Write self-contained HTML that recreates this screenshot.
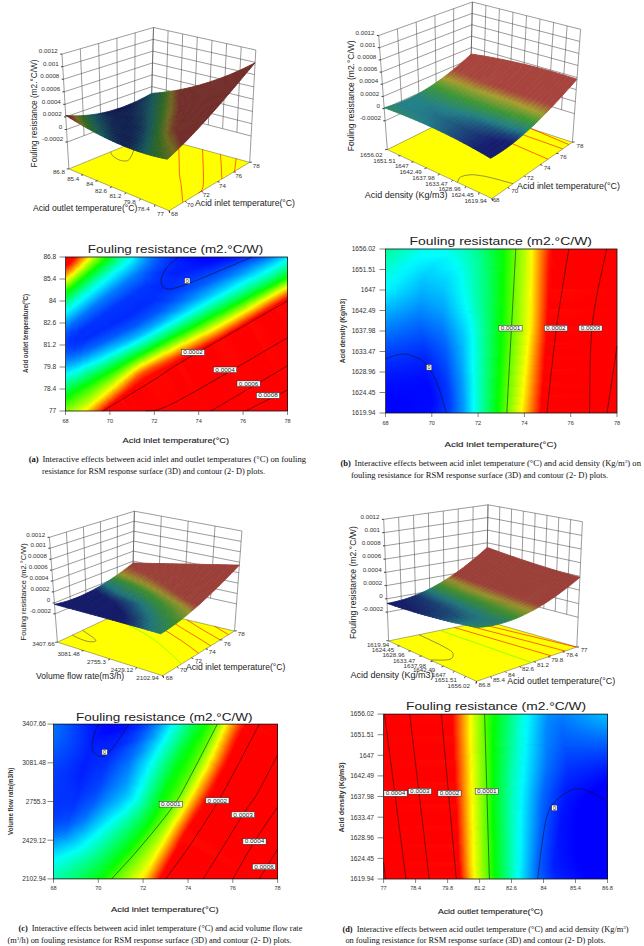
<!DOCTYPE html><html><head><meta charset="utf-8"><style>html,body{margin:0;padding:0;background:#fff;overflow:hidden;width:644px;height:946px;}svg{display:block}</style></head><body><svg width="644" height="946" viewBox="0 0 644 946"><defs><clipPath id="c1"><rect x="66" y="257" width="222" height="154"/></clipPath><linearGradient id="g2"><stop offset="0.000" stop-color="#00dbff"/><stop offset="0.308" stop-color="#00f2ff"/><stop offset="0.462" stop-color="#00fff1"/><stop offset="1.000" stop-color="#00ffa4"/></linearGradient><linearGradient id="g3"><stop offset="0.000" stop-color="#00c1ff"/><stop offset="0.190" stop-color="#00d3ff"/><stop offset="0.381" stop-color="#00fff4"/><stop offset="0.857" stop-color="#00ff6c"/><stop offset="1.000" stop-color="#00ff45"/></linearGradient><linearGradient id="g4"><stop offset="0.000" stop-color="#00a9ff"/><stop offset="0.179" stop-color="#00c4ff"/><stop offset="0.357" stop-color="#00fff8"/><stop offset="0.929" stop-color="#00ff00"/><stop offset="1.000" stop-color="#21ff00"/></linearGradient><linearGradient id="g5"><stop offset="0.000" stop-color="#0097ff"/><stop offset="0.114" stop-color="#00aaff"/><stop offset="0.314" stop-color="#00fffa"/><stop offset="0.629" stop-color="#00ff4d"/><stop offset="0.743" stop-color="#05ff00"/><stop offset="1.000" stop-color="#bbff00"/></linearGradient><linearGradient id="g6"><stop offset="0.000" stop-color="#0083ff"/><stop offset="0.095" stop-color="#0092ff"/><stop offset="0.310" stop-color="#00fffc"/><stop offset="0.571" stop-color="#00ff51"/><stop offset="0.667" stop-color="#01ff00"/><stop offset="0.905" stop-color="#f6ff00"/><stop offset="1.000" stop-color="#ffaf00"/></linearGradient><linearGradient id="g7"><stop offset="0.000" stop-color="#0072ff"/><stop offset="0.100" stop-color="#0087ff"/><stop offset="0.300" stop-color="#00fffc"/><stop offset="0.520" stop-color="#00ff53"/><stop offset="0.600" stop-color="#00ff00"/><stop offset="0.780" stop-color="#f4ff00"/><stop offset="0.840" stop-color="#ffb600"/><stop offset="1.000" stop-color="#ff1300"/></linearGradient><linearGradient id="g8"><stop offset="0.000" stop-color="#0064ff"/><stop offset="0.071" stop-color="#0073ff"/><stop offset="0.286" stop-color="#00fffc"/><stop offset="0.464" stop-color="#00ff66"/><stop offset="0.554" stop-color="#00ff00"/><stop offset="0.714" stop-color="#f6ff00"/><stop offset="0.875" stop-color="#ff1900"/><stop offset="0.911" stop-color="#ff0000"/><stop offset="1.000" stop-color="#ff0000"/></linearGradient><linearGradient id="g9"><stop offset="0.000" stop-color="#0055ff"/><stop offset="0.079" stop-color="#006bff"/><stop offset="0.286" stop-color="#00fffc"/><stop offset="0.444" stop-color="#00ff66"/><stop offset="0.524" stop-color="#01ff00"/><stop offset="0.667" stop-color="#f8ff00"/><stop offset="0.825" stop-color="#ff0000"/><stop offset="1.000" stop-color="#ff0000"/></linearGradient><linearGradient id="g10"><stop offset="0.000" stop-color="#0048ff"/><stop offset="0.070" stop-color="#0059ff"/><stop offset="0.282" stop-color="#00fffb"/><stop offset="0.423" stop-color="#00ff65"/><stop offset="0.493" stop-color="#03ff00"/><stop offset="0.620" stop-color="#f9ff00"/><stop offset="0.761" stop-color="#ff0100"/><stop offset="1.000" stop-color="#ff0000"/></linearGradient><linearGradient id="g11"><stop offset="0.000" stop-color="#003dff"/><stop offset="0.052" stop-color="#004aff"/><stop offset="0.273" stop-color="#00fffa"/><stop offset="0.403" stop-color="#00ff63"/><stop offset="0.468" stop-color="#04ff00"/><stop offset="0.584" stop-color="#f8ff00"/><stop offset="0.714" stop-color="#ff0300"/><stop offset="1.000" stop-color="#ff0000"/></linearGradient><linearGradient id="g12"><stop offset="0.000" stop-color="#0032ff"/><stop offset="0.059" stop-color="#0044ff"/><stop offset="0.247" stop-color="#00ecff"/><stop offset="0.282" stop-color="#00ffec"/><stop offset="0.400" stop-color="#00ff4f"/><stop offset="0.447" stop-color="#06ff00"/><stop offset="0.553" stop-color="#f8ff00"/><stop offset="0.671" stop-color="#ff0600"/><stop offset="1.000" stop-color="#ff0000"/></linearGradient><linearGradient id="g13"><stop offset="0.000" stop-color="#0029ff"/><stop offset="0.054" stop-color="#0037ff"/><stop offset="0.228" stop-color="#00d5ff"/><stop offset="0.272" stop-color="#00fff8"/><stop offset="0.380" stop-color="#00ff60"/><stop offset="0.435" stop-color="#08ff00"/><stop offset="0.533" stop-color="#f7ff00"/><stop offset="0.641" stop-color="#ff0800"/><stop offset="0.826" stop-color="#ff0000"/><stop offset="1.000" stop-color="#ff0000"/></linearGradient><linearGradient id="g14"><stop offset="0.000" stop-color="#0021ff"/><stop offset="0.051" stop-color="#0032ff"/><stop offset="0.214" stop-color="#00caff"/><stop offset="0.265" stop-color="#00fff7"/><stop offset="0.367" stop-color="#00ff5e"/><stop offset="0.418" stop-color="#09ff00"/><stop offset="0.510" stop-color="#f6ff00"/><stop offset="0.602" stop-color="#ff2100"/><stop offset="0.622" stop-color="#ff0000"/><stop offset="1.000" stop-color="#ff0000"/></linearGradient><linearGradient id="g15"><stop offset="0.000" stop-color="#001aff"/><stop offset="0.057" stop-color="#002fff"/><stop offset="0.208" stop-color="#00c0ff"/><stop offset="0.264" stop-color="#00fff6"/><stop offset="0.358" stop-color="#00ff5d"/><stop offset="0.396" stop-color="#00ff0c"/><stop offset="0.415" stop-color="#22ff00"/><stop offset="0.491" stop-color="#f5ff00"/><stop offset="0.538" stop-color="#ff8300"/><stop offset="0.585" stop-color="#ff0d00"/><stop offset="0.604" stop-color="#ff0000"/><stop offset="1.000" stop-color="#ff0000"/></linearGradient><linearGradient id="g16"><stop offset="0.000" stop-color="#0014ff"/><stop offset="0.053" stop-color="#0025ff"/><stop offset="0.195" stop-color="#00abff"/><stop offset="0.257" stop-color="#00fcff"/><stop offset="0.336" stop-color="#00ff7f"/><stop offset="0.389" stop-color="#00ff0a"/><stop offset="0.416" stop-color="#3cff00"/><stop offset="0.478" stop-color="#f4ff00"/><stop offset="0.504" stop-color="#ffb900"/><stop offset="0.566" stop-color="#ff0f00"/><stop offset="0.584" stop-color="#ff0000"/><stop offset="1.000" stop-color="#ff0000"/></linearGradient><linearGradient id="g17"><stop offset="0.000" stop-color="#000fff"/><stop offset="0.050" stop-color="#0022ff"/><stop offset="0.183" stop-color="#00a2ff"/><stop offset="0.250" stop-color="#00fdff"/><stop offset="0.333" stop-color="#00ff6c"/><stop offset="0.375" stop-color="#00ff09"/><stop offset="0.400" stop-color="#3dff00"/><stop offset="0.458" stop-color="#f3ff00"/><stop offset="0.483" stop-color="#ffbb00"/><stop offset="0.542" stop-color="#ff1100"/><stop offset="0.550" stop-color="#ff0000"/><stop offset="1.000" stop-color="#ff0000"/></linearGradient><linearGradient id="g18"><stop offset="0.000" stop-color="#000aff"/><stop offset="0.055" stop-color="#0020ff"/><stop offset="0.181" stop-color="#0099ff"/><stop offset="0.252" stop-color="#00fdff"/><stop offset="0.331" stop-color="#00ff6a"/><stop offset="0.370" stop-color="#00ff07"/><stop offset="0.409" stop-color="#6fff00"/><stop offset="0.449" stop-color="#f2ff00"/><stop offset="0.465" stop-color="#ffd700"/><stop offset="0.535" stop-color="#ff0000"/><stop offset="1.000" stop-color="#ff0000"/></linearGradient><linearGradient id="g19"><stop offset="0.000" stop-color="#0005ff"/><stop offset="0.052" stop-color="#0018ff"/><stop offset="0.172" stop-color="#0088ff"/><stop offset="0.254" stop-color="#00feff"/><stop offset="0.328" stop-color="#00ff69"/><stop offset="0.366" stop-color="#00ff06"/><stop offset="0.418" stop-color="#a3ff00"/><stop offset="0.440" stop-color="#f1ff00"/><stop offset="0.455" stop-color="#ffd900"/><stop offset="0.522" stop-color="#ff0000"/><stop offset="1.000" stop-color="#ff0000"/></linearGradient><linearGradient id="g20"><stop offset="0.000" stop-color="#0000ff"/><stop offset="0.057" stop-color="#001bff"/><stop offset="0.170" stop-color="#0089ff"/><stop offset="0.248" stop-color="#00ffff"/><stop offset="0.319" stop-color="#00ff67"/><stop offset="0.355" stop-color="#00ff04"/><stop offset="0.418" stop-color="#d6ff00"/><stop offset="0.433" stop-color="#fff400"/><stop offset="0.504" stop-color="#ff0100"/><stop offset="1.000" stop-color="#ff0000"/></linearGradient><linearGradient id="g21"><stop offset="0.000" stop-color="#0000ff"/><stop offset="0.047" stop-color="#000eff"/><stop offset="0.162" stop-color="#0078ff"/><stop offset="0.250" stop-color="#00ffff"/><stop offset="0.318" stop-color="#00ff66"/><stop offset="0.351" stop-color="#00ff03"/><stop offset="0.419" stop-color="#efff00"/><stop offset="0.426" stop-color="#fff500"/><stop offset="0.493" stop-color="#ff0300"/><stop offset="1.000" stop-color="#ff0000"/></linearGradient><linearGradient id="g22"><stop offset="0.000" stop-color="#0000ff"/><stop offset="0.051" stop-color="#000cff"/><stop offset="0.167" stop-color="#0079ff"/><stop offset="0.250" stop-color="#00fffe"/><stop offset="0.314" stop-color="#00ff64"/><stop offset="0.346" stop-color="#00ff01"/><stop offset="0.417" stop-color="#fff700"/><stop offset="0.481" stop-color="#ff0500"/><stop offset="1.000" stop-color="#ff0000"/></linearGradient><linearGradient id="g23"><stop offset="0.000" stop-color="#0000ff"/><stop offset="0.049" stop-color="#000bff"/><stop offset="0.160" stop-color="#0072ff"/><stop offset="0.241" stop-color="#00f4ff"/><stop offset="0.259" stop-color="#00ffe3"/><stop offset="0.321" stop-color="#00ff3d"/><stop offset="0.340" stop-color="#00ff00"/><stop offset="0.407" stop-color="#fff800"/><stop offset="0.469" stop-color="#ff0700"/><stop offset="1.000" stop-color="#ff0000"/></linearGradient><linearGradient id="g24"><stop offset="0.000" stop-color="#0000ff"/><stop offset="0.053" stop-color="#000aff"/><stop offset="0.160" stop-color="#006bff"/><stop offset="0.237" stop-color="#00e8ff"/><stop offset="0.249" stop-color="#00fffd"/><stop offset="0.314" stop-color="#00ff4e"/><stop offset="0.337" stop-color="#02ff00"/><stop offset="0.402" stop-color="#fff900"/><stop offset="0.462" stop-color="#ff0900"/><stop offset="0.503" stop-color="#ff0000"/><stop offset="1.000" stop-color="#ff0000"/></linearGradient><linearGradient id="g25"><stop offset="0.000" stop-color="#0000ff"/><stop offset="0.056" stop-color="#000aff"/><stop offset="0.158" stop-color="#0065ff"/><stop offset="0.232" stop-color="#00dcff"/><stop offset="0.249" stop-color="#00fffc"/><stop offset="0.311" stop-color="#00ff4d"/><stop offset="0.333" stop-color="#03ff00"/><stop offset="0.395" stop-color="#fffb00"/><stop offset="0.452" stop-color="#ff0b00"/><stop offset="0.469" stop-color="#ff0000"/><stop offset="1.000" stop-color="#ff0000"/></linearGradient><linearGradient id="g26"><stop offset="0.000" stop-color="#0000ff"/><stop offset="0.061" stop-color="#000eff"/><stop offset="0.160" stop-color="#0066ff"/><stop offset="0.232" stop-color="#00ddff"/><stop offset="0.249" stop-color="#00fffc"/><stop offset="0.309" stop-color="#00ff4b"/><stop offset="0.331" stop-color="#05ff00"/><stop offset="0.392" stop-color="#fffc00"/><stop offset="0.448" stop-color="#ff0d00"/><stop offset="0.459" stop-color="#ff0000"/><stop offset="1.000" stop-color="#ff0000"/></linearGradient><linearGradient id="g27"><stop offset="0.000" stop-color="#0000ff"/><stop offset="0.060" stop-color="#000cff"/><stop offset="0.164" stop-color="#0061ff"/><stop offset="0.235" stop-color="#00d2ff"/><stop offset="0.257" stop-color="#00fffb"/><stop offset="0.317" stop-color="#00ff49"/><stop offset="0.339" stop-color="#06ff00"/><stop offset="0.399" stop-color="#fffd00"/><stop offset="0.459" stop-color="#ff0000"/><stop offset="1.000" stop-color="#ff0000"/></linearGradient><linearGradient id="g28"><stop offset="0.000" stop-color="#0000ff"/><stop offset="0.071" stop-color="#0010ff"/><stop offset="0.175" stop-color="#0062ff"/><stop offset="0.240" stop-color="#00c7ff"/><stop offset="0.268" stop-color="#00fffa"/><stop offset="0.328" stop-color="#00ff48"/><stop offset="0.350" stop-color="#07ff00"/><stop offset="0.410" stop-color="#fffe00"/><stop offset="0.470" stop-color="#ff0000"/><stop offset="1.000" stop-color="#ff0000"/></linearGradient><linearGradient id="g29"><stop offset="0.000" stop-color="#0000ff"/><stop offset="0.087" stop-color="#001aff"/><stop offset="0.186" stop-color="#0069ff"/><stop offset="0.251" stop-color="#00d2ff"/><stop offset="0.273" stop-color="#00fffa"/><stop offset="0.333" stop-color="#00ff47"/><stop offset="0.355" stop-color="#09ff00"/><stop offset="0.415" stop-color="#feff00"/><stop offset="0.475" stop-color="#ff0000"/><stop offset="1.000" stop-color="#ff0000"/></linearGradient><linearGradient id="g30"><stop offset="0.000" stop-color="#0005ff"/><stop offset="0.087" stop-color="#0018ff"/><stop offset="0.186" stop-color="#005dff"/><stop offset="0.251" stop-color="#00bcff"/><stop offset="0.284" stop-color="#00fffa"/><stop offset="0.344" stop-color="#00ff45"/><stop offset="0.366" stop-color="#0aff00"/><stop offset="0.426" stop-color="#fdff00"/><stop offset="0.486" stop-color="#ff0000"/><stop offset="1.000" stop-color="#ff0000"/></linearGradient><linearGradient id="g31"><stop offset="0.000" stop-color="#000bff"/><stop offset="0.093" stop-color="#0019ff"/><stop offset="0.197" stop-color="#005dff"/><stop offset="0.262" stop-color="#00bcff"/><stop offset="0.295" stop-color="#00fffa"/><stop offset="0.355" stop-color="#00ff44"/><stop offset="0.372" stop-color="#00ff09"/><stop offset="0.393" stop-color="#4aff00"/><stop offset="0.437" stop-color="#fdff00"/><stop offset="0.497" stop-color="#ff0100"/><stop offset="1.000" stop-color="#ff0000"/></linearGradient><linearGradient id="g32"><stop offset="0.000" stop-color="#0010ff"/><stop offset="0.098" stop-color="#001cff"/><stop offset="0.197" stop-color="#0058ff"/><stop offset="0.262" stop-color="#00b2ff"/><stop offset="0.301" stop-color="#00fffa"/><stop offset="0.361" stop-color="#00ff43"/><stop offset="0.377" stop-color="#00ff08"/><stop offset="0.415" stop-color="#8cff00"/><stop offset="0.443" stop-color="#fcff00"/><stop offset="0.503" stop-color="#ff0300"/><stop offset="1.000" stop-color="#ff0000"/></linearGradient><linearGradient id="g33"><stop offset="0.000" stop-color="#0017ff"/><stop offset="0.104" stop-color="#001cff"/><stop offset="0.208" stop-color="#0057ff"/><stop offset="0.273" stop-color="#00b1ff"/><stop offset="0.311" stop-color="#00fffa"/><stop offset="0.372" stop-color="#00ff42"/><stop offset="0.388" stop-color="#00ff07"/><stop offset="0.443" stop-color="#cfff00"/><stop offset="0.454" stop-color="#fdff00"/><stop offset="0.514" stop-color="#ff0400"/><stop offset="1.000" stop-color="#ff0000"/></linearGradient><linearGradient id="g34"><stop offset="0.000" stop-color="#0020ff"/><stop offset="0.109" stop-color="#001cff"/><stop offset="0.213" stop-color="#0052ff"/><stop offset="0.279" stop-color="#00a7ff"/><stop offset="0.322" stop-color="#00fffa"/><stop offset="0.383" stop-color="#00ff41"/><stop offset="0.399" stop-color="#00ff06"/><stop offset="0.464" stop-color="#feff00"/><stop offset="0.525" stop-color="#ff0500"/><stop offset="1.000" stop-color="#ff0000"/></linearGradient><linearGradient id="g35"><stop offset="0.000" stop-color="#0028ff"/><stop offset="0.109" stop-color="#001dff"/><stop offset="0.213" stop-color="#004cff"/><stop offset="0.279" stop-color="#009cff"/><stop offset="0.328" stop-color="#00fffa"/><stop offset="0.388" stop-color="#00ff40"/><stop offset="0.404" stop-color="#00ff05"/><stop offset="0.470" stop-color="#ffff00"/><stop offset="0.530" stop-color="#ff0500"/><stop offset="1.000" stop-color="#ff0000"/></linearGradient><linearGradient id="g36"><stop offset="0.000" stop-color="#0033ff"/><stop offset="0.115" stop-color="#001eff"/><stop offset="0.213" stop-color="#0043ff"/><stop offset="0.284" stop-color="#0092ff"/><stop offset="0.339" stop-color="#00fffb"/><stop offset="0.399" stop-color="#00ff3f"/><stop offset="0.415" stop-color="#00ff04"/><stop offset="0.481" stop-color="#fffc00"/><stop offset="0.541" stop-color="#ff0400"/><stop offset="1.000" stop-color="#ff0000"/></linearGradient><linearGradient id="g37"><stop offset="0.000" stop-color="#003fff"/><stop offset="0.120" stop-color="#001fff"/><stop offset="0.219" stop-color="#003eff"/><stop offset="0.290" stop-color="#0089ff"/><stop offset="0.350" stop-color="#00fffb"/><stop offset="0.410" stop-color="#00ff3f"/><stop offset="0.426" stop-color="#00ff02"/><stop offset="0.492" stop-color="#fffa00"/><stop offset="0.552" stop-color="#ff0300"/><stop offset="1.000" stop-color="#ff0000"/></linearGradient><linearGradient id="g38"><stop offset="0.000" stop-color="#004aff"/><stop offset="0.115" stop-color="#0021ff"/><stop offset="0.213" stop-color="#0037ff"/><stop offset="0.284" stop-color="#0078ff"/><stop offset="0.344" stop-color="#00e7ff"/><stop offset="0.355" stop-color="#00fffc"/><stop offset="0.415" stop-color="#00ff3e"/><stop offset="0.432" stop-color="#00ff01"/><stop offset="0.497" stop-color="#fff700"/><stop offset="0.557" stop-color="#ff0100"/><stop offset="1.000" stop-color="#ff0000"/></linearGradient><linearGradient id="g39"><stop offset="0.000" stop-color="#0059ff"/><stop offset="0.120" stop-color="#0024ff"/><stop offset="0.219" stop-color="#0034ff"/><stop offset="0.290" stop-color="#006fff"/><stop offset="0.350" stop-color="#00d9ff"/><stop offset="0.366" stop-color="#00fffc"/><stop offset="0.426" stop-color="#00ff3d"/><stop offset="0.443" stop-color="#00ff00"/><stop offset="0.503" stop-color="#f3ff00"/><stop offset="0.519" stop-color="#ffc500"/><stop offset="0.568" stop-color="#ff0000"/><stop offset="1.000" stop-color="#ff0000"/></linearGradient><linearGradient id="g40"><stop offset="0.000" stop-color="#0068ff"/><stop offset="0.115" stop-color="#0029ff"/><stop offset="0.214" stop-color="#002eff"/><stop offset="0.291" stop-color="#0067ff"/><stop offset="0.352" stop-color="#00ccff"/><stop offset="0.374" stop-color="#00fffd"/><stop offset="0.434" stop-color="#00ff3c"/><stop offset="0.451" stop-color="#02ff00"/><stop offset="0.511" stop-color="#f7ff00"/><stop offset="0.577" stop-color="#ff0000"/><stop offset="1.000" stop-color="#ff0000"/></linearGradient><linearGradient id="g41"><stop offset="0.000" stop-color="#007bff"/><stop offset="0.120" stop-color="#002dff"/><stop offset="0.219" stop-color="#002cff"/><stop offset="0.295" stop-color="#0060ff"/><stop offset="0.355" stop-color="#00bfff"/><stop offset="0.383" stop-color="#00fffd"/><stop offset="0.443" stop-color="#00ff3b"/><stop offset="0.459" stop-color="#03ff00"/><stop offset="0.519" stop-color="#faff00"/><stop offset="0.585" stop-color="#ff0000"/><stop offset="1.000" stop-color="#ff0000"/></linearGradient><linearGradient id="g42"><stop offset="0.000" stop-color="#0091ff"/><stop offset="0.120" stop-color="#0034ff"/><stop offset="0.213" stop-color="#0028ff"/><stop offset="0.290" stop-color="#004eff"/><stop offset="0.350" stop-color="#009eff"/><stop offset="0.393" stop-color="#00fffe"/><stop offset="0.454" stop-color="#00ff3a"/><stop offset="0.470" stop-color="#05ff00"/><stop offset="0.530" stop-color="#fdff00"/><stop offset="0.590" stop-color="#ff0f00"/><stop offset="0.601" stop-color="#ff0000"/><stop offset="1.000" stop-color="#ff0000"/></linearGradient><linearGradient id="g43"><stop offset="0.000" stop-color="#00a6ff"/><stop offset="0.115" stop-color="#003eff"/><stop offset="0.209" stop-color="#0027ff"/><stop offset="0.291" stop-color="#0048ff"/><stop offset="0.352" stop-color="#0093ff"/><stop offset="0.401" stop-color="#00fffe"/><stop offset="0.462" stop-color="#00ff39"/><stop offset="0.478" stop-color="#06ff00"/><stop offset="0.538" stop-color="#fffe00"/><stop offset="0.593" stop-color="#ff2000"/><stop offset="0.604" stop-color="#ff0000"/><stop offset="1.000" stop-color="#ff0000"/></linearGradient><linearGradient id="g44"><stop offset="0.000" stop-color="#00c1ff"/><stop offset="0.120" stop-color="#0045ff"/><stop offset="0.213" stop-color="#0027ff"/><stop offset="0.295" stop-color="#0043ff"/><stop offset="0.355" stop-color="#0089ff"/><stop offset="0.410" stop-color="#00ffff"/><stop offset="0.470" stop-color="#00ff38"/><stop offset="0.486" stop-color="#07ff00"/><stop offset="0.546" stop-color="#fffa00"/><stop offset="0.601" stop-color="#ff1e00"/><stop offset="0.612" stop-color="#ff0000"/><stop offset="1.000" stop-color="#ff0000"/></linearGradient><linearGradient id="g45"><stop offset="0.000" stop-color="#00ddff"/><stop offset="0.038" stop-color="#00b2ff"/><stop offset="0.120" stop-color="#0052ff"/><stop offset="0.208" stop-color="#0028ff"/><stop offset="0.295" stop-color="#003aff"/><stop offset="0.361" stop-color="#007fff"/><stop offset="0.415" stop-color="#00f0ff"/><stop offset="0.426" stop-color="#00fff0"/><stop offset="0.486" stop-color="#00ff22"/><stop offset="0.497" stop-color="#09ff00"/><stop offset="0.557" stop-color="#fff700"/><stop offset="0.607" stop-color="#ff2e00"/><stop offset="0.623" stop-color="#ff0000"/><stop offset="1.000" stop-color="#ff0000"/></linearGradient><linearGradient id="g46"><stop offset="0.000" stop-color="#00f6ff"/><stop offset="0.033" stop-color="#00ceff"/><stop offset="0.115" stop-color="#0060ff"/><stop offset="0.203" stop-color="#002bff"/><stop offset="0.291" stop-color="#0033ff"/><stop offset="0.357" stop-color="#006eff"/><stop offset="0.412" stop-color="#00d4ff"/><stop offset="0.429" stop-color="#00feff"/><stop offset="0.484" stop-color="#00ff4b"/><stop offset="0.505" stop-color="#0aff00"/><stop offset="0.560" stop-color="#f2ff00"/><stop offset="0.571" stop-color="#ffdc00"/><stop offset="0.615" stop-color="#ff2c00"/><stop offset="0.632" stop-color="#ff0000"/><stop offset="1.000" stop-color="#ff0000"/></linearGradient><linearGradient id="g47"><stop offset="0.000" stop-color="#00ffea"/><stop offset="0.027" stop-color="#00f6ff"/><stop offset="0.109" stop-color="#0077ff"/><stop offset="0.191" stop-color="#0034ff"/><stop offset="0.279" stop-color="#002bff"/><stop offset="0.350" stop-color="#0058ff"/><stop offset="0.404" stop-color="#00aeff"/><stop offset="0.437" stop-color="#00feff"/><stop offset="0.492" stop-color="#00ff4b"/><stop offset="0.508" stop-color="#00ff0a"/><stop offset="0.525" stop-color="#39ff00"/><stop offset="0.568" stop-color="#f6ff00"/><stop offset="0.601" stop-color="#ff7a00"/><stop offset="0.634" stop-color="#ff0900"/><stop offset="0.694" stop-color="#ff0000"/><stop offset="1.000" stop-color="#ff0000"/></linearGradient><linearGradient id="g48"><stop offset="0.000" stop-color="#00ffcb"/><stop offset="0.027" stop-color="#00ffe9"/><stop offset="0.044" stop-color="#00f6ff"/><stop offset="0.126" stop-color="#0075ff"/><stop offset="0.208" stop-color="#0034ff"/><stop offset="0.295" stop-color="#002cff"/><stop offset="0.361" stop-color="#0057ff"/><stop offset="0.415" stop-color="#00adff"/><stop offset="0.448" stop-color="#00fdff"/><stop offset="0.497" stop-color="#00ff5e"/><stop offset="0.519" stop-color="#00ff09"/><stop offset="0.546" stop-color="#69ff00"/><stop offset="0.579" stop-color="#f9ff00"/><stop offset="0.634" stop-color="#ff2800"/><stop offset="0.650" stop-color="#ff0000"/><stop offset="1.000" stop-color="#ff0000"/></linearGradient><linearGradient id="g49"><stop offset="0.000" stop-color="#00ffaf"/><stop offset="0.022" stop-color="#00ffc7"/><stop offset="0.049" stop-color="#00feff"/><stop offset="0.132" stop-color="#0079ff"/><stop offset="0.214" stop-color="#0035ff"/><stop offset="0.302" stop-color="#002bff"/><stop offset="0.368" stop-color="#0056ff"/><stop offset="0.423" stop-color="#00acff"/><stop offset="0.456" stop-color="#00fcff"/><stop offset="0.505" stop-color="#00ff5e"/><stop offset="0.527" stop-color="#00ff08"/><stop offset="0.571" stop-color="#b3ff00"/><stop offset="0.588" stop-color="#fcff00"/><stop offset="0.637" stop-color="#ff3700"/><stop offset="0.659" stop-color="#ff0000"/><stop offset="1.000" stop-color="#ff0000"/></linearGradient><linearGradient id="g50"><stop offset="0.000" stop-color="#00ff8b"/><stop offset="0.027" stop-color="#00ffb0"/><stop offset="0.066" stop-color="#00fbff"/><stop offset="0.142" stop-color="#007dff"/><stop offset="0.224" stop-color="#0036ff"/><stop offset="0.311" stop-color="#002bff"/><stop offset="0.377" stop-color="#0055ff"/><stop offset="0.432" stop-color="#00abff"/><stop offset="0.464" stop-color="#00fcff"/><stop offset="0.514" stop-color="#00ff5d"/><stop offset="0.536" stop-color="#00ff07"/><stop offset="0.596" stop-color="#fffe00"/><stop offset="0.639" stop-color="#ff4700"/><stop offset="0.661" stop-color="#ff0600"/><stop offset="1.000" stop-color="#ff0000"/></linearGradient><linearGradient id="g51"><stop offset="0.000" stop-color="#00ff65"/><stop offset="0.027" stop-color="#00ff8a"/><stop offset="0.077" stop-color="#00fffc"/><stop offset="0.158" stop-color="#0079ff"/><stop offset="0.240" stop-color="#0034ff"/><stop offset="0.328" stop-color="#002cff"/><stop offset="0.393" stop-color="#005aff"/><stop offset="0.448" stop-color="#00b6ff"/><stop offset="0.475" stop-color="#00fbff"/><stop offset="0.519" stop-color="#00ff71"/><stop offset="0.546" stop-color="#00ff05"/><stop offset="0.607" stop-color="#fffb00"/><stop offset="0.650" stop-color="#ff4400"/><stop offset="0.672" stop-color="#ff0500"/><stop offset="1.000" stop-color="#ff0000"/></linearGradient><linearGradient id="g52"><stop offset="0.000" stop-color="#00ff43"/><stop offset="0.022" stop-color="#00ff61"/><stop offset="0.087" stop-color="#00fdff"/><stop offset="0.158" stop-color="#0083ff"/><stop offset="0.235" stop-color="#003bff"/><stop offset="0.322" stop-color="#0029ff"/><stop offset="0.388" stop-color="#004dff"/><stop offset="0.443" stop-color="#009eff"/><stop offset="0.481" stop-color="#00fbff"/><stop offset="0.525" stop-color="#00ff71"/><stop offset="0.552" stop-color="#00ff04"/><stop offset="0.612" stop-color="#fff800"/><stop offset="0.656" stop-color="#ff4100"/><stop offset="0.683" stop-color="#ff0000"/><stop offset="1.000" stop-color="#ff0000"/></linearGradient><linearGradient id="g53"><stop offset="0.000" stop-color="#00ff18"/><stop offset="0.022" stop-color="#00ff34"/><stop offset="0.098" stop-color="#00fffa"/><stop offset="0.180" stop-color="#0078ff"/><stop offset="0.257" stop-color="#0036ff"/><stop offset="0.339" stop-color="#0029ff"/><stop offset="0.404" stop-color="#0052ff"/><stop offset="0.459" stop-color="#00a9ff"/><stop offset="0.492" stop-color="#00faff"/><stop offset="0.536" stop-color="#00ff70"/><stop offset="0.563" stop-color="#00ff02"/><stop offset="0.617" stop-color="#f1ff00"/><stop offset="0.628" stop-color="#ffdb00"/><stop offset="0.667" stop-color="#ff3e00"/><stop offset="0.694" stop-color="#ff0000"/><stop offset="1.000" stop-color="#ff0000"/></linearGradient><linearGradient id="g54"><stop offset="0.000" stop-color="#15ff00"/><stop offset="0.022" stop-color="#00ff06"/><stop offset="0.109" stop-color="#00fff4"/><stop offset="0.126" stop-color="#00e7ff"/><stop offset="0.197" stop-color="#0074ff"/><stop offset="0.273" stop-color="#0034ff"/><stop offset="0.355" stop-color="#002aff"/><stop offset="0.421" stop-color="#0057ff"/><stop offset="0.475" stop-color="#00b4ff"/><stop offset="0.503" stop-color="#00faff"/><stop offset="0.541" stop-color="#00ff85"/><stop offset="0.574" stop-color="#00ff01"/><stop offset="0.628" stop-color="#f4ff00"/><stop offset="0.645" stop-color="#ffbe00"/><stop offset="0.678" stop-color="#ff3c00"/><stop offset="0.705" stop-color="#ff0000"/><stop offset="1.000" stop-color="#ff0000"/></linearGradient><linearGradient id="g55"><stop offset="0.000" stop-color="#3dff00"/><stop offset="0.022" stop-color="#1bff00"/><stop offset="0.033" stop-color="#00ff07"/><stop offset="0.109" stop-color="#00ffe0"/><stop offset="0.126" stop-color="#00f8ff"/><stop offset="0.197" stop-color="#007dff"/><stop offset="0.273" stop-color="#0037ff"/><stop offset="0.355" stop-color="#0029ff"/><stop offset="0.421" stop-color="#0051ff"/><stop offset="0.475" stop-color="#00a7ff"/><stop offset="0.508" stop-color="#00f9ff"/><stop offset="0.546" stop-color="#00ff84"/><stop offset="0.579" stop-color="#01ff00"/><stop offset="0.634" stop-color="#f8ff00"/><stop offset="0.683" stop-color="#ff3a00"/><stop offset="0.710" stop-color="#ff0000"/><stop offset="1.000" stop-color="#ff0000"/></linearGradient><linearGradient id="g56"><stop offset="0.000" stop-color="#6fff00"/><stop offset="0.022" stop-color="#4eff00"/><stop offset="0.044" stop-color="#06ff00"/><stop offset="0.131" stop-color="#00fff3"/><stop offset="0.148" stop-color="#00e6ff"/><stop offset="0.219" stop-color="#0072ff"/><stop offset="0.295" stop-color="#0032ff"/><stop offset="0.377" stop-color="#002bff"/><stop offset="0.443" stop-color="#005dff"/><stop offset="0.497" stop-color="#00c0ff"/><stop offset="0.519" stop-color="#00faff"/><stop offset="0.557" stop-color="#00ff83"/><stop offset="0.590" stop-color="#02ff00"/><stop offset="0.645" stop-color="#fbff00"/><stop offset="0.689" stop-color="#ff4800"/><stop offset="0.716" stop-color="#ff0500"/><stop offset="1.000" stop-color="#ff0000"/></linearGradient><linearGradient id="g57"><stop offset="0.000" stop-color="#a5ff00"/><stop offset="0.022" stop-color="#85ff00"/><stop offset="0.060" stop-color="#02ff00"/><stop offset="0.131" stop-color="#00ffd2"/><stop offset="0.153" stop-color="#00f8ff"/><stop offset="0.224" stop-color="#007cff"/><stop offset="0.301" stop-color="#0035ff"/><stop offset="0.383" stop-color="#0029ff"/><stop offset="0.448" stop-color="#0056ff"/><stop offset="0.503" stop-color="#00b3ff"/><stop offset="0.530" stop-color="#00faff"/><stop offset="0.568" stop-color="#00ff82"/><stop offset="0.601" stop-color="#04ff00"/><stop offset="0.656" stop-color="#ffff00"/><stop offset="0.694" stop-color="#ff5800"/><stop offset="0.727" stop-color="#ff0500"/><stop offset="1.000" stop-color="#ff0000"/></linearGradient><linearGradient id="g58"><stop offset="0.000" stop-color="#d6ff00"/><stop offset="0.022" stop-color="#adff00"/><stop offset="0.071" stop-color="#00ff05"/><stop offset="0.137" stop-color="#00ffcb"/><stop offset="0.158" stop-color="#00feff"/><stop offset="0.230" stop-color="#007eff"/><stop offset="0.306" stop-color="#0036ff"/><stop offset="0.388" stop-color="#0029ff"/><stop offset="0.454" stop-color="#0057ff"/><stop offset="0.508" stop-color="#00b4ff"/><stop offset="0.536" stop-color="#00fbff"/><stop offset="0.579" stop-color="#00ff6c"/><stop offset="0.607" stop-color="#06ff00"/><stop offset="0.661" stop-color="#fffc00"/><stop offset="0.699" stop-color="#ff5500"/><stop offset="0.732" stop-color="#ff0500"/><stop offset="1.000" stop-color="#ff0000"/></linearGradient><linearGradient id="g59"><stop offset="0.000" stop-color="#ffed00"/><stop offset="0.016" stop-color="#f9ff00"/><stop offset="0.082" stop-color="#07ff00"/><stop offset="0.158" stop-color="#00ffe0"/><stop offset="0.175" stop-color="#00f8ff"/><stop offset="0.246" stop-color="#007aff"/><stop offset="0.322" stop-color="#0034ff"/><stop offset="0.399" stop-color="#0029ff"/><stop offset="0.464" stop-color="#0057ff"/><stop offset="0.519" stop-color="#00b5ff"/><stop offset="0.546" stop-color="#00fcff"/><stop offset="0.590" stop-color="#00ff6a"/><stop offset="0.617" stop-color="#08ff00"/><stop offset="0.672" stop-color="#fff900"/><stop offset="0.710" stop-color="#ff5200"/><stop offset="0.743" stop-color="#ff0500"/><stop offset="1.000" stop-color="#ff0000"/></linearGradient><linearGradient id="g60"><stop offset="0.000" stop-color="#ffb100"/><stop offset="0.022" stop-color="#ffd400"/><stop offset="0.033" stop-color="#fffd00"/><stop offset="0.098" stop-color="#00ff00"/><stop offset="0.158" stop-color="#00ffbd"/><stop offset="0.186" stop-color="#00feff"/><stop offset="0.257" stop-color="#007dff"/><stop offset="0.328" stop-color="#0038ff"/><stop offset="0.404" stop-color="#0028ff"/><stop offset="0.470" stop-color="#0052ff"/><stop offset="0.525" stop-color="#00abff"/><stop offset="0.557" stop-color="#00feff"/><stop offset="0.607" stop-color="#00ff53"/><stop offset="0.628" stop-color="#09ff00"/><stop offset="0.683" stop-color="#fff600"/><stop offset="0.721" stop-color="#ff5000"/><stop offset="0.754" stop-color="#ff0500"/><stop offset="1.000" stop-color="#ff0000"/></linearGradient><linearGradient id="g61"><stop offset="0.000" stop-color="#ff7c00"/><stop offset="0.022" stop-color="#ffa700"/><stop offset="0.044" stop-color="#fffd00"/><stop offset="0.104" stop-color="#0cff00"/><stop offset="0.120" stop-color="#00ff30"/><stop offset="0.180" stop-color="#00ffe0"/><stop offset="0.197" stop-color="#00f7ff"/><stop offset="0.268" stop-color="#0079ff"/><stop offset="0.339" stop-color="#0035ff"/><stop offset="0.415" stop-color="#0029ff"/><stop offset="0.475" stop-color="#0053ff"/><stop offset="0.530" stop-color="#00adff"/><stop offset="0.563" stop-color="#00fffd"/><stop offset="0.617" stop-color="#00ff3b"/><stop offset="0.634" stop-color="#0bff00"/><stop offset="0.683" stop-color="#efff00"/><stop offset="0.689" stop-color="#fff500"/><stop offset="0.727" stop-color="#ff4f00"/><stop offset="0.760" stop-color="#ff0600"/><stop offset="1.000" stop-color="#ff0000"/></linearGradient><linearGradient id="g62"><stop offset="0.000" stop-color="#ff3f00"/><stop offset="0.022" stop-color="#ff6500"/><stop offset="0.060" stop-color="#fffe00"/><stop offset="0.120" stop-color="#03ff00"/><stop offset="0.180" stop-color="#00ffbd"/><stop offset="0.208" stop-color="#00feff"/><stop offset="0.279" stop-color="#007cff"/><stop offset="0.350" stop-color="#0036ff"/><stop offset="0.426" stop-color="#002aff"/><stop offset="0.486" stop-color="#0054ff"/><stop offset="0.541" stop-color="#00b0ff"/><stop offset="0.574" stop-color="#00fffa"/><stop offset="0.628" stop-color="#00ff39"/><stop offset="0.645" stop-color="#0bff00"/><stop offset="0.694" stop-color="#eeff00"/><stop offset="0.699" stop-color="#fff600"/><stop offset="0.738" stop-color="#ff4f00"/><stop offset="0.770" stop-color="#ff0700"/><stop offset="1.000" stop-color="#ff0000"/></linearGradient><linearGradient id="g63"><stop offset="0.000" stop-color="#ff0500"/><stop offset="0.022" stop-color="#ff2500"/><stop offset="0.077" stop-color="#fdff00"/><stop offset="0.131" stop-color="#10ff00"/><stop offset="0.137" stop-color="#00ff05"/><stop offset="0.191" stop-color="#00ffb5"/><stop offset="0.224" stop-color="#00f7ff"/><stop offset="0.295" stop-color="#0077ff"/><stop offset="0.366" stop-color="#0034ff"/><stop offset="0.437" stop-color="#002aff"/><stop offset="0.497" stop-color="#0056ff"/><stop offset="0.552" stop-color="#00b2ff"/><stop offset="0.585" stop-color="#00fff7"/><stop offset="0.639" stop-color="#00ff38"/><stop offset="0.656" stop-color="#0cff00"/><stop offset="0.710" stop-color="#fff900"/><stop offset="0.749" stop-color="#ff5200"/><stop offset="0.781" stop-color="#ff0800"/><stop offset="0.934" stop-color="#ff0000"/><stop offset="1.000" stop-color="#ff0000"/></linearGradient><linearGradient id="g64"><stop offset="0.000" stop-color="#ff0000"/><stop offset="0.022" stop-color="#ff0000"/><stop offset="0.055" stop-color="#ff7300"/><stop offset="0.087" stop-color="#f8ff00"/><stop offset="0.142" stop-color="#08ff00"/><stop offset="0.208" stop-color="#00ffcb"/><stop offset="0.230" stop-color="#00feff"/><stop offset="0.301" stop-color="#007aff"/><stop offset="0.372" stop-color="#0034ff"/><stop offset="0.443" stop-color="#002aff"/><stop offset="0.503" stop-color="#0057ff"/><stop offset="0.557" stop-color="#00b5ff"/><stop offset="0.585" stop-color="#00faff"/><stop offset="0.628" stop-color="#00ff76"/><stop offset="0.656" stop-color="#00ff0b"/><stop offset="0.667" stop-color="#22ff00"/><stop offset="0.716" stop-color="#ffff00"/><stop offset="0.754" stop-color="#ff5800"/><stop offset="0.787" stop-color="#ff0b00"/><stop offset="0.820" stop-color="#ff0000"/><stop offset="1.000" stop-color="#ff0000"/></linearGradient><linearGradient id="g65"><stop offset="0.000" stop-color="#ff0000"/><stop offset="0.044" stop-color="#ff0900"/><stop offset="0.087" stop-color="#ffbf00"/><stop offset="0.098" stop-color="#fff200"/><stop offset="0.109" stop-color="#d8ff00"/><stop offset="0.158" stop-color="#00ff01"/><stop offset="0.213" stop-color="#00ffb4"/><stop offset="0.246" stop-color="#00f8ff"/><stop offset="0.317" stop-color="#0076ff"/><stop offset="0.388" stop-color="#0032ff"/><stop offset="0.459" stop-color="#002dff"/><stop offset="0.519" stop-color="#0060ff"/><stop offset="0.574" stop-color="#00c5ff"/><stop offset="0.596" stop-color="#00fdff"/><stop offset="0.650" stop-color="#00ff4c"/><stop offset="0.672" stop-color="#0aff00"/><stop offset="0.727" stop-color="#f6ff00"/><stop offset="0.770" stop-color="#ff4f00"/><stop offset="0.803" stop-color="#ff0400"/><stop offset="1.000" stop-color="#ff0000"/></linearGradient><linearGradient id="g66"><stop offset="0.000" stop-color="#ff0000"/><stop offset="0.049" stop-color="#ff0000"/><stop offset="0.066" stop-color="#ff3200"/><stop offset="0.110" stop-color="#fff900"/><stop offset="0.165" stop-color="#0cff00"/><stop offset="0.176" stop-color="#00ff1e"/><stop offset="0.231" stop-color="#00ffc9"/><stop offset="0.253" stop-color="#00ffff"/><stop offset="0.324" stop-color="#0079ff"/><stop offset="0.396" stop-color="#0033ff"/><stop offset="0.462" stop-color="#002bff"/><stop offset="0.522" stop-color="#005bff"/><stop offset="0.577" stop-color="#00bbff"/><stop offset="0.604" stop-color="#00fffe"/><stop offset="0.665" stop-color="#00ff36"/><stop offset="0.681" stop-color="#09ff00"/><stop offset="0.742" stop-color="#fffa00"/><stop offset="0.786" stop-color="#ff4800"/><stop offset="0.819" stop-color="#ff0000"/><stop offset="1.000" stop-color="#ff0000"/></linearGradient><linearGradient id="g67"><stop offset="0.000" stop-color="#ff0000"/><stop offset="0.055" stop-color="#ff0000"/><stop offset="0.088" stop-color="#ff8000"/><stop offset="0.116" stop-color="#fbff00"/><stop offset="0.171" stop-color="#03ff00"/><stop offset="0.232" stop-color="#00ffc1"/><stop offset="0.260" stop-color="#00f9ff"/><stop offset="0.331" stop-color="#0074ff"/><stop offset="0.398" stop-color="#0033ff"/><stop offset="0.464" stop-color="#002bff"/><stop offset="0.525" stop-color="#005dff"/><stop offset="0.586" stop-color="#00cbff"/><stop offset="0.608" stop-color="#00fffa"/><stop offset="0.674" stop-color="#00ff22"/><stop offset="0.685" stop-color="#07ff00"/><stop offset="0.746" stop-color="#f9ff00"/><stop offset="0.796" stop-color="#ff4300"/><stop offset="0.823" stop-color="#ff0100"/><stop offset="1.000" stop-color="#ff0000"/></linearGradient><linearGradient id="g68"><stop offset="0.000" stop-color="#ff0000"/><stop offset="0.034" stop-color="#ff0600"/><stop offset="0.080" stop-color="#ffc000"/><stop offset="0.092" stop-color="#fff500"/><stop offset="0.115" stop-color="#a1ff00"/><stop offset="0.155" stop-color="#00ff06"/><stop offset="0.213" stop-color="#00ffb9"/><stop offset="0.241" stop-color="#00fffe"/><stop offset="0.316" stop-color="#0077ff"/><stop offset="0.385" stop-color="#0034ff"/><stop offset="0.454" stop-color="#002cff"/><stop offset="0.517" stop-color="#005eff"/><stop offset="0.580" stop-color="#00ceff"/><stop offset="0.603" stop-color="#00fff7"/><stop offset="0.684" stop-color="#06ff00"/><stop offset="0.753" stop-color="#fffb00"/><stop offset="0.799" stop-color="#ff4e00"/><stop offset="0.833" stop-color="#ff0000"/><stop offset="1.000" stop-color="#ff0000"/></linearGradient><linearGradient id="g69"><stop offset="0.000" stop-color="#ff1e00"/><stop offset="0.036" stop-color="#ff8600"/><stop offset="0.066" stop-color="#faff00"/><stop offset="0.127" stop-color="#05ff00"/><stop offset="0.199" stop-color="#00ffce"/><stop offset="0.223" stop-color="#00faff"/><stop offset="0.301" stop-color="#0073ff"/><stop offset="0.373" stop-color="#0031ff"/><stop offset="0.440" stop-color="#002cff"/><stop offset="0.506" stop-color="#0060ff"/><stop offset="0.572" stop-color="#00d1ff"/><stop offset="0.590" stop-color="#00fbff"/><stop offset="0.657" stop-color="#00ff48"/><stop offset="0.681" stop-color="#04ff00"/><stop offset="0.753" stop-color="#f7ff00"/><stop offset="0.813" stop-color="#ff3800"/><stop offset="0.837" stop-color="#ff0000"/><stop offset="1.000" stop-color="#ff0000"/></linearGradient><linearGradient id="g70"><stop offset="0.000" stop-color="#ff8f00"/><stop offset="0.038" stop-color="#fffe00"/><stop offset="0.100" stop-color="#10ff00"/><stop offset="0.112" stop-color="#00ff1a"/><stop offset="0.181" stop-color="#00ffd4"/><stop offset="0.200" stop-color="#00fffd"/><stop offset="0.281" stop-color="#0076ff"/><stop offset="0.356" stop-color="#0032ff"/><stop offset="0.425" stop-color="#002cff"/><stop offset="0.494" stop-color="#0062ff"/><stop offset="0.562" stop-color="#00d4ff"/><stop offset="0.581" stop-color="#00feff"/><stop offset="0.675" stop-color="#03ff00"/><stop offset="0.756" stop-color="#fffe00"/><stop offset="0.819" stop-color="#ff3100"/><stop offset="0.838" stop-color="#ff0300"/><stop offset="1.000" stop-color="#ff0000"/></linearGradient><linearGradient id="g71"><stop offset="0.000" stop-color="#e2ff00"/><stop offset="0.046" stop-color="#5cff00"/><stop offset="0.072" stop-color="#04ff00"/><stop offset="0.151" stop-color="#00ffcd"/><stop offset="0.178" stop-color="#00faff"/><stop offset="0.263" stop-color="#0071ff"/><stop offset="0.336" stop-color="#0032ff"/><stop offset="0.408" stop-color="#002cff"/><stop offset="0.480" stop-color="#0064ff"/><stop offset="0.553" stop-color="#00d7ff"/><stop offset="0.572" stop-color="#00fffd"/><stop offset="0.671" stop-color="#02ff00"/><stop offset="0.757" stop-color="#f4ff00"/><stop offset="0.776" stop-color="#ffcb00"/><stop offset="0.836" stop-color="#ff1a00"/><stop offset="0.849" stop-color="#ff0000"/><stop offset="1.000" stop-color="#ff0000"/></linearGradient><linearGradient id="g72"><stop offset="0.000" stop-color="#6cff00"/><stop offset="0.048" stop-color="#00ff08"/><stop offset="0.124" stop-color="#00ffc5"/><stop offset="0.152" stop-color="#00fffd"/><stop offset="0.241" stop-color="#0074ff"/><stop offset="0.317" stop-color="#0033ff"/><stop offset="0.393" stop-color="#002dff"/><stop offset="0.469" stop-color="#0065ff"/><stop offset="0.545" stop-color="#00daff"/><stop offset="0.566" stop-color="#00fffa"/><stop offset="0.669" stop-color="#01ff00"/><stop offset="0.766" stop-color="#fdff00"/><stop offset="0.848" stop-color="#ff1200"/><stop offset="0.855" stop-color="#ff0000"/><stop offset="1.000" stop-color="#ff0000"/></linearGradient><linearGradient id="g73"><stop offset="0.000" stop-color="#04ff00"/><stop offset="0.058" stop-color="#00ff6f"/><stop offset="0.129" stop-color="#00faff"/><stop offset="0.223" stop-color="#006eff"/><stop offset="0.302" stop-color="#0030ff"/><stop offset="0.374" stop-color="#002dff"/><stop offset="0.453" stop-color="#0067ff"/><stop offset="0.532" stop-color="#00ddff"/><stop offset="0.554" stop-color="#00fff7"/><stop offset="0.662" stop-color="#00ff00"/><stop offset="0.770" stop-color="#fff900"/><stop offset="0.856" stop-color="#ff0800"/><stop offset="1.000" stop-color="#ff0000"/></linearGradient><linearGradient id="g74"><stop offset="0.000" stop-color="#00ff61"/><stop offset="0.092" stop-color="#00fffe"/><stop offset="0.191" stop-color="#0071ff"/><stop offset="0.275" stop-color="#0030ff"/><stop offset="0.351" stop-color="#002dff"/><stop offset="0.435" stop-color="#0069ff"/><stop offset="0.519" stop-color="#00e0ff"/><stop offset="0.542" stop-color="#00fff4"/><stop offset="0.656" stop-color="#00ff01"/><stop offset="0.771" stop-color="#f9ff00"/><stop offset="0.870" stop-color="#ff0000"/><stop offset="1.000" stop-color="#ff0000"/></linearGradient><linearGradient id="g75"><stop offset="0.000" stop-color="#00ffae"/><stop offset="0.065" stop-color="#00f7ff"/><stop offset="0.169" stop-color="#006bff"/><stop offset="0.258" stop-color="#002eff"/><stop offset="0.339" stop-color="#0031ff"/><stop offset="0.427" stop-color="#0073ff"/><stop offset="0.516" stop-color="#00f1ff"/><stop offset="0.532" stop-color="#00fff1"/><stop offset="0.653" stop-color="#00ff01"/><stop offset="0.782" stop-color="#fffd00"/><stop offset="0.879" stop-color="#ff0600"/><stop offset="1.000" stop-color="#ff0000"/></linearGradient><linearGradient id="g76"><stop offset="0.000" stop-color="#00fffc"/><stop offset="0.162" stop-color="#0050ff"/><stop offset="0.248" stop-color="#0029ff"/><stop offset="0.333" stop-color="#003eff"/><stop offset="0.427" stop-color="#0093ff"/><stop offset="0.504" stop-color="#00fffc"/><stop offset="0.641" stop-color="#00ff02"/><stop offset="0.778" stop-color="#f6ff00"/><stop offset="0.812" stop-color="#ffba00"/><stop offset="0.889" stop-color="#ff0000"/><stop offset="1.000" stop-color="#ff0000"/></linearGradient><linearGradient id="g77"><stop offset="0.000" stop-color="#00c6ff"/><stop offset="0.155" stop-color="#0040ff"/><stop offset="0.245" stop-color="#002bff"/><stop offset="0.336" stop-color="#0052ff"/><stop offset="0.436" stop-color="#00b7ff"/><stop offset="0.491" stop-color="#00fff9"/><stop offset="0.636" stop-color="#00ff02"/><stop offset="0.782" stop-color="#ecff00"/><stop offset="0.791" stop-color="#feff00"/><stop offset="0.900" stop-color="#ff0400"/><stop offset="1.000" stop-color="#ff0000"/></linearGradient><linearGradient id="g78"><stop offset="0.000" stop-color="#0092ff"/><stop offset="0.155" stop-color="#0033ff"/><stop offset="0.243" stop-color="#0033ff"/><stop offset="0.350" stop-color="#0073ff"/><stop offset="0.466" stop-color="#00faff"/><stop offset="0.631" stop-color="#00ff02"/><stop offset="0.786" stop-color="#e2ff00"/><stop offset="0.806" stop-color="#fff900"/><stop offset="0.922" stop-color="#ff0000"/><stop offset="1.000" stop-color="#ff0000"/></linearGradient><linearGradient id="g79"><stop offset="0.000" stop-color="#0063ff"/><stop offset="0.135" stop-color="#0031ff"/><stop offset="0.240" stop-color="#0048ff"/><stop offset="0.354" stop-color="#009cff"/><stop offset="0.438" stop-color="#00fdff"/><stop offset="0.615" stop-color="#00ff03"/><stop offset="0.781" stop-color="#d9ff00"/><stop offset="0.802" stop-color="#fbff00"/><stop offset="0.885" stop-color="#ff6000"/><stop offset="0.927" stop-color="#ff0300"/><stop offset="1.000" stop-color="#ff0000"/></linearGradient><linearGradient id="g80"><stop offset="0.000" stop-color="#0047ff"/><stop offset="0.135" stop-color="#0039ff"/><stop offset="0.258" stop-color="#006cff"/><stop offset="0.382" stop-color="#00d9ff"/><stop offset="0.416" stop-color="#00fffe"/><stop offset="0.607" stop-color="#00ff03"/><stop offset="0.787" stop-color="#d1ff00"/><stop offset="0.820" stop-color="#fffb00"/><stop offset="0.933" stop-color="#ff2700"/><stop offset="0.955" stop-color="#ff0000"/><stop offset="1.000" stop-color="#ff0000"/></linearGradient><linearGradient id="g81"><stop offset="0.000" stop-color="#003aff"/><stop offset="0.160" stop-color="#0059ff"/><stop offset="0.296" stop-color="#00b0ff"/><stop offset="0.383" stop-color="#00fffb"/><stop offset="0.593" stop-color="#00ff04"/><stop offset="0.790" stop-color="#c9ff00"/><stop offset="0.827" stop-color="#f9ff00"/><stop offset="0.914" stop-color="#ff7900"/><stop offset="0.963" stop-color="#ff1e00"/><stop offset="1.000" stop-color="#ff0800"/></linearGradient><linearGradient id="g82"><stop offset="0.000" stop-color="#0043ff"/><stop offset="0.173" stop-color="#0081ff"/><stop offset="0.320" stop-color="#00edff"/><stop offset="0.360" stop-color="#00ffea"/><stop offset="0.573" stop-color="#00ff04"/><stop offset="0.787" stop-color="#c1ff00"/><stop offset="0.840" stop-color="#fffc00"/><stop offset="0.947" stop-color="#ff5700"/><stop offset="1.000" stop-color="#ff3800"/></linearGradient><linearGradient id="g83"><stop offset="0.000" stop-color="#005cff"/><stop offset="0.176" stop-color="#00a9ff"/><stop offset="0.294" stop-color="#00feff"/><stop offset="0.559" stop-color="#00ff04"/><stop offset="0.794" stop-color="#bbff00"/><stop offset="0.853" stop-color="#f9ff00"/><stop offset="0.956" stop-color="#ff8100"/><stop offset="1.000" stop-color="#ff6c00"/></linearGradient><linearGradient id="g84"><stop offset="0.000" stop-color="#0086ff"/><stop offset="0.183" stop-color="#00e1ff"/><stop offset="0.233" stop-color="#00fffb"/><stop offset="0.533" stop-color="#00ff05"/><stop offset="0.800" stop-color="#b6ff00"/><stop offset="0.883" stop-color="#fffa00"/><stop offset="0.950" stop-color="#ffaf00"/><stop offset="1.000" stop-color="#ff9d00"/></linearGradient><linearGradient id="g85"><stop offset="0.000" stop-color="#00b6ff"/><stop offset="0.148" stop-color="#00feff"/><stop offset="0.500" stop-color="#00ff05"/><stop offset="0.796" stop-color="#b2ff00"/><stop offset="0.889" stop-color="#ffff00"/><stop offset="0.944" stop-color="#ffd300"/><stop offset="1.000" stop-color="#ffc300"/></linearGradient><linearGradient id="g86"><stop offset="0.000" stop-color="#00f7ff"/><stop offset="0.152" stop-color="#00ffbd"/><stop offset="0.478" stop-color="#05ff00"/><stop offset="0.826" stop-color="#beff00"/><stop offset="0.913" stop-color="#fcff00"/><stop offset="1.000" stop-color="#ffe900"/></linearGradient><linearGradient id="g87"><stop offset="0.000" stop-color="#00ffc4"/><stop offset="0.436" stop-color="#04ff00"/><stop offset="0.821" stop-color="#aeff00"/><stop offset="0.923" stop-color="#e9ff00"/><stop offset="1.000" stop-color="#f5ff00"/></linearGradient><linearGradient id="g88"><stop offset="0.000" stop-color="#00ff7e"/><stop offset="0.364" stop-color="#02ff00"/><stop offset="0.818" stop-color="#adff00"/><stop offset="0.909" stop-color="#d1ff00"/><stop offset="1.000" stop-color="#dcff00"/></linearGradient><linearGradient id="g89"><stop offset="0.000" stop-color="#00ff33"/><stop offset="0.240" stop-color="#00ff00"/><stop offset="0.800" stop-color="#9fff00"/><stop offset="0.920" stop-color="#baff00"/><stop offset="1.000" stop-color="#c1ff00"/></linearGradient><linearGradient id="g90"><stop offset="0.000" stop-color="#04ff00"/><stop offset="0.556" stop-color="#5fff00"/><stop offset="0.889" stop-color="#a1ff00"/><stop offset="1.000" stop-color="#a8ff00"/></linearGradient><linearGradient id="g91"><stop offset="0.000" stop-color="#40ff00"/><stop offset="0.727" stop-color="#8aff00"/><stop offset="1.000" stop-color="#93ff00"/></linearGradient><clipPath id="c92"><rect x="386" y="249" width="231" height="164"/></clipPath><linearGradient id="g93"><stop offset="0.000" stop-color="#00ff91"/><stop offset="0.165" stop-color="#00fff0"/><stop offset="0.267" stop-color="#00fff0"/><stop offset="0.369" stop-color="#00ffaf"/><stop offset="0.479" stop-color="#00ff28"/><stop offset="0.508" stop-color="#07ff00"/><stop offset="0.602" stop-color="#c2ff00"/><stop offset="0.627" stop-color="#fffa00"/><stop offset="0.708" stop-color="#ff1000"/><stop offset="0.720" stop-color="#ff0000"/><stop offset="1.000" stop-color="#ff0000"/></linearGradient><linearGradient id="g94"><stop offset="0.000" stop-color="#00ff97"/><stop offset="0.165" stop-color="#00fff6"/><stop offset="0.267" stop-color="#00fff5"/><stop offset="0.369" stop-color="#00ffb2"/><stop offset="0.479" stop-color="#00ff2a"/><stop offset="0.508" stop-color="#06ff00"/><stop offset="0.602" stop-color="#c1ff00"/><stop offset="0.627" stop-color="#fffb00"/><stop offset="0.703" stop-color="#ff1600"/><stop offset="0.720" stop-color="#ff0000"/><stop offset="1.000" stop-color="#ff0000"/></linearGradient><linearGradient id="g95"><stop offset="0.000" stop-color="#00ff9d"/><stop offset="0.165" stop-color="#00fffc"/><stop offset="0.275" stop-color="#00fff6"/><stop offset="0.377" stop-color="#00ffad"/><stop offset="0.487" stop-color="#00ff1e"/><stop offset="0.508" stop-color="#05ff00"/><stop offset="0.606" stop-color="#caff00"/><stop offset="0.627" stop-color="#fffb00"/><stop offset="0.703" stop-color="#ff1300"/><stop offset="0.716" stop-color="#ff0000"/><stop offset="1.000" stop-color="#ff0000"/></linearGradient><linearGradient id="g96"><stop offset="0.000" stop-color="#00ffa3"/><stop offset="0.157" stop-color="#00feff"/><stop offset="0.258" stop-color="#00fdff"/><stop offset="0.352" stop-color="#00ffc9"/><stop offset="0.462" stop-color="#00ff46"/><stop offset="0.508" stop-color="#05ff00"/><stop offset="0.606" stop-color="#caff00"/><stop offset="0.627" stop-color="#fffb00"/><stop offset="0.703" stop-color="#ff1100"/><stop offset="0.716" stop-color="#ff0000"/><stop offset="1.000" stop-color="#ff0000"/></linearGradient><linearGradient id="g97"><stop offset="0.000" stop-color="#00ffa9"/><stop offset="0.148" stop-color="#00fbff"/><stop offset="0.250" stop-color="#00f6ff"/><stop offset="0.309" stop-color="#00ffed"/><stop offset="0.411" stop-color="#00ff8c"/><stop offset="0.508" stop-color="#05ff00"/><stop offset="0.606" stop-color="#caff00"/><stop offset="0.627" stop-color="#fffb00"/><stop offset="0.703" stop-color="#ff0f00"/><stop offset="0.720" stop-color="#ff0000"/><stop offset="1.000" stop-color="#ff0000"/></linearGradient><linearGradient id="g98"><stop offset="0.000" stop-color="#00ffb0"/><stop offset="0.136" stop-color="#00fbff"/><stop offset="0.237" stop-color="#00efff"/><stop offset="0.305" stop-color="#00fff3"/><stop offset="0.407" stop-color="#00ff93"/><stop offset="0.508" stop-color="#05ff00"/><stop offset="0.606" stop-color="#caff00"/><stop offset="0.627" stop-color="#fffb00"/><stop offset="0.703" stop-color="#ff0d00"/><stop offset="0.720" stop-color="#ff0000"/><stop offset="1.000" stop-color="#ff0000"/></linearGradient><linearGradient id="g99"><stop offset="0.000" stop-color="#00ffb6"/><stop offset="0.127" stop-color="#00f9ff"/><stop offset="0.229" stop-color="#00e9ff"/><stop offset="0.309" stop-color="#00fff4"/><stop offset="0.411" stop-color="#00ff90"/><stop offset="0.508" stop-color="#06ff00"/><stop offset="0.610" stop-color="#d5ff00"/><stop offset="0.627" stop-color="#fffa00"/><stop offset="0.703" stop-color="#ff0c00"/><stop offset="0.729" stop-color="#ff0000"/><stop offset="1.000" stop-color="#ff0000"/></linearGradient><linearGradient id="g100"><stop offset="0.000" stop-color="#00ffbd"/><stop offset="0.114" stop-color="#00f9ff"/><stop offset="0.216" stop-color="#00e4ff"/><stop offset="0.309" stop-color="#00fff8"/><stop offset="0.411" stop-color="#00ff91"/><stop offset="0.508" stop-color="#06ff00"/><stop offset="0.610" stop-color="#d6ff00"/><stop offset="0.627" stop-color="#fffa00"/><stop offset="0.703" stop-color="#ff0b00"/><stop offset="0.729" stop-color="#ff0000"/><stop offset="1.000" stop-color="#ff0000"/></linearGradient><linearGradient id="g101"><stop offset="0.000" stop-color="#00ffc3"/><stop offset="0.106" stop-color="#00f8ff"/><stop offset="0.208" stop-color="#00dfff"/><stop offset="0.314" stop-color="#00fff8"/><stop offset="0.415" stop-color="#00ff8d"/><stop offset="0.508" stop-color="#07ff00"/><stop offset="0.610" stop-color="#d6ff00"/><stop offset="0.627" stop-color="#fff900"/><stop offset="0.703" stop-color="#ff0900"/><stop offset="0.729" stop-color="#ff0000"/><stop offset="1.000" stop-color="#ff0000"/></linearGradient><linearGradient id="g102"><stop offset="0.000" stop-color="#00ffc9"/><stop offset="0.097" stop-color="#00f8ff"/><stop offset="0.203" stop-color="#00dbff"/><stop offset="0.301" stop-color="#00faff"/><stop offset="0.381" stop-color="#00ffb9"/><stop offset="0.487" stop-color="#00ff1f"/><stop offset="0.508" stop-color="#07ff00"/><stop offset="0.610" stop-color="#d7ff00"/><stop offset="0.627" stop-color="#fff900"/><stop offset="0.699" stop-color="#ff1300"/><stop offset="0.712" stop-color="#ff0000"/><stop offset="1.000" stop-color="#ff0000"/></linearGradient><linearGradient id="g103"><stop offset="0.000" stop-color="#00ffcf"/><stop offset="0.093" stop-color="#00f5ff"/><stop offset="0.199" stop-color="#00d7ff"/><stop offset="0.297" stop-color="#00f5ff"/><stop offset="0.339" stop-color="#00ffe8"/><stop offset="0.445" stop-color="#00ff64"/><stop offset="0.508" stop-color="#08ff00"/><stop offset="0.610" stop-color="#d7ff00"/><stop offset="0.627" stop-color="#fff800"/><stop offset="0.699" stop-color="#ff1200"/><stop offset="0.712" stop-color="#ff0000"/><stop offset="1.000" stop-color="#ff0000"/></linearGradient><linearGradient id="g104"><stop offset="0.000" stop-color="#00ffd5"/><stop offset="0.085" stop-color="#00f5ff"/><stop offset="0.191" stop-color="#00d3ff"/><stop offset="0.288" stop-color="#00edff"/><stop offset="0.326" stop-color="#00fff5"/><stop offset="0.432" stop-color="#00ff78"/><stop offset="0.508" stop-color="#09ff00"/><stop offset="0.610" stop-color="#d8ff00"/><stop offset="0.627" stop-color="#fff800"/><stop offset="0.699" stop-color="#ff1100"/><stop offset="0.712" stop-color="#ff0000"/><stop offset="1.000" stop-color="#ff0000"/></linearGradient><linearGradient id="g105"><stop offset="0.000" stop-color="#00ffda"/><stop offset="0.076" stop-color="#00f6ff"/><stop offset="0.182" stop-color="#00cfff"/><stop offset="0.280" stop-color="#00e6ff"/><stop offset="0.326" stop-color="#00fff7"/><stop offset="0.428" stop-color="#00ff7e"/><stop offset="0.504" stop-color="#01ff00"/><stop offset="0.610" stop-color="#d8ff00"/><stop offset="0.627" stop-color="#fff700"/><stop offset="0.699" stop-color="#ff1000"/><stop offset="0.716" stop-color="#ff0000"/><stop offset="1.000" stop-color="#ff0000"/></linearGradient><linearGradient id="g106"><stop offset="0.000" stop-color="#00ffe0"/><stop offset="0.068" stop-color="#00f7ff"/><stop offset="0.174" stop-color="#00ccff"/><stop offset="0.271" stop-color="#00dfff"/><stop offset="0.331" stop-color="#00fff5"/><stop offset="0.432" stop-color="#00ff79"/><stop offset="0.504" stop-color="#02ff00"/><stop offset="0.610" stop-color="#d9ff00"/><stop offset="0.627" stop-color="#fff700"/><stop offset="0.699" stop-color="#ff0f00"/><stop offset="0.716" stop-color="#ff0000"/><stop offset="1.000" stop-color="#ff0000"/></linearGradient><linearGradient id="g107"><stop offset="0.000" stop-color="#00ffe5"/><stop offset="0.064" stop-color="#00f5ff"/><stop offset="0.174" stop-color="#00c8ff"/><stop offset="0.271" stop-color="#00dcff"/><stop offset="0.331" stop-color="#00fff7"/><stop offset="0.432" stop-color="#00ff79"/><stop offset="0.504" stop-color="#02ff00"/><stop offset="0.610" stop-color="#d9ff00"/><stop offset="0.627" stop-color="#fff600"/><stop offset="0.699" stop-color="#ff0e00"/><stop offset="0.716" stop-color="#ff0000"/><stop offset="1.000" stop-color="#ff0000"/></linearGradient><linearGradient id="g108"><stop offset="0.000" stop-color="#00ffea"/><stop offset="0.055" stop-color="#00f6ff"/><stop offset="0.165" stop-color="#00c6ff"/><stop offset="0.263" stop-color="#00d5ff"/><stop offset="0.331" stop-color="#00fff8"/><stop offset="0.432" stop-color="#00ff79"/><stop offset="0.504" stop-color="#03ff00"/><stop offset="0.610" stop-color="#daff00"/><stop offset="0.627" stop-color="#fff500"/><stop offset="0.699" stop-color="#ff0d00"/><stop offset="0.720" stop-color="#ff0000"/><stop offset="1.000" stop-color="#ff0000"/></linearGradient><linearGradient id="g109"><stop offset="0.000" stop-color="#00ffef"/><stop offset="0.051" stop-color="#00f5ff"/><stop offset="0.165" stop-color="#00c2ff"/><stop offset="0.263" stop-color="#00d3ff"/><stop offset="0.335" stop-color="#00fff6"/><stop offset="0.436" stop-color="#00ff73"/><stop offset="0.504" stop-color="#03ff00"/><stop offset="0.614" stop-color="#e5ff00"/><stop offset="0.627" stop-color="#fff500"/><stop offset="0.699" stop-color="#ff0c00"/><stop offset="0.716" stop-color="#ff0000"/><stop offset="1.000" stop-color="#ff0000"/></linearGradient><linearGradient id="g110"><stop offset="0.000" stop-color="#00fff5"/><stop offset="0.051" stop-color="#00f0ff"/><stop offset="0.165" stop-color="#00beff"/><stop offset="0.263" stop-color="#00d0ff"/><stop offset="0.335" stop-color="#00fff7"/><stop offset="0.436" stop-color="#00ff73"/><stop offset="0.504" stop-color="#04ff00"/><stop offset="0.614" stop-color="#e6ff00"/><stop offset="0.627" stop-color="#fff400"/><stop offset="0.699" stop-color="#ff0b00"/><stop offset="0.716" stop-color="#ff0000"/><stop offset="1.000" stop-color="#ff0000"/></linearGradient><linearGradient id="g111"><stop offset="0.000" stop-color="#00fffa"/><stop offset="0.064" stop-color="#00e3ff"/><stop offset="0.174" stop-color="#00b9ff"/><stop offset="0.267" stop-color="#00d0ff"/><stop offset="0.335" stop-color="#00fff9"/><stop offset="0.436" stop-color="#00ff74"/><stop offset="0.504" stop-color="#04ff00"/><stop offset="0.614" stop-color="#e6ff00"/><stop offset="0.627" stop-color="#fff400"/><stop offset="0.699" stop-color="#ff0a00"/><stop offset="0.716" stop-color="#ff0000"/><stop offset="1.000" stop-color="#ff0000"/></linearGradient><linearGradient id="g112"><stop offset="0.000" stop-color="#00ffff"/><stop offset="0.157" stop-color="#00b8ff"/><stop offset="0.254" stop-color="#00c7ff"/><stop offset="0.339" stop-color="#00fff6"/><stop offset="0.441" stop-color="#00ff6d"/><stop offset="0.504" stop-color="#05ff00"/><stop offset="0.614" stop-color="#e7ff00"/><stop offset="0.627" stop-color="#fff300"/><stop offset="0.699" stop-color="#ff0900"/><stop offset="0.733" stop-color="#ff0000"/><stop offset="1.000" stop-color="#ff0000"/></linearGradient><linearGradient id="g113"><stop offset="0.000" stop-color="#00f9ff"/><stop offset="0.161" stop-color="#00b3ff"/><stop offset="0.254" stop-color="#00c4ff"/><stop offset="0.339" stop-color="#00fff7"/><stop offset="0.441" stop-color="#00ff6d"/><stop offset="0.504" stop-color="#05ff00"/><stop offset="0.614" stop-color="#e7ff00"/><stop offset="0.623" stop-color="#ffff00"/><stop offset="0.699" stop-color="#ff0800"/><stop offset="1.000" stop-color="#ff0000"/></linearGradient><linearGradient id="g114"><stop offset="0.000" stop-color="#00f3ff"/><stop offset="0.161" stop-color="#00afff"/><stop offset="0.254" stop-color="#00c1ff"/><stop offset="0.339" stop-color="#00fff9"/><stop offset="0.441" stop-color="#00ff6e"/><stop offset="0.504" stop-color="#06ff00"/><stop offset="0.614" stop-color="#e8ff00"/><stop offset="0.623" stop-color="#ffff00"/><stop offset="0.699" stop-color="#ff0700"/><stop offset="1.000" stop-color="#ff0000"/></linearGradient><linearGradient id="g115"><stop offset="0.000" stop-color="#00edff"/><stop offset="0.161" stop-color="#00abff"/><stop offset="0.254" stop-color="#00beff"/><stop offset="0.339" stop-color="#00fffb"/><stop offset="0.441" stop-color="#00ff6e"/><stop offset="0.504" stop-color="#06ff00"/><stop offset="0.614" stop-color="#e8ff00"/><stop offset="0.623" stop-color="#fffe00"/><stop offset="0.699" stop-color="#ff0600"/><stop offset="1.000" stop-color="#ff0000"/></linearGradient><linearGradient id="g116"><stop offset="0.000" stop-color="#00e6ff"/><stop offset="0.161" stop-color="#00a7ff"/><stop offset="0.254" stop-color="#00bbff"/><stop offset="0.343" stop-color="#00fff8"/><stop offset="0.445" stop-color="#00ff67"/><stop offset="0.504" stop-color="#07ff00"/><stop offset="0.614" stop-color="#e9ff00"/><stop offset="0.623" stop-color="#fffe00"/><stop offset="0.699" stop-color="#ff0500"/><stop offset="1.000" stop-color="#ff0000"/></linearGradient><linearGradient id="g117"><stop offset="0.000" stop-color="#00dfff"/><stop offset="0.161" stop-color="#00a3ff"/><stop offset="0.254" stop-color="#00b8ff"/><stop offset="0.343" stop-color="#00fffa"/><stop offset="0.445" stop-color="#00ff68"/><stop offset="0.504" stop-color="#07ff00"/><stop offset="0.614" stop-color="#e9ff00"/><stop offset="0.627" stop-color="#fff100"/><stop offset="0.699" stop-color="#ff0400"/><stop offset="1.000" stop-color="#ff0000"/></linearGradient><linearGradient id="g118"><stop offset="0.000" stop-color="#00d9ff"/><stop offset="0.161" stop-color="#009fff"/><stop offset="0.254" stop-color="#00b4ff"/><stop offset="0.347" stop-color="#00fff7"/><stop offset="0.449" stop-color="#00ff61"/><stop offset="0.504" stop-color="#08ff00"/><stop offset="0.614" stop-color="#eaff00"/><stop offset="0.627" stop-color="#fff000"/><stop offset="0.699" stop-color="#ff0300"/><stop offset="1.000" stop-color="#ff0000"/></linearGradient><linearGradient id="g119"><stop offset="0.000" stop-color="#00d2ff"/><stop offset="0.161" stop-color="#009aff"/><stop offset="0.254" stop-color="#00b1ff"/><stop offset="0.347" stop-color="#00fff9"/><stop offset="0.449" stop-color="#00ff61"/><stop offset="0.504" stop-color="#08ff00"/><stop offset="0.614" stop-color="#eaff00"/><stop offset="0.627" stop-color="#fff000"/><stop offset="0.699" stop-color="#ff0100"/><stop offset="1.000" stop-color="#ff0000"/></linearGradient><linearGradient id="g120"><stop offset="0.000" stop-color="#00cbff"/><stop offset="0.161" stop-color="#0096ff"/><stop offset="0.258" stop-color="#00b0ff"/><stop offset="0.347" stop-color="#00fffb"/><stop offset="0.449" stop-color="#00ff61"/><stop offset="0.504" stop-color="#09ff00"/><stop offset="0.614" stop-color="#ebff00"/><stop offset="0.627" stop-color="#ffef00"/><stop offset="0.699" stop-color="#ff0000"/><stop offset="1.000" stop-color="#ff0000"/></linearGradient><linearGradient id="g121"><stop offset="0.000" stop-color="#00c5ff"/><stop offset="0.161" stop-color="#0092ff"/><stop offset="0.258" stop-color="#00adff"/><stop offset="0.352" stop-color="#00fff8"/><stop offset="0.453" stop-color="#00ff5a"/><stop offset="0.504" stop-color="#09ff00"/><stop offset="0.614" stop-color="#ebff00"/><stop offset="0.627" stop-color="#ffef00"/><stop offset="0.699" stop-color="#ff0000"/><stop offset="1.000" stop-color="#ff0000"/></linearGradient><linearGradient id="g122"><stop offset="0.000" stop-color="#00beff"/><stop offset="0.157" stop-color="#008dff"/><stop offset="0.254" stop-color="#00a6ff"/><stop offset="0.352" stop-color="#00fffb"/><stop offset="0.453" stop-color="#00ff5b"/><stop offset="0.500" stop-color="#01ff00"/><stop offset="0.614" stop-color="#ebff00"/><stop offset="0.627" stop-color="#ffee00"/><stop offset="0.699" stop-color="#ff0000"/><stop offset="1.000" stop-color="#ff0000"/></linearGradient><linearGradient id="g123"><stop offset="0.000" stop-color="#00b8ff"/><stop offset="0.157" stop-color="#0089ff"/><stop offset="0.254" stop-color="#00a3ff"/><stop offset="0.356" stop-color="#00fff8"/><stop offset="0.458" stop-color="#00ff53"/><stop offset="0.500" stop-color="#02ff00"/><stop offset="0.614" stop-color="#ecff00"/><stop offset="0.627" stop-color="#ffee00"/><stop offset="0.695" stop-color="#ff0800"/><stop offset="1.000" stop-color="#ff0000"/></linearGradient><linearGradient id="g124"><stop offset="0.000" stop-color="#00b1ff"/><stop offset="0.157" stop-color="#0084ff"/><stop offset="0.254" stop-color="#009fff"/><stop offset="0.347" stop-color="#00f8ff"/><stop offset="0.415" stop-color="#00ffa0"/><stop offset="0.500" stop-color="#02ff00"/><stop offset="0.614" stop-color="#ecff00"/><stop offset="0.627" stop-color="#ffed00"/><stop offset="0.695" stop-color="#ff0700"/><stop offset="1.000" stop-color="#ff0000"/></linearGradient><linearGradient id="g125"><stop offset="0.000" stop-color="#00abff"/><stop offset="0.153" stop-color="#007fff"/><stop offset="0.250" stop-color="#0098ff"/><stop offset="0.339" stop-color="#00eaff"/><stop offset="0.364" stop-color="#00fff2"/><stop offset="0.466" stop-color="#00ff43"/><stop offset="0.500" stop-color="#02ff00"/><stop offset="0.614" stop-color="#edff00"/><stop offset="0.627" stop-color="#ffed00"/><stop offset="0.695" stop-color="#ff0500"/><stop offset="1.000" stop-color="#ff0000"/></linearGradient><linearGradient id="g126"><stop offset="0.000" stop-color="#00a5ff"/><stop offset="0.153" stop-color="#007bff"/><stop offset="0.250" stop-color="#0094ff"/><stop offset="0.339" stop-color="#00e7ff"/><stop offset="0.364" stop-color="#00fff5"/><stop offset="0.470" stop-color="#00ff3b"/><stop offset="0.500" stop-color="#03ff00"/><stop offset="0.614" stop-color="#eeff00"/><stop offset="0.627" stop-color="#ffec00"/><stop offset="0.695" stop-color="#ff0400"/><stop offset="1.000" stop-color="#ff0000"/></linearGradient><linearGradient id="g127"><stop offset="0.000" stop-color="#009fff"/><stop offset="0.153" stop-color="#0076ff"/><stop offset="0.250" stop-color="#0090ff"/><stop offset="0.339" stop-color="#00e4ff"/><stop offset="0.364" stop-color="#00fff7"/><stop offset="0.470" stop-color="#00ff3b"/><stop offset="0.500" stop-color="#03ff00"/><stop offset="0.614" stop-color="#eeff00"/><stop offset="0.627" stop-color="#ffeb00"/><stop offset="0.695" stop-color="#ff0300"/><stop offset="1.000" stop-color="#ff0000"/></linearGradient><linearGradient id="g128"><stop offset="0.000" stop-color="#0099ff"/><stop offset="0.153" stop-color="#0071ff"/><stop offset="0.254" stop-color="#008eff"/><stop offset="0.343" stop-color="#00e6ff"/><stop offset="0.369" stop-color="#00fff4"/><stop offset="0.475" stop-color="#00ff32"/><stop offset="0.500" stop-color="#04ff00"/><stop offset="0.614" stop-color="#efff00"/><stop offset="0.627" stop-color="#ffea00"/><stop offset="0.695" stop-color="#ff0100"/><stop offset="1.000" stop-color="#ff0000"/></linearGradient><linearGradient id="g129"><stop offset="0.000" stop-color="#0093ff"/><stop offset="0.153" stop-color="#006cff"/><stop offset="0.254" stop-color="#008aff"/><stop offset="0.343" stop-color="#00e3ff"/><stop offset="0.369" stop-color="#00fff7"/><stop offset="0.479" stop-color="#00ff29"/><stop offset="0.500" stop-color="#04ff00"/><stop offset="0.614" stop-color="#f0ff00"/><stop offset="0.627" stop-color="#ffe900"/><stop offset="0.695" stop-color="#ff0000"/><stop offset="1.000" stop-color="#ff0000"/></linearGradient><linearGradient id="g130"><stop offset="0.000" stop-color="#008dff"/><stop offset="0.153" stop-color="#0068ff"/><stop offset="0.250" stop-color="#0083ff"/><stop offset="0.339" stop-color="#00daff"/><stop offset="0.369" stop-color="#00fff9"/><stop offset="0.479" stop-color="#00ff29"/><stop offset="0.500" stop-color="#05ff00"/><stop offset="0.614" stop-color="#f1ff00"/><stop offset="0.627" stop-color="#ffe800"/><stop offset="0.695" stop-color="#ff0000"/><stop offset="1.000" stop-color="#ff0000"/></linearGradient><linearGradient id="g131"><stop offset="0.000" stop-color="#0088ff"/><stop offset="0.153" stop-color="#0063ff"/><stop offset="0.250" stop-color="#007fff"/><stop offset="0.339" stop-color="#00d7ff"/><stop offset="0.373" stop-color="#00fff5"/><stop offset="0.487" stop-color="#00ff16"/><stop offset="0.504" stop-color="#0fff00"/><stop offset="0.614" stop-color="#f3ff00"/><stop offset="0.623" stop-color="#fff300"/><stop offset="0.695" stop-color="#ff0000"/><stop offset="1.000" stop-color="#ff0000"/></linearGradient><linearGradient id="g132"><stop offset="0.000" stop-color="#0082ff"/><stop offset="0.157" stop-color="#005eff"/><stop offset="0.254" stop-color="#007eff"/><stop offset="0.343" stop-color="#00daff"/><stop offset="0.373" stop-color="#00fff8"/><stop offset="0.492" stop-color="#00ff0d"/><stop offset="0.513" stop-color="#22ff00"/><stop offset="0.614" stop-color="#f4ff00"/><stop offset="0.627" stop-color="#ffe400"/><stop offset="0.691" stop-color="#ff0700"/><stop offset="1.000" stop-color="#ff0000"/></linearGradient><linearGradient id="g133"><stop offset="0.000" stop-color="#007dff"/><stop offset="0.157" stop-color="#005aff"/><stop offset="0.254" stop-color="#007aff"/><stop offset="0.339" stop-color="#00d1ff"/><stop offset="0.373" stop-color="#00fffa"/><stop offset="0.500" stop-color="#06ff00"/><stop offset="0.619" stop-color="#fffc00"/><stop offset="0.691" stop-color="#ff0600"/><stop offset="1.000" stop-color="#ff0000"/></linearGradient><linearGradient id="g134"><stop offset="0.000" stop-color="#0077ff"/><stop offset="0.161" stop-color="#0056ff"/><stop offset="0.254" stop-color="#0076ff"/><stop offset="0.339" stop-color="#00ceff"/><stop offset="0.373" stop-color="#00fffc"/><stop offset="0.500" stop-color="#07ff00"/><stop offset="0.619" stop-color="#fffa00"/><stop offset="0.691" stop-color="#ff0400"/><stop offset="1.000" stop-color="#ff0000"/></linearGradient><linearGradient id="g135"><stop offset="0.000" stop-color="#0072ff"/><stop offset="0.161" stop-color="#0051ff"/><stop offset="0.254" stop-color="#0072ff"/><stop offset="0.339" stop-color="#00ccff"/><stop offset="0.377" stop-color="#00fff6"/><stop offset="0.500" stop-color="#08ff00"/><stop offset="0.619" stop-color="#fff800"/><stop offset="0.691" stop-color="#ff0200"/><stop offset="1.000" stop-color="#ff0000"/></linearGradient><linearGradient id="g136"><stop offset="0.000" stop-color="#006cff"/><stop offset="0.161" stop-color="#004dff"/><stop offset="0.254" stop-color="#006eff"/><stop offset="0.335" stop-color="#00c3ff"/><stop offset="0.377" stop-color="#00fff7"/><stop offset="0.496" stop-color="#00ff01"/><stop offset="0.614" stop-color="#fcff00"/><stop offset="0.691" stop-color="#ff0000"/><stop offset="1.000" stop-color="#ff0000"/></linearGradient><linearGradient id="g137"><stop offset="0.000" stop-color="#0067ff"/><stop offset="0.165" stop-color="#0049ff"/><stop offset="0.258" stop-color="#006eff"/><stop offset="0.339" stop-color="#00c7ff"/><stop offset="0.377" stop-color="#00fff8"/><stop offset="0.496" stop-color="#00ff00"/><stop offset="0.614" stop-color="#ffff00"/><stop offset="0.691" stop-color="#ff0000"/><stop offset="1.000" stop-color="#ff0000"/></linearGradient><linearGradient id="g138"><stop offset="0.000" stop-color="#0061ff"/><stop offset="0.165" stop-color="#0045ff"/><stop offset="0.258" stop-color="#006aff"/><stop offset="0.339" stop-color="#00c5ff"/><stop offset="0.377" stop-color="#00fff9"/><stop offset="0.496" stop-color="#01ff00"/><stop offset="0.614" stop-color="#fffd00"/><stop offset="0.691" stop-color="#ff0000"/><stop offset="1.000" stop-color="#ff0000"/></linearGradient><linearGradient id="g139"><stop offset="0.000" stop-color="#005cff"/><stop offset="0.169" stop-color="#0041ff"/><stop offset="0.263" stop-color="#0069ff"/><stop offset="0.339" stop-color="#00c4ff"/><stop offset="0.377" stop-color="#00fff9"/><stop offset="0.496" stop-color="#02ff00"/><stop offset="0.614" stop-color="#fffb00"/><stop offset="0.691" stop-color="#ff0000"/><stop offset="1.000" stop-color="#ff0000"/></linearGradient><linearGradient id="g140"><stop offset="0.000" stop-color="#0057ff"/><stop offset="0.169" stop-color="#003dff"/><stop offset="0.263" stop-color="#0066ff"/><stop offset="0.339" stop-color="#00c2ff"/><stop offset="0.377" stop-color="#00fffa"/><stop offset="0.496" stop-color="#03ff00"/><stop offset="0.614" stop-color="#fff800"/><stop offset="0.686" stop-color="#ff0500"/><stop offset="1.000" stop-color="#ff0000"/></linearGradient><linearGradient id="g141"><stop offset="0.000" stop-color="#0052ff"/><stop offset="0.169" stop-color="#0039ff"/><stop offset="0.258" stop-color="#005fff"/><stop offset="0.331" stop-color="#00b3ff"/><stop offset="0.377" stop-color="#00fffa"/><stop offset="0.496" stop-color="#03ff00"/><stop offset="0.610" stop-color="#fcff00"/><stop offset="0.674" stop-color="#ff2d00"/><stop offset="0.691" stop-color="#ff0000"/><stop offset="1.000" stop-color="#ff0000"/></linearGradient><linearGradient id="g142"><stop offset="0.000" stop-color="#004dff"/><stop offset="0.169" stop-color="#0035ff"/><stop offset="0.258" stop-color="#005cff"/><stop offset="0.331" stop-color="#00b1ff"/><stop offset="0.377" stop-color="#00fffb"/><stop offset="0.496" stop-color="#04ff00"/><stop offset="0.610" stop-color="#feff00"/><stop offset="0.686" stop-color="#ff0100"/><stop offset="1.000" stop-color="#ff0000"/></linearGradient><linearGradient id="g143"><stop offset="0.000" stop-color="#0048ff"/><stop offset="0.174" stop-color="#0032ff"/><stop offset="0.263" stop-color="#005cff"/><stop offset="0.335" stop-color="#00b7ff"/><stop offset="0.377" stop-color="#00fffb"/><stop offset="0.496" stop-color="#05ff00"/><stop offset="0.610" stop-color="#fffd00"/><stop offset="0.686" stop-color="#ff0000"/><stop offset="1.000" stop-color="#ff0000"/></linearGradient><linearGradient id="g144"><stop offset="0.000" stop-color="#0043ff"/><stop offset="0.174" stop-color="#002fff"/><stop offset="0.263" stop-color="#0059ff"/><stop offset="0.335" stop-color="#00b5ff"/><stop offset="0.377" stop-color="#00fffb"/><stop offset="0.496" stop-color="#06ff00"/><stop offset="0.610" stop-color="#fffb00"/><stop offset="0.686" stop-color="#ff0000"/><stop offset="1.000" stop-color="#ff0000"/></linearGradient><linearGradient id="g145"><stop offset="0.000" stop-color="#003fff"/><stop offset="0.174" stop-color="#002bff"/><stop offset="0.263" stop-color="#0056ff"/><stop offset="0.335" stop-color="#00b4ff"/><stop offset="0.377" stop-color="#00fffc"/><stop offset="0.496" stop-color="#07ff00"/><stop offset="0.610" stop-color="#fff900"/><stop offset="0.686" stop-color="#ff0000"/><stop offset="1.000" stop-color="#ff0000"/></linearGradient><linearGradient id="g146"><stop offset="0.000" stop-color="#003aff"/><stop offset="0.174" stop-color="#0028ff"/><stop offset="0.258" stop-color="#0050ff"/><stop offset="0.331" stop-color="#00abff"/><stop offset="0.377" stop-color="#00fffc"/><stop offset="0.496" stop-color="#08ff00"/><stop offset="0.606" stop-color="#fcff00"/><stop offset="0.669" stop-color="#ff3100"/><stop offset="0.686" stop-color="#ff0000"/><stop offset="1.000" stop-color="#ff0000"/></linearGradient><linearGradient id="g147"><stop offset="0.000" stop-color="#0036ff"/><stop offset="0.174" stop-color="#0024ff"/><stop offset="0.258" stop-color="#004dff"/><stop offset="0.331" stop-color="#00aaff"/><stop offset="0.377" stop-color="#00fffc"/><stop offset="0.492" stop-color="#00ff01"/><stop offset="0.606" stop-color="#feff00"/><stop offset="0.682" stop-color="#ff0400"/><stop offset="1.000" stop-color="#ff0000"/></linearGradient><linearGradient id="g148"><stop offset="0.000" stop-color="#0032ff"/><stop offset="0.178" stop-color="#0022ff"/><stop offset="0.263" stop-color="#004fff"/><stop offset="0.335" stop-color="#00b0ff"/><stop offset="0.377" stop-color="#00fffd"/><stop offset="0.492" stop-color="#00ff00"/><stop offset="0.606" stop-color="#fffd00"/><stop offset="0.682" stop-color="#ff0200"/><stop offset="1.000" stop-color="#ff0000"/></linearGradient><linearGradient id="g149"><stop offset="0.000" stop-color="#002eff"/><stop offset="0.178" stop-color="#001fff"/><stop offset="0.263" stop-color="#004cff"/><stop offset="0.335" stop-color="#00afff"/><stop offset="0.377" stop-color="#00fffd"/><stop offset="0.492" stop-color="#01ff00"/><stop offset="0.606" stop-color="#fffb00"/><stop offset="0.682" stop-color="#ff0000"/><stop offset="1.000" stop-color="#ff0000"/></linearGradient><linearGradient id="g150"><stop offset="0.000" stop-color="#002aff"/><stop offset="0.178" stop-color="#001cff"/><stop offset="0.263" stop-color="#0049ff"/><stop offset="0.331" stop-color="#00a6ff"/><stop offset="0.377" stop-color="#00fffd"/><stop offset="0.492" stop-color="#02ff00"/><stop offset="0.606" stop-color="#fff900"/><stop offset="0.682" stop-color="#ff0000"/><stop offset="1.000" stop-color="#ff0000"/></linearGradient><linearGradient id="g151"><stop offset="0.000" stop-color="#0027ff"/><stop offset="0.178" stop-color="#0019ff"/><stop offset="0.263" stop-color="#0047ff"/><stop offset="0.331" stop-color="#00a4ff"/><stop offset="0.377" stop-color="#00fffe"/><stop offset="0.492" stop-color="#03ff00"/><stop offset="0.602" stop-color="#fcff00"/><stop offset="0.665" stop-color="#ff3400"/><stop offset="0.682" stop-color="#ff0000"/><stop offset="1.000" stop-color="#ff0000"/></linearGradient><linearGradient id="g152"><stop offset="0.000" stop-color="#0023ff"/><stop offset="0.178" stop-color="#0017ff"/><stop offset="0.263" stop-color="#0045ff"/><stop offset="0.331" stop-color="#00a2ff"/><stop offset="0.377" stop-color="#00fffe"/><stop offset="0.492" stop-color="#04ff00"/><stop offset="0.602" stop-color="#feff00"/><stop offset="0.682" stop-color="#ff0000"/><stop offset="1.000" stop-color="#ff0000"/></linearGradient><linearGradient id="g153"><stop offset="0.000" stop-color="#0020ff"/><stop offset="0.182" stop-color="#0015ff"/><stop offset="0.263" stop-color="#0042ff"/><stop offset="0.331" stop-color="#00a1ff"/><stop offset="0.377" stop-color="#00ffff"/><stop offset="0.492" stop-color="#05ff00"/><stop offset="0.602" stop-color="#fffe00"/><stop offset="0.678" stop-color="#ff0500"/><stop offset="1.000" stop-color="#ff0000"/></linearGradient><linearGradient id="g154"><stop offset="0.000" stop-color="#001dff"/><stop offset="0.182" stop-color="#0013ff"/><stop offset="0.263" stop-color="#0040ff"/><stop offset="0.331" stop-color="#009fff"/><stop offset="0.377" stop-color="#00ffff"/><stop offset="0.492" stop-color="#06ff00"/><stop offset="0.602" stop-color="#fffb00"/><stop offset="0.678" stop-color="#ff0300"/><stop offset="1.000" stop-color="#ff0000"/></linearGradient><linearGradient id="g155"><stop offset="0.000" stop-color="#001aff"/><stop offset="0.182" stop-color="#0010ff"/><stop offset="0.263" stop-color="#003eff"/><stop offset="0.331" stop-color="#009eff"/><stop offset="0.381" stop-color="#00fff6"/><stop offset="0.492" stop-color="#07ff00"/><stop offset="0.602" stop-color="#fff900"/><stop offset="0.678" stop-color="#ff0100"/><stop offset="1.000" stop-color="#ff0000"/></linearGradient><linearGradient id="g156"><stop offset="0.000" stop-color="#0017ff"/><stop offset="0.182" stop-color="#000eff"/><stop offset="0.263" stop-color="#003bff"/><stop offset="0.326" stop-color="#0094ff"/><stop offset="0.381" stop-color="#00fff7"/><stop offset="0.492" stop-color="#08ff00"/><stop offset="0.597" stop-color="#fcff00"/><stop offset="0.661" stop-color="#ff3700"/><stop offset="0.678" stop-color="#ff0000"/><stop offset="1.000" stop-color="#ff0000"/></linearGradient><linearGradient id="g157"><stop offset="0.000" stop-color="#0014ff"/><stop offset="0.186" stop-color="#000dff"/><stop offset="0.267" stop-color="#003dff"/><stop offset="0.331" stop-color="#009aff"/><stop offset="0.381" stop-color="#00fff7"/><stop offset="0.487" stop-color="#00ff01"/><stop offset="0.597" stop-color="#feff00"/><stop offset="0.678" stop-color="#ff0000"/><stop offset="1.000" stop-color="#ff0000"/></linearGradient><linearGradient id="g158"><stop offset="0.000" stop-color="#0012ff"/><stop offset="0.186" stop-color="#000bff"/><stop offset="0.267" stop-color="#003bff"/><stop offset="0.331" stop-color="#0099ff"/><stop offset="0.381" stop-color="#00fff8"/><stop offset="0.487" stop-color="#00ff00"/><stop offset="0.597" stop-color="#fffe00"/><stop offset="0.678" stop-color="#ff0000"/><stop offset="1.000" stop-color="#ff0000"/></linearGradient><linearGradient id="g159"><stop offset="0.000" stop-color="#0010ff"/><stop offset="0.186" stop-color="#000aff"/><stop offset="0.267" stop-color="#0039ff"/><stop offset="0.331" stop-color="#0097ff"/><stop offset="0.381" stop-color="#00fff8"/><stop offset="0.487" stop-color="#00ff00"/><stop offset="0.597" stop-color="#fffc00"/><stop offset="0.678" stop-color="#ff0000"/><stop offset="1.000" stop-color="#ff0000"/></linearGradient><linearGradient id="g160"><stop offset="0.000" stop-color="#000dff"/><stop offset="0.191" stop-color="#0009ff"/><stop offset="0.267" stop-color="#0038ff"/><stop offset="0.331" stop-color="#0095ff"/><stop offset="0.381" stop-color="#00fff9"/><stop offset="0.487" stop-color="#01ff00"/><stop offset="0.597" stop-color="#fff900"/><stop offset="0.674" stop-color="#ff0400"/><stop offset="1.000" stop-color="#ff0000"/></linearGradient><linearGradient id="g161"><stop offset="0.000" stop-color="#000bff"/><stop offset="0.191" stop-color="#0008ff"/><stop offset="0.267" stop-color="#0036ff"/><stop offset="0.331" stop-color="#0094ff"/><stop offset="0.381" stop-color="#00fff9"/><stop offset="0.487" stop-color="#02ff00"/><stop offset="0.597" stop-color="#fff700"/><stop offset="0.674" stop-color="#ff0200"/><stop offset="1.000" stop-color="#ff0000"/></linearGradient><linearGradient id="g162"><stop offset="0.000" stop-color="#000aff"/><stop offset="0.195" stop-color="#0008ff"/><stop offset="0.271" stop-color="#0039ff"/><stop offset="0.331" stop-color="#0093ff"/><stop offset="0.381" stop-color="#00fffa"/><stop offset="0.487" stop-color="#03ff00"/><stop offset="0.593" stop-color="#feff00"/><stop offset="0.674" stop-color="#ff0000"/><stop offset="1.000" stop-color="#ff0000"/></linearGradient><linearGradient id="g163"><stop offset="0.000" stop-color="#0008ff"/><stop offset="0.199" stop-color="#0008ff"/><stop offset="0.275" stop-color="#003cff"/><stop offset="0.335" stop-color="#009aff"/><stop offset="0.381" stop-color="#00fffa"/><stop offset="0.487" stop-color="#04ff00"/><stop offset="0.593" stop-color="#fffe00"/><stop offset="0.674" stop-color="#ff0000"/><stop offset="1.000" stop-color="#ff0000"/></linearGradient><linearGradient id="g164"><stop offset="0.000" stop-color="#0006ff"/><stop offset="0.203" stop-color="#0008ff"/><stop offset="0.280" stop-color="#003fff"/><stop offset="0.339" stop-color="#00a1ff"/><stop offset="0.381" stop-color="#00fffb"/><stop offset="0.487" stop-color="#05ff00"/><stop offset="0.593" stop-color="#fffc00"/><stop offset="0.674" stop-color="#ff0000"/><stop offset="1.000" stop-color="#ff0000"/></linearGradient><linearGradient id="g165"><stop offset="0.000" stop-color="#0005ff"/><stop offset="0.203" stop-color="#0008ff"/><stop offset="0.280" stop-color="#003eff"/><stop offset="0.339" stop-color="#00a0ff"/><stop offset="0.381" stop-color="#00fffc"/><stop offset="0.487" stop-color="#06ff00"/><stop offset="0.593" stop-color="#fff900"/><stop offset="0.674" stop-color="#ff0000"/><stop offset="1.000" stop-color="#ff0000"/></linearGradient><linearGradient id="g166"><stop offset="0.000" stop-color="#0003ff"/><stop offset="0.208" stop-color="#0009ff"/><stop offset="0.284" stop-color="#0042ff"/><stop offset="0.343" stop-color="#00a8ff"/><stop offset="0.381" stop-color="#00fffc"/><stop offset="0.487" stop-color="#07ff00"/><stop offset="0.593" stop-color="#fff700"/><stop offset="0.669" stop-color="#ff0500"/><stop offset="1.000" stop-color="#ff0000"/></linearGradient><linearGradient id="g167"><stop offset="0.000" stop-color="#0002ff"/><stop offset="0.208" stop-color="#0008ff"/><stop offset="0.284" stop-color="#0041ff"/><stop offset="0.343" stop-color="#00a7ff"/><stop offset="0.381" stop-color="#00fffd"/><stop offset="0.487" stop-color="#07ff00"/><stop offset="0.589" stop-color="#feff00"/><stop offset="0.669" stop-color="#ff0200"/><stop offset="1.000" stop-color="#ff0000"/></linearGradient><linearGradient id="g168"><stop offset="0.000" stop-color="#0001ff"/><stop offset="0.208" stop-color="#0008ff"/><stop offset="0.284" stop-color="#0041ff"/><stop offset="0.343" stop-color="#00a5ff"/><stop offset="0.381" stop-color="#00fffe"/><stop offset="0.483" stop-color="#00ff02"/><stop offset="0.589" stop-color="#fffe00"/><stop offset="0.669" stop-color="#ff0000"/><stop offset="1.000" stop-color="#ff0000"/></linearGradient><linearGradient id="g169"><stop offset="0.000" stop-color="#0000ff"/><stop offset="0.208" stop-color="#0008ff"/><stop offset="0.284" stop-color="#0040ff"/><stop offset="0.339" stop-color="#009bff"/><stop offset="0.381" stop-color="#00fffe"/><stop offset="0.483" stop-color="#00ff01"/><stop offset="0.589" stop-color="#fffb00"/><stop offset="0.669" stop-color="#ff0000"/><stop offset="1.000" stop-color="#ff0000"/></linearGradient><linearGradient id="g170"><stop offset="0.000" stop-color="#0000ff"/><stop offset="0.208" stop-color="#0009ff"/><stop offset="0.284" stop-color="#0040ff"/><stop offset="0.339" stop-color="#009aff"/><stop offset="0.381" stop-color="#00ffff"/><stop offset="0.483" stop-color="#00ff00"/><stop offset="0.589" stop-color="#fff800"/><stop offset="0.669" stop-color="#ff0000"/><stop offset="1.000" stop-color="#ff0000"/></linearGradient><linearGradient id="g171"><stop offset="0.000" stop-color="#0000ff"/><stop offset="0.208" stop-color="#0009ff"/><stop offset="0.284" stop-color="#0041ff"/><stop offset="0.339" stop-color="#009aff"/><stop offset="0.381" stop-color="#00ffff"/><stop offset="0.483" stop-color="#00ff00"/><stop offset="0.585" stop-color="#fdff00"/><stop offset="0.669" stop-color="#ff0000"/><stop offset="1.000" stop-color="#ff0000"/></linearGradient><linearGradient id="g172"><stop offset="0.000" stop-color="#0000ff"/><stop offset="0.203" stop-color="#0009ff"/><stop offset="0.284" stop-color="#0042ff"/><stop offset="0.339" stop-color="#009aff"/><stop offset="0.381" stop-color="#00ffff"/><stop offset="0.483" stop-color="#01ff00"/><stop offset="0.585" stop-color="#fffe00"/><stop offset="0.669" stop-color="#ff0000"/><stop offset="1.000" stop-color="#ff0000"/></linearGradient><linearGradient id="g173"><stop offset="0.000" stop-color="#0000ff"/><stop offset="0.199" stop-color="#0009ff"/><stop offset="0.280" stop-color="#003fff"/><stop offset="0.339" stop-color="#009bff"/><stop offset="0.381" stop-color="#00fffe"/><stop offset="0.483" stop-color="#02ff00"/><stop offset="0.585" stop-color="#fffb00"/><stop offset="0.665" stop-color="#ff0300"/><stop offset="1.000" stop-color="#ff0000"/></linearGradient><linearGradient id="g174"><stop offset="0.000" stop-color="#0000ff"/><stop offset="0.199" stop-color="#000aff"/><stop offset="0.280" stop-color="#0041ff"/><stop offset="0.339" stop-color="#009dff"/><stop offset="0.381" stop-color="#00fffe"/><stop offset="0.483" stop-color="#03ff00"/><stop offset="0.585" stop-color="#fff800"/><stop offset="0.665" stop-color="#ff0100"/><stop offset="1.000" stop-color="#ff0000"/></linearGradient><clipPath id="c175"><rect x="54" y="724" width="224" height="155"/></clipPath><linearGradient id="g176"><stop offset="0.000" stop-color="#ff0000"/><stop offset="1.000" stop-color="#ff0000"/></linearGradient><linearGradient id="g177"><stop offset="0.000" stop-color="#ff0000"/><stop offset="1.000" stop-color="#ff0000"/></linearGradient><linearGradient id="g178"><stop offset="0.000" stop-color="#ff0000"/><stop offset="1.000" stop-color="#ff0000"/></linearGradient><linearGradient id="g179"><stop offset="0.000" stop-color="#ff0000"/><stop offset="1.000" stop-color="#ff0000"/></linearGradient><linearGradient id="g180"><stop offset="0.000" stop-color="#ff0800"/><stop offset="1.000" stop-color="#ff0000"/></linearGradient><linearGradient id="g181"><stop offset="0.000" stop-color="#ff4100"/><stop offset="0.167" stop-color="#ff0000"/><stop offset="1.000" stop-color="#ff0000"/></linearGradient><linearGradient id="g182"><stop offset="0.000" stop-color="#ff8b00"/><stop offset="0.236" stop-color="#ff0000"/><stop offset="1.000" stop-color="#ff0000"/></linearGradient><linearGradient id="g183"><stop offset="0.000" stop-color="#ffe100"/><stop offset="0.274" stop-color="#ff0200"/><stop offset="1.000" stop-color="#ff0000"/></linearGradient><linearGradient id="g184"><stop offset="0.000" stop-color="#b2ff00"/><stop offset="0.087" stop-color="#fff800"/><stop offset="0.304" stop-color="#ff1900"/><stop offset="0.348" stop-color="#ff0000"/><stop offset="1.000" stop-color="#ff0000"/></linearGradient><linearGradient id="g185"><stop offset="0.000" stop-color="#5dff00"/><stop offset="0.118" stop-color="#d8ff00"/><stop offset="0.145" stop-color="#faff00"/><stop offset="0.329" stop-color="#ff2700"/><stop offset="0.382" stop-color="#ff0000"/><stop offset="1.000" stop-color="#ff0000"/></linearGradient><linearGradient id="g186"><stop offset="0.000" stop-color="#21ff00"/><stop offset="0.096" stop-color="#6dff00"/><stop offset="0.205" stop-color="#fff900"/><stop offset="0.361" stop-color="#ff2a00"/><stop offset="0.410" stop-color="#ff0000"/><stop offset="1.000" stop-color="#ff0000"/></linearGradient><linearGradient id="g187"><stop offset="0.000" stop-color="#00ff0b"/><stop offset="0.056" stop-color="#14ff00"/><stop offset="0.156" stop-color="#73ff00"/><stop offset="0.244" stop-color="#fdff00"/><stop offset="0.389" stop-color="#ff2e00"/><stop offset="0.433" stop-color="#ff0000"/><stop offset="1.000" stop-color="#ff0000"/></linearGradient><linearGradient id="g188"><stop offset="0.000" stop-color="#00ff35"/><stop offset="0.094" stop-color="#07ff00"/><stop offset="0.198" stop-color="#6dff00"/><stop offset="0.281" stop-color="#f6ff00"/><stop offset="0.417" stop-color="#ff3200"/><stop offset="0.458" stop-color="#ff0200"/><stop offset="1.000" stop-color="#ff0000"/></linearGradient><linearGradient id="g189"><stop offset="0.000" stop-color="#00ff61"/><stop offset="0.136" stop-color="#07ff00"/><stop offset="0.233" stop-color="#68ff00"/><stop offset="0.320" stop-color="#fffc00"/><stop offset="0.437" stop-color="#ff3700"/><stop offset="0.485" stop-color="#ff0000"/><stop offset="1.000" stop-color="#ff0000"/></linearGradient><linearGradient id="g190"><stop offset="0.000" stop-color="#00ff97"/><stop offset="0.180" stop-color="#07ff00"/><stop offset="0.270" stop-color="#64ff00"/><stop offset="0.351" stop-color="#fcff00"/><stop offset="0.468" stop-color="#ff2e00"/><stop offset="0.505" stop-color="#ff0000"/><stop offset="1.000" stop-color="#ff0000"/></linearGradient><linearGradient id="g191"><stop offset="0.000" stop-color="#00ffc8"/><stop offset="0.136" stop-color="#00ff41"/><stop offset="0.212" stop-color="#07ff00"/><stop offset="0.297" stop-color="#61ff00"/><stop offset="0.373" stop-color="#f6ff00"/><stop offset="0.441" stop-color="#ff7e00"/><stop offset="0.517" stop-color="#ff0100"/><stop offset="1.000" stop-color="#ff0000"/></linearGradient><linearGradient id="g192"><stop offset="0.000" stop-color="#00fffa"/><stop offset="0.113" stop-color="#00ff81"/><stop offset="0.234" stop-color="#00ff00"/><stop offset="0.323" stop-color="#5fff00"/><stop offset="0.403" stop-color="#fffc00"/><stop offset="0.508" stop-color="#ff2900"/><stop offset="0.540" stop-color="#ff0000"/><stop offset="1.000" stop-color="#ff0000"/></linearGradient><linearGradient id="g193"><stop offset="0.000" stop-color="#00d3ff"/><stop offset="0.053" stop-color="#00fff7"/><stop offset="0.244" stop-color="#00ff0e"/><stop offset="0.275" stop-color="#0eff00"/><stop offset="0.344" stop-color="#5cff00"/><stop offset="0.420" stop-color="#fcff00"/><stop offset="0.527" stop-color="#ff2000"/><stop offset="0.550" stop-color="#ff0000"/><stop offset="1.000" stop-color="#ff0000"/></linearGradient><linearGradient id="g194"><stop offset="0.000" stop-color="#00a5ff"/><stop offset="0.087" stop-color="#00fff8"/><stop offset="0.261" stop-color="#00ff14"/><stop offset="0.290" stop-color="#08ff00"/><stop offset="0.362" stop-color="#5aff00"/><stop offset="0.435" stop-color="#f7ff00"/><stop offset="0.543" stop-color="#ff1700"/><stop offset="0.565" stop-color="#ff0000"/><stop offset="1.000" stop-color="#ff0000"/></linearGradient><linearGradient id="g195"><stop offset="0.000" stop-color="#0074ff"/><stop offset="0.083" stop-color="#00ccff"/><stop offset="0.124" stop-color="#00fff8"/><stop offset="0.290" stop-color="#00ff14"/><stop offset="0.324" stop-color="#0eff00"/><stop offset="0.393" stop-color="#64ff00"/><stop offset="0.462" stop-color="#fffb00"/><stop offset="0.552" stop-color="#ff2700"/><stop offset="0.572" stop-color="#ff0100"/><stop offset="1.000" stop-color="#ff0000"/></linearGradient><linearGradient id="g196"><stop offset="0.000" stop-color="#0052ff"/><stop offset="0.072" stop-color="#0096ff"/><stop offset="0.151" stop-color="#00fff8"/><stop offset="0.303" stop-color="#00ff1b"/><stop offset="0.336" stop-color="#08ff00"/><stop offset="0.408" stop-color="#61ff00"/><stop offset="0.474" stop-color="#feff00"/><stop offset="0.566" stop-color="#ff1c00"/><stop offset="0.586" stop-color="#ff0000"/><stop offset="1.000" stop-color="#ff0000"/></linearGradient><linearGradient id="g197"><stop offset="0.000" stop-color="#0037ff"/><stop offset="0.075" stop-color="#0075ff"/><stop offset="0.176" stop-color="#00fff8"/><stop offset="0.321" stop-color="#00ff1a"/><stop offset="0.352" stop-color="#08ff00"/><stop offset="0.421" stop-color="#5fff00"/><stop offset="0.484" stop-color="#faff00"/><stop offset="0.579" stop-color="#ff1100"/><stop offset="0.597" stop-color="#ff0000"/><stop offset="1.000" stop-color="#ff0000"/></linearGradient><linearGradient id="g198"><stop offset="0.000" stop-color="#0022ff"/><stop offset="0.078" stop-color="#005aff"/><stop offset="0.181" stop-color="#00e8ff"/><stop offset="0.199" stop-color="#00fff8"/><stop offset="0.337" stop-color="#00ff1a"/><stop offset="0.367" stop-color="#08ff00"/><stop offset="0.434" stop-color="#5dff00"/><stop offset="0.494" stop-color="#f6ff00"/><stop offset="0.572" stop-color="#ff2e00"/><stop offset="0.596" stop-color="#ff0000"/><stop offset="1.000" stop-color="#ff0000"/></linearGradient><linearGradient id="g199"><stop offset="0.000" stop-color="#0013ff"/><stop offset="0.081" stop-color="#0044ff"/><stop offset="0.169" stop-color="#00afff"/><stop offset="0.221" stop-color="#00fff8"/><stop offset="0.349" stop-color="#00ff21"/><stop offset="0.384" stop-color="#08ff00"/><stop offset="0.448" stop-color="#5bff00"/><stop offset="0.500" stop-color="#e2ff00"/><stop offset="0.512" stop-color="#fff900"/><stop offset="0.587" stop-color="#ff2200"/><stop offset="0.605" stop-color="#ff0000"/><stop offset="1.000" stop-color="#ff0000"/></linearGradient><linearGradient id="g200"><stop offset="0.000" stop-color="#0006ff"/><stop offset="0.089" stop-color="#0032ff"/><stop offset="0.178" stop-color="#0097ff"/><stop offset="0.244" stop-color="#00fff7"/><stop offset="0.367" stop-color="#00ff21"/><stop offset="0.400" stop-color="#08ff00"/><stop offset="0.461" stop-color="#5aff00"/><stop offset="0.511" stop-color="#dfff00"/><stop offset="0.522" stop-color="#fffb00"/><stop offset="0.594" stop-color="#ff2400"/><stop offset="0.611" stop-color="#ff0000"/><stop offset="1.000" stop-color="#ff0000"/></linearGradient><linearGradient id="g201"><stop offset="0.000" stop-color="#0000ff"/><stop offset="0.086" stop-color="#0020ff"/><stop offset="0.176" stop-color="#0079ff"/><stop offset="0.262" stop-color="#00fff7"/><stop offset="0.380" stop-color="#00ff21"/><stop offset="0.412" stop-color="#07ff00"/><stop offset="0.471" stop-color="#58ff00"/><stop offset="0.519" stop-color="#ddff00"/><stop offset="0.529" stop-color="#fffe00"/><stop offset="0.599" stop-color="#ff2600"/><stop offset="0.615" stop-color="#ff0000"/><stop offset="1.000" stop-color="#ff0000"/></linearGradient><linearGradient id="g202"><stop offset="0.000" stop-color="#0000ff"/><stop offset="0.077" stop-color="#0010ff"/><stop offset="0.170" stop-color="#005aff"/><stop offset="0.258" stop-color="#00e0ff"/><stop offset="0.278" stop-color="#00fff7"/><stop offset="0.392" stop-color="#00ff21"/><stop offset="0.423" stop-color="#07ff00"/><stop offset="0.479" stop-color="#57ff00"/><stop offset="0.526" stop-color="#dbff00"/><stop offset="0.536" stop-color="#feff00"/><stop offset="0.608" stop-color="#ff1900"/><stop offset="0.619" stop-color="#ff0000"/><stop offset="1.000" stop-color="#ff0000"/></linearGradient><linearGradient id="g203"><stop offset="0.000" stop-color="#0000ff"/><stop offset="0.090" stop-color="#000dff"/><stop offset="0.180" stop-color="#0051ff"/><stop offset="0.265" stop-color="#00ceff"/><stop offset="0.295" stop-color="#00fff6"/><stop offset="0.410" stop-color="#00ff1a"/><stop offset="0.435" stop-color="#07ff00"/><stop offset="0.490" stop-color="#56ff00"/><stop offset="0.535" stop-color="#d9ff00"/><stop offset="0.545" stop-color="#fcff00"/><stop offset="0.615" stop-color="#ff1b00"/><stop offset="0.630" stop-color="#ff0000"/><stop offset="1.000" stop-color="#ff0000"/></linearGradient><linearGradient id="g204"><stop offset="0.000" stop-color="#0001ff"/><stop offset="0.101" stop-color="#000cff"/><stop offset="0.193" stop-color="#004eff"/><stop offset="0.275" stop-color="#00c6ff"/><stop offset="0.309" stop-color="#00fff6"/><stop offset="0.420" stop-color="#00ff1a"/><stop offset="0.444" stop-color="#07ff00"/><stop offset="0.498" stop-color="#55ff00"/><stop offset="0.541" stop-color="#d7ff00"/><stop offset="0.551" stop-color="#fbff00"/><stop offset="0.618" stop-color="#ff1b00"/><stop offset="0.633" stop-color="#ff0000"/><stop offset="1.000" stop-color="#ff0000"/></linearGradient><linearGradient id="g205"><stop offset="0.000" stop-color="#0009ff"/><stop offset="0.098" stop-color="#0007ff"/><stop offset="0.192" stop-color="#003dff"/><stop offset="0.271" stop-color="#00a5ff"/><stop offset="0.322" stop-color="#00fff7"/><stop offset="0.430" stop-color="#00ff1a"/><stop offset="0.453" stop-color="#06ff00"/><stop offset="0.505" stop-color="#54ff00"/><stop offset="0.542" stop-color="#c5ff00"/><stop offset="0.556" stop-color="#f9ff00"/><stop offset="0.626" stop-color="#ff0f00"/><stop offset="0.640" stop-color="#ff0000"/><stop offset="1.000" stop-color="#ff0000"/></linearGradient><linearGradient id="g206"><stop offset="0.000" stop-color="#0015ff"/><stop offset="0.104" stop-color="#0006ff"/><stop offset="0.195" stop-color="#0030ff"/><stop offset="0.271" stop-color="#0088ff"/><stop offset="0.339" stop-color="#00fff7"/><stop offset="0.443" stop-color="#00ff1b"/><stop offset="0.466" stop-color="#06ff00"/><stop offset="0.516" stop-color="#53ff00"/><stop offset="0.552" stop-color="#c4ff00"/><stop offset="0.566" stop-color="#f8ff00"/><stop offset="0.633" stop-color="#ff0f00"/><stop offset="0.647" stop-color="#ff0000"/><stop offset="1.000" stop-color="#ff0000"/></linearGradient><linearGradient id="g207"><stop offset="0.000" stop-color="#0023ff"/><stop offset="0.110" stop-color="#0008ff"/><stop offset="0.202" stop-color="#002cff"/><stop offset="0.281" stop-color="#0083ff"/><stop offset="0.351" stop-color="#00fff9"/><stop offset="0.456" stop-color="#00ff14"/><stop offset="0.478" stop-color="#0cff00"/><stop offset="0.526" stop-color="#5eff00"/><stop offset="0.566" stop-color="#e5ff00"/><stop offset="0.575" stop-color="#fff500"/><stop offset="0.632" stop-color="#ff1c00"/><stop offset="0.645" stop-color="#ff0000"/><stop offset="1.000" stop-color="#ff0000"/></linearGradient><linearGradient id="g208"><stop offset="0.000" stop-color="#0032ff"/><stop offset="0.115" stop-color="#000cff"/><stop offset="0.204" stop-color="#0026ff"/><stop offset="0.285" stop-color="#0077ff"/><stop offset="0.362" stop-color="#00fffb"/><stop offset="0.464" stop-color="#00ff15"/><stop offset="0.485" stop-color="#0bff00"/><stop offset="0.532" stop-color="#5dff00"/><stop offset="0.570" stop-color="#e4ff00"/><stop offset="0.579" stop-color="#fff600"/><stop offset="0.634" stop-color="#ff1b00"/><stop offset="0.647" stop-color="#ff0000"/><stop offset="1.000" stop-color="#ff0000"/></linearGradient><linearGradient id="g209"><stop offset="0.000" stop-color="#0042ff"/><stop offset="0.124" stop-color="#0010ff"/><stop offset="0.211" stop-color="#0023ff"/><stop offset="0.289" stop-color="#006dff"/><stop offset="0.364" stop-color="#00eeff"/><stop offset="0.376" stop-color="#00fff4"/><stop offset="0.471" stop-color="#00ff16"/><stop offset="0.492" stop-color="#0bff00"/><stop offset="0.537" stop-color="#5dff00"/><stop offset="0.574" stop-color="#e4ff00"/><stop offset="0.583" stop-color="#fff700"/><stop offset="0.636" stop-color="#ff1a00"/><stop offset="0.645" stop-color="#ff0000"/><stop offset="1.000" stop-color="#ff0000"/></linearGradient><linearGradient id="g210"><stop offset="0.000" stop-color="#0053ff"/><stop offset="0.137" stop-color="#0014ff"/><stop offset="0.222" stop-color="#0023ff"/><stop offset="0.302" stop-color="#006eff"/><stop offset="0.375" stop-color="#00ecff"/><stop offset="0.387" stop-color="#00fff7"/><stop offset="0.480" stop-color="#00ff17"/><stop offset="0.500" stop-color="#0bff00"/><stop offset="0.544" stop-color="#5dff00"/><stop offset="0.581" stop-color="#e3ff00"/><stop offset="0.589" stop-color="#fff700"/><stop offset="0.641" stop-color="#ff1800"/><stop offset="0.649" stop-color="#ff0000"/><stop offset="1.000" stop-color="#ff0000"/></linearGradient><linearGradient id="g211"><stop offset="0.000" stop-color="#0066ff"/><stop offset="0.152" stop-color="#0017ff"/><stop offset="0.234" stop-color="#0024ff"/><stop offset="0.312" stop-color="#006aff"/><stop offset="0.383" stop-color="#00e1ff"/><stop offset="0.398" stop-color="#00fffa"/><stop offset="0.492" stop-color="#00ff10"/><stop offset="0.512" stop-color="#10ff00"/><stop offset="0.551" stop-color="#5dff00"/><stop offset="0.586" stop-color="#e3ff00"/><stop offset="0.594" stop-color="#fff700"/><stop offset="0.645" stop-color="#ff1700"/><stop offset="0.656" stop-color="#ff0000"/><stop offset="1.000" stop-color="#ff0000"/></linearGradient><linearGradient id="g212"><stop offset="0.000" stop-color="#0074ff"/><stop offset="0.171" stop-color="#0019ff"/><stop offset="0.251" stop-color="#0028ff"/><stop offset="0.331" stop-color="#0075ff"/><stop offset="0.395" stop-color="#00e6ff"/><stop offset="0.411" stop-color="#00fff4"/><stop offset="0.498" stop-color="#00ff11"/><stop offset="0.517" stop-color="#10ff00"/><stop offset="0.555" stop-color="#5dff00"/><stop offset="0.589" stop-color="#e3ff00"/><stop offset="0.597" stop-color="#fff700"/><stop offset="0.646" stop-color="#ff1600"/><stop offset="0.658" stop-color="#ff0000"/><stop offset="1.000" stop-color="#ff0000"/></linearGradient><linearGradient id="g213"><stop offset="0.000" stop-color="#0074ff"/><stop offset="0.174" stop-color="#001bff"/><stop offset="0.253" stop-color="#002cff"/><stop offset="0.336" stop-color="#0080ff"/><stop offset="0.400" stop-color="#00f4ff"/><stop offset="0.419" stop-color="#00ffda"/><stop offset="0.494" stop-color="#00ff12"/><stop offset="0.513" stop-color="#10ff00"/><stop offset="0.551" stop-color="#5dff00"/><stop offset="0.585" stop-color="#e3ff00"/><stop offset="0.592" stop-color="#fff700"/><stop offset="0.642" stop-color="#ff1400"/><stop offset="0.653" stop-color="#ff0000"/><stop offset="1.000" stop-color="#ff0000"/></linearGradient><linearGradient id="g214"><stop offset="0.000" stop-color="#0075ff"/><stop offset="0.174" stop-color="#001cff"/><stop offset="0.249" stop-color="#002eff"/><stop offset="0.336" stop-color="#0085ff"/><stop offset="0.396" stop-color="#00f1ff"/><stop offset="0.411" stop-color="#00ffe8"/><stop offset="0.494" stop-color="#00ff0b"/><stop offset="0.517" stop-color="#1cff00"/><stop offset="0.551" stop-color="#68ff00"/><stop offset="0.589" stop-color="#fff700"/><stop offset="0.634" stop-color="#ff2100"/><stop offset="0.645" stop-color="#ff0000"/><stop offset="1.000" stop-color="#ff0000"/></linearGradient><linearGradient id="g215"><stop offset="0.000" stop-color="#0074ff"/><stop offset="0.166" stop-color="#001dff"/><stop offset="0.242" stop-color="#002fff"/><stop offset="0.332" stop-color="#008aff"/><stop offset="0.392" stop-color="#00f6ff"/><stop offset="0.411" stop-color="#00ffd8"/><stop offset="0.487" stop-color="#00ff0d"/><stop offset="0.506" stop-color="#15ff00"/><stop offset="0.543" stop-color="#69ff00"/><stop offset="0.581" stop-color="#fff700"/><stop offset="0.626" stop-color="#ff1f00"/><stop offset="0.638" stop-color="#ff0000"/><stop offset="1.000" stop-color="#ff0000"/></linearGradient><linearGradient id="g216"><stop offset="0.000" stop-color="#0071ff"/><stop offset="0.162" stop-color="#001eff"/><stop offset="0.237" stop-color="#0030ff"/><stop offset="0.331" stop-color="#008eff"/><stop offset="0.395" stop-color="#00fff9"/><stop offset="0.485" stop-color="#00ff06"/><stop offset="0.530" stop-color="#53ff00"/><stop offset="0.560" stop-color="#c1ff00"/><stop offset="0.575" stop-color="#fff700"/><stop offset="0.620" stop-color="#ff1e00"/><stop offset="0.632" stop-color="#ff0000"/><stop offset="1.000" stop-color="#ff0000"/></linearGradient><linearGradient id="g217"><stop offset="0.000" stop-color="#006dff"/><stop offset="0.158" stop-color="#001eff"/><stop offset="0.234" stop-color="#0034ff"/><stop offset="0.332" stop-color="#0098ff"/><stop offset="0.389" stop-color="#00fffd"/><stop offset="0.479" stop-color="#00ff08"/><stop offset="0.525" stop-color="#54ff00"/><stop offset="0.558" stop-color="#d2ff00"/><stop offset="0.570" stop-color="#fff600"/><stop offset="0.615" stop-color="#ff1d00"/><stop offset="0.623" stop-color="#ff0100"/><stop offset="1.000" stop-color="#ff0000"/></linearGradient><linearGradient id="g218"><stop offset="0.000" stop-color="#0069ff"/><stop offset="0.151" stop-color="#001eff"/><stop offset="0.226" stop-color="#0034ff"/><stop offset="0.325" stop-color="#0098ff"/><stop offset="0.381" stop-color="#00ffff"/><stop offset="0.475" stop-color="#00ff01"/><stop offset="0.521" stop-color="#60ff00"/><stop offset="0.555" stop-color="#e4ff00"/><stop offset="0.562" stop-color="#fff500"/><stop offset="0.608" stop-color="#ff1b00"/><stop offset="0.615" stop-color="#ff0000"/><stop offset="1.000" stop-color="#ff0000"/></linearGradient><linearGradient id="g219"><stop offset="0.000" stop-color="#0063ff"/><stop offset="0.147" stop-color="#001eff"/><stop offset="0.223" stop-color="#0038ff"/><stop offset="0.325" stop-color="#00a3ff"/><stop offset="0.377" stop-color="#00fff8"/><stop offset="0.468" stop-color="#00ff03"/><stop offset="0.513" stop-color="#63ff00"/><stop offset="0.547" stop-color="#e6ff00"/><stop offset="0.555" stop-color="#fff500"/><stop offset="0.600" stop-color="#ff1a00"/><stop offset="0.608" stop-color="#ff0000"/><stop offset="1.000" stop-color="#ff0000"/></linearGradient><linearGradient id="g220"><stop offset="0.000" stop-color="#005fff"/><stop offset="0.147" stop-color="#001dff"/><stop offset="0.226" stop-color="#003eff"/><stop offset="0.325" stop-color="#00aaff"/><stop offset="0.374" stop-color="#00fff9"/><stop offset="0.464" stop-color="#00ff04"/><stop offset="0.509" stop-color="#65ff00"/><stop offset="0.543" stop-color="#e7ff00"/><stop offset="0.551" stop-color="#fff400"/><stop offset="0.596" stop-color="#ff1800"/><stop offset="0.604" stop-color="#ff0000"/><stop offset="1.000" stop-color="#ff0000"/></linearGradient><linearGradient id="g221"><stop offset="0.000" stop-color="#0059ff"/><stop offset="0.141" stop-color="#001dff"/><stop offset="0.221" stop-color="#003eff"/><stop offset="0.319" stop-color="#00abff"/><stop offset="0.369" stop-color="#00fff9"/><stop offset="0.464" stop-color="#03ff00"/><stop offset="0.513" stop-color="#80ff00"/><stop offset="0.544" stop-color="#f9ff00"/><stop offset="0.597" stop-color="#ff0900"/><stop offset="0.631" stop-color="#ff0000"/><stop offset="1.000" stop-color="#ff0000"/></linearGradient><linearGradient id="g222"><stop offset="0.000" stop-color="#0054ff"/><stop offset="0.141" stop-color="#001eff"/><stop offset="0.223" stop-color="#0042ff"/><stop offset="0.324" stop-color="#00b4ff"/><stop offset="0.371" stop-color="#00fff6"/><stop offset="0.469" stop-color="#02ff00"/><stop offset="0.520" stop-color="#83ff00"/><stop offset="0.551" stop-color="#faff00"/><stop offset="0.605" stop-color="#ff0800"/><stop offset="0.785" stop-color="#ff0000"/><stop offset="1.000" stop-color="#ff0000"/></linearGradient><linearGradient id="g223"><stop offset="0.000" stop-color="#004fff"/><stop offset="0.144" stop-color="#001fff"/><stop offset="0.228" stop-color="#0046ff"/><stop offset="0.328" stop-color="#00b8ff"/><stop offset="0.372" stop-color="#00fffa"/><stop offset="0.476" stop-color="#02ff00"/><stop offset="0.532" stop-color="#92ff00"/><stop offset="0.560" stop-color="#fbff00"/><stop offset="0.616" stop-color="#ff0800"/><stop offset="1.000" stop-color="#ff0000"/></linearGradient><linearGradient id="g224"><stop offset="0.000" stop-color="#004aff"/><stop offset="0.140" stop-color="#0020ff"/><stop offset="0.226" stop-color="#0047ff"/><stop offset="0.325" stop-color="#00b7ff"/><stop offset="0.370" stop-color="#00fffd"/><stop offset="0.481" stop-color="#02ff00"/><stop offset="0.543" stop-color="#a1ff00"/><stop offset="0.568" stop-color="#fbff00"/><stop offset="0.626" stop-color="#ff0800"/><stop offset="1.000" stop-color="#ff0000"/></linearGradient><linearGradient id="g225"><stop offset="0.000" stop-color="#0045ff"/><stop offset="0.140" stop-color="#0022ff"/><stop offset="0.226" stop-color="#0048ff"/><stop offset="0.323" stop-color="#00b6ff"/><stop offset="0.374" stop-color="#00fff6"/><stop offset="0.489" stop-color="#03ff00"/><stop offset="0.557" stop-color="#b1ff00"/><stop offset="0.579" stop-color="#fcff00"/><stop offset="0.638" stop-color="#ff0900"/><stop offset="0.702" stop-color="#ff0000"/><stop offset="1.000" stop-color="#ff0000"/></linearGradient><linearGradient id="g226"><stop offset="0.000" stop-color="#0041ff"/><stop offset="0.140" stop-color="#0024ff"/><stop offset="0.228" stop-color="#004dff"/><stop offset="0.325" stop-color="#00bcff"/><stop offset="0.373" stop-color="#00fff6"/><stop offset="0.496" stop-color="#06ff00"/><stop offset="0.566" stop-color="#b3ff00"/><stop offset="0.588" stop-color="#fcff00"/><stop offset="0.649" stop-color="#ff0a00"/><stop offset="0.675" stop-color="#ff0000"/><stop offset="1.000" stop-color="#ff0000"/></linearGradient><linearGradient id="g227"><stop offset="0.000" stop-color="#003eff"/><stop offset="0.149" stop-color="#0027ff"/><stop offset="0.234" stop-color="#0052ff"/><stop offset="0.333" stop-color="#00c9ff"/><stop offset="0.374" stop-color="#00fff6"/><stop offset="0.491" stop-color="#00ff14"/><stop offset="0.505" stop-color="#09ff00"/><stop offset="0.581" stop-color="#c2ff00"/><stop offset="0.599" stop-color="#fcff00"/><stop offset="0.662" stop-color="#ff0b00"/><stop offset="0.676" stop-color="#ff0000"/><stop offset="1.000" stop-color="#ff0000"/></linearGradient><linearGradient id="g228"><stop offset="0.000" stop-color="#003bff"/><stop offset="0.149" stop-color="#0029ff"/><stop offset="0.237" stop-color="#0058ff"/><stop offset="0.344" stop-color="#00ddff"/><stop offset="0.372" stop-color="#00fff6"/><stop offset="0.493" stop-color="#00ff1a"/><stop offset="0.512" stop-color="#0dff00"/><stop offset="0.595" stop-color="#d0ff00"/><stop offset="0.609" stop-color="#fcff00"/><stop offset="0.679" stop-color="#ff0000"/><stop offset="1.000" stop-color="#ff0000"/></linearGradient><linearGradient id="g229"><stop offset="0.000" stop-color="#0039ff"/><stop offset="0.149" stop-color="#002cff"/><stop offset="0.236" stop-color="#005bff"/><stop offset="0.346" stop-color="#00e5ff"/><stop offset="0.370" stop-color="#00fff6"/><stop offset="0.495" stop-color="#00ff1f"/><stop offset="0.514" stop-color="#08ff00"/><stop offset="0.606" stop-color="#d2ff00"/><stop offset="0.620" stop-color="#fdff00"/><stop offset="0.692" stop-color="#ff0000"/><stop offset="1.000" stop-color="#ff0000"/></linearGradient><linearGradient id="g230"><stop offset="0.000" stop-color="#0037ff"/><stop offset="0.150" stop-color="#002eff"/><stop offset="0.240" stop-color="#0063ff"/><stop offset="0.365" stop-color="#00fffc"/><stop offset="0.495" stop-color="#00ff2d"/><stop offset="0.520" stop-color="#03ff00"/><stop offset="0.620" stop-color="#d3ff00"/><stop offset="0.635" stop-color="#fdff00"/><stop offset="0.710" stop-color="#ff0000"/><stop offset="1.000" stop-color="#ff0000"/></linearGradient><linearGradient id="g231"><stop offset="0.000" stop-color="#0035ff"/><stop offset="0.149" stop-color="#0030ff"/><stop offset="0.237" stop-color="#0062ff"/><stop offset="0.366" stop-color="#00fffc"/><stop offset="0.505" stop-color="#00ff28"/><stop offset="0.531" stop-color="#08ff00"/><stop offset="0.634" stop-color="#d5ff00"/><stop offset="0.649" stop-color="#feff00"/><stop offset="0.727" stop-color="#ff0000"/><stop offset="1.000" stop-color="#ff0000"/></linearGradient><linearGradient id="g232"><stop offset="0.000" stop-color="#0034ff"/><stop offset="0.144" stop-color="#0031ff"/><stop offset="0.235" stop-color="#0066ff"/><stop offset="0.364" stop-color="#00fffc"/><stop offset="0.508" stop-color="#00ff2b"/><stop offset="0.535" stop-color="#03ff00"/><stop offset="0.647" stop-color="#d6ff00"/><stop offset="0.663" stop-color="#feff00"/><stop offset="0.743" stop-color="#ff0000"/><stop offset="1.000" stop-color="#ff0000"/></linearGradient><linearGradient id="g233"><stop offset="0.000" stop-color="#0032ff"/><stop offset="0.144" stop-color="#0035ff"/><stop offset="0.233" stop-color="#006aff"/><stop offset="0.361" stop-color="#00fffb"/><stop offset="0.517" stop-color="#00ff26"/><stop offset="0.544" stop-color="#08ff00"/><stop offset="0.661" stop-color="#d7ff00"/><stop offset="0.678" stop-color="#ffff00"/><stop offset="0.761" stop-color="#ff0100"/><stop offset="1.000" stop-color="#ff0000"/></linearGradient><linearGradient id="g234"><stop offset="0.000" stop-color="#0030ff"/><stop offset="0.144" stop-color="#0036ff"/><stop offset="0.236" stop-color="#006eff"/><stop offset="0.362" stop-color="#00fffb"/><stop offset="0.529" stop-color="#00ff21"/><stop offset="0.557" stop-color="#0dff00"/><stop offset="0.678" stop-color="#d8ff00"/><stop offset="0.695" stop-color="#fffe00"/><stop offset="0.782" stop-color="#ff0100"/><stop offset="1.000" stop-color="#ff0000"/></linearGradient><linearGradient id="g235"><stop offset="0.000" stop-color="#002fff"/><stop offset="0.144" stop-color="#003bff"/><stop offset="0.240" stop-color="#0079ff"/><stop offset="0.359" stop-color="#00fffb"/><stop offset="0.539" stop-color="#00ff1c"/><stop offset="0.563" stop-color="#09ff00"/><stop offset="0.695" stop-color="#daff00"/><stop offset="0.713" stop-color="#fffe00"/><stop offset="0.802" stop-color="#ff0200"/><stop offset="1.000" stop-color="#ff0000"/></linearGradient><linearGradient id="g236"><stop offset="0.000" stop-color="#002eff"/><stop offset="0.145" stop-color="#0040ff"/><stop offset="0.239" stop-color="#007fff"/><stop offset="0.358" stop-color="#00fffb"/><stop offset="0.547" stop-color="#00ff1f"/><stop offset="0.572" stop-color="#05ff00"/><stop offset="0.717" stop-color="#dbff00"/><stop offset="0.736" stop-color="#fffd00"/><stop offset="0.830" stop-color="#ff0300"/><stop offset="1.000" stop-color="#ff0000"/></linearGradient><linearGradient id="g237"><stop offset="0.000" stop-color="#002eff"/><stop offset="0.145" stop-color="#0046ff"/><stop offset="0.243" stop-color="#008bff"/><stop offset="0.355" stop-color="#00fffb"/><stop offset="0.559" stop-color="#00ff1a"/><stop offset="0.586" stop-color="#0aff00"/><stop offset="0.743" stop-color="#e8ff00"/><stop offset="0.757" stop-color="#fffd00"/><stop offset="0.842" stop-color="#ff2700"/><stop offset="0.855" stop-color="#ff0300"/><stop offset="1.000" stop-color="#ff0000"/></linearGradient><linearGradient id="g238"><stop offset="0.000" stop-color="#002fff"/><stop offset="0.144" stop-color="#004aff"/><stop offset="0.247" stop-color="#0092ff"/><stop offset="0.356" stop-color="#00fffb"/><stop offset="0.568" stop-color="#00ff1d"/><stop offset="0.596" stop-color="#07ff00"/><stop offset="0.767" stop-color="#e9ff00"/><stop offset="0.788" stop-color="#ffee00"/><stop offset="0.884" stop-color="#ff0400"/><stop offset="1.000" stop-color="#ff0000"/></linearGradient><linearGradient id="g239"><stop offset="0.000" stop-color="#0031ff"/><stop offset="0.144" stop-color="#0053ff"/><stop offset="0.259" stop-color="#00a7ff"/><stop offset="0.353" stop-color="#00fffb"/><stop offset="0.576" stop-color="#00ff1f"/><stop offset="0.612" stop-color="#0dff00"/><stop offset="0.791" stop-color="#ebff00"/><stop offset="0.813" stop-color="#ffed00"/><stop offset="0.914" stop-color="#ff0600"/><stop offset="1.000" stop-color="#ff0000"/></linearGradient><linearGradient id="g240"><stop offset="0.000" stop-color="#0036ff"/><stop offset="0.144" stop-color="#005dff"/><stop offset="0.288" stop-color="#00ccff"/><stop offset="0.348" stop-color="#00fffb"/><stop offset="0.591" stop-color="#00ff19"/><stop offset="0.621" stop-color="#0aff00"/><stop offset="0.818" stop-color="#edff00"/><stop offset="0.841" stop-color="#ffeb00"/><stop offset="0.947" stop-color="#ff0700"/><stop offset="1.000" stop-color="#ff0000"/></linearGradient><linearGradient id="g241"><stop offset="0.000" stop-color="#003cff"/><stop offset="0.145" stop-color="#0069ff"/><stop offset="0.347" stop-color="#00fffa"/><stop offset="0.605" stop-color="#00ff1c"/><stop offset="0.637" stop-color="#07ff00"/><stop offset="0.855" stop-color="#f1ff00"/><stop offset="0.879" stop-color="#ffe800"/><stop offset="0.992" stop-color="#ff1e00"/><stop offset="1.000" stop-color="#ff1100"/></linearGradient><linearGradient id="g242"><stop offset="0.000" stop-color="#0043ff"/><stop offset="0.144" stop-color="#0073ff"/><stop offset="0.347" stop-color="#00fff9"/><stop offset="0.619" stop-color="#00ff1e"/><stop offset="0.653" stop-color="#04ff00"/><stop offset="0.898" stop-color="#fffc00"/><stop offset="1.000" stop-color="#ff6800"/></linearGradient><linearGradient id="g243"><stop offset="0.000" stop-color="#004dff"/><stop offset="0.144" stop-color="#0082ff"/><stop offset="0.342" stop-color="#00fff7"/><stop offset="0.631" stop-color="#00ff21"/><stop offset="0.676" stop-color="#0bff00"/><stop offset="0.928" stop-color="#feff00"/><stop offset="1.000" stop-color="#ffb500"/></linearGradient><linearGradient id="g244"><stop offset="0.000" stop-color="#0059ff"/><stop offset="0.154" stop-color="#0098ff"/><stop offset="0.327" stop-color="#00fffa"/><stop offset="0.635" stop-color="#00ff2b"/><stop offset="0.692" stop-color="#08ff00"/><stop offset="0.962" stop-color="#f1ff00"/><stop offset="1.000" stop-color="#fff200"/></linearGradient><linearGradient id="g245"><stop offset="0.000" stop-color="#0068ff"/><stop offset="0.186" stop-color="#00bcff"/><stop offset="0.320" stop-color="#00fff6"/><stop offset="0.649" stop-color="#00ff2d"/><stop offset="0.711" stop-color="#05ff00"/><stop offset="0.948" stop-color="#c5ff00"/><stop offset="1.000" stop-color="#e0ff00"/></linearGradient><linearGradient id="g246"><stop offset="0.000" stop-color="#0078ff"/><stop offset="0.209" stop-color="#00d4ff"/><stop offset="0.308" stop-color="#00fff7"/><stop offset="0.670" stop-color="#00ff2e"/><stop offset="0.747" stop-color="#0bff00"/><stop offset="0.945" stop-color="#a2ff00"/><stop offset="1.000" stop-color="#bbff00"/></linearGradient><linearGradient id="g247"><stop offset="0.000" stop-color="#008cff"/><stop offset="0.289" stop-color="#00fff7"/><stop offset="0.687" stop-color="#00ff37"/><stop offset="0.783" stop-color="#08ff00"/><stop offset="0.952" stop-color="#7eff00"/><stop offset="1.000" stop-color="#93ff00"/></linearGradient><linearGradient id="g248"><stop offset="0.000" stop-color="#00a1ff"/><stop offset="0.263" stop-color="#00fff7"/><stop offset="0.711" stop-color="#00ff37"/><stop offset="0.816" stop-color="#06ff00"/><stop offset="0.961" stop-color="#5eff00"/><stop offset="1.000" stop-color="#6fff00"/></linearGradient><linearGradient id="g249"><stop offset="0.000" stop-color="#00b4ff"/><stop offset="0.243" stop-color="#00fff6"/><stop offset="0.743" stop-color="#00ff36"/><stop offset="0.857" stop-color="#05ff00"/><stop offset="1.000" stop-color="#48ff00"/></linearGradient><linearGradient id="g250"><stop offset="0.000" stop-color="#00caff"/><stop offset="0.206" stop-color="#00fff7"/><stop offset="0.762" stop-color="#00ff3b"/><stop offset="0.905" stop-color="#02ff00"/><stop offset="1.000" stop-color="#21ff00"/></linearGradient><linearGradient id="g251"><stop offset="0.000" stop-color="#00dfff"/><stop offset="0.161" stop-color="#00fff7"/><stop offset="0.804" stop-color="#00ff39"/><stop offset="1.000" stop-color="#00ff02"/></linearGradient><linearGradient id="g252"><stop offset="0.000" stop-color="#00f2ff"/><stop offset="0.125" stop-color="#00fff4"/><stop offset="1.000" stop-color="#00ff22"/></linearGradient><linearGradient id="g253"><stop offset="0.000" stop-color="#00fffd"/><stop offset="0.690" stop-color="#00ff75"/><stop offset="1.000" stop-color="#00ff3b"/></linearGradient><linearGradient id="g254"><stop offset="0.000" stop-color="#00ffed"/><stop offset="0.771" stop-color="#00ff6d"/><stop offset="1.000" stop-color="#00ff51"/></linearGradient><linearGradient id="g255"><stop offset="0.000" stop-color="#00ffde"/><stop offset="0.964" stop-color="#00ff69"/><stop offset="1.000" stop-color="#00ff66"/></linearGradient><linearGradient id="g256"><stop offset="0.000" stop-color="#00ffcf"/><stop offset="1.000" stop-color="#00ff7b"/></linearGradient><linearGradient id="g257"><stop offset="0.000" stop-color="#00ffc3"/><stop offset="1.000" stop-color="#00ff92"/></linearGradient><linearGradient id="g258"><stop offset="0.000" stop-color="#00ffb3"/><stop offset="1.000" stop-color="#00ffa6"/></linearGradient><clipPath id="c259"><rect x="384" y="714" width="224" height="165"/></clipPath><linearGradient id="g260"><stop offset="0.000" stop-color="#ff0000"/><stop offset="0.310" stop-color="#ff0600"/><stop offset="0.389" stop-color="#fcff00"/><stop offset="0.467" stop-color="#31ff00"/><stop offset="0.493" stop-color="#00ff06"/><stop offset="0.624" stop-color="#00ffed"/><stop offset="0.646" stop-color="#00f0ff"/><stop offset="0.729" stop-color="#008eff"/><stop offset="0.795" stop-color="#0081ff"/><stop offset="0.974" stop-color="#00b8ff"/><stop offset="1.000" stop-color="#00b6ff"/></linearGradient><linearGradient id="g261"><stop offset="0.000" stop-color="#ff0000"/><stop offset="0.310" stop-color="#ff0500"/><stop offset="0.389" stop-color="#fcff00"/><stop offset="0.463" stop-color="#3aff00"/><stop offset="0.493" stop-color="#00ff07"/><stop offset="0.624" stop-color="#00ffef"/><stop offset="0.646" stop-color="#00eeff"/><stop offset="0.729" stop-color="#008aff"/><stop offset="0.795" stop-color="#007dff"/><stop offset="0.974" stop-color="#00b4ff"/><stop offset="1.000" stop-color="#00b2ff"/></linearGradient><linearGradient id="g262"><stop offset="0.000" stop-color="#ff0000"/><stop offset="0.310" stop-color="#ff0400"/><stop offset="0.389" stop-color="#fcff00"/><stop offset="0.463" stop-color="#39ff00"/><stop offset="0.493" stop-color="#00ff08"/><stop offset="0.620" stop-color="#00ffe9"/><stop offset="0.642" stop-color="#00f3ff"/><stop offset="0.725" stop-color="#008bff"/><stop offset="0.786" stop-color="#0078ff"/><stop offset="0.974" stop-color="#00afff"/><stop offset="1.000" stop-color="#00adff"/></linearGradient><linearGradient id="g263"><stop offset="0.000" stop-color="#ff0000"/><stop offset="0.310" stop-color="#ff0300"/><stop offset="0.389" stop-color="#fcff00"/><stop offset="0.463" stop-color="#39ff00"/><stop offset="0.493" stop-color="#00ff08"/><stop offset="0.620" stop-color="#00ffeb"/><stop offset="0.638" stop-color="#00f8ff"/><stop offset="0.725" stop-color="#0088ff"/><stop offset="0.786" stop-color="#0075ff"/><stop offset="0.974" stop-color="#00aaff"/><stop offset="1.000" stop-color="#00a8ff"/></linearGradient><linearGradient id="g264"><stop offset="0.000" stop-color="#ff0000"/><stop offset="0.310" stop-color="#ff0200"/><stop offset="0.389" stop-color="#fcff00"/><stop offset="0.463" stop-color="#38ff00"/><stop offset="0.493" stop-color="#00ff09"/><stop offset="0.620" stop-color="#00ffec"/><stop offset="0.642" stop-color="#00f0ff"/><stop offset="0.725" stop-color="#0086ff"/><stop offset="0.790" stop-color="#0072ff"/><stop offset="0.978" stop-color="#00a4ff"/><stop offset="1.000" stop-color="#00a2ff"/></linearGradient><linearGradient id="g265"><stop offset="0.000" stop-color="#ff0000"/><stop offset="0.310" stop-color="#ff0000"/><stop offset="0.389" stop-color="#fdff00"/><stop offset="0.463" stop-color="#39ff00"/><stop offset="0.493" stop-color="#00ff09"/><stop offset="0.616" stop-color="#00ffe6"/><stop offset="0.638" stop-color="#00f6ff"/><stop offset="0.725" stop-color="#0085ff"/><stop offset="0.790" stop-color="#006fff"/><stop offset="0.978" stop-color="#009eff"/><stop offset="1.000" stop-color="#009dff"/></linearGradient><linearGradient id="g266"><stop offset="0.000" stop-color="#ff0000"/><stop offset="0.310" stop-color="#ff0000"/><stop offset="0.389" stop-color="#fdff00"/><stop offset="0.463" stop-color="#39ff00"/><stop offset="0.489" stop-color="#00ff00"/><stop offset="0.611" stop-color="#00ffe0"/><stop offset="0.638" stop-color="#00f5ff"/><stop offset="0.725" stop-color="#0084ff"/><stop offset="0.790" stop-color="#006cff"/><stop offset="0.978" stop-color="#0098ff"/><stop offset="1.000" stop-color="#0097ff"/></linearGradient><linearGradient id="g267"><stop offset="0.000" stop-color="#ff0000"/><stop offset="0.310" stop-color="#ff0000"/><stop offset="0.389" stop-color="#feff00"/><stop offset="0.463" stop-color="#39ff00"/><stop offset="0.489" stop-color="#00ff00"/><stop offset="0.607" stop-color="#00ffda"/><stop offset="0.633" stop-color="#00fbff"/><stop offset="0.721" stop-color="#0086ff"/><stop offset="0.786" stop-color="#006aff"/><stop offset="0.983" stop-color="#0091ff"/><stop offset="1.000" stop-color="#0090ff"/></linearGradient><linearGradient id="g268"><stop offset="0.000" stop-color="#ff0000"/><stop offset="0.310" stop-color="#ff0000"/><stop offset="0.389" stop-color="#ffff00"/><stop offset="0.467" stop-color="#2fff00"/><stop offset="0.493" stop-color="#00ff0a"/><stop offset="0.611" stop-color="#00ffe2"/><stop offset="0.633" stop-color="#00faff"/><stop offset="0.721" stop-color="#0085ff"/><stop offset="0.790" stop-color="#0067ff"/><stop offset="0.987" stop-color="#008aff"/><stop offset="1.000" stop-color="#008aff"/></linearGradient><linearGradient id="g269"><stop offset="0.000" stop-color="#ff0000"/><stop offset="0.310" stop-color="#ff0000"/><stop offset="0.389" stop-color="#fffe00"/><stop offset="0.467" stop-color="#30ff00"/><stop offset="0.493" stop-color="#00ff0a"/><stop offset="0.611" stop-color="#00ffe3"/><stop offset="0.633" stop-color="#00f9ff"/><stop offset="0.721" stop-color="#0085ff"/><stop offset="0.790" stop-color="#0065ff"/><stop offset="0.991" stop-color="#0084ff"/><stop offset="1.000" stop-color="#0084ff"/></linearGradient><linearGradient id="g270"><stop offset="0.000" stop-color="#ff0000"/><stop offset="0.310" stop-color="#ff0000"/><stop offset="0.389" stop-color="#fffe00"/><stop offset="0.472" stop-color="#26ff00"/><stop offset="0.493" stop-color="#00ff0a"/><stop offset="0.607" stop-color="#00ffdc"/><stop offset="0.633" stop-color="#00f8ff"/><stop offset="0.721" stop-color="#0084ff"/><stop offset="0.790" stop-color="#0063ff"/><stop offset="1.000" stop-color="#007dff"/></linearGradient><linearGradient id="g271"><stop offset="0.000" stop-color="#ff0000"/><stop offset="0.314" stop-color="#ff0700"/><stop offset="0.389" stop-color="#fffd00"/><stop offset="0.476" stop-color="#1cff00"/><stop offset="0.493" stop-color="#00ff0a"/><stop offset="0.607" stop-color="#00ffdd"/><stop offset="0.633" stop-color="#00f7ff"/><stop offset="0.721" stop-color="#0083ff"/><stop offset="0.795" stop-color="#0060ff"/><stop offset="1.000" stop-color="#0077ff"/></linearGradient><linearGradient id="g272"><stop offset="0.000" stop-color="#ff0000"/><stop offset="0.314" stop-color="#ff0600"/><stop offset="0.389" stop-color="#fffc00"/><stop offset="0.480" stop-color="#12ff00"/><stop offset="0.493" stop-color="#00ff0b"/><stop offset="0.607" stop-color="#00ffde"/><stop offset="0.633" stop-color="#00f6ff"/><stop offset="0.721" stop-color="#0082ff"/><stop offset="0.795" stop-color="#005dff"/><stop offset="1.000" stop-color="#0070ff"/></linearGradient><linearGradient id="g273"><stop offset="0.000" stop-color="#ff0000"/><stop offset="0.314" stop-color="#ff0400"/><stop offset="0.389" stop-color="#fffc00"/><stop offset="0.485" stop-color="#08ff00"/><stop offset="0.568" stop-color="#00ff9d"/><stop offset="0.629" stop-color="#00fcff"/><stop offset="0.721" stop-color="#0081ff"/><stop offset="0.795" stop-color="#005bff"/><stop offset="1.000" stop-color="#006aff"/></linearGradient><linearGradient id="g274"><stop offset="0.000" stop-color="#ff0000"/><stop offset="0.314" stop-color="#ff0300"/><stop offset="0.389" stop-color="#fffb00"/><stop offset="0.485" stop-color="#08ff00"/><stop offset="0.603" stop-color="#00ffd9"/><stop offset="0.633" stop-color="#00f4ff"/><stop offset="0.725" stop-color="#007dff"/><stop offset="0.803" stop-color="#0057ff"/><stop offset="1.000" stop-color="#0063ff"/></linearGradient><linearGradient id="g275"><stop offset="0.000" stop-color="#ff0000"/><stop offset="0.314" stop-color="#ff0200"/><stop offset="0.389" stop-color="#fffa00"/><stop offset="0.485" stop-color="#08ff00"/><stop offset="0.620" stop-color="#00fff6"/><stop offset="0.707" stop-color="#008dff"/><stop offset="0.782" stop-color="#005aff"/><stop offset="0.921" stop-color="#005cff"/><stop offset="1.000" stop-color="#005dff"/></linearGradient><linearGradient id="g276"><stop offset="0.000" stop-color="#ff0000"/><stop offset="0.314" stop-color="#ff0000"/><stop offset="0.389" stop-color="#fffa00"/><stop offset="0.489" stop-color="#00ff02"/><stop offset="0.594" stop-color="#00ffcc"/><stop offset="0.629" stop-color="#00f9ff"/><stop offset="0.721" stop-color="#007fff"/><stop offset="0.799" stop-color="#0053ff"/><stop offset="1.000" stop-color="#0057ff"/></linearGradient><linearGradient id="g277"><stop offset="0.000" stop-color="#ff0000"/><stop offset="0.314" stop-color="#ff0000"/><stop offset="0.389" stop-color="#fff900"/><stop offset="0.489" stop-color="#00ff02"/><stop offset="0.594" stop-color="#00ffcd"/><stop offset="0.629" stop-color="#00f8ff"/><stop offset="0.721" stop-color="#007eff"/><stop offset="0.803" stop-color="#004fff"/><stop offset="1.000" stop-color="#0050ff"/></linearGradient><linearGradient id="g278"><stop offset="0.000" stop-color="#ff0000"/><stop offset="0.314" stop-color="#ff0000"/><stop offset="0.389" stop-color="#fff800"/><stop offset="0.489" stop-color="#00ff03"/><stop offset="0.590" stop-color="#00ffc7"/><stop offset="0.629" stop-color="#00f7ff"/><stop offset="0.725" stop-color="#0078ff"/><stop offset="0.808" stop-color="#004cff"/><stop offset="1.000" stop-color="#004aff"/></linearGradient><linearGradient id="g279"><stop offset="0.000" stop-color="#ff0000"/><stop offset="0.314" stop-color="#ff0000"/><stop offset="0.389" stop-color="#fff800"/><stop offset="0.489" stop-color="#00ff03"/><stop offset="0.590" stop-color="#00ffc8"/><stop offset="0.629" stop-color="#00f6ff"/><stop offset="0.725" stop-color="#0077ff"/><stop offset="0.808" stop-color="#0049ff"/><stop offset="1.000" stop-color="#0044ff"/></linearGradient><linearGradient id="g280"><stop offset="0.000" stop-color="#ff0000"/><stop offset="0.314" stop-color="#ff0000"/><stop offset="0.393" stop-color="#faff00"/><stop offset="0.485" stop-color="#07ff00"/><stop offset="0.607" stop-color="#00ffe6"/><stop offset="0.629" stop-color="#00f5ff"/><stop offset="0.725" stop-color="#0076ff"/><stop offset="0.812" stop-color="#0045ff"/><stop offset="1.000" stop-color="#003eff"/></linearGradient><linearGradient id="g281"><stop offset="0.000" stop-color="#ff0000"/><stop offset="0.314" stop-color="#ff0000"/><stop offset="0.393" stop-color="#faff00"/><stop offset="0.485" stop-color="#07ff00"/><stop offset="0.607" stop-color="#00ffe7"/><stop offset="0.629" stop-color="#00f4ff"/><stop offset="0.725" stop-color="#0075ff"/><stop offset="0.812" stop-color="#0042ff"/><stop offset="1.000" stop-color="#0038ff"/></linearGradient><linearGradient id="g282"><stop offset="0.000" stop-color="#ff0000"/><stop offset="0.314" stop-color="#ff0000"/><stop offset="0.393" stop-color="#fbff00"/><stop offset="0.485" stop-color="#07ff00"/><stop offset="0.603" stop-color="#00ffe1"/><stop offset="0.624" stop-color="#00faff"/><stop offset="0.721" stop-color="#0077ff"/><stop offset="0.808" stop-color="#0041ff"/><stop offset="1.000" stop-color="#0033ff"/></linearGradient><linearGradient id="g283"><stop offset="0.000" stop-color="#ff0000"/><stop offset="0.319" stop-color="#ff0700"/><stop offset="0.389" stop-color="#fff500"/><stop offset="0.410" stop-color="#c9ff00"/><stop offset="0.489" stop-color="#00ff04"/><stop offset="0.585" stop-color="#00ffc5"/><stop offset="0.624" stop-color="#00f8ff"/><stop offset="0.721" stop-color="#0076ff"/><stop offset="0.808" stop-color="#003eff"/><stop offset="1.000" stop-color="#002dff"/></linearGradient><linearGradient id="g284"><stop offset="0.000" stop-color="#ff0000"/><stop offset="0.319" stop-color="#ff0600"/><stop offset="0.389" stop-color="#fff400"/><stop offset="0.406" stop-color="#d6ff00"/><stop offset="0.489" stop-color="#00ff04"/><stop offset="0.581" stop-color="#00ffbe"/><stop offset="0.624" stop-color="#00f7ff"/><stop offset="0.721" stop-color="#0074ff"/><stop offset="0.808" stop-color="#003bff"/><stop offset="1.000" stop-color="#0028ff"/></linearGradient><linearGradient id="g285"><stop offset="0.000" stop-color="#ff0000"/><stop offset="0.319" stop-color="#ff0400"/><stop offset="0.389" stop-color="#fff400"/><stop offset="0.402" stop-color="#e3ff00"/><stop offset="0.489" stop-color="#00ff04"/><stop offset="0.581" stop-color="#00ffbf"/><stop offset="0.624" stop-color="#00f6ff"/><stop offset="0.721" stop-color="#0073ff"/><stop offset="0.812" stop-color="#0037ff"/><stop offset="1.000" stop-color="#0023ff"/></linearGradient><linearGradient id="g286"><stop offset="0.000" stop-color="#ff0000"/><stop offset="0.319" stop-color="#ff0300"/><stop offset="0.389" stop-color="#fff300"/><stop offset="0.402" stop-color="#e4ff00"/><stop offset="0.489" stop-color="#00ff05"/><stop offset="0.581" stop-color="#00ffc0"/><stop offset="0.620" stop-color="#00fcff"/><stop offset="0.721" stop-color="#0071ff"/><stop offset="0.812" stop-color="#0035ff"/><stop offset="1.000" stop-color="#001eff"/></linearGradient><linearGradient id="g287"><stop offset="0.000" stop-color="#ff0000"/><stop offset="0.319" stop-color="#ff0100"/><stop offset="0.389" stop-color="#fff300"/><stop offset="0.397" stop-color="#f1ff00"/><stop offset="0.489" stop-color="#00ff05"/><stop offset="0.576" stop-color="#00ffb9"/><stop offset="0.620" stop-color="#00fbff"/><stop offset="0.721" stop-color="#006fff"/><stop offset="0.812" stop-color="#0032ff"/><stop offset="1.000" stop-color="#0019ff"/></linearGradient><linearGradient id="g288"><stop offset="0.000" stop-color="#ff0000"/><stop offset="0.319" stop-color="#ff0000"/><stop offset="0.389" stop-color="#fff200"/><stop offset="0.397" stop-color="#f2ff00"/><stop offset="0.489" stop-color="#00ff05"/><stop offset="0.576" stop-color="#00ffba"/><stop offset="0.620" stop-color="#00faff"/><stop offset="0.721" stop-color="#006dff"/><stop offset="0.812" stop-color="#002fff"/><stop offset="1.000" stop-color="#0014ff"/></linearGradient><linearGradient id="g289"><stop offset="0.000" stop-color="#ff0000"/><stop offset="0.319" stop-color="#ff0000"/><stop offset="0.393" stop-color="#ffff00"/><stop offset="0.489" stop-color="#00ff06"/><stop offset="0.576" stop-color="#00ffbb"/><stop offset="0.620" stop-color="#00f8ff"/><stop offset="0.721" stop-color="#006bff"/><stop offset="0.812" stop-color="#002dff"/><stop offset="1.000" stop-color="#0010ff"/></linearGradient><linearGradient id="g290"><stop offset="0.000" stop-color="#ff0000"/><stop offset="0.319" stop-color="#ff0000"/><stop offset="0.393" stop-color="#fffe00"/><stop offset="0.489" stop-color="#00ff06"/><stop offset="0.576" stop-color="#00ffbc"/><stop offset="0.620" stop-color="#00f7ff"/><stop offset="0.716" stop-color="#006eff"/><stop offset="0.808" stop-color="#002cff"/><stop offset="1.000" stop-color="#000bff"/></linearGradient><linearGradient id="g291"><stop offset="0.000" stop-color="#ff0000"/><stop offset="0.319" stop-color="#ff0000"/><stop offset="0.393" stop-color="#fffd00"/><stop offset="0.489" stop-color="#00ff06"/><stop offset="0.572" stop-color="#00ffb5"/><stop offset="0.620" stop-color="#00f6ff"/><stop offset="0.716" stop-color="#006cff"/><stop offset="0.808" stop-color="#0029ff"/><stop offset="1.000" stop-color="#0007ff"/></linearGradient><linearGradient id="g292"><stop offset="0.000" stop-color="#ff0000"/><stop offset="0.319" stop-color="#ff0000"/><stop offset="0.393" stop-color="#fffd00"/><stop offset="0.489" stop-color="#00ff06"/><stop offset="0.572" stop-color="#00ffb6"/><stop offset="0.616" stop-color="#00fcff"/><stop offset="0.716" stop-color="#006aff"/><stop offset="0.808" stop-color="#0027ff"/><stop offset="1.000" stop-color="#0003ff"/></linearGradient><linearGradient id="g293"><stop offset="0.000" stop-color="#ff0000"/><stop offset="0.319" stop-color="#ff0000"/><stop offset="0.393" stop-color="#fffc00"/><stop offset="0.489" stop-color="#00ff07"/><stop offset="0.572" stop-color="#00ffb7"/><stop offset="0.616" stop-color="#00fbff"/><stop offset="0.716" stop-color="#0068ff"/><stop offset="0.808" stop-color="#0024ff"/><stop offset="1.000" stop-color="#0000ff"/></linearGradient><linearGradient id="g294"><stop offset="0.000" stop-color="#ff0000"/><stop offset="0.323" stop-color="#ff0800"/><stop offset="0.389" stop-color="#ffee00"/><stop offset="0.402" stop-color="#e9ff00"/><stop offset="0.489" stop-color="#00ff07"/><stop offset="0.572" stop-color="#00ffb8"/><stop offset="0.616" stop-color="#00faff"/><stop offset="0.712" stop-color="#006bff"/><stop offset="0.803" stop-color="#0024ff"/><stop offset="0.978" stop-color="#0000ff"/><stop offset="1.000" stop-color="#0000ff"/></linearGradient><linearGradient id="g295"><stop offset="0.000" stop-color="#ff0000"/><stop offset="0.323" stop-color="#ff0600"/><stop offset="0.384" stop-color="#ffe000"/><stop offset="0.397" stop-color="#f6ff00"/><stop offset="0.489" stop-color="#00ff07"/><stop offset="0.572" stop-color="#00ffb9"/><stop offset="0.616" stop-color="#00f8ff"/><stop offset="0.712" stop-color="#0069ff"/><stop offset="0.803" stop-color="#0022ff"/><stop offset="0.961" stop-color="#0000ff"/><stop offset="1.000" stop-color="#0000ff"/></linearGradient><linearGradient id="g296"><stop offset="0.000" stop-color="#ff0000"/><stop offset="0.323" stop-color="#ff0500"/><stop offset="0.384" stop-color="#ffe000"/><stop offset="0.397" stop-color="#f7ff00"/><stop offset="0.489" stop-color="#00ff07"/><stop offset="0.572" stop-color="#00ffba"/><stop offset="0.616" stop-color="#00f7ff"/><stop offset="0.712" stop-color="#0067ff"/><stop offset="0.803" stop-color="#0020ff"/><stop offset="0.948" stop-color="#0000ff"/><stop offset="1.000" stop-color="#0000ff"/></linearGradient><linearGradient id="g297"><stop offset="0.000" stop-color="#ff0000"/><stop offset="0.323" stop-color="#ff0300"/><stop offset="0.384" stop-color="#ffdf00"/><stop offset="0.397" stop-color="#f7ff00"/><stop offset="0.489" stop-color="#00ff08"/><stop offset="0.568" stop-color="#00ffb3"/><stop offset="0.616" stop-color="#00f6ff"/><stop offset="0.712" stop-color="#0065ff"/><stop offset="0.803" stop-color="#001dff"/><stop offset="0.934" stop-color="#0000ff"/><stop offset="1.000" stop-color="#0000ff"/></linearGradient><linearGradient id="g298"><stop offset="0.000" stop-color="#ff0000"/><stop offset="0.323" stop-color="#ff0100"/><stop offset="0.384" stop-color="#ffde00"/><stop offset="0.397" stop-color="#f8ff00"/><stop offset="0.489" stop-color="#00ff08"/><stop offset="0.568" stop-color="#00ffb4"/><stop offset="0.611" stop-color="#00fcff"/><stop offset="0.707" stop-color="#0068ff"/><stop offset="0.799" stop-color="#001eff"/><stop offset="0.917" stop-color="#0000ff"/><stop offset="1.000" stop-color="#0000ff"/></linearGradient><linearGradient id="g299"><stop offset="0.000" stop-color="#ff0000"/><stop offset="0.323" stop-color="#ff0000"/><stop offset="0.380" stop-color="#ffd000"/><stop offset="0.397" stop-color="#f8ff00"/><stop offset="0.485" stop-color="#04ff00"/><stop offset="0.576" stop-color="#00ffc4"/><stop offset="0.611" stop-color="#00fbff"/><stop offset="0.707" stop-color="#0066ff"/><stop offset="0.799" stop-color="#001cff"/><stop offset="0.908" stop-color="#0000ff"/><stop offset="1.000" stop-color="#0000ff"/></linearGradient><linearGradient id="g300"><stop offset="0.000" stop-color="#ff0000"/><stop offset="0.323" stop-color="#ff0000"/><stop offset="0.384" stop-color="#ffdd00"/><stop offset="0.397" stop-color="#f9ff00"/><stop offset="0.485" stop-color="#04ff00"/><stop offset="0.576" stop-color="#00ffc5"/><stop offset="0.611" stop-color="#00faff"/><stop offset="0.707" stop-color="#0064ff"/><stop offset="0.799" stop-color="#001aff"/><stop offset="0.900" stop-color="#0000ff"/><stop offset="1.000" stop-color="#0000ff"/></linearGradient><linearGradient id="g301"><stop offset="0.000" stop-color="#ff0000"/><stop offset="0.323" stop-color="#ff0000"/><stop offset="0.389" stop-color="#ffea00"/><stop offset="0.402" stop-color="#edff00"/><stop offset="0.489" stop-color="#00ff08"/><stop offset="0.568" stop-color="#00ffb5"/><stop offset="0.611" stop-color="#00f9ff"/><stop offset="0.707" stop-color="#0063ff"/><stop offset="0.799" stop-color="#0018ff"/><stop offset="0.891" stop-color="#0000ff"/><stop offset="1.000" stop-color="#0000ff"/></linearGradient><linearGradient id="g302"><stop offset="0.000" stop-color="#ff0000"/><stop offset="0.323" stop-color="#ff0000"/><stop offset="0.389" stop-color="#ffe900"/><stop offset="0.402" stop-color="#edff00"/><stop offset="0.489" stop-color="#00ff08"/><stop offset="0.568" stop-color="#00ffb6"/><stop offset="0.611" stop-color="#00f8ff"/><stop offset="0.707" stop-color="#0061ff"/><stop offset="0.799" stop-color="#0016ff"/><stop offset="0.886" stop-color="#0000ff"/><stop offset="1.000" stop-color="#0000ff"/></linearGradient><linearGradient id="g303"><stop offset="0.000" stop-color="#ff0000"/><stop offset="0.323" stop-color="#ff0000"/><stop offset="0.389" stop-color="#ffe900"/><stop offset="0.402" stop-color="#eeff00"/><stop offset="0.489" stop-color="#00ff08"/><stop offset="0.568" stop-color="#00ffb6"/><stop offset="0.611" stop-color="#00f7ff"/><stop offset="0.703" stop-color="#0065ff"/><stop offset="0.795" stop-color="#0017ff"/><stop offset="0.878" stop-color="#0000ff"/><stop offset="1.000" stop-color="#0000ff"/></linearGradient><linearGradient id="g304"><stop offset="0.000" stop-color="#ff0000"/><stop offset="0.323" stop-color="#ff0000"/><stop offset="0.393" stop-color="#fff600"/><stop offset="0.419" stop-color="#bdff00"/><stop offset="0.489" stop-color="#00ff07"/><stop offset="0.568" stop-color="#00ffb7"/><stop offset="0.611" stop-color="#00f7ff"/><stop offset="0.703" stop-color="#0063ff"/><stop offset="0.795" stop-color="#0015ff"/><stop offset="0.873" stop-color="#0000ff"/><stop offset="1.000" stop-color="#0000ff"/></linearGradient><linearGradient id="g305"><stop offset="0.000" stop-color="#ff0000"/><stop offset="0.328" stop-color="#ff0800"/><stop offset="0.380" stop-color="#ffcc00"/><stop offset="0.397" stop-color="#fcff00"/><stop offset="0.489" stop-color="#00ff07"/><stop offset="0.568" stop-color="#00ffb7"/><stop offset="0.611" stop-color="#00f6ff"/><stop offset="0.703" stop-color="#0062ff"/><stop offset="0.795" stop-color="#0014ff"/><stop offset="0.873" stop-color="#0000ff"/><stop offset="1.000" stop-color="#0000ff"/></linearGradient><linearGradient id="g306"><stop offset="0.000" stop-color="#ff0000"/><stop offset="0.328" stop-color="#ff0600"/><stop offset="0.380" stop-color="#ffcb00"/><stop offset="0.397" stop-color="#fcff00"/><stop offset="0.489" stop-color="#00ff06"/><stop offset="0.568" stop-color="#00ffb7"/><stop offset="0.611" stop-color="#00f6ff"/><stop offset="0.703" stop-color="#0061ff"/><stop offset="0.795" stop-color="#0013ff"/><stop offset="0.869" stop-color="#0000ff"/><stop offset="1.000" stop-color="#0000ff"/></linearGradient><linearGradient id="g307"><stop offset="0.000" stop-color="#ff0000"/><stop offset="0.328" stop-color="#ff0400"/><stop offset="0.380" stop-color="#ffcb00"/><stop offset="0.397" stop-color="#fdff00"/><stop offset="0.489" stop-color="#00ff06"/><stop offset="0.568" stop-color="#00ffb7"/><stop offset="0.611" stop-color="#00f5ff"/><stop offset="0.703" stop-color="#0060ff"/><stop offset="0.790" stop-color="#0014ff"/><stop offset="0.860" stop-color="#0000ff"/><stop offset="1.000" stop-color="#0000ff"/></linearGradient><linearGradient id="g308"><stop offset="0.000" stop-color="#ff0000"/><stop offset="0.328" stop-color="#ff0200"/><stop offset="0.376" stop-color="#ffbc00"/><stop offset="0.397" stop-color="#feff00"/><stop offset="0.489" stop-color="#00ff05"/><stop offset="0.568" stop-color="#00ffb7"/><stop offset="0.607" stop-color="#00fdff"/><stop offset="0.703" stop-color="#005fff"/><stop offset="0.790" stop-color="#0013ff"/><stop offset="0.860" stop-color="#0000ff"/><stop offset="1.000" stop-color="#0000ff"/></linearGradient><linearGradient id="g309"><stop offset="0.000" stop-color="#ff0000"/><stop offset="0.328" stop-color="#ff0000"/><stop offset="0.376" stop-color="#ffbb00"/><stop offset="0.397" stop-color="#feff00"/><stop offset="0.489" stop-color="#00ff05"/><stop offset="0.568" stop-color="#00ffb7"/><stop offset="0.607" stop-color="#00fdff"/><stop offset="0.699" stop-color="#0063ff"/><stop offset="0.786" stop-color="#0014ff"/><stop offset="0.856" stop-color="#0000ff"/><stop offset="1.000" stop-color="#0000ff"/></linearGradient><linearGradient id="g310"><stop offset="0.000" stop-color="#ff0000"/><stop offset="0.328" stop-color="#ff0000"/><stop offset="0.380" stop-color="#ffc900"/><stop offset="0.397" stop-color="#ffff00"/><stop offset="0.489" stop-color="#00ff04"/><stop offset="0.568" stop-color="#00ffb7"/><stop offset="0.607" stop-color="#00fcff"/><stop offset="0.699" stop-color="#0062ff"/><stop offset="0.786" stop-color="#0013ff"/><stop offset="0.856" stop-color="#0000ff"/><stop offset="1.000" stop-color="#0000ff"/></linearGradient><linearGradient id="g311"><stop offset="0.000" stop-color="#ff0000"/><stop offset="0.328" stop-color="#ff0000"/><stop offset="0.380" stop-color="#ffc800"/><stop offset="0.397" stop-color="#fffe00"/><stop offset="0.489" stop-color="#00ff03"/><stop offset="0.568" stop-color="#00ffb7"/><stop offset="0.607" stop-color="#00fcff"/><stop offset="0.699" stop-color="#0061ff"/><stop offset="0.786" stop-color="#0013ff"/><stop offset="0.852" stop-color="#0000ff"/><stop offset="1.000" stop-color="#0000ff"/></linearGradient><linearGradient id="g312"><stop offset="0.000" stop-color="#ff0000"/><stop offset="0.328" stop-color="#ff0000"/><stop offset="0.384" stop-color="#ffd500"/><stop offset="0.397" stop-color="#fffe00"/><stop offset="0.489" stop-color="#00ff03"/><stop offset="0.568" stop-color="#00ffb7"/><stop offset="0.607" stop-color="#00fcff"/><stop offset="0.699" stop-color="#0061ff"/><stop offset="0.786" stop-color="#0012ff"/><stop offset="0.856" stop-color="#0000ff"/><stop offset="1.000" stop-color="#0000ff"/></linearGradient><linearGradient id="g313"><stop offset="0.000" stop-color="#ff0000"/><stop offset="0.328" stop-color="#ff0000"/><stop offset="0.384" stop-color="#ffd500"/><stop offset="0.397" stop-color="#fffd00"/><stop offset="0.489" stop-color="#00ff02"/><stop offset="0.568" stop-color="#00ffb7"/><stop offset="0.607" stop-color="#00fcff"/><stop offset="0.699" stop-color="#0060ff"/><stop offset="0.786" stop-color="#0011ff"/><stop offset="0.852" stop-color="#0000ff"/><stop offset="1.000" stop-color="#0000ff"/></linearGradient><linearGradient id="g314"><stop offset="0.000" stop-color="#ff0000"/><stop offset="0.328" stop-color="#ff0000"/><stop offset="0.389" stop-color="#ffe200"/><stop offset="0.402" stop-color="#f4ff00"/><stop offset="0.489" stop-color="#00ff01"/><stop offset="0.568" stop-color="#00ffb6"/><stop offset="0.607" stop-color="#00fbff"/><stop offset="0.699" stop-color="#005fff"/><stop offset="0.782" stop-color="#0013ff"/><stop offset="0.847" stop-color="#0000ff"/><stop offset="1.000" stop-color="#0000ff"/></linearGradient><linearGradient id="g315"><stop offset="0.000" stop-color="#ff0000"/><stop offset="0.328" stop-color="#ff0000"/><stop offset="0.341" stop-color="#ff3000"/><stop offset="0.389" stop-color="#ffe100"/><stop offset="0.402" stop-color="#f5ff00"/><stop offset="0.489" stop-color="#00ff01"/><stop offset="0.568" stop-color="#00ffb6"/><stop offset="0.607" stop-color="#00fbff"/><stop offset="0.699" stop-color="#005eff"/><stop offset="0.782" stop-color="#0012ff"/><stop offset="0.847" stop-color="#0000ff"/><stop offset="1.000" stop-color="#0000ff"/></linearGradient><linearGradient id="g316"><stop offset="0.000" stop-color="#ff0000"/><stop offset="0.332" stop-color="#ff0600"/><stop offset="0.376" stop-color="#ffb500"/><stop offset="0.397" stop-color="#fffb00"/><stop offset="0.489" stop-color="#00ff00"/><stop offset="0.568" stop-color="#00ffb6"/><stop offset="0.607" stop-color="#00fbff"/><stop offset="0.699" stop-color="#005dff"/><stop offset="0.782" stop-color="#0012ff"/><stop offset="0.852" stop-color="#0000ff"/><stop offset="1.000" stop-color="#0000ff"/></linearGradient><linearGradient id="g317"><stop offset="0.000" stop-color="#ff0000"/><stop offset="0.332" stop-color="#ff0400"/><stop offset="0.376" stop-color="#ffb400"/><stop offset="0.397" stop-color="#fffb00"/><stop offset="0.489" stop-color="#01ff00"/><stop offset="0.572" stop-color="#00ffbf"/><stop offset="0.607" stop-color="#00fbff"/><stop offset="0.694" stop-color="#0062ff"/><stop offset="0.777" stop-color="#0014ff"/><stop offset="0.847" stop-color="#0000ff"/><stop offset="1.000" stop-color="#0000ff"/></linearGradient><linearGradient id="g318"><stop offset="0.000" stop-color="#ff0000"/><stop offset="0.332" stop-color="#ff0200"/><stop offset="0.376" stop-color="#ffb300"/><stop offset="0.402" stop-color="#f7ff00"/><stop offset="0.489" stop-color="#01ff00"/><stop offset="0.572" stop-color="#00ffbf"/><stop offset="0.607" stop-color="#00faff"/><stop offset="0.694" stop-color="#0061ff"/><stop offset="0.777" stop-color="#0013ff"/><stop offset="0.847" stop-color="#0000ff"/><stop offset="1.000" stop-color="#0000ff"/></linearGradient><linearGradient id="g319"><stop offset="0.000" stop-color="#ff0000"/><stop offset="0.332" stop-color="#ff0000"/><stop offset="0.376" stop-color="#ffb300"/><stop offset="0.402" stop-color="#f7ff00"/><stop offset="0.489" stop-color="#02ff00"/><stop offset="0.576" stop-color="#00ffc7"/><stop offset="0.607" stop-color="#00faff"/><stop offset="0.694" stop-color="#0060ff"/><stop offset="0.777" stop-color="#0013ff"/><stop offset="0.847" stop-color="#0000ff"/><stop offset="1.000" stop-color="#0000ff"/></linearGradient><linearGradient id="g320"><stop offset="0.000" stop-color="#ff0000"/><stop offset="0.332" stop-color="#ff0000"/><stop offset="0.380" stop-color="#ffc100"/><stop offset="0.402" stop-color="#f8ff00"/><stop offset="0.489" stop-color="#02ff00"/><stop offset="0.581" stop-color="#00ffd0"/><stop offset="0.607" stop-color="#00faff"/><stop offset="0.694" stop-color="#005fff"/><stop offset="0.773" stop-color="#0015ff"/><stop offset="0.843" stop-color="#0000ff"/><stop offset="1.000" stop-color="#0000ff"/></linearGradient><linearGradient id="g321"><stop offset="0.000" stop-color="#ff0000"/><stop offset="0.332" stop-color="#ff0000"/><stop offset="0.384" stop-color="#ffce00"/><stop offset="0.402" stop-color="#f9ff00"/><stop offset="0.489" stop-color="#03ff00"/><stop offset="0.585" stop-color="#00ffd9"/><stop offset="0.607" stop-color="#00f9ff"/><stop offset="0.694" stop-color="#005eff"/><stop offset="0.773" stop-color="#0015ff"/><stop offset="0.847" stop-color="#0000ff"/><stop offset="1.000" stop-color="#0000ff"/></linearGradient><linearGradient id="g322"><stop offset="0.000" stop-color="#ff0000"/><stop offset="0.332" stop-color="#ff0000"/><stop offset="0.384" stop-color="#ffce00"/><stop offset="0.402" stop-color="#f9ff00"/><stop offset="0.489" stop-color="#04ff00"/><stop offset="0.585" stop-color="#00ffd9"/><stop offset="0.607" stop-color="#00f9ff"/><stop offset="0.694" stop-color="#005eff"/><stop offset="0.773" stop-color="#0014ff"/><stop offset="0.847" stop-color="#0000ff"/><stop offset="1.000" stop-color="#0000ff"/></linearGradient><linearGradient id="g323"><stop offset="0.000" stop-color="#ff0000"/><stop offset="0.332" stop-color="#ff0000"/><stop offset="0.389" stop-color="#ffdb00"/><stop offset="0.402" stop-color="#faff00"/><stop offset="0.493" stop-color="#00ff08"/><stop offset="0.581" stop-color="#00ffd0"/><stop offset="0.607" stop-color="#00f9ff"/><stop offset="0.690" stop-color="#0063ff"/><stop offset="0.769" stop-color="#0017ff"/><stop offset="0.847" stop-color="#0000ff"/><stop offset="1.000" stop-color="#0000ff"/></linearGradient><linearGradient id="g324"><stop offset="0.000" stop-color="#ff0000"/><stop offset="0.332" stop-color="#ff0000"/><stop offset="0.349" stop-color="#ff4600"/><stop offset="0.397" stop-color="#fff600"/><stop offset="0.437" stop-color="#98ff00"/><stop offset="0.493" stop-color="#00ff07"/><stop offset="0.581" stop-color="#00ffd0"/><stop offset="0.607" stop-color="#00f8ff"/><stop offset="0.690" stop-color="#0062ff"/><stop offset="0.769" stop-color="#0016ff"/><stop offset="0.847" stop-color="#0000ff"/><stop offset="1.000" stop-color="#0000ff"/></linearGradient><linearGradient id="g325"><stop offset="0.000" stop-color="#ff0000"/><stop offset="0.336" stop-color="#ff0700"/><stop offset="0.380" stop-color="#ffbc00"/><stop offset="0.402" stop-color="#fbff00"/><stop offset="0.493" stop-color="#00ff06"/><stop offset="0.581" stop-color="#00ffd0"/><stop offset="0.607" stop-color="#00f8ff"/><stop offset="0.690" stop-color="#0061ff"/><stop offset="0.769" stop-color="#0016ff"/><stop offset="0.847" stop-color="#0000ff"/><stop offset="1.000" stop-color="#0000ff"/></linearGradient><linearGradient id="g326"><stop offset="0.000" stop-color="#ff0000"/><stop offset="0.336" stop-color="#ff0500"/><stop offset="0.380" stop-color="#ffbb00"/><stop offset="0.402" stop-color="#fcff00"/><stop offset="0.493" stop-color="#00ff06"/><stop offset="0.581" stop-color="#00ffd1"/><stop offset="0.607" stop-color="#00f8ff"/><stop offset="0.690" stop-color="#0060ff"/><stop offset="0.769" stop-color="#0015ff"/><stop offset="0.852" stop-color="#0000ff"/><stop offset="1.000" stop-color="#0000ff"/></linearGradient><linearGradient id="g327"><stop offset="0.000" stop-color="#ff0000"/><stop offset="0.336" stop-color="#ff0300"/><stop offset="0.380" stop-color="#ffba00"/><stop offset="0.402" stop-color="#fdff00"/><stop offset="0.493" stop-color="#00ff05"/><stop offset="0.581" stop-color="#00ffd1"/><stop offset="0.607" stop-color="#00f7ff"/><stop offset="0.690" stop-color="#005fff"/><stop offset="0.764" stop-color="#0018ff"/><stop offset="0.847" stop-color="#0000ff"/><stop offset="1.000" stop-color="#0000ff"/></linearGradient><linearGradient id="g328"><stop offset="0.000" stop-color="#ff0000"/><stop offset="0.336" stop-color="#ff0000"/><stop offset="0.376" stop-color="#ffa900"/><stop offset="0.402" stop-color="#fdff00"/><stop offset="0.493" stop-color="#00ff05"/><stop offset="0.581" stop-color="#00ffd1"/><stop offset="0.607" stop-color="#00f7ff"/><stop offset="0.686" stop-color="#0064ff"/><stop offset="0.760" stop-color="#001aff"/><stop offset="0.847" stop-color="#0000ff"/><stop offset="1.000" stop-color="#0000ff"/></linearGradient><linearGradient id="g329"><stop offset="0.000" stop-color="#ff0000"/><stop offset="0.336" stop-color="#ff0000"/><stop offset="0.380" stop-color="#ffb800"/><stop offset="0.402" stop-color="#feff00"/><stop offset="0.493" stop-color="#00ff04"/><stop offset="0.581" stop-color="#00ffd1"/><stop offset="0.607" stop-color="#00f6ff"/><stop offset="0.686" stop-color="#0063ff"/><stop offset="0.760" stop-color="#001aff"/><stop offset="0.852" stop-color="#0000ff"/><stop offset="1.000" stop-color="#0000ff"/></linearGradient><linearGradient id="g330"><stop offset="0.000" stop-color="#ff0000"/><stop offset="0.336" stop-color="#ff0000"/><stop offset="0.384" stop-color="#ffc600"/><stop offset="0.402" stop-color="#feff00"/><stop offset="0.493" stop-color="#00ff04"/><stop offset="0.581" stop-color="#00ffd1"/><stop offset="0.607" stop-color="#00f6ff"/><stop offset="0.686" stop-color="#0062ff"/><stop offset="0.760" stop-color="#001aff"/><stop offset="0.852" stop-color="#0000ff"/><stop offset="1.000" stop-color="#0000ff"/></linearGradient><linearGradient id="g331"><stop offset="0.000" stop-color="#ff0000"/><stop offset="0.336" stop-color="#ff0000"/><stop offset="0.389" stop-color="#ffd400"/><stop offset="0.402" stop-color="#ffff00"/><stop offset="0.493" stop-color="#00ff03"/><stop offset="0.581" stop-color="#00ffd2"/><stop offset="0.607" stop-color="#00f5ff"/><stop offset="0.686" stop-color="#0061ff"/><stop offset="0.760" stop-color="#0019ff"/><stop offset="0.856" stop-color="#0000ff"/><stop offset="1.000" stop-color="#0000ff"/></linearGradient><linearGradient id="g332"><stop offset="0.000" stop-color="#ff0000"/><stop offset="0.336" stop-color="#ff0000"/><stop offset="0.389" stop-color="#ffd400"/><stop offset="0.402" stop-color="#fffe00"/><stop offset="0.493" stop-color="#00ff03"/><stop offset="0.581" stop-color="#00ffd2"/><stop offset="0.607" stop-color="#00f5ff"/><stop offset="0.686" stop-color="#0060ff"/><stop offset="0.760" stop-color="#0019ff"/><stop offset="0.860" stop-color="#0000ff"/><stop offset="1.000" stop-color="#0000ff"/></linearGradient><linearGradient id="g333"><stop offset="0.000" stop-color="#ff0000"/><stop offset="0.336" stop-color="#ff0000"/><stop offset="0.349" stop-color="#ff3400"/><stop offset="0.393" stop-color="#ffe100"/><stop offset="0.402" stop-color="#fffe00"/><stop offset="0.493" stop-color="#00ff02"/><stop offset="0.581" stop-color="#00ffd2"/><stop offset="0.607" stop-color="#00f4ff"/><stop offset="0.681" stop-color="#0066ff"/><stop offset="0.755" stop-color="#001cff"/><stop offset="0.856" stop-color="#0000ff"/><stop offset="1.000" stop-color="#0000ff"/></linearGradient><linearGradient id="g334"><stop offset="0.000" stop-color="#ff0000"/><stop offset="0.341" stop-color="#ff0800"/><stop offset="0.380" stop-color="#ffb200"/><stop offset="0.402" stop-color="#fffd00"/><stop offset="0.493" stop-color="#00ff02"/><stop offset="0.585" stop-color="#00ffdc"/><stop offset="0.607" stop-color="#00f3ff"/><stop offset="0.681" stop-color="#0065ff"/><stop offset="0.755" stop-color="#001cff"/><stop offset="0.860" stop-color="#0000ff"/><stop offset="1.000" stop-color="#0000ff"/></linearGradient><linearGradient id="g335"><stop offset="0.000" stop-color="#ff0000"/><stop offset="0.341" stop-color="#ff0500"/><stop offset="0.384" stop-color="#ffc100"/><stop offset="0.402" stop-color="#fffc00"/><stop offset="0.493" stop-color="#00ff01"/><stop offset="0.585" stop-color="#00ffdc"/><stop offset="0.607" stop-color="#00f3ff"/><stop offset="0.681" stop-color="#0064ff"/><stop offset="0.755" stop-color="#001dff"/><stop offset="0.865" stop-color="#0000ff"/><stop offset="1.000" stop-color="#0000ff"/></linearGradient><linearGradient id="g336"><stop offset="0.000" stop-color="#ff0000"/><stop offset="0.341" stop-color="#ff0200"/><stop offset="0.384" stop-color="#ffbf00"/><stop offset="0.402" stop-color="#fffb00"/><stop offset="0.493" stop-color="#00ff01"/><stop offset="0.585" stop-color="#00ffdc"/><stop offset="0.607" stop-color="#00f2ff"/><stop offset="0.681" stop-color="#0064ff"/><stop offset="0.755" stop-color="#001dff"/><stop offset="0.869" stop-color="#0000ff"/><stop offset="1.000" stop-color="#0000ff"/></linearGradient><linearGradient id="g337"><stop offset="0.000" stop-color="#ff0000"/><stop offset="0.341" stop-color="#ff0000"/><stop offset="0.384" stop-color="#ffbd00"/><stop offset="0.406" stop-color="#f6ff00"/><stop offset="0.493" stop-color="#00ff00"/><stop offset="0.590" stop-color="#00ffe6"/><stop offset="0.607" stop-color="#00f2ff"/><stop offset="0.677" stop-color="#006aff"/><stop offset="0.751" stop-color="#0021ff"/><stop offset="0.865" stop-color="#0000ff"/><stop offset="1.000" stop-color="#0000ff"/></linearGradient><linearGradient id="g338"><stop offset="0.000" stop-color="#ff0000"/><stop offset="0.341" stop-color="#ff0000"/><stop offset="0.389" stop-color="#ffcb00"/><stop offset="0.406" stop-color="#f8ff00"/><stop offset="0.493" stop-color="#00ff00"/><stop offset="0.594" stop-color="#00fff0"/><stop offset="0.611" stop-color="#00e8ff"/><stop offset="0.681" stop-color="#0064ff"/><stop offset="0.755" stop-color="#001fff"/><stop offset="0.878" stop-color="#0000ff"/><stop offset="1.000" stop-color="#0000ff"/></linearGradient><linearGradient id="g339"><stop offset="0.000" stop-color="#ff0000"/><stop offset="0.341" stop-color="#ff0000"/><stop offset="0.393" stop-color="#ffd800"/><stop offset="0.406" stop-color="#faff00"/><stop offset="0.493" stop-color="#01ff00"/><stop offset="0.598" stop-color="#00fff9"/><stop offset="0.681" stop-color="#0064ff"/><stop offset="0.760" stop-color="#001eff"/><stop offset="0.886" stop-color="#0000ff"/><stop offset="1.000" stop-color="#0000ff"/></linearGradient><linearGradient id="g340"><stop offset="0.000" stop-color="#ff0000"/><stop offset="0.341" stop-color="#ff0000"/><stop offset="0.358" stop-color="#ff4800"/><stop offset="0.402" stop-color="#fff300"/><stop offset="0.410" stop-color="#efff00"/><stop offset="0.493" stop-color="#03ff00"/><stop offset="0.598" stop-color="#00fff8"/><stop offset="0.681" stop-color="#0066ff"/><stop offset="0.760" stop-color="#0020ff"/><stop offset="0.891" stop-color="#0000ff"/><stop offset="1.000" stop-color="#0000ff"/></linearGradient><linearGradient id="g341"><stop offset="0.000" stop-color="#ff0000"/><stop offset="0.345" stop-color="#ff0500"/><stop offset="0.393" stop-color="#ffd000"/><stop offset="0.406" stop-color="#fffd00"/><stop offset="0.498" stop-color="#00ff08"/><stop offset="0.598" stop-color="#00fff8"/><stop offset="0.681" stop-color="#0068ff"/><stop offset="0.760" stop-color="#0022ff"/><stop offset="0.895" stop-color="#0000ff"/><stop offset="1.000" stop-color="#0000ff"/></linearGradient><linearGradient id="g342"><stop offset="0.000" stop-color="#ff0000"/><stop offset="0.345" stop-color="#ff0000"/><stop offset="0.393" stop-color="#ffcb00"/><stop offset="0.410" stop-color="#f7ff00"/><stop offset="0.498" stop-color="#00ff06"/><stop offset="0.603" stop-color="#00feff"/><stop offset="0.677" stop-color="#0070ff"/><stop offset="0.755" stop-color="#0026ff"/><stop offset="0.891" stop-color="#0000ff"/><stop offset="1.000" stop-color="#0000ff"/></linearGradient></defs><rect width="644" height="946" fill="#fff"/><g clip-path="url(#c1)"><g transform="translate(177.0,334.0) rotate(61.00)"><rect x="-17.5" y="-134.41" width="13.0" height="3.70" fill="url(#g2)"/><rect x="-19.5" y="-131.41" width="21.0" height="3.70" fill="url(#g3)"/><rect x="-21.5" y="-128.41" width="28.0" height="3.70" fill="url(#g4)"/><rect x="-22.5" y="-125.41" width="35.0" height="3.70" fill="url(#g5)"/><rect x="-24.5" y="-122.41" width="42.1" height="3.70" fill="url(#g6)"/><rect x="-26.5" y="-119.41" width="50.1" height="3.70" fill="url(#g7)"/><rect x="-27.5" y="-116.41" width="56.1" height="3.70" fill="url(#g8)"/><rect x="-29.5" y="-113.41" width="63.1" height="3.70" fill="url(#g9)"/><rect x="-31.5" y="-110.41" width="71.1" height="3.70" fill="url(#g10)"/><rect x="-32.5" y="-107.41" width="77.1" height="3.70" fill="url(#g11)"/><rect x="-34.5" y="-104.41" width="85.1" height="3.70" fill="url(#g12)"/><rect x="-36.5" y="-101.41" width="92.1" height="3.70" fill="url(#g13)"/><rect x="-37.5" y="-98.41" width="98.1" height="3.70" fill="url(#g14)"/><rect x="-39.5" y="-95.41" width="106.1" height="3.70" fill="url(#g15)"/><rect x="-41.6" y="-92.41" width="113.1" height="3.70" fill="url(#g16)"/><rect x="-42.6" y="-89.41" width="120.2" height="3.70" fill="url(#g17)"/><rect x="-44.6" y="-86.41" width="127.2" height="3.70" fill="url(#g18)"/><rect x="-46.6" y="-83.41" width="134.2" height="3.70" fill="url(#g19)"/><rect x="-47.6" y="-80.41" width="141.2" height="3.70" fill="url(#g20)"/><rect x="-49.6" y="-77.41" width="148.2" height="3.70" fill="url(#g21)"/><rect x="-51.6" y="-74.41" width="156.2" height="3.70" fill="url(#g22)"/><rect x="-52.6" y="-71.41" width="162.2" height="3.70" fill="url(#g23)"/><rect x="-54.6" y="-68.41" width="169.2" height="3.70" fill="url(#g24)"/><rect x="-56.6" y="-65.41" width="177.2" height="3.70" fill="url(#g25)"/><rect x="-57.6" y="-62.41" width="181.2" height="3.70" fill="url(#g26)"/><rect x="-59.6" y="-59.41" width="183.2" height="3.70" fill="url(#g27)"/><rect x="-61.6" y="-56.41" width="183.2" height="3.70" fill="url(#g28)"/><rect x="-62.6" y="-53.41" width="183.2" height="3.70" fill="url(#g29)"/><rect x="-64.6" y="-50.41" width="183.2" height="3.70" fill="url(#g30)"/><rect x="-66.6" y="-47.41" width="183.2" height="3.70" fill="url(#g31)"/><rect x="-67.6" y="-44.41" width="183.2" height="3.70" fill="url(#g32)"/><rect x="-69.6" y="-41.41" width="183.2" height="3.70" fill="url(#g33)"/><rect x="-71.6" y="-38.41" width="183.2" height="3.70" fill="url(#g34)"/><rect x="-72.6" y="-35.41" width="183.2" height="3.70" fill="url(#g35)"/><rect x="-74.6" y="-32.41" width="183.2" height="3.70" fill="url(#g36)"/><rect x="-76.6" y="-29.41" width="183.2" height="3.70" fill="url(#g37)"/><rect x="-77.6" y="-26.41" width="183.2" height="3.70" fill="url(#g38)"/><rect x="-79.6" y="-23.41" width="183.2" height="3.70" fill="url(#g39)"/><rect x="-80.6" y="-20.41" width="182.2" height="3.70" fill="url(#g40)"/><rect x="-82.6" y="-17.41" width="183.2" height="3.70" fill="url(#g41)"/><rect x="-84.6" y="-14.41" width="183.2" height="3.70" fill="url(#g42)"/><rect x="-85.6" y="-11.41" width="182.2" height="3.70" fill="url(#g43)"/><rect x="-87.6" y="-8.41" width="183.2" height="3.70" fill="url(#g44)"/><rect x="-89.6" y="-5.41" width="183.2" height="3.70" fill="url(#g45)"/><rect x="-90.6" y="-2.41" width="182.2" height="3.70" fill="url(#g46)"/><rect x="-92.6" y="0.59" width="183.2" height="3.70" fill="url(#g47)"/><rect x="-94.6" y="3.59" width="183.2" height="3.70" fill="url(#g48)"/><rect x="-95.6" y="6.59" width="182.2" height="3.70" fill="url(#g49)"/><rect x="-97.6" y="9.59" width="183.2" height="3.70" fill="url(#g50)"/><rect x="-99.6" y="12.59" width="183.2" height="3.70" fill="url(#g51)"/><rect x="-100.6" y="15.59" width="183.2" height="3.70" fill="url(#g52)"/><rect x="-102.6" y="18.59" width="183.2" height="3.70" fill="url(#g53)"/><rect x="-104.6" y="21.59" width="183.2" height="3.70" fill="url(#g54)"/><rect x="-105.6" y="24.59" width="183.2" height="3.70" fill="url(#g55)"/><rect x="-107.6" y="27.59" width="183.2" height="3.70" fill="url(#g56)"/><rect x="-109.6" y="30.59" width="183.2" height="3.70" fill="url(#g57)"/><rect x="-110.6" y="33.59" width="183.2" height="3.70" fill="url(#g58)"/><rect x="-112.6" y="36.59" width="183.2" height="3.70" fill="url(#g59)"/><rect x="-114.6" y="39.59" width="183.2" height="3.70" fill="url(#g60)"/><rect x="-115.6" y="42.59" width="183.2" height="3.70" fill="url(#g61)"/><rect x="-117.7" y="45.59" width="183.2" height="3.70" fill="url(#g62)"/><rect x="-119.7" y="48.59" width="183.2" height="3.70" fill="url(#g63)"/><rect x="-120.7" y="51.59" width="183.2" height="3.70" fill="url(#g64)"/><rect x="-122.7" y="54.59" width="183.2" height="3.70" fill="url(#g65)"/><rect x="-123.7" y="57.59" width="182.2" height="3.70" fill="url(#g66)"/><rect x="-123.7" y="60.59" width="181.2" height="3.70" fill="url(#g67)"/><rect x="-118.7" y="63.59" width="174.2" height="3.70" fill="url(#g68)"/><rect x="-112.6" y="66.59" width="166.2" height="3.70" fill="url(#g69)"/><rect x="-107.6" y="69.59" width="160.2" height="3.70" fill="url(#g70)"/><rect x="-101.6" y="72.59" width="152.2" height="3.70" fill="url(#g71)"/><rect x="-96.6" y="75.59" width="145.2" height="3.70" fill="url(#g72)"/><rect x="-91.6" y="78.59" width="139.2" height="3.70" fill="url(#g73)"/><rect x="-85.6" y="81.59" width="131.2" height="3.70" fill="url(#g74)"/><rect x="-80.6" y="84.59" width="124.2" height="3.70" fill="url(#g75)"/><rect x="-74.6" y="87.59" width="117.1" height="3.70" fill="url(#g76)"/><rect x="-69.6" y="90.59" width="110.1" height="3.70" fill="url(#g77)"/><rect x="-64.6" y="93.59" width="103.1" height="3.70" fill="url(#g78)"/><rect x="-58.6" y="96.59" width="96.1" height="3.70" fill="url(#g79)"/><rect x="-53.6" y="99.59" width="89.1" height="3.70" fill="url(#g80)"/><rect x="-47.6" y="102.59" width="81.1" height="3.70" fill="url(#g81)"/><rect x="-42.6" y="105.59" width="75.1" height="3.70" fill="url(#g82)"/><rect x="-37.5" y="108.59" width="68.1" height="3.70" fill="url(#g83)"/><rect x="-31.5" y="111.59" width="60.1" height="3.70" fill="url(#g84)"/><rect x="-26.5" y="114.59" width="54.1" height="3.70" fill="url(#g85)"/><rect x="-20.5" y="117.59" width="46.1" height="3.70" fill="url(#g86)"/><rect x="-15.5" y="120.59" width="39.0" height="3.70" fill="url(#g87)"/><rect x="-10.5" y="123.59" width="33.0" height="3.70" fill="url(#g88)"/><rect x="-4.5" y="126.59" width="25.0" height="3.70" fill="url(#g89)"/><rect x="0.5" y="129.59" width="18.0" height="3.70" fill="url(#g90)"/><rect x="6.5" y="132.59" width="11.0" height="3.70" fill="url(#g91)"/></g></g><path d="M179.0,257.0 C177.2,258.5 170.9,262.5 168.0,266.0 C165.1,269.5 162.4,274.7 161.5,278.0 C160.6,281.3 161.1,284.2 162.5,286.0 C163.9,287.8 165.7,289.4 170.0,289.0 C174.3,288.6 180.8,286.3 188.6,283.5 C196.4,280.7 206.0,276.4 216.6,272.0 C227.2,267.6 246.1,259.5 252.0,257.0" fill="none" stroke="#111" stroke-width="0.55"/><path d="M103.0,411.0 C111.5,405.8 141.5,387.6 153.7,380.0 C165.9,372.4 164.9,372.0 176.0,365.3 C187.1,358.6 201.3,350.6 220.0,339.8 C238.7,329.0 276.7,307.1 288.0,300.5" fill="none" stroke="#111" stroke-width="0.55"/><path d="M145.7,411.0 C150.8,409.5 152.3,414.1 176.0,401.8 C199.7,389.6 269.3,348.2 288.0,337.5" fill="none" stroke="#111" stroke-width="0.55"/><path d="M210.8,411.0 C217.3,407.2 237.1,395.6 250.0,388.0 C262.9,380.4 281.7,369.1 288.0,365.3" fill="none" stroke="#111" stroke-width="0.55"/><path d="M245.6,411.0 L288.0,389.7" fill="none" stroke="#111" stroke-width="0.55"/><rect x="65.5" y="257.0" width="222.0" height="154.0" fill="none" stroke="#111" stroke-width="0.8"/><path d="M65.5,411.0v4M109.9,411.0v4M154.3,411.0v4M198.7,411.0v4M243.1,411.0v4M287.5,411.0v4M65.5,257.0h-6M65.5,279.0h-6M65.5,301.0h-6M65.5,323.0h-6M65.5,345.0h-6M65.5,367.0h-6M65.5,389.0h-6M65.5,411.0h-6" stroke="#333" stroke-width="0.6" fill="none"/><rect x="184.6" y="278.0" width="5.4" height="5.6" fill="#fff" stroke="#222" stroke-width="0.5"/><text x="187.3" y="282.7" font-family="Liberation Sans" font-size="5.4" fill="#222" text-anchor="middle">0</text><rect x="181.4" y="349.7" width="23.2" height="5.6" fill="#fff" stroke="#222" stroke-width="0.5"/><text x="193.0" y="354.4" font-family="Liberation Sans" font-size="5.4" fill="#222" text-anchor="middle" textLength="19.6" lengthAdjust="spacingAndGlyphs">0.0002</text><rect x="213.5" y="367.0" width="23.2" height="5.6" fill="#fff" stroke="#222" stroke-width="0.5"/><text x="225.1" y="371.7" font-family="Liberation Sans" font-size="5.4" fill="#222" text-anchor="middle" textLength="19.6" lengthAdjust="spacingAndGlyphs">0.0004</text><rect x="237.0" y="380.9" width="23.2" height="5.6" fill="#fff" stroke="#222" stroke-width="0.5"/><text x="248.6" y="385.6" font-family="Liberation Sans" font-size="5.4" fill="#222" text-anchor="middle" textLength="19.6" lengthAdjust="spacingAndGlyphs">0.0006</text><rect x="256.4" y="392.7" width="23.2" height="5.6" fill="#fff" stroke="#222" stroke-width="0.5"/><text x="268.0" y="397.4" font-family="Liberation Sans" font-size="5.4" fill="#222" text-anchor="middle" textLength="19.6" lengthAdjust="spacingAndGlyphs">0.0008</text><g clip-path="url(#c92)"><g transform="translate(501.5,331.0) rotate(0.00)"><rect x="-118.0" y="-82.00" width="236.0" height="2.70" fill="url(#g93)"/><rect x="-118.0" y="-80.00" width="236.0" height="2.70" fill="url(#g94)"/><rect x="-118.0" y="-78.00" width="236.0" height="2.70" fill="url(#g95)"/><rect x="-118.0" y="-76.00" width="236.0" height="2.70" fill="url(#g96)"/><rect x="-118.0" y="-74.00" width="236.0" height="2.70" fill="url(#g97)"/><rect x="-118.0" y="-72.00" width="236.0" height="2.70" fill="url(#g98)"/><rect x="-118.0" y="-70.00" width="236.0" height="2.70" fill="url(#g99)"/><rect x="-118.0" y="-68.00" width="236.0" height="2.70" fill="url(#g100)"/><rect x="-118.0" y="-66.00" width="236.0" height="2.70" fill="url(#g101)"/><rect x="-118.0" y="-64.00" width="236.0" height="2.70" fill="url(#g102)"/><rect x="-118.0" y="-62.00" width="236.0" height="2.70" fill="url(#g103)"/><rect x="-118.0" y="-60.00" width="236.0" height="2.70" fill="url(#g104)"/><rect x="-118.0" y="-58.00" width="236.0" height="2.70" fill="url(#g105)"/><rect x="-118.0" y="-56.00" width="236.0" height="2.70" fill="url(#g106)"/><rect x="-118.0" y="-54.00" width="236.0" height="2.70" fill="url(#g107)"/><rect x="-118.0" y="-52.00" width="236.0" height="2.70" fill="url(#g108)"/><rect x="-118.0" y="-50.00" width="236.0" height="2.70" fill="url(#g109)"/><rect x="-118.0" y="-48.00" width="236.0" height="2.70" fill="url(#g110)"/><rect x="-118.0" y="-46.00" width="236.0" height="2.70" fill="url(#g111)"/><rect x="-118.0" y="-44.00" width="236.0" height="2.70" fill="url(#g112)"/><rect x="-118.0" y="-42.00" width="236.0" height="2.70" fill="url(#g113)"/><rect x="-118.0" y="-40.00" width="236.0" height="2.70" fill="url(#g114)"/><rect x="-118.0" y="-38.00" width="236.0" height="2.70" fill="url(#g115)"/><rect x="-118.0" y="-36.00" width="236.0" height="2.70" fill="url(#g116)"/><rect x="-118.0" y="-34.00" width="236.0" height="2.70" fill="url(#g117)"/><rect x="-118.0" y="-32.00" width="236.0" height="2.70" fill="url(#g118)"/><rect x="-118.0" y="-30.00" width="236.0" height="2.70" fill="url(#g119)"/><rect x="-118.0" y="-28.00" width="236.0" height="2.70" fill="url(#g120)"/><rect x="-118.0" y="-26.00" width="236.0" height="2.70" fill="url(#g121)"/><rect x="-118.0" y="-24.00" width="236.0" height="2.70" fill="url(#g122)"/><rect x="-118.0" y="-22.00" width="236.0" height="2.70" fill="url(#g123)"/><rect x="-118.0" y="-20.00" width="236.0" height="2.70" fill="url(#g124)"/><rect x="-118.0" y="-18.00" width="236.0" height="2.70" fill="url(#g125)"/><rect x="-118.0" y="-16.00" width="236.0" height="2.70" fill="url(#g126)"/><rect x="-118.0" y="-14.00" width="236.0" height="2.70" fill="url(#g127)"/><rect x="-118.0" y="-12.00" width="236.0" height="2.70" fill="url(#g128)"/><rect x="-118.0" y="-10.00" width="236.0" height="2.70" fill="url(#g129)"/><rect x="-118.0" y="-8.00" width="236.0" height="2.70" fill="url(#g130)"/><rect x="-118.0" y="-6.00" width="236.0" height="2.70" fill="url(#g131)"/><rect x="-118.0" y="-4.00" width="236.0" height="2.70" fill="url(#g132)"/><rect x="-118.0" y="-2.00" width="236.0" height="2.70" fill="url(#g133)"/><rect x="-118.0" y="0.00" width="236.0" height="2.70" fill="url(#g134)"/><rect x="-118.0" y="2.00" width="236.0" height="2.70" fill="url(#g135)"/><rect x="-118.0" y="4.00" width="236.0" height="2.70" fill="url(#g136)"/><rect x="-118.0" y="6.00" width="236.0" height="2.70" fill="url(#g137)"/><rect x="-118.0" y="8.00" width="236.0" height="2.70" fill="url(#g138)"/><rect x="-118.0" y="10.00" width="236.0" height="2.70" fill="url(#g139)"/><rect x="-118.0" y="12.00" width="236.0" height="2.70" fill="url(#g140)"/><rect x="-118.0" y="14.00" width="236.0" height="2.70" fill="url(#g141)"/><rect x="-118.0" y="16.00" width="236.0" height="2.70" fill="url(#g142)"/><rect x="-118.0" y="18.00" width="236.0" height="2.70" fill="url(#g143)"/><rect x="-118.0" y="20.00" width="236.0" height="2.70" fill="url(#g144)"/><rect x="-118.0" y="22.00" width="236.0" height="2.70" fill="url(#g145)"/><rect x="-118.0" y="24.00" width="236.0" height="2.70" fill="url(#g146)"/><rect x="-118.0" y="26.00" width="236.0" height="2.70" fill="url(#g147)"/><rect x="-118.0" y="28.00" width="236.0" height="2.70" fill="url(#g148)"/><rect x="-118.0" y="30.00" width="236.0" height="2.70" fill="url(#g149)"/><rect x="-118.0" y="32.00" width="236.0" height="2.70" fill="url(#g150)"/><rect x="-118.0" y="34.00" width="236.0" height="2.70" fill="url(#g151)"/><rect x="-118.0" y="36.00" width="236.0" height="2.70" fill="url(#g152)"/><rect x="-118.0" y="38.00" width="236.0" height="2.70" fill="url(#g153)"/><rect x="-118.0" y="40.00" width="236.0" height="2.70" fill="url(#g154)"/><rect x="-118.0" y="42.00" width="236.0" height="2.70" fill="url(#g155)"/><rect x="-118.0" y="44.00" width="236.0" height="2.70" fill="url(#g156)"/><rect x="-118.0" y="46.00" width="236.0" height="2.70" fill="url(#g157)"/><rect x="-118.0" y="48.00" width="236.0" height="2.70" fill="url(#g158)"/><rect x="-118.0" y="50.00" width="236.0" height="2.70" fill="url(#g159)"/><rect x="-118.0" y="52.00" width="236.0" height="2.70" fill="url(#g160)"/><rect x="-118.0" y="54.00" width="236.0" height="2.70" fill="url(#g161)"/><rect x="-118.0" y="56.00" width="236.0" height="2.70" fill="url(#g162)"/><rect x="-118.0" y="58.00" width="236.0" height="2.70" fill="url(#g163)"/><rect x="-118.0" y="60.00" width="236.0" height="2.70" fill="url(#g164)"/><rect x="-118.0" y="62.00" width="236.0" height="2.70" fill="url(#g165)"/><rect x="-118.0" y="64.00" width="236.0" height="2.70" fill="url(#g166)"/><rect x="-118.0" y="66.00" width="236.0" height="2.70" fill="url(#g167)"/><rect x="-118.0" y="68.00" width="236.0" height="2.70" fill="url(#g168)"/><rect x="-118.0" y="70.00" width="236.0" height="2.70" fill="url(#g169)"/><rect x="-118.0" y="72.00" width="236.0" height="2.70" fill="url(#g170)"/><rect x="-118.0" y="74.00" width="236.0" height="2.70" fill="url(#g171)"/><rect x="-118.0" y="76.00" width="236.0" height="2.70" fill="url(#g172)"/><rect x="-118.0" y="78.00" width="236.0" height="2.70" fill="url(#g173)"/><rect x="-118.0" y="80.00" width="236.0" height="2.70" fill="url(#g174)"/></g></g><path d="M385.5,358.9 C388.4,358.1 397.1,353.9 403.0,354.0 C408.9,354.1 416.2,356.7 421.0,359.8 C425.8,362.9 428.8,367.6 431.8,372.4 C434.8,377.2 436.6,381.9 439.0,388.7 C441.4,395.5 445.1,408.9 446.3,413.0" fill="none" stroke="#111" stroke-width="0.55"/><path d="M515.8,249.0 C515.1,261.7 513.1,298.1 511.6,325.4 C510.1,352.7 507.6,398.4 506.8,413.0" fill="none" stroke="#111" stroke-width="0.55"/><path d="M568.9,249.0 C566.9,261.7 560.5,298.1 556.8,325.4 C553.1,352.7 548.5,398.4 546.9,413.0" fill="none" stroke="#111" stroke-width="0.55"/><path d="M606.6,249.0 C604.2,261.7 595.1,298.1 592.2,325.4 C589.4,352.7 590.0,398.4 589.5,413.0" fill="none" stroke="#111" stroke-width="0.55"/><path d="M617.0,346.0 L607.0,413.0" fill="none" stroke="#111" stroke-width="0.55"/><rect x="385.5" y="249.0" width="231.5" height="164.0" fill="none" stroke="#111" stroke-width="0.8"/><path d="M385.5,413.0v4M431.8,413.0v4M478.1,413.0v4M524.4,413.0v4M570.7,413.0v4M617.0,413.0v4M385.5,249.0h-6M385.5,269.5h-6M385.5,290.0h-6M385.5,310.5h-6M385.5,331.0h-6M385.5,351.5h-6M385.5,372.0h-6M385.5,392.5h-6M385.5,413.0h-6" stroke="#333" stroke-width="0.6" fill="none"/><rect x="426.4" y="364.5" width="5.4" height="5.6" fill="#fff" stroke="#222" stroke-width="0.5"/><text x="429.1" y="369.2" font-family="Liberation Sans" font-size="5.4" fill="#222" text-anchor="middle">0</text><rect x="498.9" y="325.4" width="23.2" height="5.6" fill="#fff" stroke="#222" stroke-width="0.5"/><text x="510.5" y="330.1" font-family="Liberation Sans" font-size="5.4" fill="#222" text-anchor="middle" textLength="19.6" lengthAdjust="spacingAndGlyphs">0.0001</text><rect x="544.3" y="325.4" width="23.2" height="5.6" fill="#fff" stroke="#222" stroke-width="0.5"/><text x="555.9" y="330.1" font-family="Liberation Sans" font-size="5.4" fill="#222" text-anchor="middle" textLength="19.6" lengthAdjust="spacingAndGlyphs">0.0002</text><rect x="578.9" y="325.4" width="23.2" height="5.6" fill="#fff" stroke="#222" stroke-width="0.5"/><text x="590.5" y="330.1" font-family="Liberation Sans" font-size="5.4" fill="#222" text-anchor="middle" textLength="19.6" lengthAdjust="spacingAndGlyphs">0.0003</text><g clip-path="url(#c175)"><g transform="translate(166.0,801.5) rotate(30.00)"><rect x="49.1" y="-123.12" width="14.0" height="3.70" fill="url(#g176)"/><rect x="44.1" y="-120.12" width="20.0" height="3.70" fill="url(#g177)"/><rect x="39.1" y="-117.12" width="27.0" height="3.70" fill="url(#g178)"/><rect x="33.1" y="-114.12" width="35.1" height="3.70" fill="url(#g179)"/><rect x="28.1" y="-111.12" width="42.1" height="3.70" fill="url(#g180)"/><rect x="23.0" y="-108.12" width="48.1" height="3.70" fill="url(#g181)"/><rect x="18.0" y="-105.12" width="55.1" height="3.70" fill="url(#g182)"/><rect x="13.0" y="-102.12" width="62.1" height="3.70" fill="url(#g183)"/><rect x="7.0" y="-99.12" width="69.1" height="3.70" fill="url(#g184)"/><rect x="2.0" y="-96.12" width="76.1" height="3.70" fill="url(#g185)"/><rect x="-3.0" y="-93.12" width="83.1" height="3.70" fill="url(#g186)"/><rect x="-8.0" y="-90.12" width="90.2" height="3.70" fill="url(#g187)"/><rect x="-13.0" y="-87.12" width="96.2" height="3.70" fill="url(#g188)"/><rect x="-18.0" y="-84.12" width="103.2" height="3.70" fill="url(#g189)"/><rect x="-24.0" y="-81.12" width="111.2" height="3.70" fill="url(#g190)"/><rect x="-29.0" y="-78.12" width="118.2" height="3.70" fill="url(#g191)"/><rect x="-34.1" y="-75.12" width="124.2" height="3.70" fill="url(#g192)"/><rect x="-39.1" y="-72.12" width="131.2" height="3.70" fill="url(#g193)"/><rect x="-44.1" y="-69.12" width="138.2" height="3.70" fill="url(#g194)"/><rect x="-50.1" y="-66.12" width="145.3" height="3.70" fill="url(#g195)"/><rect x="-55.1" y="-63.12" width="152.3" height="3.70" fill="url(#g196)"/><rect x="-60.1" y="-60.12" width="159.3" height="3.70" fill="url(#g197)"/><rect x="-65.1" y="-57.12" width="166.3" height="3.70" fill="url(#g198)"/><rect x="-70.1" y="-54.12" width="172.3" height="3.70" fill="url(#g199)"/><rect x="-76.1" y="-51.12" width="180.3" height="3.70" fill="url(#g200)"/><rect x="-81.1" y="-48.12" width="187.3" height="3.70" fill="url(#g201)"/><rect x="-86.2" y="-45.12" width="194.3" height="3.70" fill="url(#g202)"/><rect x="-91.2" y="-42.12" width="200.4" height="3.70" fill="url(#g203)"/><rect x="-96.2" y="-39.12" width="207.4" height="3.70" fill="url(#g204)"/><rect x="-101.2" y="-36.12" width="214.4" height="3.70" fill="url(#g205)"/><rect x="-107.2" y="-33.12" width="221.4" height="3.70" fill="url(#g206)"/><rect x="-112.2" y="-30.12" width="228.4" height="3.70" fill="url(#g207)"/><rect x="-117.2" y="-27.12" width="235.4" height="3.70" fill="url(#g208)"/><rect x="-122.2" y="-24.12" width="242.4" height="3.70" fill="url(#g209)"/><rect x="-127.2" y="-21.12" width="248.4" height="3.70" fill="url(#g210)"/><rect x="-133.2" y="-18.12" width="256.5" height="3.70" fill="url(#g211)"/><rect x="-138.2" y="-15.12" width="263.5" height="3.70" fill="url(#g212)"/><rect x="-138.2" y="-12.12" width="265.5" height="3.70" fill="url(#g213)"/><rect x="-137.2" y="-9.12" width="265.5" height="3.70" fill="url(#g214)"/><rect x="-135.2" y="-6.12" width="265.5" height="3.70" fill="url(#g215)"/><rect x="-134.2" y="-3.12" width="266.5" height="3.70" fill="url(#g216)"/><rect x="-132.2" y="-0.12" width="265.5" height="3.70" fill="url(#g217)"/><rect x="-130.2" y="2.88" width="265.5" height="3.70" fill="url(#g218)"/><rect x="-128.2" y="5.88" width="265.5" height="3.70" fill="url(#g219)"/><rect x="-127.2" y="8.88" width="265.5" height="3.70" fill="url(#g220)"/><rect x="-125.2" y="11.88" width="263.5" height="3.70" fill="url(#g221)"/><rect x="-123.2" y="14.88" width="256.5" height="3.70" fill="url(#g222)"/><rect x="-122.2" y="17.88" width="250.4" height="3.70" fill="url(#g223)"/><rect x="-120.2" y="20.88" width="243.4" height="3.70" fill="url(#g224)"/><rect x="-118.2" y="23.88" width="235.4" height="3.70" fill="url(#g225)"/><rect x="-116.2" y="26.88" width="228.4" height="3.70" fill="url(#g226)"/><rect x="-115.2" y="29.88" width="222.4" height="3.70" fill="url(#g227)"/><rect x="-113.2" y="32.88" width="215.4" height="3.70" fill="url(#g228)"/><rect x="-111.2" y="35.88" width="208.4" height="3.70" fill="url(#g229)"/><rect x="-109.2" y="38.88" width="200.4" height="3.70" fill="url(#g230)"/><rect x="-108.2" y="41.88" width="194.3" height="3.70" fill="url(#g231)"/><rect x="-106.2" y="44.88" width="187.3" height="3.70" fill="url(#g232)"/><rect x="-104.2" y="47.88" width="180.3" height="3.70" fill="url(#g233)"/><rect x="-103.2" y="50.88" width="174.3" height="3.70" fill="url(#g234)"/><rect x="-101.2" y="53.88" width="167.3" height="3.70" fill="url(#g235)"/><rect x="-99.2" y="56.88" width="159.3" height="3.70" fill="url(#g236)"/><rect x="-97.2" y="59.88" width="152.3" height="3.70" fill="url(#g237)"/><rect x="-96.2" y="62.88" width="146.3" height="3.70" fill="url(#g238)"/><rect x="-94.2" y="65.88" width="139.2" height="3.70" fill="url(#g239)"/><rect x="-92.2" y="68.88" width="132.2" height="3.70" fill="url(#g240)"/><rect x="-90.2" y="71.88" width="124.2" height="3.70" fill="url(#g241)"/><rect x="-89.2" y="74.88" width="118.2" height="3.70" fill="url(#g242)"/><rect x="-87.2" y="77.88" width="111.2" height="3.70" fill="url(#g243)"/><rect x="-85.1" y="80.88" width="104.2" height="3.70" fill="url(#g244)"/><rect x="-83.1" y="83.88" width="97.2" height="3.70" fill="url(#g245)"/><rect x="-82.1" y="86.88" width="91.2" height="3.70" fill="url(#g246)"/><rect x="-80.1" y="89.88" width="83.1" height="3.70" fill="url(#g247)"/><rect x="-78.1" y="92.88" width="76.1" height="3.70" fill="url(#g248)"/><rect x="-77.1" y="95.88" width="70.1" height="3.70" fill="url(#g249)"/><rect x="-75.1" y="98.88" width="63.1" height="3.70" fill="url(#g250)"/><rect x="-73.1" y="101.88" width="56.1" height="3.70" fill="url(#g251)"/><rect x="-71.1" y="104.88" width="48.1" height="3.70" fill="url(#g252)"/><rect x="-70.1" y="107.88" width="42.1" height="3.70" fill="url(#g253)"/><rect x="-68.1" y="110.88" width="35.1" height="3.70" fill="url(#g254)"/><rect x="-66.1" y="113.88" width="28.0" height="3.70" fill="url(#g255)"/><rect x="-64.1" y="116.88" width="21.0" height="3.70" fill="url(#g256)"/><rect x="-63.1" y="119.88" width="14.0" height="3.70" fill="url(#g257)"/><rect x="-61.1" y="122.88" width="7.0" height="3.70" fill="url(#g258)"/></g></g><path d="M129.1,724.1 C126.2,728.3 116.4,743.7 111.7,749.1 C107.0,754.5 104.2,756.7 100.9,756.7 C97.7,756.7 93.3,752.9 92.2,749.1 C91.1,745.3 93.2,738.1 94.3,733.9 C95.4,729.7 98.0,725.7 98.7,724.1" fill="none" stroke="#111" stroke-width="0.55"/><path d="M111.5,878.9 C115.9,874.1 127.7,861.9 137.8,850.0 C147.9,838.1 163.5,819.7 172.2,807.5 C180.9,795.3 182.5,790.9 190.0,777.0 C197.5,763.1 212.8,732.9 217.3,724.1" fill="none" stroke="#111" stroke-width="0.55"/><path d="M165.5,878.9 C169.6,873.3 180.6,859.1 190.0,845.1 C199.4,831.1 210.1,815.2 221.7,795.0 C233.2,774.8 253.0,735.9 259.3,724.1" fill="none" stroke="#111" stroke-width="0.55"/><path d="M203.3,878.9 C209.9,868.2 234.2,828.5 243.1,814.5 C251.9,800.5 250.6,804.9 256.4,795.0 C262.1,785.1 274.1,761.6 277.6,754.9" fill="none" stroke="#111" stroke-width="0.55"/><path d="M232.8,878.9 C236.4,872.7 247.0,853.5 254.5,841.5 C262.0,829.5 273.8,812.6 277.6,806.8" fill="none" stroke="#111" stroke-width="0.55"/><path d="M259.3,878.9 L277.6,848.8" fill="none" stroke="#111" stroke-width="0.55"/><rect x="53.5" y="724.1" width="224.1" height="154.8" fill="none" stroke="#111" stroke-width="0.8"/><path d="M53.5,878.9v4M98.3,878.9v4M143.1,878.9v4M188.0,878.9v4M232.8,878.9v4M277.6,878.9v4M53.5,724.1h-6M53.5,762.8h-6M53.5,801.5h-6M53.5,840.2h-6M53.5,878.9h-6" stroke="#333" stroke-width="0.6" fill="none"/><rect x="101.9" y="749.3" width="5.4" height="5.6" fill="#fff" stroke="#222" stroke-width="0.5"/><text x="104.6" y="754.0" font-family="Liberation Sans" font-size="5.4" fill="#222" text-anchor="middle">0</text><rect x="159.2" y="801.5" width="23.2" height="5.6" fill="#fff" stroke="#222" stroke-width="0.5"/><text x="170.8" y="806.2" font-family="Liberation Sans" font-size="5.4" fill="#222" text-anchor="middle" textLength="19.6" lengthAdjust="spacingAndGlyphs">0.0001</text><rect x="205.8" y="797.8" width="23.2" height="5.6" fill="#fff" stroke="#222" stroke-width="0.5"/><text x="217.4" y="802.5" font-family="Liberation Sans" font-size="5.4" fill="#222" text-anchor="middle" textLength="19.6" lengthAdjust="spacingAndGlyphs">0.0002</text><rect x="231.5" y="811.9" width="23.2" height="5.6" fill="#fff" stroke="#222" stroke-width="0.5"/><text x="243.1" y="816.6" font-family="Liberation Sans" font-size="5.4" fill="#222" text-anchor="middle" textLength="19.6" lengthAdjust="spacingAndGlyphs">0.0003</text><rect x="242.9" y="838.7" width="23.2" height="5.6" fill="#fff" stroke="#222" stroke-width="0.5"/><text x="254.5" y="843.4" font-family="Liberation Sans" font-size="5.4" fill="#222" text-anchor="middle" textLength="19.6" lengthAdjust="spacingAndGlyphs">0.0004</text><rect x="252.4" y="864.0" width="23.2" height="5.6" fill="#fff" stroke="#222" stroke-width="0.5"/><text x="264.0" y="868.7" font-family="Liberation Sans" font-size="5.4" fill="#222" text-anchor="middle" textLength="19.6" lengthAdjust="spacingAndGlyphs">0.0006</text><g clip-path="url(#c259)"><g transform="translate(496.0,796.5) rotate(0.00)"><rect x="-114.5" y="-82.50" width="229.0" height="2.70" fill="url(#g260)"/><rect x="-114.5" y="-80.50" width="229.0" height="2.70" fill="url(#g261)"/><rect x="-114.5" y="-78.50" width="229.0" height="2.70" fill="url(#g262)"/><rect x="-114.5" y="-76.50" width="229.0" height="2.70" fill="url(#g263)"/><rect x="-114.5" y="-74.50" width="229.0" height="2.70" fill="url(#g264)"/><rect x="-114.5" y="-72.50" width="229.0" height="2.70" fill="url(#g265)"/><rect x="-114.5" y="-70.50" width="229.0" height="2.70" fill="url(#g266)"/><rect x="-114.5" y="-68.50" width="229.0" height="2.70" fill="url(#g267)"/><rect x="-114.5" y="-66.50" width="229.0" height="2.70" fill="url(#g268)"/><rect x="-114.5" y="-64.50" width="229.0" height="2.70" fill="url(#g269)"/><rect x="-114.5" y="-62.50" width="229.0" height="2.70" fill="url(#g270)"/><rect x="-114.5" y="-60.50" width="229.0" height="2.70" fill="url(#g271)"/><rect x="-114.5" y="-58.50" width="229.0" height="2.70" fill="url(#g272)"/><rect x="-114.5" y="-56.50" width="229.0" height="2.70" fill="url(#g273)"/><rect x="-114.5" y="-54.50" width="229.0" height="2.70" fill="url(#g274)"/><rect x="-114.5" y="-52.50" width="229.0" height="2.70" fill="url(#g275)"/><rect x="-114.5" y="-50.50" width="229.0" height="2.70" fill="url(#g276)"/><rect x="-114.5" y="-48.50" width="229.0" height="2.70" fill="url(#g277)"/><rect x="-114.5" y="-46.50" width="229.0" height="2.70" fill="url(#g278)"/><rect x="-114.5" y="-44.50" width="229.0" height="2.70" fill="url(#g279)"/><rect x="-114.5" y="-42.50" width="229.0" height="2.70" fill="url(#g280)"/><rect x="-114.5" y="-40.50" width="229.0" height="2.70" fill="url(#g281)"/><rect x="-114.5" y="-38.50" width="229.0" height="2.70" fill="url(#g282)"/><rect x="-114.5" y="-36.50" width="229.0" height="2.70" fill="url(#g283)"/><rect x="-114.5" y="-34.50" width="229.0" height="2.70" fill="url(#g284)"/><rect x="-114.5" y="-32.50" width="229.0" height="2.70" fill="url(#g285)"/><rect x="-114.5" y="-30.50" width="229.0" height="2.70" fill="url(#g286)"/><rect x="-114.5" y="-28.50" width="229.0" height="2.70" fill="url(#g287)"/><rect x="-114.5" y="-26.50" width="229.0" height="2.70" fill="url(#g288)"/><rect x="-114.5" y="-24.50" width="229.0" height="2.70" fill="url(#g289)"/><rect x="-114.5" y="-22.50" width="229.0" height="2.70" fill="url(#g290)"/><rect x="-114.5" y="-20.50" width="229.0" height="2.70" fill="url(#g291)"/><rect x="-114.5" y="-18.50" width="229.0" height="2.70" fill="url(#g292)"/><rect x="-114.5" y="-16.50" width="229.0" height="2.70" fill="url(#g293)"/><rect x="-114.5" y="-14.50" width="229.0" height="2.70" fill="url(#g294)"/><rect x="-114.5" y="-12.50" width="229.0" height="2.70" fill="url(#g295)"/><rect x="-114.5" y="-10.50" width="229.0" height="2.70" fill="url(#g296)"/><rect x="-114.5" y="-8.50" width="229.0" height="2.70" fill="url(#g297)"/><rect x="-114.5" y="-6.50" width="229.0" height="2.70" fill="url(#g298)"/><rect x="-114.5" y="-4.50" width="229.0" height="2.70" fill="url(#g299)"/><rect x="-114.5" y="-2.50" width="229.0" height="2.70" fill="url(#g300)"/><rect x="-114.5" y="-0.50" width="229.0" height="2.70" fill="url(#g301)"/><rect x="-114.5" y="1.50" width="229.0" height="2.70" fill="url(#g302)"/><rect x="-114.5" y="3.50" width="229.0" height="2.70" fill="url(#g303)"/><rect x="-114.5" y="5.50" width="229.0" height="2.70" fill="url(#g304)"/><rect x="-114.5" y="7.50" width="229.0" height="2.70" fill="url(#g305)"/><rect x="-114.5" y="9.50" width="229.0" height="2.70" fill="url(#g306)"/><rect x="-114.5" y="11.50" width="229.0" height="2.70" fill="url(#g307)"/><rect x="-114.5" y="13.50" width="229.0" height="2.70" fill="url(#g308)"/><rect x="-114.5" y="15.50" width="229.0" height="2.70" fill="url(#g309)"/><rect x="-114.5" y="17.50" width="229.0" height="2.70" fill="url(#g310)"/><rect x="-114.5" y="19.50" width="229.0" height="2.70" fill="url(#g311)"/><rect x="-114.5" y="21.50" width="229.0" height="2.70" fill="url(#g312)"/><rect x="-114.5" y="23.50" width="229.0" height="2.70" fill="url(#g313)"/><rect x="-114.5" y="25.50" width="229.0" height="2.70" fill="url(#g314)"/><rect x="-114.5" y="27.50" width="229.0" height="2.70" fill="url(#g315)"/><rect x="-114.5" y="29.50" width="229.0" height="2.70" fill="url(#g316)"/><rect x="-114.5" y="31.50" width="229.0" height="2.70" fill="url(#g317)"/><rect x="-114.5" y="33.50" width="229.0" height="2.70" fill="url(#g318)"/><rect x="-114.5" y="35.50" width="229.0" height="2.70" fill="url(#g319)"/><rect x="-114.5" y="37.50" width="229.0" height="2.70" fill="url(#g320)"/><rect x="-114.5" y="39.50" width="229.0" height="2.70" fill="url(#g321)"/><rect x="-114.5" y="41.50" width="229.0" height="2.70" fill="url(#g322)"/><rect x="-114.5" y="43.50" width="229.0" height="2.70" fill="url(#g323)"/><rect x="-114.5" y="45.50" width="229.0" height="2.70" fill="url(#g324)"/><rect x="-114.5" y="47.50" width="229.0" height="2.70" fill="url(#g325)"/><rect x="-114.5" y="49.50" width="229.0" height="2.70" fill="url(#g326)"/><rect x="-114.5" y="51.50" width="229.0" height="2.70" fill="url(#g327)"/><rect x="-114.5" y="53.50" width="229.0" height="2.70" fill="url(#g328)"/><rect x="-114.5" y="55.50" width="229.0" height="2.70" fill="url(#g329)"/><rect x="-114.5" y="57.50" width="229.0" height="2.70" fill="url(#g330)"/><rect x="-114.5" y="59.50" width="229.0" height="2.70" fill="url(#g331)"/><rect x="-114.5" y="61.50" width="229.0" height="2.70" fill="url(#g332)"/><rect x="-114.5" y="63.50" width="229.0" height="2.70" fill="url(#g333)"/><rect x="-114.5" y="65.50" width="229.0" height="2.70" fill="url(#g334)"/><rect x="-114.5" y="67.50" width="229.0" height="2.70" fill="url(#g335)"/><rect x="-114.5" y="69.50" width="229.0" height="2.70" fill="url(#g336)"/><rect x="-114.5" y="71.50" width="229.0" height="2.70" fill="url(#g337)"/><rect x="-114.5" y="73.50" width="229.0" height="2.70" fill="url(#g338)"/><rect x="-114.5" y="75.50" width="229.0" height="2.70" fill="url(#g339)"/><rect x="-114.5" y="77.50" width="229.0" height="2.70" fill="url(#g340)"/><rect x="-114.5" y="79.50" width="229.0" height="2.70" fill="url(#g341)"/><rect x="-114.5" y="81.50" width="229.0" height="2.70" fill="url(#g342)"/></g></g><path d="M383.6,862.0 L385.5,879.0" fill="none" stroke="#111" stroke-width="0.55"/><path d="M384.5,714.1 L406.0,879.0" fill="none" stroke="#111" stroke-width="0.55"/><path d="M409.7,714.1 L429.2,879.0" fill="none" stroke="#111" stroke-width="0.55"/><path d="M441.3,714.1 L456.3,879.0" fill="none" stroke="#111" stroke-width="0.55"/><path d="M484.6,714.1 L489.4,879.0" fill="none" stroke="#111" stroke-width="0.55"/><path d="M537.6,878.8 C539.1,868.6 542.9,831.2 546.6,817.6 C550.3,804.0 554.4,802.1 560.0,797.3 C565.6,792.5 572.6,788.2 580.3,788.8 C588.0,789.4 601.9,798.7 606.2,800.7" fill="none" stroke="#111" stroke-width="0.55"/><rect x="383.6" y="714.1" width="223.9" height="164.9" fill="none" stroke="#111" stroke-width="0.8"/><path d="M383.6,879.0v4M415.6,879.0v4M447.6,879.0v4M479.6,879.0v4M511.5,879.0v4M543.5,879.0v4M575.5,879.0v4M607.5,879.0v4M383.6,714.1h-6M383.6,734.7h-6M383.6,755.3h-6M383.6,775.9h-6M383.6,796.5h-6M383.6,817.2h-6M383.6,837.8h-6M383.6,858.4h-6M383.6,879.0h-6" stroke="#333" stroke-width="0.6" fill="none"/><rect x="383.9" y="790.7" width="23.2" height="5.6" fill="#fff" stroke="#222" stroke-width="0.5"/><text x="395.5" y="795.4" font-family="Liberation Sans" font-size="5.4" fill="#222" text-anchor="middle" textLength="19.6" lengthAdjust="spacingAndGlyphs">0.0004</text><rect x="408.3" y="788.5" width="23.2" height="5.6" fill="#fff" stroke="#222" stroke-width="0.5"/><text x="419.9" y="793.2" font-family="Liberation Sans" font-size="5.4" fill="#222" text-anchor="middle" textLength="19.6" lengthAdjust="spacingAndGlyphs">0.0003</text><rect x="437.9" y="790.5" width="23.2" height="5.6" fill="#fff" stroke="#222" stroke-width="0.5"/><text x="449.5" y="795.2" font-family="Liberation Sans" font-size="5.4" fill="#222" text-anchor="middle" textLength="19.6" lengthAdjust="spacingAndGlyphs">0.0002</text><rect x="475.2" y="788.5" width="23.2" height="5.6" fill="#fff" stroke="#222" stroke-width="0.5"/><text x="486.8" y="793.2" font-family="Liberation Sans" font-size="5.4" fill="#222" text-anchor="middle" textLength="19.6" lengthAdjust="spacingAndGlyphs">0.0001</text><rect x="551.7" y="805.1" width="5.4" height="5.6" fill="#fff" stroke="#222" stroke-width="0.5"/><text x="554.4" y="809.8" font-family="Liberation Sans" font-size="5.4" fill="#222" text-anchor="middle">0</text><path d="M68.9,168.9 L62.0,54.1 M84.1,135.7 L80.3,48.8 M100.9,129.3 L98.6,43.5 M117.6,122.9 L116.9,38.1 M134.4,116.6 L135.2,32.8 M150.5,135.5 L153.5,27.5 M67.3,142.0 L151.2,110.2 M66.5,129.5 L151.5,98.4 M65.8,116.9 L151.9,86.6 M65.0,104.3 L152.2,74.8 M64.3,91.8 L152.5,62.9 M63.5,79.2 L152.8,51.1 M62.8,66.7 L153.2,39.3 M62.0,54.1 L153.5,27.5" stroke="#4a4a4a" stroke-width="0.55" fill="none"/><path d="M150.5,135.5 L153.5,27.5 M165.5,113.9 L168.1,30.7 M179.8,117.6 L182.7,33.9 M194.0,121.3 L197.3,37.1 M208.3,125.0 L212.0,40.4 M222.6,128.6 L226.6,43.6 M236.9,132.3 L241.2,46.8 M249.7,162.3 L255.8,50.0 M151.2,110.2 L251.1,136.0 M151.5,98.4 L251.8,123.7 M151.9,86.6 L252.5,111.4 M152.2,74.8 L253.1,99.1 M152.5,62.9 L253.8,86.9 M152.8,51.1 L254.5,74.6 M153.2,39.3 L255.1,62.3 M153.5,27.5 L255.8,50.0" stroke="#4a4a4a" stroke-width="0.55" fill="none"/><text x="57.8" y="53.3" font-family="Liberation Sans" font-size="6.2" fill="#333" text-anchor="end">0.0012</text><path d="M62.0,54.1h-1.8" stroke="#222" stroke-width="0.9"/><text x="58.6" y="65.9" font-family="Liberation Sans" font-size="6.2" fill="#333" text-anchor="end">0.001</text><path d="M62.8,66.7h-1.8" stroke="#222" stroke-width="0.9"/><text x="59.3" y="78.4" font-family="Liberation Sans" font-size="6.2" fill="#333" text-anchor="end">0.0008</text><path d="M63.5,79.2h-1.8" stroke="#222" stroke-width="0.9"/><text x="60.1" y="91.0" font-family="Liberation Sans" font-size="6.2" fill="#333" text-anchor="end">0.0006</text><path d="M64.3,91.8h-1.8" stroke="#222" stroke-width="0.9"/><text x="60.8" y="103.5" font-family="Liberation Sans" font-size="6.2" fill="#333" text-anchor="end">0.0004</text><path d="M65.0,104.3h-1.8" stroke="#222" stroke-width="0.9"/><text x="61.6" y="116.1" font-family="Liberation Sans" font-size="6.2" fill="#333" text-anchor="end">0.0002</text><path d="M65.8,116.9h-1.8" stroke="#222" stroke-width="0.9"/><text x="62.3" y="128.7" font-family="Liberation Sans" font-size="6.2" fill="#333" text-anchor="end">0</text><path d="M66.5,129.5h-1.8" stroke="#222" stroke-width="0.9"/><text x="63.1" y="141.2" font-family="Liberation Sans" font-size="6.2" fill="#333" text-anchor="end">-0.0002</text><path d="M67.3,142.0h-1.8" stroke="#222" stroke-width="0.9"/><path d="M68.9,168.9 L169.2,210.7 L249.7,162.3 L150.5,135.5 Z" fill="#ffff00" stroke="#333" stroke-width="0.4"/><path d="M68.9,168.9 l-2.2,-0.0 M83.2,174.9 l-2.2,0.2 M97.6,180.8 l-2.2,0.4 M111.9,186.8 l-2.1,0.8 M126.2,192.8 l-1.8,1.3 M140.5,198.8 l-1.2,1.8 M154.9,204.7 l-0.3,2.2 M169.2,210.7 l0.5,2.1 M169.2,210.7 l0.5,2.1 M185.3,201.0 l1.4,1.7 M201.4,191.3 l1.9,1.0 M217.5,181.7 l2.2,0.5 M233.6,172.0 l2.2,0.1 M249.7,162.3 l2.2,-0.2" stroke="#222" stroke-width="0.8" fill="none"/><path d="M110.6,151.8 110.8,152.2 110.9,152.8 111.2,153.4 111.5,154.1 111.9,154.9 112.4,155.5 113.1,156.2 113.9,156.8 114.9,157.5 115.9,158.2 116.8,158.8 117.8,159.3 118.7,159.7 119.7,160.1 120.6,160.4 121.6,160.6 122.5,160.8 123.4,160.9 124.2,161.0 125.0,161.1 125.8,161.0 126.6,160.9 127.4,160.7 128.0,160.4 128.7,159.9 129.3,159.3 129.8,158.7 130.3,157.9 130.8,157.1 131.3,156.1 131.8,155.2 132.3,154.1 132.7,153.0 133.2,151.8 133.6,150.5 134.1,149.2 134.7,147.8 135.3,146.2 136.0,144.6 136.6,143.0 137.1,141.8 137.5,140.8" fill="none" stroke="#4a4a5a" stroke-width="0.6"/><path d="M182.8,202.5 182.6,200.4 182.3,197.3 182.0,193.7 181.7,190.1 181.4,186.8 181.1,184.3 180.8,182.5 180.6,181.2 180.3,180.1 180.1,179.2 179.8,178.0 179.7,176.4 179.5,174.5 179.4,172.4 179.4,170.2 179.3,167.8 179.3,165.3 179.2,162.5 179.1,159.3 179.0,155.5 178.9,151.7 178.8,148.1 178.8,145.1 178.7,143.0" fill="none" stroke="#ff0000" stroke-width="0.6"/><path d="M198.3,193.2 198.9,192.6 199.8,192.1 200.9,191.3 201.9,190.0 202.8,187.8 203.3,184.6 203.5,179.5 203.4,172.9 203.2,165.7 202.9,158.9 202.7,153.2 202.5,149.4" fill="none" stroke="#ff0000" stroke-width="0.6"/><path d="M221.9,179.0 221.8,177.6 221.7,175.6 221.6,173.2 221.5,170.8 221.4,168.3 221.3,166.1 221.1,163.9 221.0,161.6 220.8,159.3 220.7,157.2 220.5,155.5 220.4,154.2" fill="none" stroke="#ff0000" stroke-width="0.6"/><path d="M234.5,171.4 236.2,158.5" fill="none" stroke="#ff0000" stroke-width="0.6"/><linearGradient id="sa0" gradientUnits="userSpaceOnUse" x1="67.8" y1="116.8" x2="153.8" y2="93.3"><stop offset="0.000" stop-color="#722e2a"/><stop offset="0.031" stop-color="#72302a"/><stop offset="0.094" stop-color="#716d21"/><stop offset="0.158" stop-color="#326822"/><stop offset="0.254" stop-color="#1b5a54"/><stop offset="0.286" stop-color="#17525d"/><stop offset="0.416" stop-color="#112451"/><stop offset="0.616" stop-color="#0f134c"/><stop offset="0.858" stop-color="#132f53"/><stop offset="1.000" stop-color="#195958"/></linearGradient><path d="M65.7,115.4 68.6,115.6 71.6,115.7 74.5,115.8 77.4,115.8 80.3,115.7 83.2,115.6 86.1,115.3 89.0,115.1 91.8,114.7 94.7,114.3 97.6,113.9 100.4,113.3 103.3,112.7 106.1,112.1 109.0,111.4 111.8,110.6 114.7,109.7 117.5,108.8 120.4,107.9 123.2,106.9 126.0,105.8 128.9,104.6 131.7,103.4 134.6,102.2 137.4,100.9 140.2,99.5 143.1,98.1 145.9,96.6 148.8,95.0 151.7,93.4 155.9,93.1 153.0,94.8 150.2,96.5 147.3,98.0 144.4,99.6 141.6,101.0 138.7,102.5 135.9,103.8 133.1,105.1 130.2,106.3 127.4,107.5 124.5,108.7 121.7,109.7 118.9,110.7 116.0,111.7 113.2,112.5 110.3,113.4 107.5,114.1 104.6,114.8 101.8,115.4 98.9,116.0 96.1,116.5 93.2,116.9 90.3,117.3 87.4,117.6 84.5,117.9 81.7,118.1 78.7,118.2 75.8,118.2 72.9,118.2 70.0,118.1Z" fill="url(#sa0)" stroke="url(#sa0)" stroke-width="0.9"/><linearGradient id="sa1" gradientUnits="userSpaceOnUse" x1="72.1" y1="119.4" x2="158.0" y2="92.9"><stop offset="0.000" stop-color="#722e2a"/><stop offset="0.062" stop-color="#726921"/><stop offset="0.125" stop-color="#336822"/><stop offset="0.220" stop-color="#1b5a53"/><stop offset="0.252" stop-color="#17535d"/><stop offset="0.414" stop-color="#112150"/><stop offset="0.648" stop-color="#101b4e"/><stop offset="0.856" stop-color="#153f58"/><stop offset="0.928" stop-color="#17545d"/><stop offset="1.000" stop-color="#1f5e45"/></linearGradient><path d="M70.0,118.1 72.9,118.2 75.8,118.2 78.7,118.2 81.7,118.1 84.5,117.9 87.4,117.6 90.3,117.3 93.2,116.9 96.1,116.5 98.9,116.0 101.8,115.4 104.6,114.8 107.5,114.1 110.3,113.4 113.2,112.5 116.0,111.7 118.9,110.7 121.7,109.7 124.5,108.7 127.4,107.5 130.2,106.3 133.1,105.1 135.9,103.8 138.7,102.5 141.6,101.0 144.4,99.6 147.3,98.0 150.2,96.5 153.0,94.8 155.9,93.1 160.1,92.7 157.2,94.5 154.4,96.2 151.5,97.9 148.7,99.5 145.8,101.1 142.9,102.6 140.1,104.1 137.3,105.5 134.4,106.8 131.6,108.1 128.7,109.3 125.9,110.5 123.1,111.6 120.2,112.6 117.4,113.6 114.5,114.5 111.7,115.4 108.8,116.2 106.0,116.9 103.1,117.6 100.3,118.2 97.4,118.8 94.5,119.2 91.7,119.6 88.8,120.0 85.9,120.3 83.0,120.5 80.1,120.6 77.2,120.7 74.3,120.7Z" fill="url(#sa1)" stroke="url(#sa1)" stroke-width="0.9"/><linearGradient id="sa2" gradientUnits="userSpaceOnUse" x1="76.4" y1="122.0" x2="162.2" y2="92.5"><stop offset="0.000" stop-color="#724b26"/><stop offset="0.031" stop-color="#726722"/><stop offset="0.092" stop-color="#336822"/><stop offset="0.186" stop-color="#1b5a54"/><stop offset="0.249" stop-color="#164559"/><stop offset="0.411" stop-color="#111f4f"/><stop offset="0.645" stop-color="#112350"/><stop offset="0.891" stop-color="#19585a"/><stop offset="1.000" stop-color="#266430"/></linearGradient><path d="M74.3,120.7 77.2,120.7 80.1,120.6 83.0,120.5 85.9,120.3 88.8,120.0 91.7,119.6 94.5,119.2 97.4,118.8 100.3,118.2 103.1,117.6 106.0,116.9 108.8,116.2 111.7,115.4 114.5,114.5 117.4,113.6 120.2,112.6 123.1,111.6 125.9,110.5 128.7,109.3 131.6,108.1 134.4,106.8 137.3,105.5 140.1,104.1 142.9,102.6 145.8,101.1 148.7,99.5 151.5,97.9 154.4,96.2 157.2,94.5 160.1,92.7 164.4,92.2 161.5,94.1 158.6,95.9 155.7,97.7 152.9,99.4 150.0,101.1 147.1,102.7 144.3,104.3 141.4,105.8 138.6,107.2 135.8,108.6 132.9,109.9 130.1,111.2 127.2,112.4 124.4,113.6 121.6,114.6 118.7,115.7 115.9,116.6 113.0,117.5 110.2,118.4 107.3,119.1 104.5,119.8 101.6,120.5 98.8,121.1 95.9,121.6 93.0,122.0 90.1,122.4 87.3,122.7 84.4,123.0 81.5,123.2 78.6,123.3Z" fill="url(#sa2)" stroke="url(#sa2)" stroke-width="0.9"/><linearGradient id="sa3" gradientUnits="userSpaceOnUse" x1="80.7" y1="124.5" x2="166.5" y2="91.9"><stop offset="0.000" stop-color="#726c21"/><stop offset="0.061" stop-color="#336822"/><stop offset="0.153" stop-color="#1a5956"/><stop offset="0.216" stop-color="#154459"/><stop offset="0.376" stop-color="#112050"/><stop offset="0.575" stop-color="#112450"/><stop offset="0.783" stop-color="#164d5b"/><stop offset="0.818" stop-color="#18575d"/><stop offset="0.963" stop-color="#286628"/><stop offset="1.000" stop-color="#3b6922"/></linearGradient><path d="M78.6,123.3 81.5,123.2 84.4,123.0 87.3,122.7 90.1,122.4 93.0,122.0 95.9,121.6 98.8,121.1 101.6,120.5 104.5,119.8 107.3,119.1 110.2,118.4 113.0,117.5 115.9,116.6 118.7,115.7 121.6,114.6 124.4,113.6 127.2,112.4 130.1,111.2 132.9,109.9 135.8,108.6 138.6,107.2 141.4,105.8 144.3,104.3 147.1,102.7 150.0,101.1 152.9,99.4 155.7,97.7 158.6,95.9 161.5,94.1 164.4,92.2 168.6,91.6 165.7,93.6 162.8,95.6 159.9,97.4 157.1,99.3 154.2,101.0 151.4,102.7 148.5,104.4 145.6,106.0 142.8,107.6 140.0,109.0 137.1,110.5 134.3,111.8 131.4,113.1 128.6,114.4 125.8,115.6 122.9,116.7 120.1,117.8 117.2,118.8 114.4,119.7 111.5,120.6 108.7,121.4 105.8,122.1 103.0,122.8 100.1,123.5 97.3,124.0 94.4,124.5 91.5,124.9 88.6,125.3 85.7,125.6 82.8,125.8Z" fill="url(#sa3)" stroke="url(#sa3)" stroke-width="0.9"/><linearGradient id="sa4" gradientUnits="userSpaceOnUse" x1="85.0" y1="127.0" x2="170.7" y2="91.3"><stop offset="0.000" stop-color="#4e6a21"/><stop offset="0.030" stop-color="#316822"/><stop offset="0.121" stop-color="#1a5957"/><stop offset="0.277" stop-color="#122952"/><stop offset="0.439" stop-color="#101e4f"/><stop offset="0.641" stop-color="#143755"/><stop offset="0.746" stop-color="#17535d"/><stop offset="0.926" stop-color="#316822"/><stop offset="1.000" stop-color="#666c21"/></linearGradient><path d="M82.8,125.8 85.7,125.6 88.6,125.3 91.5,124.9 94.4,124.5 97.3,124.0 100.1,123.5 103.0,122.8 105.8,122.1 108.7,121.4 111.5,120.6 114.4,119.7 117.2,118.8 120.1,117.8 122.9,116.7 125.8,115.6 128.6,114.4 131.4,113.1 134.3,111.8 137.1,110.5 140.0,109.0 142.8,107.6 145.6,106.0 148.5,104.4 151.4,102.7 154.2,101.0 157.1,99.3 159.9,97.4 162.8,95.6 165.7,93.6 168.6,91.6 172.8,91.0 169.9,93.1 167.1,95.1 164.2,97.1 161.3,99.0 158.4,100.9 155.6,102.7 152.7,104.4 149.8,106.1 147.0,107.8 144.1,109.4 141.3,110.9 138.5,112.4 135.6,113.8 132.8,115.1 129.9,116.4 127.1,117.7 124.3,118.8 121.4,119.9 118.6,121.0 115.8,122.0 112.9,122.9 110.1,123.7 107.2,124.5 104.4,125.2 101.5,125.9 98.6,126.5 95.8,127.0 92.9,127.5 90.0,127.9 87.1,128.2Z" fill="url(#sa4)" stroke="url(#sa4)" stroke-width="0.9"/><linearGradient id="sa5" gradientUnits="userSpaceOnUse" x1="89.2" y1="129.4" x2="175.0" y2="90.6"><stop offset="0.000" stop-color="#2d6822"/><stop offset="0.090" stop-color="#1a5958"/><stop offset="0.243" stop-color="#122852"/><stop offset="0.437" stop-color="#11204f"/><stop offset="0.639" stop-color="#154559"/><stop offset="0.709" stop-color="#19585a"/><stop offset="0.852" stop-color="#2a6723"/><stop offset="0.963" stop-color="#726721"/><stop offset="1.000" stop-color="#724f25"/></linearGradient><path d="M87.1,128.2 90.0,127.9 92.9,127.5 95.8,127.0 98.6,126.5 101.5,125.9 104.4,125.2 107.2,124.5 110.1,123.7 112.9,122.9 115.8,122.0 118.6,121.0 121.4,119.9 124.3,118.8 127.1,117.7 129.9,116.4 132.8,115.1 135.6,113.8 138.5,112.4 141.3,110.9 144.1,109.4 147.0,107.8 149.8,106.1 152.7,104.4 155.6,102.7 158.4,100.9 161.3,99.0 164.2,97.1 167.1,95.1 169.9,93.1 172.8,91.0 177.1,90.3 174.2,92.4 171.3,94.6 168.4,96.6 165.5,98.7 162.6,100.6 159.8,102.5 156.9,104.4 154.0,106.2 151.2,107.9 148.3,109.6 145.5,111.3 142.7,112.8 139.8,114.3 137.0,115.8 134.1,117.2 131.3,118.5 128.5,119.8 125.6,121.0 122.8,122.2 120.0,123.3 117.1,124.3 114.3,125.2 111.4,126.1 108.6,127.0 105.7,127.7 102.9,128.4 100.0,129.1 97.1,129.6 94.2,130.1 91.4,130.6Z" fill="url(#sa5)" stroke="url(#sa5)" stroke-width="0.9"/><linearGradient id="sa6" gradientUnits="userSpaceOnUse" x1="93.5" y1="131.7" x2="179.2" y2="89.9"><stop offset="0.000" stop-color="#246237"/><stop offset="0.059" stop-color="#195859"/><stop offset="0.211" stop-color="#122751"/><stop offset="0.402" stop-color="#112050"/><stop offset="0.603" stop-color="#164a5b"/><stop offset="0.638" stop-color="#18565e"/><stop offset="0.779" stop-color="#286529"/><stop offset="0.851" stop-color="#506a21"/><stop offset="0.888" stop-color="#6b6c21"/><stop offset="1.000" stop-color="#722e2a"/></linearGradient><path d="M91.4,130.6 94.2,130.1 97.1,129.6 100.0,129.1 102.9,128.4 105.7,127.7 108.6,127.0 111.4,126.1 114.3,125.2 117.1,124.3 120.0,123.3 122.8,122.2 125.6,121.0 128.5,119.8 131.3,118.5 134.1,117.2 137.0,115.8 139.8,114.3 142.7,112.8 145.5,111.3 148.3,109.6 151.2,107.9 154.0,106.2 156.9,104.4 159.8,102.5 162.6,100.6 165.5,98.7 168.4,96.6 171.3,94.6 174.2,92.4 177.1,90.3 181.4,89.4 178.4,91.7 175.5,93.9 172.6,96.1 169.7,98.2 166.9,100.3 164.0,102.3 161.1,104.3 158.3,106.2 155.4,108.0 152.5,109.8 149.7,111.5 146.8,113.2 144.0,114.8 141.2,116.4 138.3,117.9 135.5,119.3 132.7,120.7 129.8,122.0 127.0,123.3 124.1,124.5 121.3,125.6 118.5,126.7 115.6,127.7 112.8,128.6 109.9,129.5 107.1,130.3 104.2,131.0 101.4,131.7 98.5,132.3 95.6,132.8Z" fill="url(#sa6)" stroke="url(#sa6)" stroke-width="0.9"/><linearGradient id="sa7" gradientUnits="userSpaceOnUse" x1="97.8" y1="133.9" x2="183.5" y2="89.0"><stop offset="0.000" stop-color="#1e5c4a"/><stop offset="0.029" stop-color="#19585a"/><stop offset="0.148" stop-color="#122b53"/><stop offset="0.303" stop-color="#101e4f"/><stop offset="0.466" stop-color="#133254"/><stop offset="0.601" stop-color="#1a5958"/><stop offset="0.742" stop-color="#2f6822"/><stop offset="0.851" stop-color="#726722"/><stop offset="0.925" stop-color="#723829"/><stop offset="1.000" stop-color="#722e2a"/></linearGradient><path d="M95.6,132.8 98.5,132.3 101.4,131.7 104.2,131.0 107.1,130.3 109.9,129.5 112.8,128.6 115.6,127.7 118.5,126.7 121.3,125.6 124.1,124.5 127.0,123.3 129.8,122.0 132.7,120.7 135.5,119.3 138.3,117.9 141.2,116.4 144.0,114.8 146.8,113.2 149.7,111.5 152.5,109.8 155.4,108.0 158.3,106.2 161.1,104.3 164.0,102.3 166.9,100.3 169.7,98.2 172.6,96.1 175.5,93.9 178.4,91.7 181.4,89.4 185.6,88.5 182.7,90.9 179.8,93.2 176.9,95.5 174.0,97.7 171.1,99.9 168.2,102.0 165.3,104.0 162.5,106.0 159.6,108.0 156.7,109.9 153.9,111.7 151.0,113.5 148.2,115.2 145.4,116.9 142.5,118.5 139.7,120.0 136.8,121.5 134.0,122.9 131.2,124.3 128.3,125.6 125.5,126.8 122.7,128.0 119.8,129.1 117.0,130.2 114.2,131.1 111.3,132.1 108.5,132.9 105.6,133.7 102.7,134.4 99.9,135.0Z" fill="url(#sa7)" stroke="url(#sa7)" stroke-width="0.9"/><linearGradient id="sa8" gradientUnits="userSpaceOnUse" x1="102.0" y1="136.1" x2="187.8" y2="88.1"><stop offset="0.000" stop-color="#18585c"/><stop offset="0.117" stop-color="#122a52"/><stop offset="0.271" stop-color="#101e4f"/><stop offset="0.431" stop-color="#133555"/><stop offset="0.532" stop-color="#18575e"/><stop offset="0.670" stop-color="#2a6724"/><stop offset="0.777" stop-color="#6c6c21"/><stop offset="0.887" stop-color="#722f2a"/><stop offset="1.000" stop-color="#722e2a"/></linearGradient><path d="M99.9,135.0 102.7,134.4 105.6,133.7 108.5,132.9 111.3,132.1 114.2,131.1 117.0,130.2 119.8,129.1 122.7,128.0 125.5,126.8 128.3,125.6 131.2,124.3 134.0,122.9 136.8,121.5 139.7,120.0 142.5,118.5 145.4,116.9 148.2,115.2 151.0,113.5 153.9,111.7 156.7,109.9 159.6,108.0 162.5,106.0 165.3,104.0 168.2,102.0 171.1,99.9 174.0,97.7 176.9,95.5 179.8,93.2 182.7,90.9 185.6,88.5 189.9,87.6 187.0,90.0 184.0,92.4 181.1,94.8 178.2,97.1 175.3,99.4 172.4,101.6 169.6,103.7 166.7,105.8 163.8,107.9 160.9,109.9 158.1,111.8 155.2,113.7 152.4,115.5 149.6,117.3 146.7,119.0 143.9,120.6 141.0,122.2 138.2,123.8 135.4,125.2 132.5,126.6 129.7,128.0 126.9,129.3 124.0,130.5 121.2,131.6 118.4,132.7 115.5,133.8 112.7,134.7 109.8,135.6 107.0,136.4 104.1,137.2Z" fill="url(#sa8)" stroke="url(#sa8)" stroke-width="0.9"/><linearGradient id="sa9" gradientUnits="userSpaceOnUse" x1="106.2" y1="138.2" x2="192.0" y2="87.0"><stop offset="0.000" stop-color="#16475a"/><stop offset="0.117" stop-color="#112350"/><stop offset="0.301" stop-color="#112450"/><stop offset="0.463" stop-color="#17505c"/><stop offset="0.531" stop-color="#1e5d49"/><stop offset="0.634" stop-color="#356822"/><stop offset="0.740" stop-color="#726722"/><stop offset="0.813" stop-color="#723a28"/><stop offset="0.849" stop-color="#722e2a"/><stop offset="1.000" stop-color="#722e2a"/></linearGradient><path d="M104.1,137.2 107.0,136.4 109.8,135.6 112.7,134.7 115.5,133.8 118.4,132.7 121.2,131.6 124.0,130.5 126.9,129.3 129.7,128.0 132.5,126.6 135.4,125.2 138.2,123.8 141.0,122.2 143.9,120.6 146.7,119.0 149.6,117.3 152.4,115.5 155.2,113.7 158.1,111.8 160.9,109.9 163.8,107.9 166.7,105.8 169.6,103.7 172.4,101.6 175.3,99.4 178.2,97.1 181.1,94.8 184.0,92.4 187.0,90.0 189.9,87.6 194.2,86.5 191.2,89.1 188.3,91.6 185.4,94.0 182.5,96.4 179.6,98.8 176.7,101.1 173.8,103.3 170.9,105.5 168.0,107.7 165.2,109.8 162.3,111.8 159.4,113.8 156.6,115.7 153.7,117.6 150.9,119.4 148.1,121.2 145.2,122.9 142.4,124.5 139.6,126.1 136.7,127.6 133.9,129.1 131.1,130.4 128.2,131.8 125.4,133.0 122.6,134.2 119.7,135.4 116.9,136.4 114.1,137.4 111.2,138.4 108.4,139.2Z" fill="url(#sa9)" stroke="url(#sa9)" stroke-width="0.9"/><linearGradient id="sa10" gradientUnits="userSpaceOnUse" x1="110.5" y1="140.2" x2="196.3" y2="85.9"><stop offset="0.000" stop-color="#143856"/><stop offset="0.116" stop-color="#101f4f"/><stop offset="0.300" stop-color="#122c53"/><stop offset="0.429" stop-color="#18575d"/><stop offset="0.564" stop-color="#2e6822"/><stop offset="0.668" stop-color="#6d6c21"/><stop offset="0.776" stop-color="#72312a"/><stop offset="1.000" stop-color="#722e2a"/></linearGradient><path d="M108.4,139.2 111.2,138.4 114.1,137.4 116.9,136.4 119.7,135.4 122.6,134.2 125.4,133.0 128.2,131.8 131.1,130.4 133.9,129.1 136.7,127.6 139.6,126.1 142.4,124.5 145.2,122.9 148.1,121.2 150.9,119.4 153.7,117.6 156.6,115.7 159.4,113.8 162.3,111.8 165.2,109.8 168.0,107.7 170.9,105.5 173.8,103.3 176.7,101.1 179.6,98.8 182.5,96.4 185.4,94.0 188.3,91.6 191.2,89.1 194.2,86.5 198.5,85.4 195.5,88.0 192.6,90.6 189.6,93.2 186.7,95.7 183.8,98.1 180.9,100.5 178.0,102.9 175.1,105.2 172.2,107.4 169.4,109.6 166.5,111.8 163.6,113.8 160.8,115.9 157.9,117.8 155.1,119.8 152.3,121.6 149.4,123.4 146.6,125.2 143.8,126.9 140.9,128.5 138.1,130.0 135.3,131.5 132.4,133.0 129.6,134.3 126.8,135.7 124.0,136.9 121.1,138.1 118.3,139.2 115.4,140.2 112.6,141.2Z" fill="url(#sa10)" stroke="url(#sa10)" stroke-width="0.9"/><linearGradient id="sa11" gradientUnits="userSpaceOnUse" x1="114.7" y1="142.2" x2="200.6" y2="84.8"><stop offset="0.000" stop-color="#122d53"/><stop offset="0.116" stop-color="#101e4f"/><stop offset="0.299" stop-color="#143856"/><stop offset="0.363" stop-color="#17515c"/><stop offset="0.428" stop-color="#1f5d47"/><stop offset="0.495" stop-color="#296625"/><stop offset="0.598" stop-color="#666c21"/><stop offset="0.632" stop-color="#726522"/><stop offset="0.739" stop-color="#722e2a"/><stop offset="1.000" stop-color="#722e2a"/></linearGradient><path d="M112.6,141.2 115.4,140.2 118.3,139.2 121.1,138.1 124.0,136.9 126.8,135.7 129.6,134.3 132.4,133.0 135.3,131.5 138.1,130.0 140.9,128.5 143.8,126.9 146.6,125.2 149.4,123.4 152.3,121.6 155.1,119.8 157.9,117.8 160.8,115.9 163.6,113.8 166.5,111.8 169.4,109.6 172.2,107.4 175.1,105.2 178.0,102.9 180.9,100.5 183.8,98.1 186.7,95.7 189.6,93.2 192.6,90.6 195.5,88.0 198.5,85.4 202.8,84.1 199.8,86.9 196.8,89.6 193.9,92.2 191.0,94.8 188.0,97.4 185.1,99.9 182.2,102.3 179.3,104.7 176.5,107.0 173.6,109.3 170.7,111.6 167.8,113.8 165.0,115.9 162.1,118.0 159.3,120.0 156.5,122.0 153.6,123.9 150.8,125.7 147.9,127.5 145.1,129.3 142.3,130.9 139.5,132.5 136.6,134.1 133.8,135.6 131.0,137.0 128.2,138.4 125.3,139.6 122.5,140.9 119.7,142.0 116.8,143.1Z" fill="url(#sa11)" stroke="url(#sa11)" stroke-width="0.9"/><linearGradient id="sa12" gradientUnits="userSpaceOnUse" x1="119.0" y1="144.0" x2="204.9" y2="83.5"><stop offset="0.000" stop-color="#112551"/><stop offset="0.115" stop-color="#112150"/><stop offset="0.267" stop-color="#153f58"/><stop offset="0.330" stop-color="#18575c"/><stop offset="0.461" stop-color="#346822"/><stop offset="0.563" stop-color="#726a21"/><stop offset="0.667" stop-color="#72322a"/><stop offset="1.000" stop-color="#722e2a"/></linearGradient><path d="M116.8,143.1 119.7,142.0 122.5,140.9 125.3,139.6 128.2,138.4 131.0,137.0 133.8,135.6 136.6,134.1 139.5,132.5 142.3,130.9 145.1,129.3 147.9,127.5 150.8,125.7 153.6,123.9 156.5,122.0 159.3,120.0 162.1,118.0 165.0,115.9 167.8,113.8 170.7,111.6 173.6,109.3 176.5,107.0 179.3,104.7 182.2,102.3 185.1,99.9 188.0,97.4 191.0,94.8 193.9,92.2 196.8,89.6 199.8,86.9 202.8,84.1 207.1,82.8 204.1,85.6 201.1,88.4 198.2,91.2 195.2,93.9 192.3,96.5 189.4,99.1 186.5,101.6 183.6,104.1 180.7,106.6 177.8,109.0 174.9,111.3 172.1,113.6 169.2,115.9 166.3,118.0 163.5,120.2 160.6,122.2 157.8,124.3 155.0,126.2 152.1,128.1 149.3,130.0 146.5,131.7 143.7,133.5 140.8,135.1 138.0,136.7 135.2,138.3 132.4,139.7 129.5,141.1 126.7,142.5 123.9,143.7 121.1,144.9Z" fill="url(#sa12)" stroke="url(#sa12)" stroke-width="0.9"/><linearGradient id="sa13" gradientUnits="userSpaceOnUse" x1="123.2" y1="145.8" x2="209.2" y2="82.1"><stop offset="0.000" stop-color="#112250"/><stop offset="0.115" stop-color="#122952"/><stop offset="0.267" stop-color="#17545d"/><stop offset="0.395" stop-color="#2c6822"/><stop offset="0.494" stop-color="#706d21"/><stop offset="0.632" stop-color="#722e2a"/><stop offset="1.000" stop-color="#722e2a"/></linearGradient><path d="M121.1,144.9 123.9,143.7 126.7,142.5 129.5,141.1 132.4,139.7 135.2,138.3 138.0,136.7 140.8,135.1 143.7,133.5 146.5,131.7 149.3,130.0 152.1,128.1 155.0,126.2 157.8,124.3 160.6,122.2 163.5,120.2 166.3,118.0 169.2,115.9 172.1,113.6 174.9,111.3 177.8,109.0 180.7,106.6 183.6,104.1 186.5,101.6 189.4,99.1 192.3,96.5 195.2,93.9 198.2,91.2 201.1,88.4 204.1,85.6 207.1,82.8 211.4,81.4 208.4,84.3 205.4,87.2 202.5,90.0 199.5,92.8 196.6,95.6 193.6,98.3 190.7,100.9 187.8,103.5 184.9,106.0 182.0,108.5 179.1,111.0 176.3,113.4 173.4,115.7 170.5,118.0 167.7,120.2 164.8,122.4 162.0,124.6 159.2,126.6 156.3,128.6 153.5,130.6 150.7,132.5 147.9,134.3 145.0,136.1 142.2,137.8 139.4,139.4 136.6,141.0 133.8,142.5 130.9,144.0 128.1,145.4 125.3,146.7Z" fill="url(#sa13)" stroke="url(#sa13)" stroke-width="0.9"/><linearGradient id="sa14" gradientUnits="userSpaceOnUse" x1="127.4" y1="147.5" x2="213.6" y2="80.7"><stop offset="0.000" stop-color="#112651"/><stop offset="0.115" stop-color="#133555"/><stop offset="0.205" stop-color="#17525d"/><stop offset="0.298" stop-color="#236139"/><stop offset="0.330" stop-color="#296627"/><stop offset="0.427" stop-color="#6a6c21"/><stop offset="0.562" stop-color="#722e2a"/><stop offset="1.000" stop-color="#722e2a"/></linearGradient><path d="M125.3,146.7 128.1,145.4 130.9,144.0 133.8,142.5 136.6,141.0 139.4,139.4 142.2,137.8 145.0,136.1 147.9,134.3 150.7,132.5 153.5,130.6 156.3,128.6 159.2,126.6 162.0,124.6 164.8,122.4 167.7,120.2 170.5,118.0 173.4,115.7 176.3,113.4 179.1,111.0 182.0,108.5 184.9,106.0 187.8,103.5 190.7,100.9 193.6,98.3 196.6,95.6 199.5,92.8 202.5,90.0 205.4,87.2 208.4,84.3 211.4,81.4 215.7,79.9 212.7,83.0 209.7,85.9 206.7,88.8 203.8,91.7 200.8,94.5 197.9,97.3 195.0,100.1 192.0,102.8 189.1,105.4 186.2,108.0 183.4,110.6 180.5,113.1 177.6,115.5 174.7,117.9 171.9,120.2 169.0,122.5 166.2,124.7 163.4,126.9 160.5,129.0 157.7,131.1 154.9,133.1 152.0,135.0 149.2,136.9 146.4,138.7 143.6,140.5 140.8,142.2 138.0,143.8 135.1,145.4 132.3,146.9 129.5,148.3Z" fill="url(#sa14)" stroke="url(#sa14)" stroke-width="0.9"/><linearGradient id="sa15" gradientUnits="userSpaceOnUse" x1="131.6" y1="149.1" x2="217.9" y2="79.2"><stop offset="0.000" stop-color="#132e53"/><stop offset="0.115" stop-color="#164659"/><stop offset="0.174" stop-color="#195859"/><stop offset="0.267" stop-color="#27642d"/><stop offset="0.330" stop-color="#4c6a21"/><stop offset="0.394" stop-color="#726522"/><stop offset="0.494" stop-color="#72322a"/><stop offset="1.000" stop-color="#722e2a"/></linearGradient><path d="M129.5,148.3 132.3,146.9 135.1,145.4 138.0,143.8 140.8,142.2 143.6,140.5 146.4,138.7 149.2,136.9 152.0,135.0 154.9,133.1 157.7,131.1 160.5,129.0 163.4,126.9 166.2,124.7 169.0,122.5 171.9,120.2 174.7,117.9 177.6,115.5 180.5,113.1 183.4,110.6 186.2,108.0 189.1,105.4 192.0,102.8 195.0,100.1 197.9,97.3 200.8,94.5 203.8,91.7 206.7,88.8 209.7,85.9 212.7,83.0 215.7,79.9 220.1,78.4 217.0,81.5 214.0,84.5 211.0,87.5 208.1,90.5 205.1,93.4 202.2,96.3 199.2,99.1 196.3,101.9 193.4,104.7 190.5,107.4 187.6,110.0 184.7,112.6 181.8,115.2 178.9,117.7 176.1,120.1 173.2,122.5 170.4,124.8 167.5,127.1 164.7,129.4 161.9,131.5 159.1,133.6 156.2,135.7 153.4,137.7 150.6,139.6 147.8,141.5 145.0,143.3 142.2,145.1 139.3,146.7 136.5,148.4 133.7,149.9Z" fill="url(#sa15)" stroke="url(#sa15)" stroke-width="0.9"/><linearGradient id="sa16" gradientUnits="userSpaceOnUse" x1="135.8" y1="150.7" x2="222.2" y2="77.6"><stop offset="0.000" stop-color="#143a56"/><stop offset="0.115" stop-color="#19585a"/><stop offset="0.236" stop-color="#2a6723"/><stop offset="0.330" stop-color="#726a21"/><stop offset="0.427" stop-color="#723629"/><stop offset="0.562" stop-color="#722e2a"/><stop offset="1.000" stop-color="#722e2a"/></linearGradient><path d="M133.7,149.9 136.5,148.4 139.3,146.7 142.2,145.1 145.0,143.3 147.8,141.5 150.6,139.6 153.4,137.7 156.2,135.7 159.1,133.6 161.9,131.5 164.7,129.4 167.5,127.1 170.4,124.8 173.2,122.5 176.1,120.1 178.9,117.7 181.8,115.2 184.7,112.6 187.6,110.0 190.5,107.4 193.4,104.7 196.3,101.9 199.2,99.1 202.2,96.3 205.1,93.4 208.1,90.5 211.0,87.5 214.0,84.5 217.0,81.5 220.1,78.4 224.4,76.7 221.4,79.9 218.4,83.1 215.3,86.2 212.4,89.2 209.4,92.2 206.4,95.2 203.5,98.1 200.5,101.0 197.6,103.9 194.7,106.7 191.8,109.4 188.9,112.1 186.0,114.8 183.2,117.4 180.3,119.9 177.4,122.4 174.6,124.9 171.7,127.2 168.9,129.6 166.1,131.9 163.2,134.1 160.4,136.2 157.6,138.4 154.8,140.4 152.0,142.4 149.2,144.3 146.4,146.2 143.6,148.0 140.7,149.7 137.9,151.4Z" fill="url(#sa16)" stroke="url(#sa16)" stroke-width="0.9"/><linearGradient id="sa17" gradientUnits="userSpaceOnUse" x1="140.0" y1="152.1" x2="226.6" y2="75.9"><stop offset="0.000" stop-color="#16495a"/><stop offset="0.057" stop-color="#18585c"/><stop offset="0.205" stop-color="#336822"/><stop offset="0.267" stop-color="#666c21"/><stop offset="0.298" stop-color="#725d23"/><stop offset="0.362" stop-color="#723928"/><stop offset="0.428" stop-color="#722e2a"/><stop offset="1.000" stop-color="#722e2a"/></linearGradient><path d="M137.9,151.4 140.7,149.7 143.6,148.0 146.4,146.2 149.2,144.3 152.0,142.4 154.8,140.4 157.6,138.4 160.4,136.2 163.2,134.1 166.1,131.9 168.9,129.6 171.7,127.2 174.6,124.9 177.4,122.4 180.3,119.9 183.2,117.4 186.0,114.8 188.9,112.1 191.8,109.4 194.7,106.7 197.6,103.9 200.5,101.0 203.5,98.1 206.4,95.2 209.4,92.2 212.4,89.2 215.3,86.2 218.4,83.1 221.4,79.9 224.4,76.7 228.8,75.0 225.7,78.3 222.7,81.5 219.7,84.7 216.7,87.8 213.7,90.9 210.7,94.0 207.7,97.0 204.8,100.0 201.9,103.0 198.9,105.8 196.0,108.7 193.1,111.5 190.2,114.2 187.4,117.0 184.5,119.6 181.6,122.2 178.8,124.8 175.9,127.3 173.1,129.7 170.3,132.1 167.4,134.4 164.6,136.7 161.8,138.9 159.0,141.1 156.2,143.2 153.4,145.2 150.6,147.2 147.8,149.1 144.9,151.0 142.1,152.8Z" fill="url(#sa17)" stroke="url(#sa17)" stroke-width="0.9"/><linearGradient id="sa18" gradientUnits="userSpaceOnUse" x1="144.2" y1="153.4" x2="230.9" y2="74.1"><stop offset="0.000" stop-color="#19585b"/><stop offset="0.145" stop-color="#2a6723"/><stop offset="0.236" stop-color="#6a6c21"/><stop offset="0.299" stop-color="#724027"/><stop offset="0.363" stop-color="#722e2a"/><stop offset="1.000" stop-color="#722e2a"/></linearGradient><path d="M142.1,152.8 144.9,151.0 147.8,149.1 150.6,147.2 153.4,145.2 156.2,143.2 159.0,141.1 161.8,138.9 164.6,136.7 167.4,134.4 170.3,132.1 173.1,129.7 175.9,127.3 178.8,124.8 181.6,122.2 184.5,119.6 187.4,117.0 190.2,114.2 193.1,111.5 196.0,108.7 198.9,105.8 201.9,103.0 204.8,100.0 207.7,97.0 210.7,94.0 213.7,90.9 216.7,87.8 219.7,84.7 222.7,81.5 225.7,78.3 228.8,75.0 233.1,73.2 230.1,76.5 227.0,79.8 224.0,83.1 221.0,86.4 218.0,89.6 215.0,92.7 212.0,95.8 209.1,98.9 206.1,101.9 203.2,104.9 200.3,107.9 197.4,110.8 194.5,113.6 191.6,116.5 188.7,119.2 185.8,121.9 183.0,124.6 180.1,127.2 177.3,129.7 174.5,132.2 171.6,134.7 168.8,137.1 166.0,139.4 163.2,141.7 160.4,143.9 157.6,146.1 154.7,148.2 151.9,150.2 149.1,152.2 146.3,154.1Z" fill="url(#sa18)" stroke="url(#sa18)" stroke-width="0.9"/><linearGradient id="sa19" gradientUnits="userSpaceOnUse" x1="148.4" y1="154.7" x2="235.3" y2="72.2"><stop offset="0.000" stop-color="#1e5d49"/><stop offset="0.115" stop-color="#316822"/><stop offset="0.206" stop-color="#6c6c21"/><stop offset="0.299" stop-color="#72312a"/><stop offset="1.000" stop-color="#722e2a"/></linearGradient><path d="M146.3,154.1 149.1,152.2 151.9,150.2 154.7,148.2 157.6,146.1 160.4,143.9 163.2,141.7 166.0,139.4 168.8,137.1 171.6,134.7 174.5,132.2 177.3,129.7 180.1,127.2 183.0,124.6 185.8,121.9 188.7,119.2 191.6,116.5 194.5,113.6 197.4,110.8 200.3,107.9 203.2,104.9 206.1,101.9 209.1,98.9 212.0,95.8 215.0,92.7 218.0,89.6 221.0,86.4 224.0,83.1 227.0,79.8 230.1,76.5 233.1,73.2 237.5,71.3 234.4,74.7 231.4,78.1 228.3,81.5 225.3,84.8 222.3,88.1 219.3,91.3 216.3,94.5 213.3,97.7 210.4,100.8 207.4,103.9 204.5,107.0 201.6,110.0 198.7,112.9 195.8,115.9 192.9,118.7 190.0,121.5 187.2,124.3 184.3,127.0 181.5,129.7 178.6,132.3 175.8,134.9 173.0,137.4 170.2,139.8 167.4,142.2 164.5,144.5 161.7,146.8 158.9,149.0 156.1,151.2 153.3,153.3 150.5,155.3Z" fill="url(#sa19)" stroke="url(#sa19)" stroke-width="0.9"/><linearGradient id="sa20" gradientUnits="userSpaceOnUse" x1="152.6" y1="155.9" x2="239.7" y2="70.3"><stop offset="0.000" stop-color="#246237"/><stop offset="0.057" stop-color="#2a6722"/><stop offset="0.175" stop-color="#6d6c21"/><stop offset="0.268" stop-color="#722f2a"/><stop offset="1.000" stop-color="#722e2a"/></linearGradient><path d="M150.5,155.3 153.3,153.3 156.1,151.2 158.9,149.0 161.7,146.8 164.5,144.5 167.4,142.2 170.2,139.8 173.0,137.4 175.8,134.9 178.6,132.3 181.5,129.7 184.3,127.0 187.2,124.3 190.0,121.5 192.9,118.7 195.8,115.9 198.7,112.9 201.6,110.0 204.5,107.0 207.4,103.9 210.4,100.8 213.3,97.7 216.3,94.5 219.3,91.3 222.3,88.1 225.3,84.8 228.3,81.5 231.4,78.1 234.4,74.7 237.5,71.3 241.9,69.3 238.8,72.8 235.7,76.3 232.6,79.7 229.6,83.1 226.6,86.5 223.6,89.9 220.6,93.2 217.6,96.4 214.6,99.6 211.7,102.8 208.7,106.0 205.8,109.1 202.9,112.1 200.0,115.2 197.1,118.1 194.3,121.0 191.4,123.9 188.5,126.7 185.7,129.5 182.8,132.2 180.0,134.9 177.2,137.5 174.4,140.1 171.5,142.6 168.7,145.1 165.9,147.4 163.1,149.8 160.3,152.1 157.5,154.3 154.7,156.4Z" fill="url(#sa20)" stroke="url(#sa20)" stroke-width="0.9"/><linearGradient id="sa21" gradientUnits="userSpaceOnUse" x1="156.8" y1="156.9" x2="244.1" y2="68.3"><stop offset="0.000" stop-color="#286627"/><stop offset="0.116" stop-color="#596b21"/><stop offset="0.146" stop-color="#6e6c21"/><stop offset="0.237" stop-color="#722e2a"/><stop offset="1.000" stop-color="#722e2a"/></linearGradient><path d="M154.7,156.4 157.5,154.3 160.3,152.1 163.1,149.8 165.9,147.4 168.7,145.1 171.5,142.6 174.4,140.1 177.2,137.5 180.0,134.9 182.8,132.2 185.7,129.5 188.5,126.7 191.4,123.9 194.3,121.0 197.1,118.1 200.0,115.2 202.9,112.1 205.8,109.1 208.7,106.0 211.7,102.8 214.6,99.6 217.6,96.4 220.6,93.2 223.6,89.9 226.6,86.5 229.6,83.1 232.6,79.7 235.7,76.3 238.8,72.8 241.9,69.3 246.3,67.2 243.2,70.8 240.1,74.4 237.0,77.9 233.9,81.4 230.9,84.9 227.9,88.3 224.9,91.7 221.9,95.0 218.9,98.4 215.9,101.6 213.0,104.9 210.1,108.1 207.1,111.2 204.2,114.4 201.3,117.4 198.5,120.5 195.6,123.4 192.7,126.4 189.9,129.3 187.0,132.1 184.2,134.9 181.4,137.6 178.5,140.3 175.7,142.9 172.9,145.5 170.1,148.0 167.3,150.4 164.5,152.8 161.7,155.2 158.9,157.4Z" fill="url(#sa21)" stroke="url(#sa21)" stroke-width="0.9"/><linearGradient id="sa22" gradientUnits="userSpaceOnUse" x1="161.0" y1="157.9" x2="248.5" y2="66.1"><stop offset="0.000" stop-color="#346822"/><stop offset="0.116" stop-color="#6f6d21"/><stop offset="0.207" stop-color="#722e2a"/><stop offset="1.000" stop-color="#722e2a"/></linearGradient><path d="M158.9,157.4 161.7,155.2 164.5,152.8 167.3,150.4 170.1,148.0 172.9,145.5 175.7,142.9 178.5,140.3 181.4,137.6 184.2,134.9 187.0,132.1 189.9,129.3 192.7,126.4 195.6,123.4 198.5,120.5 201.3,117.4 204.2,114.4 207.1,111.2 210.1,108.1 213.0,104.9 215.9,101.6 218.9,98.4 221.9,95.0 224.9,91.7 227.9,88.3 230.9,84.9 233.9,81.4 237.0,77.9 240.1,74.4 243.2,70.8 246.3,67.2 250.7,65.0 247.6,68.7 244.4,72.4 241.4,76.0 238.3,79.5 235.2,83.1 232.2,86.6 229.2,90.1 226.2,93.6 223.2,97.0 220.2,100.3 217.3,103.7 214.3,107.0 211.4,110.2 208.5,113.5 205.6,116.6 202.7,119.8 199.8,122.9 196.9,125.9 194.1,128.9 191.2,131.8 188.4,134.7 185.6,137.6 182.7,140.4 179.9,143.1 177.1,145.8 174.3,148.4 171.5,151.0 168.7,153.5 165.9,156.0 163.1,158.4Z" fill="url(#sa22)" stroke="url(#sa22)" stroke-width="0.9"/><linearGradient id="sa23" gradientUnits="userSpaceOnUse" x1="165.2" y1="158.8" x2="252.9" y2="63.9"><stop offset="0.000" stop-color="#456921"/><stop offset="0.087" stop-color="#726d21"/><stop offset="0.177" stop-color="#722e2a"/><stop offset="1.000" stop-color="#722e2a"/></linearGradient><path d="M163.1,158.4 165.9,156.0 168.7,153.5 171.5,151.0 174.3,148.4 177.1,145.8 179.9,143.1 182.7,140.4 185.6,137.6 188.4,134.7 191.2,131.8 194.1,128.9 196.9,125.9 199.8,122.9 202.7,119.8 205.6,116.6 208.5,113.5 211.4,110.2 214.3,107.0 217.3,103.7 220.2,100.3 223.2,97.0 226.2,93.6 229.2,90.1 232.2,86.6 235.2,83.1 238.3,79.5 241.4,76.0 244.4,72.4 247.6,68.7 250.7,65.0 255.1,62.8 252.0,66.5 248.8,70.3 245.7,73.9 242.6,77.6 239.6,81.3 236.5,84.9 233.5,88.4 230.5,92.0 227.5,95.5 224.5,99.0 221.5,102.4 218.6,105.8 215.6,109.2 212.7,112.5 209.8,115.8 206.9,119.0 204.0,122.2 201.1,125.3 198.3,128.4 195.4,131.5 192.6,134.5 189.7,137.5 186.9,140.4 184.1,143.2 181.3,146.0 178.5,148.8 175.7,151.5 172.9,154.1 170.1,156.7 167.3,159.2Z" fill="url(#sa23)" stroke="url(#sa23)" stroke-width="0.9"/><path d="M387.3,149.6 L378.7,35.5 M402.2,112.9 L397.4,28.8 M419.3,105.1 L416.2,22.1 M436.4,97.3 L434.9,15.4 M453.5,89.4 L453.7,8.7 M470.0,108.5 L472.4,2.0 M385.1,120.8 L470.6,81.6 M384.2,108.6 L470.9,70.2 M383.3,96.4 L471.1,58.9 M382.4,84.2 L471.4,47.5 M381.5,72.1 L471.6,36.1 M380.5,59.9 L471.9,24.7 M379.6,47.7 L472.1,13.4 M378.7,35.5 L472.4,2.0" stroke="#4a4a4a" stroke-width="0.55" fill="none"/><path d="M470.0,108.5 L472.4,2.0 M483.6,85.6 L485.9,5.4 M496.6,89.6 L499.4,8.8 M509.6,93.6 L513.0,12.2 M522.5,97.6 L526.5,15.7 M535.5,101.7 L540.0,19.1 M548.5,105.7 L553.6,22.5 M561.5,109.7 L567.1,25.9 M572.4,142.2 L580.6,29.3 M470.6,81.6 L574.5,113.7 M470.9,70.2 L575.3,101.6 M471.1,58.9 L576.2,89.6 M471.4,47.5 L577.1,77.5 M471.6,36.1 L578.0,65.5 M471.9,24.7 L578.8,53.4 M472.1,13.4 L579.7,41.4 M472.4,2.0 L580.6,29.3" stroke="#4a4a4a" stroke-width="0.55" fill="none"/><text x="374.5" y="34.7" font-family="Liberation Sans" font-size="6.2" fill="#333" text-anchor="end">0.0012</text><path d="M378.7,35.5h-1.8" stroke="#222" stroke-width="0.9"/><text x="375.4" y="46.9" font-family="Liberation Sans" font-size="6.2" fill="#333" text-anchor="end">0.001</text><path d="M379.6,47.7h-1.8" stroke="#222" stroke-width="0.9"/><text x="376.3" y="59.1" font-family="Liberation Sans" font-size="6.2" fill="#333" text-anchor="end">0.0008</text><path d="M380.5,59.9h-1.8" stroke="#222" stroke-width="0.9"/><text x="377.3" y="71.3" font-family="Liberation Sans" font-size="6.2" fill="#333" text-anchor="end">0.0006</text><path d="M381.5,72.1h-1.8" stroke="#222" stroke-width="0.9"/><text x="378.2" y="83.4" font-family="Liberation Sans" font-size="6.2" fill="#333" text-anchor="end">0.0004</text><path d="M382.4,84.2h-1.8" stroke="#222" stroke-width="0.9"/><text x="379.1" y="95.6" font-family="Liberation Sans" font-size="6.2" fill="#333" text-anchor="end">0.0002</text><path d="M383.3,96.4h-1.8" stroke="#222" stroke-width="0.9"/><text x="380.0" y="107.8" font-family="Liberation Sans" font-size="6.2" fill="#333" text-anchor="end">0</text><path d="M384.2,108.6h-1.8" stroke="#222" stroke-width="0.9"/><text x="380.9" y="120.0" font-family="Liberation Sans" font-size="6.2" fill="#333" text-anchor="end">-0.0002</text><path d="M385.1,120.8h-1.8" stroke="#222" stroke-width="0.9"/><path d="M387.3,149.6 L492.0,198.5 L572.4,142.2 L470.0,108.5 Z" fill="#ffff00" stroke="#333" stroke-width="0.4"/><path d="M387.3,149.6 l-2.2,-0.0 M400.4,155.7 l-2.2,0.2 M413.5,161.8 l-2.2,0.4 M426.6,167.9 l-2.1,0.7 M439.6,174.1 l-1.9,1.1 M452.7,180.2 l-1.5,1.6 M465.8,186.3 l-0.8,2.0 M478.9,192.4 l-0.1,2.2 M492.0,198.5 l0.5,2.1 M492.0,198.5 l0.5,2.1 M508.1,187.2 l1.3,1.8 M524.2,176.0 l1.9,1.1 M540.2,164.7 l2.1,0.5 M556.3,153.5 l2.2,0.1 M572.4,142.2 l2.2,-0.2" stroke="#222" stroke-width="0.8" fill="none"/><path d="M457.5,182.4 457.7,181.8 458.0,180.9 458.3,179.8 458.8,178.8 459.5,177.8 460.5,177.1 461.7,176.5 463.2,176.0 464.9,175.5 466.8,175.2 468.6,174.9 470.5,174.8 472.3,174.7 474.2,174.8 476.2,175.0 478.2,175.3 480.2,175.6 482.3,175.9 484.3,176.2 486.3,176.6 488.3,177.1 490.4,177.6 492.7,178.1 495.1,178.8 498.1,179.5 501.4,180.5 504.9,181.4 508.3,182.4 511.1,183.2 513.1,183.7" fill="none" stroke="#4a4a5a" stroke-width="0.6"/><path d="M452.8,117.0 457.5,119.1 463.8,122.0 471.4,125.4 479.7,129.2 488.2,133.0 496.5,136.7 505.2,140.6 515.0,144.8 525.0,149.2 534.4,153.3 542.3,156.7 548.1,159.2" fill="none" stroke="#ff0000" stroke-width="0.6"/><path d="M466.3,110.3 470.8,112.4 476.9,115.2 484.2,118.5 492.3,122.2 500.7,125.9 509.0,129.4 517.9,132.8 528.1,136.6 538.6,140.3 548.5,143.8 556.9,146.8 562.8,148.9" fill="none" stroke="#ff0000" stroke-width="0.6"/><path d="M530.6,128.4 568.9,144.6" fill="none" stroke="#ff0000" stroke-width="0.6"/><linearGradient id="sb0" gradientUnits="userSpaceOnUse" x1="386.3" y1="108.5" x2="473.4" y2="54.3"><stop offset="0.000" stop-color="#2e8a65"/><stop offset="0.145" stop-color="#238089"/><stop offset="0.298" stop-color="#268380"/><stop offset="0.460" stop-color="#37924a"/><stop offset="0.527" stop-color="#4b9932"/><stop offset="0.630" stop-color="#a19f30"/><stop offset="0.774" stop-color="#a8443e"/><stop offset="1.000" stop-color="#a8443e"/></linearGradient><path d="M384.1,107.7 387.1,106.9 390.0,106.0 392.9,105.1 395.8,104.1 398.7,103.0 401.6,101.8 404.5,100.6 407.4,99.3 410.2,98.0 413.1,96.5 416.0,95.0 418.9,93.5 421.8,91.8 424.6,90.1 427.5,88.3 430.4,86.5 433.3,84.6 436.1,82.6 439.0,80.6 441.9,78.5 444.8,76.3 447.7,74.1 450.6,71.8 453.5,69.4 456.5,67.0 459.4,64.5 462.3,62.0 465.3,59.4 468.3,56.7 471.2,54.0 475.6,54.7 472.7,57.4 469.7,60.1 466.7,62.8 463.8,65.3 460.9,67.8 457.9,70.3 455.0,72.7 452.1,75.0 449.2,77.3 446.3,79.5 443.4,81.6 440.5,83.7 437.6,85.7 434.8,87.6 431.9,89.5 429.0,91.3 426.1,93.1 423.3,94.7 420.4,96.3 417.5,97.9 414.6,99.3 411.8,100.7 408.9,102.0 406.0,103.3 403.1,104.5 400.2,105.6 397.3,106.6 394.4,107.6 391.5,108.5 388.5,109.3Z" fill="url(#sb0)" stroke="url(#sb0)" stroke-width="0.9"/><linearGradient id="sb1" gradientUnits="userSpaceOnUse" x1="390.8" y1="110.1" x2="477.8" y2="55.0"><stop offset="0.000" stop-color="#2d8969"/><stop offset="0.145" stop-color="#23808a"/><stop offset="0.297" stop-color="#268380"/><stop offset="0.459" stop-color="#389246"/><stop offset="0.492" stop-color="#3d9735"/><stop offset="0.595" stop-color="#859d31"/><stop offset="0.630" stop-color="#a7a030"/><stop offset="0.737" stop-color="#a8563b"/><stop offset="0.773" stop-color="#a8443e"/><stop offset="1.000" stop-color="#a8443e"/></linearGradient><path d="M388.5,109.3 391.5,108.5 394.4,107.6 397.3,106.6 400.2,105.6 403.1,104.5 406.0,103.3 408.9,102.0 411.8,100.7 414.6,99.3 417.5,97.9 420.4,96.3 423.3,94.7 426.1,93.1 429.0,91.3 431.9,89.5 434.8,87.6 437.6,85.7 440.5,83.7 443.4,81.6 446.3,79.5 449.2,77.3 452.1,75.0 455.0,72.7 457.9,70.3 460.9,67.8 463.8,65.3 466.7,62.8 469.7,60.1 472.7,57.4 475.6,54.7 480.0,55.4 477.1,58.2 474.1,60.9 471.1,63.6 468.2,66.2 465.2,68.7 462.3,71.2 459.4,73.6 456.5,76.0 453.6,78.3 450.7,80.5 447.8,82.7 444.9,84.8 442.0,86.8 439.1,88.8 436.3,90.7 433.4,92.5 430.5,94.3 427.6,96.0 424.8,97.7 421.9,99.2 419.0,100.7 416.1,102.2 413.3,103.5 410.4,104.8 407.5,106.0 404.6,107.1 401.7,108.2 398.8,109.2 395.9,110.1 393.0,111.0Z" fill="url(#sb1)" stroke="url(#sb1)" stroke-width="0.9"/><linearGradient id="sb2" gradientUnits="userSpaceOnUse" x1="395.2" y1="111.8" x2="482.2" y2="55.8"><stop offset="0.000" stop-color="#2c886c"/><stop offset="0.115" stop-color="#238089"/><stop offset="0.266" stop-color="#248186"/><stop offset="0.425" stop-color="#348f53"/><stop offset="0.492" stop-color="#3f9832"/><stop offset="0.629" stop-color="#a89b31"/><stop offset="0.736" stop-color="#a84f3c"/><stop offset="0.810" stop-color="#a8443e"/><stop offset="1.000" stop-color="#a8443e"/></linearGradient><path d="M393.0,111.0 395.9,110.1 398.8,109.2 401.7,108.2 404.6,107.1 407.5,106.0 410.4,104.8 413.3,103.5 416.1,102.2 419.0,100.7 421.9,99.2 424.8,97.7 427.6,96.0 430.5,94.3 433.4,92.5 436.3,90.7 439.1,88.8 442.0,86.8 444.9,84.8 447.8,82.7 450.7,80.5 453.6,78.3 456.5,76.0 459.4,73.6 462.3,71.2 465.2,68.7 468.2,66.2 471.1,63.6 474.1,60.9 477.1,58.2 480.0,55.4 484.4,56.1 481.5,58.9 478.5,61.7 475.5,64.4 472.6,67.0 469.6,69.6 466.7,72.1 463.8,74.6 460.9,77.0 458.0,79.3 455.1,81.6 452.2,83.8 449.3,85.9 446.4,88.0 443.5,90.0 440.6,91.9 437.8,93.8 434.9,95.6 432.0,97.4 429.2,99.0 426.3,100.6 423.4,102.2 420.5,103.6 417.7,105.0 414.8,106.3 411.9,107.6 409.0,108.7 406.1,109.8 403.2,110.9 400.3,111.8 397.4,112.7Z" fill="url(#sb2)" stroke="url(#sb2)" stroke-width="0.9"/><linearGradient id="sb3" gradientUnits="userSpaceOnUse" x1="399.6" y1="113.5" x2="486.7" y2="56.5"><stop offset="0.000" stop-color="#2b8770"/><stop offset="0.114" stop-color="#237f8a"/><stop offset="0.265" stop-color="#248186"/><stop offset="0.425" stop-color="#359050"/><stop offset="0.491" stop-color="#439832"/><stop offset="0.594" stop-color="#8f9e30"/><stop offset="0.629" stop-color="#a89731"/><stop offset="0.736" stop-color="#a84a3d"/><stop offset="1.000" stop-color="#a8443e"/></linearGradient><path d="M397.4,112.7 400.3,111.8 403.2,110.9 406.1,109.8 409.0,108.7 411.9,107.6 414.8,106.3 417.7,105.0 420.5,103.6 423.4,102.2 426.3,100.6 429.2,99.0 432.0,97.4 434.9,95.6 437.8,93.8 440.6,91.9 443.5,90.0 446.4,88.0 449.3,85.9 452.2,83.8 455.1,81.6 458.0,79.3 460.9,77.0 463.8,74.6 466.7,72.1 469.6,69.6 472.6,67.0 475.5,64.4 478.5,61.7 481.5,58.9 484.4,56.1 488.9,56.9 485.9,59.8 482.9,62.5 479.9,65.3 477.0,67.9 474.0,70.6 471.1,73.1 468.2,75.6 465.3,78.0 462.4,80.4 459.5,82.7 456.6,84.9 453.7,87.1 450.8,89.2 447.9,91.2 445.0,93.2 442.2,95.1 439.3,97.0 436.4,98.7 433.5,100.4 430.7,102.1 427.8,103.6 424.9,105.1 422.0,106.5 419.2,107.9 416.3,109.2 413.4,110.4 410.5,111.5 407.6,112.5 404.7,113.5 401.8,114.4Z" fill="url(#sb3)" stroke="url(#sb3)" stroke-width="0.9"/><linearGradient id="sb4" gradientUnits="userSpaceOnUse" x1="404.0" y1="115.3" x2="491.1" y2="57.3"><stop offset="0.000" stop-color="#2a8674"/><stop offset="0.114" stop-color="#237c89"/><stop offset="0.265" stop-color="#248186"/><stop offset="0.424" stop-color="#35904e"/><stop offset="0.491" stop-color="#479932"/><stop offset="0.594" stop-color="#949e30"/><stop offset="0.629" stop-color="#a89332"/><stop offset="0.736" stop-color="#a8443e"/><stop offset="1.000" stop-color="#a8443e"/></linearGradient><path d="M401.8,114.4 404.7,113.5 407.6,112.5 410.5,111.5 413.4,110.4 416.3,109.2 419.2,107.9 422.0,106.5 424.9,105.1 427.8,103.6 430.7,102.1 433.5,100.4 436.4,98.7 439.3,97.0 442.2,95.1 445.0,93.2 447.9,91.2 450.8,89.2 453.7,87.1 456.6,84.9 459.5,82.7 462.4,80.4 465.3,78.0 468.2,75.6 471.1,73.1 474.0,70.6 477.0,67.9 479.9,65.3 482.9,62.5 485.9,59.8 488.9,56.9 493.3,57.7 490.3,60.6 487.3,63.4 484.3,66.2 481.4,68.9 478.4,71.5 475.5,74.1 472.6,76.6 469.6,79.1 466.7,81.5 463.8,83.8 460.9,86.1 458.1,88.3 455.2,90.4 452.3,92.5 449.4,94.5 446.5,96.4 443.7,98.3 440.8,100.1 437.9,101.9 435.1,103.5 432.2,105.1 429.3,106.6 426.4,108.1 423.6,109.5 420.7,110.8 417.8,112.0 414.9,113.2 412.0,114.3 409.1,115.3 406.2,116.2Z" fill="url(#sb4)" stroke="url(#sb4)" stroke-width="0.9"/><linearGradient id="sb5" gradientUnits="userSpaceOnUse" x1="408.4" y1="117.1" x2="495.5" y2="58.1"><stop offset="0.000" stop-color="#298578"/><stop offset="0.085" stop-color="#237e89"/><stop offset="0.203" stop-color="#227988"/><stop offset="0.295" stop-color="#27837e"/><stop offset="0.457" stop-color="#3b963b"/><stop offset="0.524" stop-color="#619b31"/><stop offset="0.593" stop-color="#979f30"/><stop offset="0.628" stop-color="#a88f33"/><stop offset="0.699" stop-color="#a8573b"/><stop offset="0.735" stop-color="#a8443e"/><stop offset="1.000" stop-color="#a8443e"/></linearGradient><path d="M406.2,116.2 409.1,115.3 412.0,114.3 414.9,113.2 417.8,112.0 420.7,110.8 423.6,109.5 426.4,108.1 429.3,106.6 432.2,105.1 435.1,103.5 437.9,101.9 440.8,100.1 443.7,98.3 446.5,96.4 449.4,94.5 452.3,92.5 455.2,90.4 458.1,88.3 460.9,86.1 463.8,83.8 466.7,81.5 469.6,79.1 472.6,76.6 475.5,74.1 478.4,71.5 481.4,68.9 484.3,66.2 487.3,63.4 490.3,60.6 493.3,57.7 497.7,58.6 494.7,61.5 491.7,64.3 488.7,67.1 485.8,69.8 482.8,72.5 479.9,75.1 477.0,77.7 474.0,80.2 471.1,82.6 468.2,85.0 465.3,87.3 462.4,89.5 459.6,91.7 456.7,93.8 453.8,95.8 450.9,97.8 448.1,99.7 445.2,101.6 442.3,103.3 439.5,105.0 436.6,106.7 433.7,108.2 430.8,109.7 428.0,111.1 425.1,112.5 422.2,113.7 419.3,114.9 416.4,116.0 413.5,117.1 410.6,118.0Z" fill="url(#sb5)" stroke="url(#sb5)" stroke-width="0.9"/><linearGradient id="sb6" gradientUnits="userSpaceOnUse" x1="412.9" y1="118.9" x2="499.9" y2="59.0"><stop offset="0.000" stop-color="#27847d"/><stop offset="0.085" stop-color="#227a88"/><stop offset="0.203" stop-color="#227788"/><stop offset="0.295" stop-color="#26837f"/><stop offset="0.457" stop-color="#3c9639"/><stop offset="0.558" stop-color="#7d9d31"/><stop offset="0.593" stop-color="#9b9f30"/><stop offset="0.628" stop-color="#a88c33"/><stop offset="0.699" stop-color="#a8533c"/><stop offset="0.735" stop-color="#a8443e"/><stop offset="1.000" stop-color="#a8443e"/></linearGradient><path d="M410.6,118.0 413.5,117.1 416.4,116.0 419.3,114.9 422.2,113.7 425.1,112.5 428.0,111.1 430.8,109.7 433.7,108.2 436.6,106.7 439.5,105.0 442.3,103.3 445.2,101.6 448.1,99.7 450.9,97.8 453.8,95.8 456.7,93.8 459.6,91.7 462.4,89.5 465.3,87.3 468.2,85.0 471.1,82.6 474.0,80.2 477.0,77.7 479.9,75.1 482.8,72.5 485.8,69.8 488.7,67.1 491.7,64.3 494.7,61.5 497.7,58.6 502.1,59.4 499.1,62.4 496.1,65.2 493.1,68.1 490.2,70.8 487.2,73.5 484.3,76.2 481.3,78.8 478.4,81.3 475.5,83.8 472.6,86.2 469.7,88.5 466.8,90.8 463.9,93.0 461.1,95.1 458.2,97.2 455.3,99.2 452.4,101.2 449.6,103.0 446.7,104.8 443.8,106.6 441.0,108.2 438.1,109.8 435.2,111.3 432.4,112.8 429.5,114.2 426.6,115.5 423.7,116.7 420.9,117.8 418.0,118.9 415.1,119.9Z" fill="url(#sb6)" stroke="url(#sb6)" stroke-width="0.9"/><linearGradient id="sb7" gradientUnits="userSpaceOnUse" x1="417.3" y1="120.8" x2="504.3" y2="59.9"><stop offset="0.000" stop-color="#258282"/><stop offset="0.172" stop-color="#217186"/><stop offset="0.263" stop-color="#238089"/><stop offset="0.423" stop-color="#379249"/><stop offset="0.456" stop-color="#3c9737"/><stop offset="0.592" stop-color="#9e9f30"/><stop offset="0.663" stop-color="#a86a38"/><stop offset="0.699" stop-color="#a84f3c"/><stop offset="0.772" stop-color="#a8443e"/><stop offset="1.000" stop-color="#a8443e"/></linearGradient><path d="M415.1,119.9 418.0,118.9 420.9,117.8 423.7,116.7 426.6,115.5 429.5,114.2 432.4,112.8 435.2,111.3 438.1,109.8 441.0,108.2 443.8,106.6 446.7,104.8 449.6,103.0 452.4,101.2 455.3,99.2 458.2,97.2 461.1,95.1 463.9,93.0 466.8,90.8 469.7,88.5 472.6,86.2 475.5,83.8 478.4,81.3 481.3,78.8 484.3,76.2 487.2,73.5 490.2,70.8 493.1,68.1 496.1,65.2 499.1,62.4 502.1,59.4 506.5,60.3 503.5,63.3 500.5,66.2 497.5,69.1 494.6,71.9 491.6,74.6 488.7,77.3 485.7,79.9 482.8,82.5 479.9,84.9 477.0,87.4 474.1,89.8 471.2,92.1 468.3,94.3 465.4,96.5 462.6,98.6 459.7,100.6 456.8,102.6 454.0,104.5 451.1,106.4 448.2,108.1 445.4,109.8 442.5,111.5 439.6,113.0 436.8,114.5 433.9,115.9 431.0,117.2 428.2,118.5 425.3,119.7 422.4,120.8 419.5,121.8Z" fill="url(#sb7)" stroke="url(#sb7)" stroke-width="0.9"/><linearGradient id="sb8" gradientUnits="userSpaceOnUse" x1="421.7" y1="122.7" x2="508.7" y2="60.8"><stop offset="0.000" stop-color="#248088"/><stop offset="0.142" stop-color="#206c85"/><stop offset="0.263" stop-color="#237f8a"/><stop offset="0.423" stop-color="#379249"/><stop offset="0.456" stop-color="#3d9736"/><stop offset="0.592" stop-color="#a09f30"/><stop offset="0.698" stop-color="#a84b3d"/><stop offset="0.884" stop-color="#a8443e"/><stop offset="1.000" stop-color="#a8443e"/></linearGradient><path d="M419.5,121.8 422.4,120.8 425.3,119.7 428.2,118.5 431.0,117.2 433.9,115.9 436.8,114.5 439.6,113.0 442.5,111.5 445.4,109.8 448.2,108.1 451.1,106.4 454.0,104.5 456.8,102.6 459.7,100.6 462.6,98.6 465.4,96.5 468.3,94.3 471.2,92.1 474.1,89.8 477.0,87.4 479.9,84.9 482.8,82.5 485.7,79.9 488.7,77.3 491.6,74.6 494.6,71.9 497.5,69.1 500.5,66.2 503.5,63.3 506.5,60.3 510.9,61.3 507.9,64.3 504.9,67.2 501.9,70.1 499.0,72.9 496.0,75.7 493.1,78.4 490.1,81.1 487.2,83.6 484.3,86.2 481.4,88.6 478.5,91.1 475.6,93.4 472.7,95.7 469.8,97.9 467.0,100.0 464.1,102.1 461.2,104.1 458.4,106.1 455.5,107.9 452.6,109.7 449.8,111.5 446.9,113.1 444.1,114.7 441.2,116.2 438.3,117.7 435.5,119.0 432.6,120.3 429.7,121.5 426.8,122.7 423.9,123.7Z" fill="url(#sb8)" stroke="url(#sb8)" stroke-width="0.9"/><linearGradient id="sb9" gradientUnits="userSpaceOnUse" x1="426.1" y1="124.7" x2="513.1" y2="61.7"><stop offset="0.000" stop-color="#227b89"/><stop offset="0.142" stop-color="#206884"/><stop offset="0.294" stop-color="#258284"/><stop offset="0.455" stop-color="#3d9735"/><stop offset="0.592" stop-color="#a2a030"/><stop offset="0.698" stop-color="#a8483d"/><stop offset="1.000" stop-color="#a8443e"/></linearGradient><path d="M423.9,123.7 426.8,122.7 429.7,121.5 432.6,120.3 435.5,119.0 438.3,117.7 441.2,116.2 444.1,114.7 446.9,113.1 449.8,111.5 452.6,109.7 455.5,107.9 458.4,106.1 461.2,104.1 464.1,102.1 467.0,100.0 469.8,97.9 472.7,95.7 475.6,93.4 478.5,91.1 481.4,88.6 484.3,86.2 487.2,83.6 490.1,81.1 493.1,78.4 496.0,75.7 499.0,72.9 501.9,70.1 504.9,67.2 507.9,64.3 510.9,61.3 515.3,62.2 512.3,65.3 509.3,68.2 506.3,71.1 503.4,74.0 500.4,76.8 497.5,79.6 494.5,82.2 491.6,84.9 488.7,87.4 485.8,89.9 482.9,92.4 480.0,94.8 477.1,97.1 474.2,99.3 471.3,101.5 468.5,103.6 465.6,105.7 462.8,107.6 459.9,109.5 457.0,111.4 454.2,113.2 451.3,114.9 448.5,116.5 445.6,118.0 442.7,119.5 439.9,120.9 437.0,122.2 434.1,123.5 431.2,124.6 428.4,125.7Z" fill="url(#sb9)" stroke="url(#sb9)" stroke-width="0.9"/><linearGradient id="sb10" gradientUnits="userSpaceOnUse" x1="430.6" y1="126.7" x2="517.5" y2="62.7"><stop offset="0.000" stop-color="#217387"/><stop offset="0.142" stop-color="#1f6282"/><stop offset="0.293" stop-color="#248186"/><stop offset="0.455" stop-color="#3d9735"/><stop offset="0.591" stop-color="#a4a030"/><stop offset="0.698" stop-color="#a8453e"/><stop offset="1.000" stop-color="#a8443e"/></linearGradient><path d="M428.4,125.7 431.2,124.6 434.1,123.5 437.0,122.2 439.9,120.9 442.7,119.5 445.6,118.0 448.5,116.5 451.3,114.9 454.2,113.2 457.0,111.4 459.9,109.5 462.8,107.6 465.6,105.7 468.5,103.6 471.3,101.5 474.2,99.3 477.1,97.1 480.0,94.8 482.9,92.4 485.8,89.9 488.7,87.4 491.6,84.9 494.5,82.2 497.5,79.6 500.4,76.8 503.4,74.0 506.3,71.1 509.3,68.2 512.3,65.3 515.3,62.2 519.7,63.2 516.7,66.3 513.7,69.3 510.7,72.2 507.8,75.1 504.8,78.0 501.8,80.7 498.9,83.5 496.0,86.1 493.1,88.7 490.2,91.3 487.3,93.7 484.4,96.2 481.5,98.5 478.6,100.8 475.7,103.0 472.9,105.2 470.0,107.2 467.1,109.3 464.3,111.2 461.4,113.1 458.6,114.9 455.7,116.6 452.9,118.3 450.0,119.8 447.1,121.4 444.3,122.8 441.4,124.1 438.5,125.4 435.7,126.6 432.8,127.7Z" fill="url(#sb10)" stroke="url(#sb10)" stroke-width="0.9"/><linearGradient id="sb11" gradientUnits="userSpaceOnUse" x1="435.0" y1="128.8" x2="521.9" y2="63.7"><stop offset="0.000" stop-color="#206c85"/><stop offset="0.141" stop-color="#1e5d81"/><stop offset="0.262" stop-color="#217487"/><stop offset="0.293" stop-color="#23808a"/><stop offset="0.454" stop-color="#3d9735"/><stop offset="0.591" stop-color="#a5a030"/><stop offset="0.698" stop-color="#a8443e"/><stop offset="1.000" stop-color="#a8443e"/></linearGradient><path d="M432.8,127.7 435.7,126.6 438.5,125.4 441.4,124.1 444.3,122.8 447.1,121.4 450.0,119.8 452.9,118.3 455.7,116.6 458.6,114.9 461.4,113.1 464.3,111.2 467.1,109.3 470.0,107.2 472.9,105.2 475.7,103.0 478.6,100.8 481.5,98.5 484.4,96.2 487.3,93.7 490.2,91.3 493.1,88.7 496.0,86.1 498.9,83.5 501.8,80.7 504.8,78.0 507.8,75.1 510.7,72.2 513.7,69.3 516.7,66.3 519.7,63.2 524.2,64.3 521.1,67.3 518.1,70.4 515.1,73.4 512.2,76.3 509.2,79.2 506.2,82.0 503.3,84.7 500.4,87.4 497.5,90.1 494.5,92.6 491.7,95.1 488.8,97.6 485.9,100.0 483.0,102.3 480.1,104.5 477.3,106.7 474.4,108.9 471.5,110.9 468.7,112.9 465.8,114.8 463.0,116.6 460.1,118.4 457.3,120.1 454.4,121.7 451.6,123.2 448.7,124.7 445.8,126.1 443.0,127.4 440.1,128.6 437.2,129.8Z" fill="url(#sb11)" stroke="url(#sb11)" stroke-width="0.9"/><linearGradient id="sb12" gradientUnits="userSpaceOnUse" x1="439.4" y1="130.8" x2="526.4" y2="64.8"><stop offset="0.000" stop-color="#1f6483"/><stop offset="0.141" stop-color="#1e577f"/><stop offset="0.262" stop-color="#217086"/><stop offset="0.293" stop-color="#237d89"/><stop offset="0.421" stop-color="#37914a"/><stop offset="0.454" stop-color="#3d9735"/><stop offset="0.591" stop-color="#a7a030"/><stop offset="0.697" stop-color="#a8443e"/><stop offset="1.000" stop-color="#a8443e"/></linearGradient><path d="M437.2,129.8 440.1,128.6 443.0,127.4 445.8,126.1 448.7,124.7 451.6,123.2 454.4,121.7 457.3,120.1 460.1,118.4 463.0,116.6 465.8,114.8 468.7,112.9 471.5,110.9 474.4,108.9 477.3,106.7 480.1,104.5 483.0,102.3 485.9,100.0 488.8,97.6 491.7,95.1 494.5,92.6 497.5,90.1 500.4,87.4 503.3,84.7 506.2,82.0 509.2,79.2 512.2,76.3 515.1,73.4 518.1,70.4 521.1,67.3 524.2,64.3 528.6,65.3 525.5,68.4 522.5,71.5 519.5,74.5 516.6,77.5 513.6,80.4 510.6,83.2 507.7,86.0 504.8,88.7 501.8,91.4 498.9,94.0 496.0,96.6 493.1,99.1 490.3,101.5 487.4,103.8 484.5,106.1 481.7,108.3 478.8,110.5 475.9,112.6 473.1,114.6 470.2,116.6 467.4,118.4 464.5,120.2 461.7,122.0 458.8,123.6 456.0,125.2 453.1,126.7 450.3,128.1 447.4,129.5 444.5,130.7 441.7,131.9Z" fill="url(#sb12)" stroke="url(#sb12)" stroke-width="0.9"/><linearGradient id="sb13" gradientUnits="userSpaceOnUse" x1="443.9" y1="133.0" x2="530.8" y2="65.9"><stop offset="0.000" stop-color="#1e5c81"/><stop offset="0.141" stop-color="#1d507e"/><stop offset="0.261" stop-color="#206b85"/><stop offset="0.324" stop-color="#258282"/><stop offset="0.454" stop-color="#3d9736"/><stop offset="0.590" stop-color="#a89f30"/><stop offset="0.661" stop-color="#a85d3a"/><stop offset="0.697" stop-color="#a8443e"/><stop offset="1.000" stop-color="#a8443e"/></linearGradient><path d="M441.7,131.9 444.5,130.7 447.4,129.5 450.3,128.1 453.1,126.7 456.0,125.2 458.8,123.6 461.7,122.0 464.5,120.2 467.4,118.4 470.2,116.6 473.1,114.6 475.9,112.6 478.8,110.5 481.7,108.3 484.5,106.1 487.4,103.8 490.3,101.5 493.1,99.1 496.0,96.6 498.9,94.0 501.8,91.4 504.8,88.7 507.7,86.0 510.6,83.2 513.6,80.4 516.6,77.5 519.5,74.5 522.5,71.5 525.5,68.4 528.6,65.3 533.0,66.4 529.9,69.6 526.9,72.7 523.9,75.7 521.0,78.7 518.0,81.6 515.0,84.5 512.1,87.3 509.2,90.1 506.2,92.8 503.3,95.5 500.4,98.0 497.5,100.6 494.7,103.0 491.8,105.4 488.9,107.7 486.0,110.0 483.2,112.2 480.3,114.3 477.5,116.4 474.6,118.4 471.8,120.3 468.9,122.1 466.1,123.9 463.2,125.6 460.4,127.2 457.5,128.7 454.7,130.2 451.8,131.5 449.0,132.8 446.1,134.1Z" fill="url(#sb13)" stroke="url(#sb13)" stroke-width="0.9"/><linearGradient id="sb14" gradientUnits="userSpaceOnUse" x1="448.3" y1="135.2" x2="535.2" y2="67.0"><stop offset="0.000" stop-color="#1d537e"/><stop offset="0.141" stop-color="#1c4a7c"/><stop offset="0.261" stop-color="#206683"/><stop offset="0.323" stop-color="#258185"/><stop offset="0.454" stop-color="#3d9737"/><stop offset="0.590" stop-color="#a89f30"/><stop offset="0.661" stop-color="#a85c3a"/><stop offset="0.697" stop-color="#a8443e"/><stop offset="1.000" stop-color="#a8443e"/></linearGradient><path d="M446.1,134.1 449.0,132.8 451.8,131.5 454.7,130.2 457.5,128.7 460.4,127.2 463.2,125.6 466.1,123.9 468.9,122.1 471.8,120.3 474.6,118.4 477.5,116.4 480.3,114.3 483.2,112.2 486.0,110.0 488.9,107.7 491.8,105.4 494.7,103.0 497.5,100.6 500.4,98.0 503.3,95.5 506.2,92.8 509.2,90.1 512.1,87.3 515.0,84.5 518.0,81.6 521.0,78.7 523.9,75.7 526.9,72.7 529.9,69.6 533.0,66.4 537.4,67.6 534.3,70.7 531.3,73.9 528.3,76.9 525.3,80.0 522.4,82.9 519.4,85.9 516.5,88.7 513.5,91.5 510.6,94.2 507.7,96.9 504.8,99.5 501.9,102.1 499.0,104.6 496.2,107.0 493.3,109.4 490.4,111.7 487.6,113.9 484.7,116.1 481.9,118.2 479.0,120.2 476.2,122.1 473.3,124.0 470.5,125.8 467.6,127.5 464.8,129.2 462.0,130.8 459.1,132.3 456.3,133.7 453.4,135.0 450.5,136.3Z" fill="url(#sb14)" stroke="url(#sb14)" stroke-width="0.9"/><linearGradient id="sb15" gradientUnits="userSpaceOnUse" x1="452.8" y1="137.4" x2="539.6" y2="68.1"><stop offset="0.000" stop-color="#1c4a7c"/><stop offset="0.141" stop-color="#1b437a"/><stop offset="0.261" stop-color="#1f6182"/><stop offset="0.323" stop-color="#248187"/><stop offset="0.453" stop-color="#3c9638"/><stop offset="0.590" stop-color="#a89e30"/><stop offset="0.661" stop-color="#a85b3a"/><stop offset="0.697" stop-color="#a8443e"/><stop offset="1.000" stop-color="#a8443e"/></linearGradient><path d="M450.5,136.3 453.4,135.0 456.3,133.7 459.1,132.3 462.0,130.8 464.8,129.2 467.6,127.5 470.5,125.8 473.3,124.0 476.2,122.1 479.0,120.2 481.9,118.2 484.7,116.1 487.6,113.9 490.4,111.7 493.3,109.4 496.2,107.0 499.0,104.6 501.9,102.1 504.8,99.5 507.7,96.9 510.6,94.2 513.5,91.5 516.5,88.7 519.4,85.9 522.4,82.9 525.3,80.0 528.3,76.9 531.3,73.9 534.3,70.7 537.4,67.6 541.8,68.7 538.8,71.9 535.7,75.1 532.7,78.2 529.7,81.3 526.8,84.3 523.8,87.2 520.9,90.1 517.9,92.9 515.0,95.7 512.1,98.4 509.2,101.1 506.3,103.7 503.4,106.2 500.6,108.7 497.7,111.1 494.8,113.4 492.0,115.7 489.1,117.9 486.3,120.0 483.4,122.1 480.6,124.1 477.7,126.0 474.9,127.8 472.1,129.6 469.2,131.3 466.4,132.9 463.5,134.4 460.7,135.9 457.8,137.2 455.0,138.5Z" fill="url(#sb15)" stroke="url(#sb15)" stroke-width="0.9"/><linearGradient id="sb16" gradientUnits="userSpaceOnUse" x1="457.2" y1="139.7" x2="544.0" y2="69.3"><stop offset="0.000" stop-color="#1b427a"/><stop offset="0.140" stop-color="#1a3c78"/><stop offset="0.260" stop-color="#1e5c81"/><stop offset="0.323" stop-color="#237f8a"/><stop offset="0.453" stop-color="#3c963a"/><stop offset="0.555" stop-color="#889e31"/><stop offset="0.590" stop-color="#a89e30"/><stop offset="0.661" stop-color="#a85b3b"/><stop offset="0.697" stop-color="#a8443e"/><stop offset="1.000" stop-color="#a8443e"/></linearGradient><path d="M455.0,138.5 457.8,137.2 460.7,135.9 463.5,134.4 466.4,132.9 469.2,131.3 472.1,129.6 474.9,127.8 477.7,126.0 480.6,124.1 483.4,122.1 486.3,120.0 489.1,117.9 492.0,115.7 494.8,113.4 497.7,111.1 500.6,108.7 503.4,106.2 506.3,103.7 509.2,101.1 512.1,98.4 515.0,95.7 517.9,92.9 520.9,90.1 523.8,87.2 526.8,84.3 529.7,81.3 532.7,78.2 535.7,75.1 538.8,71.9 541.8,68.7 546.2,69.9 543.2,73.2 540.1,76.4 537.1,79.5 534.1,82.6 531.2,85.6 528.2,88.6 525.3,91.5 522.3,94.4 519.4,97.2 516.5,100.0 513.6,102.7 510.7,105.3 507.8,107.9 504.9,110.4 502.1,112.8 499.2,115.2 496.4,117.5 493.5,119.7 490.7,121.9 487.8,124.0 485.0,126.0 482.1,128.0 479.3,129.8 476.5,131.7 473.6,133.4 470.8,135.0 468.0,136.6 465.1,138.1 462.3,139.5 459.4,140.8Z" fill="url(#sb16)" stroke="url(#sb16)" stroke-width="0.9"/><linearGradient id="sb17" gradientUnits="userSpaceOnUse" x1="461.6" y1="142.0" x2="548.4" y2="70.5"><stop offset="0.000" stop-color="#1a3978"/><stop offset="0.140" stop-color="#193576"/><stop offset="0.260" stop-color="#1e567f"/><stop offset="0.323" stop-color="#227b89"/><stop offset="0.453" stop-color="#3b953c"/><stop offset="0.520" stop-color="#699b31"/><stop offset="0.590" stop-color="#a89e30"/><stop offset="0.661" stop-color="#a85b3a"/><stop offset="0.697" stop-color="#a8443e"/><stop offset="1.000" stop-color="#a8443e"/></linearGradient><path d="M459.4,140.8 462.3,139.5 465.1,138.1 468.0,136.6 470.8,135.0 473.6,133.4 476.5,131.7 479.3,129.8 482.1,128.0 485.0,126.0 487.8,124.0 490.7,121.9 493.5,119.7 496.4,117.5 499.2,115.2 502.1,112.8 504.9,110.4 507.8,107.9 510.7,105.3 513.6,102.7 516.5,100.0 519.4,97.2 522.3,94.4 525.3,91.5 528.2,88.6 531.2,85.6 534.1,82.6 537.1,79.5 540.1,76.4 543.2,73.2 546.2,69.9 550.6,71.1 547.6,74.4 544.5,77.7 541.5,80.8 538.5,84.0 535.5,87.0 532.6,90.0 529.6,93.0 526.7,95.9 523.8,98.8 520.9,101.6 518.0,104.3 515.1,107.0 512.2,109.6 509.3,112.1 506.5,114.6 503.6,117.0 500.7,119.3 497.9,121.6 495.1,123.8 492.2,126.0 489.4,128.0 486.5,130.0 483.7,131.9 480.9,133.8 478.0,135.5 475.2,137.2 472.4,138.8 469.5,140.4 466.7,141.8 463.8,143.2Z" fill="url(#sb17)" stroke="url(#sb17)" stroke-width="0.9"/><linearGradient id="sb18" gradientUnits="userSpaceOnUse" x1="466.1" y1="144.3" x2="552.8" y2="71.8"><stop offset="0.000" stop-color="#193075"/><stop offset="0.140" stop-color="#182d75"/><stop offset="0.260" stop-color="#1d507e"/><stop offset="0.322" stop-color="#227687"/><stop offset="0.354" stop-color="#26837f"/><stop offset="0.453" stop-color="#3a953e"/><stop offset="0.486" stop-color="#4b9932"/><stop offset="0.589" stop-color="#a89f30"/><stop offset="0.660" stop-color="#a85b3a"/><stop offset="0.697" stop-color="#a8443e"/><stop offset="1.000" stop-color="#a8443e"/></linearGradient><path d="M463.8,143.2 466.7,141.8 469.5,140.4 472.4,138.8 475.2,137.2 478.0,135.5 480.9,133.8 483.7,131.9 486.5,130.0 489.4,128.0 492.2,126.0 495.1,123.8 497.9,121.6 500.7,119.3 503.6,117.0 506.5,114.6 509.3,112.1 512.2,109.6 515.1,107.0 518.0,104.3 520.9,101.6 523.8,98.8 526.7,95.9 529.6,93.0 532.6,90.0 535.5,87.0 538.5,84.0 541.5,80.8 544.5,77.7 547.6,74.4 550.6,71.1 555.0,72.4 552.0,75.7 548.9,79.0 545.9,82.2 542.9,85.4 539.9,88.5 537.0,91.5 534.0,94.5 531.1,97.5 528.2,100.4 525.3,103.2 522.4,105.9 519.5,108.7 516.6,111.3 513.7,113.9 510.8,116.4 508.0,118.8 505.1,121.2 502.3,123.5 499.5,125.8 496.6,128.0 493.8,130.1 491.0,132.1 488.1,134.1 485.3,135.9 482.5,137.7 479.6,139.5 476.8,141.1 474.0,142.7 471.1,144.2 468.3,145.6Z" fill="url(#sb18)" stroke="url(#sb18)" stroke-width="0.9"/><linearGradient id="sb19" gradientUnits="userSpaceOnUse" x1="470.5" y1="146.8" x2="557.2" y2="73.1"><stop offset="0.000" stop-color="#172773"/><stop offset="0.169" stop-color="#182b74"/><stop offset="0.260" stop-color="#1c4a7c"/><stop offset="0.354" stop-color="#258283"/><stop offset="0.486" stop-color="#489932"/><stop offset="0.589" stop-color="#a8a030"/><stop offset="0.660" stop-color="#a85c3a"/><stop offset="0.696" stop-color="#a8443e"/><stop offset="1.000" stop-color="#a8443e"/></linearGradient><path d="M468.3,145.6 471.1,144.2 474.0,142.7 476.8,141.1 479.6,139.5 482.5,137.7 485.3,135.9 488.1,134.1 491.0,132.1 493.8,130.1 496.6,128.0 499.5,125.8 502.3,123.5 505.1,121.2 508.0,118.8 510.8,116.4 513.7,113.9 516.6,111.3 519.5,108.7 522.4,105.9 525.3,103.2 528.2,100.4 531.1,97.5 534.0,94.5 537.0,91.5 539.9,88.5 542.9,85.4 545.9,82.2 548.9,79.0 552.0,75.7 555.0,72.4 559.4,73.7 556.3,77.1 553.3,80.4 550.3,83.6 547.3,86.8 544.3,89.9 541.4,93.0 538.4,96.1 535.5,99.0 532.5,102.0 529.6,104.8 526.7,107.6 523.8,110.4 521.0,113.1 518.1,115.7 515.2,118.2 512.4,120.7 509.5,123.2 506.7,125.5 503.8,127.8 501.0,130.0 498.2,132.2 495.4,134.2 492.5,136.2 489.7,138.1 486.9,140.0 484.1,141.8 481.2,143.4 478.4,145.0 475.6,146.6 472.7,148.0Z" fill="url(#sb19)" stroke="url(#sb19)" stroke-width="0.9"/><linearGradient id="sb20" gradientUnits="userSpaceOnUse" x1="474.9" y1="149.2" x2="561.6" y2="74.4"><stop offset="0.000" stop-color="#161e71"/><stop offset="0.169" stop-color="#172372"/><stop offset="0.259" stop-color="#1b437a"/><stop offset="0.354" stop-color="#248188"/><stop offset="0.486" stop-color="#459832"/><stop offset="0.589" stop-color="#a6a030"/><stop offset="0.696" stop-color="#a8443e"/><stop offset="1.000" stop-color="#a8443e"/></linearGradient><path d="M472.7,148.0 475.6,146.6 478.4,145.0 481.2,143.4 484.1,141.8 486.9,140.0 489.7,138.1 492.5,136.2 495.4,134.2 498.2,132.2 501.0,130.0 503.8,127.8 506.7,125.5 509.5,123.2 512.4,120.7 515.2,118.2 518.1,115.7 521.0,113.1 523.8,110.4 526.7,107.6 529.6,104.8 532.5,102.0 535.5,99.0 538.4,96.1 541.4,93.0 544.3,89.9 547.3,86.8 550.3,83.6 553.3,80.4 556.3,77.1 559.4,73.7 563.8,75.1 560.7,78.4 557.7,81.8 554.7,85.0 551.7,88.3 548.7,91.4 545.7,94.6 542.8,97.6 539.8,100.7 536.9,103.6 534.0,106.5 531.1,109.4 528.2,112.2 525.3,114.9 522.5,117.5 519.6,120.1 516.8,122.7 513.9,125.1 511.1,127.5 508.2,129.9 505.4,132.1 502.6,134.3 499.8,136.4 496.9,138.4 494.1,140.4 491.3,142.3 488.5,144.1 485.7,145.8 482.8,147.5 480.0,149.0 477.2,150.5Z" fill="url(#sb20)" stroke="url(#sb20)" stroke-width="0.9"/><linearGradient id="sb21" gradientUnits="userSpaceOnUse" x1="479.4" y1="151.8" x2="566.0" y2="75.7"><stop offset="0.000" stop-color="#161c70"/><stop offset="0.169" stop-color="#161c70"/><stop offset="0.259" stop-color="#1a3c78"/><stop offset="0.354" stop-color="#237d89"/><stop offset="0.486" stop-color="#419832"/><stop offset="0.589" stop-color="#a4a030"/><stop offset="0.696" stop-color="#a8443e"/><stop offset="1.000" stop-color="#a8443e"/></linearGradient><path d="M477.2,150.5 480.0,149.0 482.8,147.5 485.7,145.8 488.5,144.1 491.3,142.3 494.1,140.4 496.9,138.4 499.8,136.4 502.6,134.3 505.4,132.1 508.2,129.9 511.1,127.5 513.9,125.1 516.8,122.7 519.6,120.1 522.5,117.5 525.3,114.9 528.2,112.2 531.1,109.4 534.0,106.5 536.9,103.6 539.8,100.7 542.8,97.6 545.7,94.6 548.7,91.4 551.7,88.3 554.7,85.0 557.7,81.8 560.7,78.4 563.8,75.1 568.2,76.4 565.1,79.8 562.1,83.2 559.1,86.5 556.1,89.8 553.1,93.0 550.1,96.2 547.2,99.3 544.2,102.3 541.3,105.3 538.4,108.3 535.5,111.2 532.6,114.0 529.7,116.7 526.9,119.4 524.0,122.1 521.1,124.6 518.3,127.2 515.5,129.6 512.6,132.0 509.8,134.3 507.0,136.5 504.2,138.6 501.3,140.7 498.5,142.7 495.7,144.6 492.9,146.5 490.1,148.2 487.3,149.9 484.4,151.5 481.6,153.0Z" fill="url(#sb21)" stroke="url(#sb21)" stroke-width="0.9"/><linearGradient id="sb22" gradientUnits="userSpaceOnUse" x1="483.8" y1="154.3" x2="570.4" y2="77.1"><stop offset="0.000" stop-color="#161c70"/><stop offset="0.198" stop-color="#161c70"/><stop offset="0.290" stop-color="#1c477b"/><stop offset="0.354" stop-color="#227788"/><stop offset="0.419" stop-color="#2f8a64"/><stop offset="0.486" stop-color="#3e9833"/><stop offset="0.589" stop-color="#a19f30"/><stop offset="0.696" stop-color="#a8443e"/><stop offset="1.000" stop-color="#a8443e"/></linearGradient><path d="M481.6,153.0 484.4,151.5 487.3,149.9 490.1,148.2 492.9,146.5 495.7,144.6 498.5,142.7 501.3,140.7 504.2,138.6 507.0,136.5 509.8,134.3 512.6,132.0 515.5,129.6 518.3,127.2 521.1,124.6 524.0,122.1 526.9,119.4 529.7,116.7 532.6,114.0 535.5,111.2 538.4,108.3 541.3,105.3 544.2,102.3 547.2,99.3 550.1,96.2 553.1,93.0 556.1,89.8 559.1,86.5 562.1,83.2 565.1,79.8 568.2,76.4 572.6,77.8 569.5,81.3 566.5,84.7 563.5,88.0 560.5,91.3 557.5,94.6 554.5,97.8 551.5,100.9 548.6,104.0 545.7,107.1 542.8,110.0 539.9,113.0 537.0,115.8 534.1,118.6 531.2,121.4 528.4,124.1 525.5,126.7 522.7,129.2 519.8,131.7 517.0,134.1 514.2,136.4 511.4,138.7 508.6,140.9 505.7,143.0 502.9,145.1 500.1,147.0 497.3,148.9 494.5,150.7 491.7,152.4 488.9,154.1 486.0,155.6Z" fill="url(#sb22)" stroke="url(#sb22)" stroke-width="0.9"/><linearGradient id="sb23" gradientUnits="userSpaceOnUse" x1="488.3" y1="157.0" x2="574.8" y2="78.6"><stop offset="0.000" stop-color="#161c70"/><stop offset="0.228" stop-color="#172071"/><stop offset="0.322" stop-color="#1e587f"/><stop offset="0.353" stop-color="#217186"/><stop offset="0.386" stop-color="#268381"/><stop offset="0.486" stop-color="#3c9737"/><stop offset="0.589" stop-color="#9e9f30"/><stop offset="0.660" stop-color="#a86439"/><stop offset="0.696" stop-color="#a8443e"/><stop offset="1.000" stop-color="#a8443e"/></linearGradient><path d="M486.0,155.6 488.9,154.1 491.7,152.4 494.5,150.7 497.3,148.9 500.1,147.0 502.9,145.1 505.7,143.0 508.6,140.9 511.4,138.7 514.2,136.4 517.0,134.1 519.8,131.7 522.7,129.2 525.5,126.7 528.4,124.1 531.2,121.4 534.1,118.6 537.0,115.8 539.9,113.0 542.8,110.0 545.7,107.1 548.6,104.0 551.5,100.9 554.5,97.8 557.5,94.6 560.5,91.3 563.5,88.0 566.5,84.7 569.5,81.3 572.6,77.8 577.0,79.3 573.9,82.8 570.9,86.2 567.8,89.6 564.8,92.9 561.8,96.2 558.9,99.4 555.9,102.6 553.0,105.8 550.0,108.8 547.1,111.9 544.2,114.8 541.3,117.7 538.5,120.6 535.6,123.4 532.8,126.1 529.9,128.7 527.1,131.3 524.2,133.8 521.4,136.3 518.6,138.7 515.8,141.0 513.0,143.2 510.1,145.4 507.3,147.5 504.5,149.5 501.7,151.4 498.9,153.2 496.1,155.0 493.3,156.7 490.5,158.3Z" fill="url(#sb23)" stroke="url(#sb23)" stroke-width="0.9"/><path d="M57.4,642.2 L49.4,537.3 M70.7,607.2 L66.4,532.1 M86.2,600.7 L83.4,526.9 M101.7,594.1 L100.4,521.6 M117.2,587.6 L117.4,516.4 M132.0,607.0 L134.4,511.2 M55.2,613.8 L132.7,581.1 M54.4,602.9 L132.9,571.1 M53.6,591.9 L133.2,561.1 M52.7,581.0 L133.4,551.1 M51.9,570.1 L133.7,541.1 M51.1,559.2 L133.9,531.2 M50.2,548.2 L134.2,521.2 M49.4,537.3 L134.4,511.2" stroke="#4a4a4a" stroke-width="0.55" fill="none"/><path d="M132.0,607.0 L134.4,511.2 M158.6,586.8 L161.3,516.1 M184.6,592.5 L188.2,521.1 M210.5,598.2 L215.0,526.0 M234.5,631.0 L241.9,531.0 M132.7,581.1 L236.5,603.9 M132.9,571.1 L237.3,593.5 M133.2,561.1 L238.0,583.1 M133.4,551.1 L238.8,572.7 M133.7,541.1 L239.6,562.2 M133.9,531.2 L240.4,551.8 M134.2,521.2 L241.1,541.4 M134.4,511.2 L241.9,531.0" stroke="#4a4a4a" stroke-width="0.55" fill="none"/><text x="45.2" y="536.5" font-family="Liberation Sans" font-size="6.2" fill="#333" text-anchor="end">0.0012</text><path d="M49.4,537.3h-1.8" stroke="#222" stroke-width="0.9"/><text x="46.0" y="547.4" font-family="Liberation Sans" font-size="6.2" fill="#333" text-anchor="end">0.001</text><path d="M50.2,548.2h-1.8" stroke="#222" stroke-width="0.9"/><text x="46.9" y="558.4" font-family="Liberation Sans" font-size="6.2" fill="#333" text-anchor="end">0.0008</text><path d="M51.1,559.2h-1.8" stroke="#222" stroke-width="0.9"/><text x="47.7" y="569.3" font-family="Liberation Sans" font-size="6.2" fill="#333" text-anchor="end">0.0006</text><path d="M51.9,570.1h-1.8" stroke="#222" stroke-width="0.9"/><text x="48.5" y="580.2" font-family="Liberation Sans" font-size="6.2" fill="#333" text-anchor="end">0.0004</text><path d="M52.7,581.0h-1.8" stroke="#222" stroke-width="0.9"/><text x="49.4" y="591.1" font-family="Liberation Sans" font-size="6.2" fill="#333" text-anchor="end">0.0002</text><path d="M53.6,591.9h-1.8" stroke="#222" stroke-width="0.9"/><text x="50.2" y="602.1" font-family="Liberation Sans" font-size="6.2" fill="#333" text-anchor="end">0</text><path d="M54.4,602.9h-1.8" stroke="#222" stroke-width="0.9"/><text x="51.0" y="613.0" font-family="Liberation Sans" font-size="6.2" fill="#333" text-anchor="end">-0.0002</text><path d="M55.2,613.8h-1.8" stroke="#222" stroke-width="0.9"/><path d="M57.4,642.2 L162.7,675.7 L234.5,631.0 L132.0,607.0 Z" fill="#ffff00" stroke="#333" stroke-width="0.4"/><path d="M57.4,642.2 l-2.2,0.1 M83.7,650.6 l-2.2,0.4 M110.0,659.0 l-1.9,1.1 M136.4,667.3 l-0.7,2.1 M162.7,675.7 l0.9,2.0 M162.7,675.7 l0.9,2.0 M177.1,666.8 l1.6,1.5 M191.4,657.8 l2.0,0.9 M205.8,648.9 l2.2,0.4 M220.1,639.9 l2.2,0.0 M234.5,631.0 l2.2,-0.2" stroke="#222" stroke-width="0.8" fill="none"/><path d="M82.6,630.3 83.9,631.2 85.8,632.5 88.0,634.0 90.3,635.5 92.2,636.9 93.7,638.1 94.6,638.9 95.2,639.6 95.6,640.2 95.8,640.7 95.6,641.1 95.2,641.4 94.5,641.6 93.3,641.7 91.9,641.8 90.4,641.7 88.7,641.5 87.2,641.3 85.7,640.9 84.0,640.3 82.2,639.7 80.5,639.0 79.0,638.4 77.6,637.8 76.4,637.3 75.4,636.7 74.4,636.2 73.6,635.8 73.0,635.4 72.4,635.1" fill="none" stroke="#4a4a5a" stroke-width="0.6"/><path d="M181.3,664.1 180.2,663.0 178.7,661.4 176.9,659.6 174.8,657.6 172.6,655.4 170.2,653.3 167.7,651.0 164.8,648.5 161.8,645.9 158.7,643.4 155.7,641.0 152.8,638.9 150.4,637.2 148.2,635.8 146.1,634.6 143.9,633.3 141.3,631.9 138.2,630.2 134.2,628.0 129.3,625.5 124.1,622.7 119.2,620.2 114.9,618.0 111.9,616.5" fill="none" stroke="#52ff00" stroke-width="0.6"/><path d="M198.6,653.4 197.1,652.2 195.1,650.6 192.6,648.8 189.9,646.7 186.9,644.6 183.8,642.4 180.6,640.2 177.1,638.0 173.5,635.6 169.6,633.1 165.3,630.5 160.7,627.9 155.1,624.8 148.6,621.4 141.8,617.8 135.3,614.6 129.8,611.8 125.9,609.9" fill="none" stroke="#ff0000" stroke-width="0.6"/><path d="M210.7,645.8 207.2,643.6 202.1,640.4 196.2,636.7 190.1,633.1 184.7,629.8 180.6,627.3 178.1,625.7 176.6,624.7 175.7,624.0 174.9,623.5 173.8,622.8 172.0,621.7 169.1,620.2 165.5,618.3 161.7,616.4 157.9,614.5 154.6,612.9 152.4,611.8" fill="none" stroke="#ff0000" stroke-width="0.6"/><path d="M220.1,639.9 218.2,638.8 215.4,637.2 212.2,635.3 208.7,633.3 205.3,631.4 202.3,629.6 199.4,627.8 196.3,625.9 193.4,624.0 190.7,622.3 188.4,620.9 186.8,619.8" fill="none" stroke="#ff0000" stroke-width="0.6"/><path d="M228.6,634.7 214.6,626.3" fill="none" stroke="#ff0000" stroke-width="0.6"/><linearGradient id="sc0" gradientUnits="userSpaceOnUse" x1="56.7" y1="604.9" x2="135.3" y2="563.1"><stop offset="0.000" stop-color="#141a67"/><stop offset="0.434" stop-color="#141a67"/><stop offset="0.467" stop-color="#16246a"/><stop offset="0.568" stop-color="#1f697c"/><stop offset="0.603" stop-color="#227878"/><stop offset="0.672" stop-color="#2d8156"/><stop offset="0.707" stop-color="#368938"/><stop offset="0.779" stop-color="#87922d"/><stop offset="0.815" stop-color="#9b852e"/><stop offset="0.925" stop-color="#9b4239"/><stop offset="1.000" stop-color="#9b3f39"/></linearGradient><path d="M54.5,604.3 57.2,603.8 59.8,603.1 62.4,602.4 65.1,601.7 67.7,600.9 70.3,600.0 72.9,599.1 75.5,598.1 78.1,597.1 80.7,596.0 83.3,594.8 85.9,593.6 88.5,592.3 91.1,591.0 93.7,589.7 96.3,588.2 98.9,586.8 101.5,585.2 104.1,583.7 106.7,582.0 109.3,580.4 112.0,578.6 114.6,576.8 117.2,575.0 119.8,573.1 122.5,571.2 125.1,569.2 127.8,567.2 130.4,565.2 133.1,563.0 137.5,563.1 134.8,565.3 132.2,567.4 129.5,569.4 126.9,571.4 124.2,573.4 121.6,575.3 119.0,577.2 116.3,579.0 113.7,580.8 111.1,582.5 108.5,584.1 105.9,585.8 103.3,587.3 100.7,588.8 98.1,590.3 95.5,591.7 92.9,593.0 90.3,594.3 87.7,595.6 85.1,596.8 82.5,597.9 79.9,599.0 77.3,600.0 74.7,601.0 72.1,601.9 69.5,602.7 66.8,603.5 64.2,604.2 61.6,604.9 58.9,605.5Z" fill="url(#sc0)" stroke="url(#sc0)" stroke-width="0.9"/><linearGradient id="sc1" gradientUnits="userSpaceOnUse" x1="61.1" y1="606.1" x2="139.7" y2="563.2"><stop offset="0.000" stop-color="#141a67"/><stop offset="0.434" stop-color="#151c68"/><stop offset="0.568" stop-color="#21767e"/><stop offset="0.672" stop-color="#30844a"/><stop offset="0.707" stop-color="#408c2e"/><stop offset="0.778" stop-color="#9a932c"/><stop offset="0.888" stop-color="#9b4f37"/><stop offset="0.925" stop-color="#9b3f39"/><stop offset="1.000" stop-color="#9b3f39"/></linearGradient><path d="M58.9,605.5 61.6,604.9 64.2,604.2 66.8,603.5 69.5,602.7 72.1,601.9 74.7,601.0 77.3,600.0 79.9,599.0 82.5,597.9 85.1,596.8 87.7,595.6 90.3,594.3 92.9,593.0 95.5,591.7 98.1,590.3 100.7,588.8 103.3,587.3 105.9,585.8 108.5,584.1 111.1,582.5 113.7,580.8 116.3,579.0 119.0,577.2 121.6,575.3 124.2,573.4 126.9,571.4 129.5,569.4 132.2,567.4 134.8,565.3 137.5,563.1 141.9,563.2 139.2,565.4 136.5,567.5 133.9,569.6 131.2,571.7 128.6,573.7 126.0,575.6 123.3,577.5 120.7,579.4 118.1,581.2 115.5,582.9 112.9,584.6 110.3,586.3 107.7,587.9 105.1,589.4 102.5,590.9 99.9,592.4 97.3,593.7 94.7,595.1 92.1,596.4 89.5,597.6 86.9,598.8 84.3,599.9 81.7,600.9 79.1,601.9 76.5,602.9 73.9,603.8 71.2,604.6 68.6,605.3 66.0,606.1 63.4,606.7Z" fill="url(#sc1)" stroke="url(#sc1)" stroke-width="0.9"/><linearGradient id="sc2" gradientUnits="userSpaceOnUse" x1="65.6" y1="607.3" x2="144.1" y2="563.2"><stop offset="0.000" stop-color="#141a67"/><stop offset="0.400" stop-color="#141a67"/><stop offset="0.533" stop-color="#1f707d"/><stop offset="0.636" stop-color="#2d8254"/><stop offset="0.671" stop-color="#35883c"/><stop offset="0.706" stop-color="#558e2d"/><stop offset="0.742" stop-color="#83912d"/><stop offset="0.778" stop-color="#9b852e"/><stop offset="0.887" stop-color="#9b4039"/><stop offset="1.000" stop-color="#9b3f39"/></linearGradient><path d="M63.4,606.7 66.0,606.1 68.6,605.3 71.2,604.6 73.9,603.8 76.5,602.9 79.1,601.9 81.7,600.9 84.3,599.9 86.9,598.8 89.5,597.6 92.1,596.4 94.7,595.1 97.3,593.7 99.9,592.4 102.5,590.9 105.1,589.4 107.7,587.9 110.3,586.3 112.9,584.6 115.5,582.9 118.1,581.2 120.7,579.4 123.3,577.5 126.0,575.6 128.6,573.7 131.2,571.7 133.9,569.6 136.5,567.5 139.2,565.4 141.9,563.2 146.3,563.3 143.6,565.5 140.9,567.7 138.3,569.8 135.6,571.9 133.0,573.9 130.3,575.9 127.7,577.8 125.1,579.7 122.5,581.6 119.8,583.3 117.2,585.1 114.6,586.8 112.0,588.4 109.4,590.0 106.8,591.5 104.2,593.0 101.7,594.4 99.1,595.8 96.5,597.1 93.9,598.4 91.3,599.6 88.7,600.8 86.1,601.9 83.5,602.9 80.9,603.9 78.3,604.8 75.7,605.7 73.0,606.5 70.4,607.2 67.8,607.9Z" fill="url(#sc2)" stroke="url(#sc2)" stroke-width="0.9"/><linearGradient id="sc3" gradientUnits="userSpaceOnUse" x1="70.0" y1="608.5" x2="148.5" y2="563.3"><stop offset="0.000" stop-color="#141a67"/><stop offset="0.367" stop-color="#141a67"/><stop offset="0.432" stop-color="#18386f"/><stop offset="0.499" stop-color="#1e687b"/><stop offset="0.532" stop-color="#227878"/><stop offset="0.635" stop-color="#318549"/><stop offset="0.670" stop-color="#3c8c2e"/><stop offset="0.741" stop-color="#96932c"/><stop offset="0.850" stop-color="#9b4c37"/><stop offset="0.887" stop-color="#9b3f39"/><stop offset="1.000" stop-color="#9b3f39"/></linearGradient><path d="M67.8,607.9 70.4,607.2 73.0,606.5 75.7,605.7 78.3,604.8 80.9,603.9 83.5,602.9 86.1,601.9 88.7,600.8 91.3,599.6 93.9,598.4 96.5,597.1 99.1,595.8 101.7,594.4 104.2,593.0 106.8,591.5 109.4,590.0 112.0,588.4 114.6,586.8 117.2,585.1 119.8,583.3 122.5,581.6 125.1,579.7 127.7,577.8 130.3,575.9 133.0,573.9 135.6,571.9 138.3,569.8 140.9,567.7 143.6,565.5 146.3,563.3 150.7,563.4 148.0,565.6 145.3,567.8 142.7,570.0 140.0,572.1 137.3,574.2 134.7,576.2 132.1,578.2 129.5,580.1 126.8,582.0 124.2,583.8 121.6,585.6 119.0,587.3 116.4,589.0 113.8,590.6 111.2,592.2 108.6,593.7 106.0,595.1 103.4,596.6 100.8,597.9 98.3,599.2 95.7,600.5 93.1,601.7 90.5,602.8 87.9,603.9 85.3,604.9 82.7,605.8 80.1,606.7 77.4,607.6 74.8,608.4 72.2,609.1Z" fill="url(#sc3)" stroke="url(#sc3)" stroke-width="0.9"/><linearGradient id="sc4" gradientUnits="userSpaceOnUse" x1="74.4" y1="609.7" x2="152.9" y2="563.4"><stop offset="0.000" stop-color="#141a67"/><stop offset="0.366" stop-color="#151d68"/><stop offset="0.498" stop-color="#20767f"/><stop offset="0.635" stop-color="#35883c"/><stop offset="0.670" stop-color="#508e2e"/><stop offset="0.705" stop-color="#7e912d"/><stop offset="0.741" stop-color="#9b872e"/><stop offset="0.850" stop-color="#9b3f39"/><stop offset="1.000" stop-color="#9b3f39"/></linearGradient><path d="M72.2,609.1 74.8,608.4 77.4,607.6 80.1,606.7 82.7,605.8 85.3,604.9 87.9,603.9 90.5,602.8 93.1,601.7 95.7,600.5 98.3,599.2 100.8,597.9 103.4,596.6 106.0,595.1 108.6,593.7 111.2,592.2 113.8,590.6 116.4,589.0 119.0,587.3 121.6,585.6 124.2,583.8 126.8,582.0 129.5,580.1 132.1,578.2 134.7,576.2 137.3,574.2 140.0,572.1 142.7,570.0 145.3,567.8 148.0,565.6 150.7,563.4 155.1,563.5 152.4,565.7 149.7,568.0 147.0,570.2 144.4,572.3 141.7,574.4 139.1,576.5 136.5,578.5 133.8,580.4 131.2,582.4 128.6,584.2 126.0,586.0 123.4,587.8 120.8,589.5 118.2,591.2 115.6,592.8 113.0,594.3 110.4,595.8 107.8,597.3 105.2,598.7 102.6,600.0 100.0,601.3 97.5,602.5 94.9,603.7 92.3,604.8 89.7,605.9 87.1,606.9 84.5,607.8 81.9,608.7 79.2,609.5 76.6,610.3Z" fill="url(#sc4)" stroke="url(#sc4)" stroke-width="0.9"/><linearGradient id="sc5" gradientUnits="userSpaceOnUse" x1="78.8" y1="610.9" x2="157.3" y2="563.5"><stop offset="0.000" stop-color="#141a67"/><stop offset="0.334" stop-color="#141a67"/><stop offset="0.464" stop-color="#1f6d7d"/><stop offset="0.565" stop-color="#2d8155"/><stop offset="0.634" stop-color="#3b8c2e"/><stop offset="0.705" stop-color="#92932c"/><stop offset="0.813" stop-color="#9b4937"/><stop offset="0.887" stop-color="#9b3f39"/><stop offset="1.000" stop-color="#9b3f39"/></linearGradient><path d="M76.6,610.3 79.2,609.5 81.9,608.7 84.5,607.8 87.1,606.9 89.7,605.9 92.3,604.8 94.9,603.7 97.5,602.5 100.0,601.3 102.6,600.0 105.2,598.7 107.8,597.3 110.4,595.8 113.0,594.3 115.6,592.8 118.2,591.2 120.8,589.5 123.4,587.8 126.0,586.0 128.6,584.2 131.2,582.4 133.8,580.4 136.5,578.5 139.1,576.5 141.7,574.4 144.4,572.3 147.0,570.2 149.7,568.0 152.4,565.7 155.1,563.5 159.5,563.5 156.8,565.9 154.1,568.1 151.4,570.4 148.8,572.5 146.1,574.7 143.5,576.8 140.8,578.8 138.2,580.8 135.6,582.8 133.0,584.7 130.4,586.5 127.8,588.3 125.2,590.1 122.6,591.8 120.0,593.4 117.4,595.0 114.8,596.6 112.2,598.0 109.6,599.5 107.0,600.9 104.4,602.2 101.8,603.4 99.3,604.7 96.7,605.8 94.1,606.9 91.5,607.9 88.9,608.9 86.3,609.8 83.7,610.7 81.0,611.5Z" fill="url(#sc5)" stroke="url(#sc5)" stroke-width="0.9"/><linearGradient id="sc6" gradientUnits="userSpaceOnUse" x1="83.2" y1="612.1" x2="161.7" y2="563.6"><stop offset="0.000" stop-color="#141a67"/><stop offset="0.301" stop-color="#141a67"/><stop offset="0.365" stop-color="#18346e"/><stop offset="0.463" stop-color="#21777b"/><stop offset="0.599" stop-color="#35893a"/><stop offset="0.634" stop-color="#4f8e2e"/><stop offset="0.669" stop-color="#7c912d"/><stop offset="0.704" stop-color="#9b892e"/><stop offset="0.813" stop-color="#9b3f39"/><stop offset="1.000" stop-color="#9b3f39"/></linearGradient><path d="M81.0,611.5 83.7,610.7 86.3,609.8 88.9,608.9 91.5,607.9 94.1,606.9 96.7,605.8 99.3,604.7 101.8,603.4 104.4,602.2 107.0,600.9 109.6,599.5 112.2,598.0 114.8,596.6 117.4,595.0 120.0,593.4 122.6,591.8 125.2,590.1 127.8,588.3 130.4,586.5 133.0,584.7 135.6,582.8 138.2,580.8 140.8,578.8 143.5,576.8 146.1,574.7 148.8,572.5 151.4,570.4 154.1,568.1 156.8,565.9 159.5,563.5 163.9,563.6 161.2,566.0 158.5,568.3 155.8,570.5 153.2,572.8 150.5,574.9 147.9,577.1 145.2,579.1 142.6,581.2 140.0,583.2 137.4,585.1 134.7,587.0 132.1,588.8 129.5,590.6 126.9,592.4 124.3,594.0 121.8,595.7 119.2,597.3 116.6,598.8 114.0,600.3 111.4,601.7 108.8,603.0 106.2,604.3 103.7,605.6 101.1,606.8 98.5,607.9 95.9,609.0 93.3,610.0 90.7,611.0 88.1,611.8 85.5,612.7Z" fill="url(#sc6)" stroke="url(#sc6)" stroke-width="0.9"/><linearGradient id="sc7" gradientUnits="userSpaceOnUse" x1="87.7" y1="613.3" x2="166.1" y2="563.7"><stop offset="0.000" stop-color="#141a67"/><stop offset="0.301" stop-color="#151e68"/><stop offset="0.397" stop-color="#1c5677"/><stop offset="0.430" stop-color="#1f6f7d"/><stop offset="0.599" stop-color="#3d8c2e"/><stop offset="0.668" stop-color="#93932c"/><stop offset="0.776" stop-color="#9b4638"/><stop offset="0.924" stop-color="#9b3f39"/><stop offset="1.000" stop-color="#9b3f39"/></linearGradient><path d="M85.5,612.7 88.1,611.8 90.7,611.0 93.3,610.0 95.9,609.0 98.5,607.9 101.1,606.8 103.7,605.6 106.2,604.3 108.8,603.0 111.4,601.7 114.0,600.3 116.6,598.8 119.2,597.3 121.8,595.7 124.3,594.0 126.9,592.4 129.5,590.6 132.1,588.8 134.7,587.0 137.4,585.1 140.0,583.2 142.6,581.2 145.2,579.1 147.9,577.1 150.5,574.9 153.2,572.8 155.8,570.5 158.5,568.3 161.2,566.0 163.9,563.6 168.3,563.7 165.6,566.1 162.9,568.4 160.2,570.7 157.6,573.0 154.9,575.2 152.3,577.4 149.6,579.5 147.0,581.5 144.4,583.6 141.7,585.5 139.1,587.5 136.5,589.3 133.9,591.2 131.3,592.9 128.7,594.7 126.1,596.3 123.5,598.0 121.0,599.5 118.4,601.0 115.8,602.5 113.2,603.9 110.6,605.2 108.0,606.5 105.5,607.8 102.9,608.9 100.3,610.0 97.7,611.1 95.1,612.1 92.5,613.0 89.9,613.9Z" fill="url(#sc7)" stroke="url(#sc7)" stroke-width="0.9"/><linearGradient id="sc8" gradientUnits="userSpaceOnUse" x1="92.1" y1="614.5" x2="170.5" y2="563.7"><stop offset="0.000" stop-color="#141a67"/><stop offset="0.269" stop-color="#141b67"/><stop offset="0.364" stop-color="#1a4973"/><stop offset="0.429" stop-color="#227779"/><stop offset="0.564" stop-color="#368937"/><stop offset="0.598" stop-color="#528e2e"/><stop offset="0.633" stop-color="#7e912d"/><stop offset="0.668" stop-color="#9b872e"/><stop offset="0.739" stop-color="#9b5036"/><stop offset="0.776" stop-color="#9b3f39"/><stop offset="1.000" stop-color="#9b3f39"/></linearGradient><path d="M89.9,613.9 92.5,613.0 95.1,612.1 97.7,611.1 100.3,610.0 102.9,608.9 105.5,607.8 108.0,606.5 110.6,605.2 113.2,603.9 115.8,602.5 118.4,601.0 121.0,599.5 123.5,598.0 126.1,596.3 128.7,594.7 131.3,592.9 133.9,591.2 136.5,589.3 139.1,587.5 141.7,585.5 144.4,583.6 147.0,581.5 149.6,579.5 152.3,577.4 154.9,575.2 157.6,573.0 160.2,570.7 162.9,568.4 165.6,566.1 168.3,563.7 172.7,563.8 170.0,566.2 167.3,568.6 164.6,570.9 162.0,573.2 159.3,575.4 156.6,577.6 154.0,579.8 151.4,581.9 148.7,584.0 146.1,586.0 143.5,587.9 140.9,589.9 138.3,591.7 135.7,593.5 133.1,595.3 130.5,597.0 127.9,598.7 125.3,600.3 122.8,601.8 120.2,603.3 117.6,604.8 115.0,606.1 112.4,607.5 109.9,608.7 107.3,609.9 104.7,611.1 102.1,612.2 99.5,613.2 96.9,614.2 94.3,615.1Z" fill="url(#sc8)" stroke="url(#sc8)" stroke-width="0.9"/><linearGradient id="sc9" gradientUnits="userSpaceOnUse" x1="96.5" y1="615.7" x2="174.9" y2="563.8"><stop offset="0.000" stop-color="#141a67"/><stop offset="0.237" stop-color="#141a67"/><stop offset="0.331" stop-color="#193f71"/><stop offset="0.396" stop-color="#1f6e7d"/><stop offset="0.529" stop-color="#34873e"/><stop offset="0.563" stop-color="#408c2e"/><stop offset="0.633" stop-color="#95932c"/><stop offset="0.739" stop-color="#9b4338"/><stop offset="1.000" stop-color="#9b3f39"/></linearGradient><path d="M94.3,615.1 96.9,614.2 99.5,613.2 102.1,612.2 104.7,611.1 107.3,609.9 109.9,608.7 112.4,607.5 115.0,606.1 117.6,604.8 120.2,603.3 122.8,601.8 125.3,600.3 127.9,598.7 130.5,597.0 133.1,595.3 135.7,593.5 138.3,591.7 140.9,589.9 143.5,587.9 146.1,586.0 148.7,584.0 151.4,581.9 154.0,579.8 156.6,577.6 159.3,575.4 162.0,573.2 164.6,570.9 167.3,568.6 170.0,566.2 172.7,563.8 177.2,563.9 174.4,566.3 171.7,568.7 169.0,571.1 166.4,573.4 163.7,575.7 161.0,577.9 158.4,580.1 155.8,582.3 153.1,584.4 150.5,586.4 147.9,588.4 145.3,590.4 142.7,592.3 140.1,594.1 137.5,595.9 134.9,597.7 132.3,599.4 129.7,601.0 127.1,602.6 124.6,604.1 122.0,605.6 119.4,607.0 116.8,608.4 114.3,609.7 111.7,611.0 109.1,612.2 106.5,613.3 103.9,614.4 101.3,615.4 98.7,616.3Z" fill="url(#sc9)" stroke="url(#sc9)" stroke-width="0.9"/><linearGradient id="sc10" gradientUnits="userSpaceOnUse" x1="100.9" y1="616.9" x2="179.4" y2="563.9"><stop offset="0.000" stop-color="#141a67"/><stop offset="0.206" stop-color="#141a67"/><stop offset="0.331" stop-color="#1a4a73"/><stop offset="0.396" stop-color="#22777a"/><stop offset="0.495" stop-color="#338643"/><stop offset="0.529" stop-color="#388b32"/><stop offset="0.563" stop-color="#568e2d"/><stop offset="0.597" stop-color="#82912d"/><stop offset="0.632" stop-color="#9b832f"/><stop offset="0.703" stop-color="#9b4c37"/><stop offset="0.739" stop-color="#9b3f39"/><stop offset="1.000" stop-color="#9b3f39"/></linearGradient><path d="M98.7,616.3 101.3,615.4 103.9,614.4 106.5,613.3 109.1,612.2 111.7,611.0 114.3,609.7 116.8,608.4 119.4,607.0 122.0,605.6 124.6,604.1 127.1,602.6 129.7,601.0 132.3,599.4 134.9,597.7 137.5,595.9 140.1,594.1 142.7,592.3 145.3,590.4 147.9,588.4 150.5,586.4 153.1,584.4 155.8,582.3 158.4,580.1 161.0,577.9 163.7,575.7 166.4,573.4 169.0,571.1 171.7,568.7 174.4,566.3 177.2,563.9 181.6,564.0 178.9,566.4 176.1,568.9 173.4,571.3 170.8,573.6 168.1,576.0 165.4,578.2 162.8,580.4 160.1,582.6 157.5,584.8 154.9,586.8 152.3,588.9 149.7,590.9 147.1,592.8 144.5,594.7 141.9,596.5 139.3,598.3 136.7,600.1 134.1,601.8 131.5,603.4 129.0,605.0 126.4,606.5 123.8,607.9 121.2,609.3 118.7,610.7 116.1,612.0 113.5,613.2 110.9,614.4 108.3,615.5 105.7,616.5 103.1,617.5Z" fill="url(#sc10)" stroke="url(#sc10)" stroke-width="0.9"/><linearGradient id="sc11" gradientUnits="userSpaceOnUse" x1="105.4" y1="618.1" x2="183.8" y2="564.0"><stop offset="0.000" stop-color="#141a67"/><stop offset="0.175" stop-color="#141a67"/><stop offset="0.331" stop-color="#1c5677"/><stop offset="0.363" stop-color="#1f6e7d"/><stop offset="0.461" stop-color="#318548"/><stop offset="0.528" stop-color="#468d2e"/><stop offset="0.597" stop-color="#9b932c"/><stop offset="0.667" stop-color="#9b5436"/><stop offset="0.703" stop-color="#9b3f39"/><stop offset="1.000" stop-color="#9b3f39"/></linearGradient><path d="M103.1,617.5 105.7,616.5 108.3,615.5 110.9,614.4 113.5,613.2 116.1,612.0 118.7,610.7 121.2,609.3 123.8,607.9 126.4,606.5 129.0,605.0 131.5,603.4 134.1,601.8 136.7,600.1 139.3,598.3 141.9,596.5 144.5,594.7 147.1,592.8 149.7,590.9 152.3,588.9 154.9,586.8 157.5,584.8 160.1,582.6 162.8,580.4 165.4,578.2 168.1,576.0 170.8,573.6 173.4,571.3 176.1,568.9 178.9,566.4 181.6,564.0 186.0,564.0 183.3,566.6 180.6,569.0 177.9,571.5 175.2,573.9 172.5,576.2 169.8,578.5 167.2,580.8 164.5,583.0 161.9,585.2 159.3,587.3 156.7,589.4 154.0,591.4 151.4,593.4 148.8,595.3 146.3,597.2 143.7,599.0 141.1,600.8 138.5,602.5 135.9,604.2 133.3,605.8 130.8,607.3 128.2,608.8 125.6,610.3 123.1,611.7 120.5,613.0 117.9,614.3 115.3,615.5 112.7,616.6 110.2,617.7 107.6,618.8Z" fill="url(#sc11)" stroke="url(#sc11)" stroke-width="0.9"/><linearGradient id="sc12" gradientUnits="userSpaceOnUse" x1="109.8" y1="619.4" x2="188.2" y2="564.1"><stop offset="0.000" stop-color="#141a67"/><stop offset="0.145" stop-color="#141a67"/><stop offset="0.330" stop-color="#1e657b"/><stop offset="0.362" stop-color="#227779"/><stop offset="0.461" stop-color="#34873e"/><stop offset="0.494" stop-color="#3a8c2e"/><stop offset="0.562" stop-color="#87922d"/><stop offset="0.597" stop-color="#9b7d30"/><stop offset="0.667" stop-color="#9b4638"/><stop offset="0.886" stop-color="#9b3f39"/><stop offset="1.000" stop-color="#9b3f39"/></linearGradient><path d="M107.6,618.8 110.2,617.7 112.7,616.6 115.3,615.5 117.9,614.3 120.5,613.0 123.1,611.7 125.6,610.3 128.2,608.8 130.8,607.3 133.3,605.8 135.9,604.2 138.5,602.5 141.1,600.8 143.7,599.0 146.3,597.2 148.8,595.3 151.4,593.4 154.0,591.4 156.7,589.4 159.3,587.3 161.9,585.2 164.5,583.0 167.2,580.8 169.8,578.5 172.5,576.2 175.2,573.9 177.9,571.5 180.6,569.0 183.3,566.6 186.0,564.0 190.4,564.1 187.7,566.7 185.0,569.2 182.3,571.7 179.6,574.1 176.9,576.5 174.2,578.8 171.6,581.1 168.9,583.4 166.3,585.6 163.7,587.7 161.0,589.8 158.4,591.9 155.8,593.9 153.2,595.9 150.6,597.8 148.0,599.7 145.5,601.5 142.9,603.2 140.3,605.0 137.7,606.6 135.2,608.2 132.6,609.7 130.0,611.2 127.5,612.7 124.9,614.0 122.3,615.3 119.7,616.6 117.2,617.8 114.6,618.9 112.0,620.0Z" fill="url(#sc12)" stroke="url(#sc12)" stroke-width="0.9"/><linearGradient id="sc13" gradientUnits="userSpaceOnUse" x1="114.2" y1="620.6" x2="192.6" y2="564.2"><stop offset="0.000" stop-color="#141a67"/><stop offset="0.115" stop-color="#141b67"/><stop offset="0.330" stop-color="#20757f"/><stop offset="0.460" stop-color="#378a33"/><stop offset="0.494" stop-color="#4d8d2e"/><stop offset="0.562" stop-color="#9b8d2d"/><stop offset="0.631" stop-color="#9b4d37"/><stop offset="0.667" stop-color="#9b3f39"/><stop offset="1.000" stop-color="#9b3f39"/></linearGradient><path d="M112.0,620.0 114.6,618.9 117.2,617.8 119.7,616.6 122.3,615.3 124.9,614.0 127.5,612.7 130.0,611.2 132.6,609.7 135.2,608.2 137.7,606.6 140.3,605.0 142.9,603.2 145.5,601.5 148.0,599.7 150.6,597.8 153.2,595.9 155.8,593.9 158.4,591.9 161.0,589.8 163.7,587.7 166.3,585.6 168.9,583.4 171.6,581.1 174.2,578.8 176.9,576.5 179.6,574.1 182.3,571.7 185.0,569.2 187.7,566.7 190.4,564.1 194.9,564.2 192.1,566.8 189.4,569.3 186.7,571.8 184.0,574.3 181.3,576.7 178.6,579.1 176.0,581.4 173.3,583.7 170.7,586.0 168.1,588.2 165.4,590.3 162.8,592.4 160.2,594.5 157.6,596.5 155.0,598.4 152.4,600.3 149.9,602.2 147.3,604.0 144.7,605.7 142.1,607.4 139.6,609.1 137.0,610.7 134.4,612.2 131.9,613.7 129.3,615.1 126.7,616.4 124.1,617.7 121.6,618.9 119.0,620.1 116.4,621.2Z" fill="url(#sc13)" stroke="url(#sc13)" stroke-width="0.9"/><linearGradient id="sc14" gradientUnits="userSpaceOnUse" x1="118.6" y1="621.8" x2="197.1" y2="564.3"><stop offset="0.000" stop-color="#141a67"/><stop offset="0.086" stop-color="#151e68"/><stop offset="0.298" stop-color="#20747f"/><stop offset="0.427" stop-color="#368938"/><stop offset="0.460" stop-color="#448d2e"/><stop offset="0.527" stop-color="#8e922c"/><stop offset="0.562" stop-color="#9b7631"/><stop offset="0.631" stop-color="#9b3f39"/><stop offset="1.000" stop-color="#9b3f39"/></linearGradient><path d="M116.4,621.2 119.0,620.1 121.6,618.9 124.1,617.7 126.7,616.4 129.3,615.1 131.9,613.7 134.4,612.2 137.0,610.7 139.6,609.1 142.1,607.4 144.7,605.7 147.3,604.0 149.9,602.2 152.4,600.3 155.0,598.4 157.6,596.5 160.2,594.5 162.8,592.4 165.4,590.3 168.1,588.2 170.7,586.0 173.3,583.7 176.0,581.4 178.6,579.1 181.3,576.7 184.0,574.3 186.7,571.8 189.4,569.3 192.1,566.8 194.9,564.2 199.3,564.3 196.6,566.9 193.8,569.5 191.1,572.0 188.4,574.5 185.7,577.0 183.0,579.4 180.4,581.8 177.7,584.1 175.1,586.4 172.5,588.6 169.8,590.8 167.2,592.9 164.6,595.0 162.0,597.1 159.4,599.1 156.8,601.0 154.2,602.9 151.7,604.7 149.1,606.5 146.5,608.3 144.0,609.9 141.4,611.6 138.8,613.1 136.3,614.6 133.7,616.1 131.1,617.5 128.6,618.8 126.0,620.1 123.4,621.3 120.8,622.5Z" fill="url(#sc14)" stroke="url(#sc14)" stroke-width="0.9"/><linearGradient id="sc15" gradientUnits="userSpaceOnUse" x1="123.0" y1="623.1" x2="201.5" y2="564.3"><stop offset="0.000" stop-color="#141b67"/><stop offset="0.115" stop-color="#18346e"/><stop offset="0.266" stop-color="#20767f"/><stop offset="0.427" stop-color="#3d8c2e"/><stop offset="0.493" stop-color="#7b912d"/><stop offset="0.527" stop-color="#9b862e"/><stop offset="0.596" stop-color="#9b4538"/><stop offset="0.848" stop-color="#9b3f39"/><stop offset="1.000" stop-color="#9b3f39"/></linearGradient><path d="M120.8,622.5 123.4,621.3 126.0,620.1 128.6,618.8 131.1,617.5 133.7,616.1 136.3,614.6 138.8,613.1 141.4,611.6 144.0,609.9 146.5,608.3 149.1,606.5 151.7,604.7 154.2,602.9 156.8,601.0 159.4,599.1 162.0,597.1 164.6,595.0 167.2,592.9 169.8,590.8 172.5,588.6 175.1,586.4 177.7,584.1 180.4,581.8 183.0,579.4 185.7,577.0 188.4,574.5 191.1,572.0 193.8,569.5 196.6,566.9 199.3,564.3 203.7,564.4 201.0,567.0 198.3,569.6 195.5,572.2 192.8,574.7 190.1,577.2 187.5,579.7 184.8,582.1 182.1,584.5 179.5,586.8 176.8,589.0 174.2,591.3 171.6,593.4 169.0,595.6 166.4,597.7 163.8,599.7 161.2,601.7 158.6,603.6 156.1,605.5 153.5,607.3 150.9,609.1 148.3,610.8 145.8,612.5 143.2,614.1 140.7,615.6 138.1,617.1 135.5,618.6 133.0,619.9 130.4,621.3 127.8,622.5 125.3,623.7Z" fill="url(#sc15)" stroke="url(#sc15)" stroke-width="0.9"/><linearGradient id="sc16" gradientUnits="userSpaceOnUse" x1="127.5" y1="624.3" x2="206.0" y2="564.4"><stop offset="0.000" stop-color="#16266a"/><stop offset="0.115" stop-color="#1a4372"/><stop offset="0.235" stop-color="#21767d"/><stop offset="0.394" stop-color="#398b30"/><stop offset="0.460" stop-color="#6c902d"/><stop offset="0.493" stop-color="#95932c"/><stop offset="0.561" stop-color="#9b4e37"/><stop offset="0.596" stop-color="#9b3f39"/><stop offset="1.000" stop-color="#9b3f39"/></linearGradient><path d="M125.3,623.7 127.8,622.5 130.4,621.3 133.0,619.9 135.5,618.6 138.1,617.1 140.7,615.6 143.2,614.1 145.8,612.5 148.3,610.8 150.9,609.1 153.5,607.3 156.1,605.5 158.6,603.6 161.2,601.7 163.8,599.7 166.4,597.7 169.0,595.6 171.6,593.4 174.2,591.3 176.8,589.0 179.5,586.8 182.1,584.5 184.8,582.1 187.5,579.7 190.1,577.2 192.8,574.7 195.5,572.2 198.3,569.6 201.0,567.0 203.7,564.4 208.2,564.5 205.4,567.2 202.7,569.8 200.0,572.4 197.2,575.0 194.5,577.5 191.9,580.0 189.2,582.4 186.5,584.8 183.9,587.2 181.2,589.5 178.6,591.7 176.0,594.0 173.4,596.1 170.8,598.3 168.2,600.3 165.6,602.4 163.0,604.3 160.4,606.2 157.9,608.1 155.3,609.9 152.7,611.7 150.2,613.4 147.6,615.0 145.1,616.6 142.5,618.2 139.9,619.6 137.4,621.1 134.8,622.4 132.3,623.7 129.7,624.9Z" fill="url(#sc16)" stroke="url(#sc16)" stroke-width="0.9"/><linearGradient id="sc17" gradientUnits="userSpaceOnUse" x1="131.9" y1="625.6" x2="210.4" y2="564.5"><stop offset="0.000" stop-color="#18336e"/><stop offset="0.144" stop-color="#1d6079"/><stop offset="0.204" stop-color="#21777b"/><stop offset="0.361" stop-color="#388b33"/><stop offset="0.426" stop-color="#628f2d"/><stop offset="0.459" stop-color="#82912d"/><stop offset="0.493" stop-color="#9b822f"/><stop offset="0.561" stop-color="#9b3f39"/><stop offset="1.000" stop-color="#9b3f39"/></linearGradient><path d="M129.7,624.9 132.3,623.7 134.8,622.4 137.4,621.1 139.9,619.6 142.5,618.2 145.1,616.6 147.6,615.0 150.2,613.4 152.7,611.7 155.3,609.9 157.9,608.1 160.4,606.2 163.0,604.3 165.6,602.4 168.2,600.3 170.8,598.3 173.4,596.1 176.0,594.0 178.6,591.7 181.2,589.5 183.9,587.2 186.5,584.8 189.2,582.4 191.9,580.0 194.5,577.5 197.2,575.0 200.0,572.4 202.7,569.8 205.4,567.2 208.2,564.5 212.6,564.6 209.9,567.3 207.1,569.9 204.4,572.6 201.7,575.2 199.0,577.7 196.3,580.3 193.6,582.7 190.9,585.2 188.3,587.6 185.6,589.9 183.0,592.2 180.4,594.5 177.8,596.7 175.2,598.8 172.6,601.0 170.0,603.0 167.4,605.0 164.8,607.0 162.3,608.9 159.7,610.8 157.1,612.6 154.6,614.3 152.0,616.0 149.5,617.6 146.9,619.2 144.3,620.7 141.8,622.2 139.2,623.6 136.7,624.9 134.1,626.2Z" fill="url(#sc17)" stroke="url(#sc17)" stroke-width="0.9"/><linearGradient id="sc18" gradientUnits="userSpaceOnUse" x1="136.3" y1="626.8" x2="214.9" y2="564.6"><stop offset="0.000" stop-color="#1a4372"/><stop offset="0.174" stop-color="#227779"/><stop offset="0.329" stop-color="#378a36"/><stop offset="0.393" stop-color="#5b8e2d"/><stop offset="0.459" stop-color="#99932c"/><stop offset="0.527" stop-color="#9b4937"/><stop offset="0.595" stop-color="#9b3f39"/><stop offset="1.000" stop-color="#9b3f39"/></linearGradient><path d="M134.1,626.2 136.7,624.9 139.2,623.6 141.8,622.2 144.3,620.7 146.9,619.2 149.5,617.6 152.0,616.0 154.6,614.3 157.1,612.6 159.7,610.8 162.3,608.9 164.8,607.0 167.4,605.0 170.0,603.0 172.6,601.0 175.2,598.8 177.8,596.7 180.4,594.5 183.0,592.2 185.6,589.9 188.3,587.6 190.9,585.2 193.6,582.7 196.3,580.3 199.0,577.7 201.7,575.2 204.4,572.6 207.1,569.9 209.9,567.3 212.6,564.6 217.1,564.6 214.3,567.4 211.6,570.1 208.8,572.8 206.1,575.4 203.4,578.0 200.7,580.6 198.0,583.1 195.3,585.5 192.7,588.0 190.0,590.4 187.4,592.7 184.8,595.0 182.2,597.2 179.6,599.4 177.0,601.6 174.4,603.7 171.8,605.7 169.2,607.8 166.7,609.7 164.1,611.6 161.5,613.4 159.0,615.2 156.4,617.0 153.9,618.6 151.3,620.3 148.8,621.8 146.2,623.3 143.6,624.8 141.1,626.1 138.5,627.4Z" fill="url(#sc18)" stroke="url(#sc18)" stroke-width="0.9"/><linearGradient id="sc19" gradientUnits="userSpaceOnUse" x1="140.7" y1="628.1" x2="219.3" y2="564.7"><stop offset="0.000" stop-color="#1c5476"/><stop offset="0.114" stop-color="#20747f"/><stop offset="0.297" stop-color="#368938"/><stop offset="0.361" stop-color="#568e2d"/><stop offset="0.426" stop-color="#89922c"/><stop offset="0.459" stop-color="#9b7f2f"/><stop offset="0.493" stop-color="#9b5835"/><stop offset="0.526" stop-color="#9b3f39"/><stop offset="1.000" stop-color="#9b3f39"/></linearGradient><path d="M138.5,627.4 141.1,626.1 143.6,624.8 146.2,623.3 148.8,621.8 151.3,620.3 153.9,618.6 156.4,617.0 159.0,615.2 161.5,613.4 164.1,611.6 166.7,609.7 169.2,607.8 171.8,605.7 174.4,603.7 177.0,601.6 179.6,599.4 182.2,597.2 184.8,595.0 187.4,592.7 190.0,590.4 192.7,588.0 195.3,585.5 198.0,583.1 200.7,580.6 203.4,578.0 206.1,575.4 208.8,572.8 211.6,570.1 214.3,567.4 217.1,564.6 221.5,564.7 218.8,567.5 216.0,570.3 213.2,573.0 210.5,575.6 207.8,578.3 205.1,580.9 202.4,583.4 199.8,585.9 197.1,588.4 194.4,590.8 191.8,593.2 189.2,595.5 186.6,597.8 184.0,600.0 181.4,602.2 178.8,604.4 176.2,606.5 173.6,608.5 171.1,610.5 168.5,612.4 165.9,614.3 163.4,616.1 160.8,617.9 158.3,619.6 155.7,621.3 153.2,622.9 150.6,624.4 148.1,625.9 145.5,627.3 143.0,628.7Z" fill="url(#sc19)" stroke="url(#sc19)" stroke-width="0.9"/><linearGradient id="sc20" gradientUnits="userSpaceOnUse" x1="145.2" y1="629.3" x2="223.8" y2="564.8"><stop offset="0.000" stop-color="#1e647a"/><stop offset="0.085" stop-color="#22777a"/><stop offset="0.297" stop-color="#408c2e"/><stop offset="0.393" stop-color="#7e912d"/><stop offset="0.426" stop-color="#9b8f2d"/><stop offset="0.492" stop-color="#9b4538"/><stop offset="0.885" stop-color="#9b3f39"/><stop offset="1.000" stop-color="#9b3f39"/></linearGradient><path d="M143.0,628.7 145.5,627.3 148.1,625.9 150.6,624.4 153.2,622.9 155.7,621.3 158.3,619.6 160.8,617.9 163.4,616.1 165.9,614.3 168.5,612.4 171.1,610.5 173.6,608.5 176.2,606.5 178.8,604.4 181.4,602.2 184.0,600.0 186.6,597.8 189.2,595.5 191.8,593.2 194.4,590.8 197.1,588.4 199.8,585.9 202.4,583.4 205.1,580.9 207.8,578.3 210.5,575.6 213.2,573.0 216.0,570.3 218.8,567.5 221.5,564.7 226.0,564.8 223.2,567.6 220.4,570.4 217.7,573.2 214.9,575.9 212.2,578.5 209.5,581.1 206.8,583.7 204.2,586.3 201.5,588.8 198.9,591.2 196.2,593.7 193.6,596.0 191.0,598.4 188.4,600.6 185.8,602.9 183.2,605.0 180.6,607.2 178.0,609.3 175.4,611.3 172.9,613.3 170.3,615.2 167.8,617.1 165.2,618.9 162.7,620.6 160.1,622.3 157.6,624.0 155.0,625.6 152.5,627.1 149.9,628.6 147.4,630.0Z" fill="url(#sc20)" stroke="url(#sc20)" stroke-width="0.9"/><linearGradient id="sc21" gradientUnits="userSpaceOnUse" x1="149.6" y1="630.6" x2="228.2" y2="564.9"><stop offset="0.000" stop-color="#20727e"/><stop offset="0.174" stop-color="#2e8253"/><stop offset="0.265" stop-color="#3f8c2e"/><stop offset="0.393" stop-color="#90922c"/><stop offset="0.426" stop-color="#9b7c30"/><stop offset="0.459" stop-color="#9b5536"/><stop offset="0.492" stop-color="#9b3f39"/><stop offset="1.000" stop-color="#9b3f39"/></linearGradient><path d="M147.4,630.0 149.9,628.6 152.5,627.1 155.0,625.6 157.6,624.0 160.1,622.3 162.7,620.6 165.2,618.9 167.8,617.1 170.3,615.2 172.9,613.3 175.4,611.3 178.0,609.3 180.6,607.2 183.2,605.0 185.8,602.9 188.4,600.6 191.0,598.4 193.6,596.0 196.2,593.7 198.9,591.2 201.5,588.8 204.2,586.3 206.8,583.7 209.5,581.1 212.2,578.5 214.9,575.9 217.7,573.2 220.4,570.4 223.2,567.6 226.0,564.8 230.4,564.9 227.7,567.8 224.9,570.6 222.1,573.3 219.4,576.1 216.7,578.8 213.9,581.4 211.3,584.1 208.6,586.6 205.9,589.2 203.3,591.7 200.6,594.1 198.0,596.5 195.4,598.9 192.8,601.2 190.2,603.5 187.6,605.7 185.0,607.9 182.4,610.0 179.8,612.1 177.3,614.1 174.7,616.1 172.2,618.0 169.6,619.9 167.1,621.7 164.5,623.4 162.0,625.1 159.4,626.7 156.9,628.3 154.3,629.8 151.8,631.2Z" fill="url(#sc21)" stroke="url(#sc21)" stroke-width="0.9"/><linearGradient id="sc22" gradientUnits="userSpaceOnUse" x1="154.0" y1="631.9" x2="232.7" y2="565.0"><stop offset="0.000" stop-color="#237877"/><stop offset="0.204" stop-color="#368939"/><stop offset="0.265" stop-color="#528e2e"/><stop offset="0.360" stop-color="#87922d"/><stop offset="0.393" stop-color="#9b8a2e"/><stop offset="0.459" stop-color="#9b4139"/><stop offset="1.000" stop-color="#9b3f39"/></linearGradient><path d="M151.8,631.2 154.3,629.8 156.9,628.3 159.4,626.7 162.0,625.1 164.5,623.4 167.1,621.7 169.6,619.9 172.2,618.0 174.7,616.1 177.3,614.1 179.8,612.1 182.4,610.0 185.0,607.9 187.6,605.7 190.2,603.5 192.8,601.2 195.4,598.9 198.0,596.5 200.6,594.1 203.3,591.7 205.9,589.2 208.6,586.6 211.3,584.1 213.9,581.4 216.7,578.8 219.4,576.1 222.1,573.3 224.9,570.6 227.7,567.8 230.4,564.9 234.9,565.0 232.1,567.9 229.3,570.7 226.6,573.5 223.8,576.3 221.1,579.0 218.4,581.7 215.7,584.4 213.0,587.0 210.3,589.6 207.7,592.1 205.0,594.6 202.4,597.1 199.8,599.5 197.2,601.8 194.6,604.1 192.0,606.4 189.4,608.6 186.8,610.8 184.2,612.9 181.7,615.0 179.1,617.0 176.6,618.9 174.0,620.8 171.5,622.7 168.9,624.5 166.4,626.2 163.8,627.9 161.3,629.5 158.8,631.0 156.2,632.5Z" fill="url(#sc22)" stroke="url(#sc22)" stroke-width="0.9"/><linearGradient id="sc23" gradientUnits="userSpaceOnUse" x1="158.4" y1="633.1" x2="237.1" y2="565.1"><stop offset="0.000" stop-color="#267b6c"/><stop offset="0.204" stop-color="#3d8c2e"/><stop offset="0.360" stop-color="#9b932c"/><stop offset="0.426" stop-color="#9b5236"/><stop offset="0.459" stop-color="#9b3f39"/><stop offset="1.000" stop-color="#9b3f39"/></linearGradient><path d="M156.2,632.5 158.8,631.0 161.3,629.5 163.8,627.9 166.4,626.2 168.9,624.5 171.5,622.7 174.0,620.8 176.6,618.9 179.1,617.0 181.7,615.0 184.2,612.9 186.8,610.8 189.4,608.6 192.0,606.4 194.6,604.1 197.2,601.8 199.8,599.5 202.4,597.1 205.0,594.6 207.7,592.1 210.3,589.6 213.0,587.0 215.7,584.4 218.4,581.7 221.1,579.0 223.8,576.3 226.6,573.5 229.3,570.7 232.1,567.9 234.9,565.0 239.4,565.1 236.6,568.0 233.8,570.9 231.0,573.7 228.3,576.5 225.5,579.3 222.8,582.0 220.1,584.7 217.4,587.4 214.7,590.0 212.1,592.6 209.4,595.1 206.8,597.6 204.2,600.0 201.6,602.4 199.0,604.8 196.4,607.1 193.8,609.3 191.2,611.5 188.6,613.7 186.1,615.8 183.5,617.9 181.0,619.9 178.4,621.8 175.9,623.7 173.3,625.5 170.8,627.3 168.3,629.0 165.7,630.7 163.2,632.3 160.7,633.8Z" fill="url(#sc23)" stroke="url(#sc23)" stroke-width="0.9"/><path d="M388.6,640.9 L383.7,519.3 M401.6,609.4 L398.6,517.2 M415.7,606.8 L413.5,515.2 M429.9,604.1 L428.4,513.1 M444.0,601.4 L443.3,511.0 M458.2,598.8 L458.2,508.9 M472.3,596.1 L473.1,506.9 M486.0,621.0 L488.0,504.8 M387.4,612.1 L486.5,593.5 M386.9,598.8 L486.7,580.8 M386.4,585.6 L486.9,568.1 M385.8,572.3 L487.1,555.5 M385.3,559.1 L487.3,542.8 M384.8,545.8 L487.6,530.1 M384.2,532.6 L487.8,517.5 M383.7,519.3 L488.0,504.8" stroke="#4a4a4a" stroke-width="0.55" fill="none"/><path d="M486.0,621.0 L488.0,504.8 M497.9,596.4 L499.8,506.9 M509.4,599.4 L511.6,509.0 M520.8,602.4 L523.4,511.1 M532.3,605.4 L535.2,513.2 M543.8,608.4 L547.0,515.4 M555.2,611.3 L558.8,517.5 M566.7,614.3 L570.6,519.6 M576.8,647.0 L582.4,521.7 M486.5,593.5 L578.1,617.3 M486.7,580.8 L578.7,603.6 M486.9,568.1 L579.3,590.0 M487.1,555.5 L580.0,576.3 M487.3,542.8 L580.6,562.7 M487.6,530.1 L581.2,549.0 M487.8,517.5 L581.8,535.4 M488.0,504.8 L582.4,521.7" stroke="#4a4a4a" stroke-width="0.55" fill="none"/><text x="379.5" y="518.5" font-family="Liberation Sans" font-size="6.2" fill="#333" text-anchor="end">0.0012</text><path d="M383.7,519.3h-1.8" stroke="#222" stroke-width="0.9"/><text x="380.0" y="531.8" font-family="Liberation Sans" font-size="6.2" fill="#333" text-anchor="end">0.001</text><path d="M384.2,532.6h-1.8" stroke="#222" stroke-width="0.9"/><text x="380.6" y="545.0" font-family="Liberation Sans" font-size="6.2" fill="#333" text-anchor="end">0.0008</text><path d="M384.8,545.8h-1.8" stroke="#222" stroke-width="0.9"/><text x="381.1" y="558.3" font-family="Liberation Sans" font-size="6.2" fill="#333" text-anchor="end">0.0006</text><path d="M385.3,559.1h-1.8" stroke="#222" stroke-width="0.9"/><text x="381.6" y="571.5" font-family="Liberation Sans" font-size="6.2" fill="#333" text-anchor="end">0.0004</text><path d="M385.8,572.3h-1.8" stroke="#222" stroke-width="0.9"/><text x="382.2" y="584.8" font-family="Liberation Sans" font-size="6.2" fill="#333" text-anchor="end">0.0002</text><path d="M386.4,585.6h-1.8" stroke="#222" stroke-width="0.9"/><text x="382.7" y="598.0" font-family="Liberation Sans" font-size="6.2" fill="#333" text-anchor="end">0</text><path d="M386.9,598.8h-1.8" stroke="#222" stroke-width="0.9"/><text x="383.2" y="611.3" font-family="Liberation Sans" font-size="6.2" fill="#333" text-anchor="end">-0.0002</text><path d="M387.4,612.1h-1.8" stroke="#222" stroke-width="0.9"/><path d="M388.6,640.9 L476.5,681.3 L576.8,647.0 L486.0,621.0 Z" fill="#ffff00" stroke="#333" stroke-width="0.4"/><path d="M388.6,640.9 l-2.2,-0.2 M399.6,646.0 l-2.2,-0.0 M410.6,651.0 l-2.2,0.1 M421.6,656.0 l-2.2,0.3 M432.6,661.1 l-2.1,0.6 M443.5,666.1 l-2.0,1.0 M454.5,671.2 l-1.7,1.4 M465.5,676.2 l-1.1,1.9 M476.5,681.3 l-0.4,2.2 M476.5,681.3 l-0.4,2.2 M490.8,676.4 l0.6,2.1 M505.2,671.5 l1.5,1.6 M519.5,666.6 l2.0,1.0 M533.8,661.7 l2.1,0.6 M548.1,656.8 l2.2,0.3 M562.5,651.9 l2.2,0.1 M576.8,647.0 l2.2,-0.0" stroke="#222" stroke-width="0.8" fill="none"/><path d="M495.4,623.7 485.2,621.2" fill="none" stroke="#ff0000" stroke-width="0.6"/><path d="M576.4,647.1 476.3,623.0" fill="none" stroke="#ff0000" stroke-width="0.6"/><path d="M565.1,651.0 466.2,625.1" fill="none" stroke="#ff0000" stroke-width="0.6"/><path d="M551.0,655.8 454.4,627.5" fill="none" stroke="#ff0000" stroke-width="0.6"/><path d="M531.6,662.5 440.0,630.4" fill="none" stroke="#52ff00" stroke-width="0.6"/><path d="M419.1,634.7 422.6,636.4 427.5,638.7 433.3,641.5 439.2,644.3 444.3,647.0 448.1,649.1 450.4,650.6 451.9,651.8 452.7,652.8 453.0,653.6 453.1,654.4 453.1,655.2 453.1,656.1 452.8,656.9 452.3,657.8 451.5,658.5 450.3,659.1 448.7,659.6 446.3,659.9 443.1,660.1 439.5,660.1 436.0,660.0 433.0,660.0 430.9,659.9" fill="none" stroke="#4a4a5a" stroke-width="0.6"/><linearGradient id="sd23" gradientUnits="userSpaceOnUse" x1="489.2" y1="548.2" x2="389.0" y2="604.0"><stop offset="0.000" stop-color="#9b3f39"/><stop offset="0.373" stop-color="#9b3f39"/><stop offset="0.443" stop-color="#9b8c2d"/><stop offset="0.544" stop-color="#398b30"/><stop offset="0.642" stop-color="#22777a"/><stop offset="0.737" stop-color="#193b70"/><stop offset="0.857" stop-color="#151e68"/><stop offset="1.000" stop-color="#141a67"/></linearGradient><path d="M491.1,548.9 487.7,552.0 484.3,555.0 480.9,557.9 477.5,560.7 474.1,563.5 470.7,566.2 467.3,568.7 463.9,571.2 460.6,573.7 457.2,576.0 453.9,578.3 450.5,580.4 447.2,582.5 443.9,584.5 440.5,586.4 437.2,588.3 433.9,590.0 430.6,591.7 427.3,593.2 424.0,594.7 420.7,596.1 417.3,597.4 414.0,598.6 410.7,599.8 407.4,600.8 404.1,601.8 400.8,602.6 397.5,603.4 394.2,604.0 390.8,604.6 387.1,603.4 390.4,602.8 393.7,602.1 397.0,601.3 400.3,600.4 403.7,599.5 407.0,598.5 410.3,597.3 413.6,596.1 416.9,594.8 420.2,593.4 423.5,591.9 426.8,590.3 430.1,588.7 433.4,586.9 436.7,585.1 440.1,583.2 443.4,581.2 446.7,579.1 450.1,576.9 453.4,574.6 456.7,572.3 460.1,569.9 463.5,567.4 466.8,564.8 470.2,562.1 473.6,559.3 477.0,556.5 480.4,553.6 483.8,550.6 487.3,547.5Z" fill="url(#sd23)" stroke="url(#sd23)" stroke-width="0.9"/><linearGradient id="sd22" gradientUnits="userSpaceOnUse" x1="493.1" y1="549.6" x2="392.7" y2="605.2"><stop offset="0.000" stop-color="#9b3f39"/><stop offset="0.373" stop-color="#9b3f39"/><stop offset="0.443" stop-color="#9b8c2d"/><stop offset="0.544" stop-color="#398c2e"/><stop offset="0.642" stop-color="#237877"/><stop offset="0.768" stop-color="#17316d"/><stop offset="0.916" stop-color="#151d68"/><stop offset="1.000" stop-color="#141a67"/></linearGradient><path d="M495.0,550.3 491.6,553.4 488.1,556.4 484.7,559.3 481.3,562.1 477.9,564.9 474.5,567.5 471.1,570.1 467.8,572.6 464.4,575.0 461.1,577.4 457.7,579.6 454.4,581.8 451.0,583.9 447.7,585.9 444.4,587.8 441.0,589.6 437.7,591.4 434.4,593.0 431.1,594.6 427.7,596.0 424.4,597.4 421.1,598.7 417.8,599.9 414.5,601.1 411.2,602.1 407.9,603.0 404.5,603.9 401.2,604.6 397.9,605.3 394.6,605.9 390.8,604.6 394.2,604.0 397.5,603.4 400.8,602.6 404.1,601.8 407.4,600.8 410.7,599.8 414.0,598.6 417.3,597.4 420.7,596.1 424.0,594.7 427.3,593.2 430.6,591.7 433.9,590.0 437.2,588.3 440.5,586.4 443.9,584.5 447.2,582.5 450.5,580.4 453.9,578.3 457.2,576.0 460.6,573.7 463.9,571.2 467.3,568.7 470.7,566.2 474.1,563.5 477.5,560.7 480.9,557.9 484.3,555.0 487.7,552.0 491.1,548.9Z" fill="url(#sd22)" stroke="url(#sd22)" stroke-width="0.9"/><linearGradient id="sd21" gradientUnits="userSpaceOnUse" x1="496.9" y1="551.0" x2="396.4" y2="606.5"><stop offset="0.000" stop-color="#9b3f39"/><stop offset="0.373" stop-color="#9b3f39"/><stop offset="0.443" stop-color="#9b8a2e"/><stop offset="0.511" stop-color="#5f8f2d"/><stop offset="0.544" stop-color="#3c8c2e"/><stop offset="0.642" stop-color="#247974"/><stop offset="0.674" stop-color="#1f697c"/><stop offset="0.768" stop-color="#18336e"/><stop offset="0.916" stop-color="#151f68"/><stop offset="1.000" stop-color="#141a67"/></linearGradient><path d="M498.9,551.7 495.4,554.8 492.0,557.7 488.6,560.7 485.2,563.5 481.8,566.2 478.4,568.9 475.0,571.5 471.6,574.0 468.2,576.4 464.9,578.7 461.5,581.0 458.2,583.1 454.8,585.2 451.5,587.2 448.2,589.1 444.8,590.9 441.5,592.7 438.2,594.3 434.8,595.9 431.5,597.4 428.2,598.7 424.9,600.0 421.6,601.2 418.3,602.3 414.9,603.4 411.6,604.3 408.3,605.1 405.0,605.9 401.6,606.5 398.3,607.1 394.6,605.9 397.9,605.3 401.2,604.6 404.5,603.9 407.9,603.0 411.2,602.1 414.5,601.1 417.8,599.9 421.1,598.7 424.4,597.4 427.7,596.0 431.1,594.6 434.4,593.0 437.7,591.4 441.0,589.6 444.4,587.8 447.7,585.9 451.0,583.9 454.4,581.8 457.7,579.6 461.1,577.4 464.4,575.0 467.8,572.6 471.1,570.1 474.5,567.5 477.9,564.9 481.3,562.1 484.7,559.3 488.1,556.4 491.6,553.4 495.0,550.3Z" fill="url(#sd21)" stroke="url(#sd21)" stroke-width="0.9"/><linearGradient id="sd20" gradientUnits="userSpaceOnUse" x1="500.8" y1="552.4" x2="400.2" y2="607.7"><stop offset="0.000" stop-color="#9b3f39"/><stop offset="0.373" stop-color="#9b3f39"/><stop offset="0.442" stop-color="#9b882e"/><stop offset="0.511" stop-color="#628f2d"/><stop offset="0.544" stop-color="#3e8c2e"/><stop offset="0.642" stop-color="#247a71"/><stop offset="0.674" stop-color="#1f6d7d"/><stop offset="0.768" stop-color="#18376f"/><stop offset="0.916" stop-color="#152169"/><stop offset="1.000" stop-color="#141a67"/></linearGradient><path d="M502.7,553.1 499.3,556.1 495.9,559.1 492.4,562.0 489.0,564.8 485.6,567.6 482.2,570.2 478.8,572.8 475.4,575.3 472.1,577.7 468.7,580.0 465.3,582.3 462.0,584.4 458.6,586.5 455.3,588.5 452.0,590.4 448.6,592.2 445.3,594.0 442.0,595.6 438.6,597.2 435.3,598.6 432.0,600.0 428.7,601.3 425.3,602.5 422.0,603.6 418.7,604.6 415.4,605.5 412.0,606.4 408.7,607.1 405.4,607.8 402.1,608.3 398.3,607.1 401.6,606.5 405.0,605.9 408.3,605.1 411.6,604.3 414.9,603.4 418.3,602.3 421.6,601.2 424.9,600.0 428.2,598.7 431.5,597.4 434.8,595.9 438.2,594.3 441.5,592.7 444.8,590.9 448.2,589.1 451.5,587.2 454.8,585.2 458.2,583.1 461.5,581.0 464.9,578.7 468.2,576.4 471.6,574.0 475.0,571.5 478.4,568.9 481.8,566.2 485.2,563.5 488.6,560.7 492.0,557.7 495.4,554.8 498.9,551.7Z" fill="url(#sd20)" stroke="url(#sd20)" stroke-width="0.9"/><linearGradient id="sd19" gradientUnits="userSpaceOnUse" x1="504.7" y1="553.8" x2="403.9" y2="608.9"><stop offset="0.000" stop-color="#9b3f39"/><stop offset="0.373" stop-color="#9b3f39"/><stop offset="0.442" stop-color="#9b862e"/><stop offset="0.477" stop-color="#86922d"/><stop offset="0.544" stop-color="#418c2e"/><stop offset="0.674" stop-color="#20717e"/><stop offset="0.768" stop-color="#193b70"/><stop offset="0.916" stop-color="#152369"/><stop offset="1.000" stop-color="#141a67"/></linearGradient><path d="M506.6,554.4 503.1,557.5 499.7,560.5 496.3,563.3 492.9,566.2 489.5,568.9 486.1,571.6 482.7,574.1 479.3,576.6 475.9,579.0 472.5,581.4 469.2,583.6 465.8,585.8 462.5,587.8 459.1,589.8 455.8,591.7 452.4,593.5 449.1,595.3 445.8,596.9 442.4,598.5 439.1,599.9 435.8,601.3 432.4,602.6 429.1,603.8 425.8,604.9 422.5,605.9 419.1,606.8 415.8,607.6 412.5,608.3 409.1,608.9 405.8,609.5 402.1,608.3 405.4,607.8 408.7,607.1 412.0,606.4 415.4,605.5 418.7,604.6 422.0,603.6 425.3,602.5 428.7,601.3 432.0,600.0 435.3,598.6 438.6,597.2 442.0,595.6 445.3,594.0 448.6,592.2 452.0,590.4 455.3,588.5 458.6,586.5 462.0,584.4 465.3,582.3 468.7,580.0 472.1,577.7 475.4,575.3 478.8,572.8 482.2,570.2 485.6,567.6 489.0,564.8 492.4,562.0 495.9,559.1 499.3,556.1 502.7,553.1Z" fill="url(#sd19)" stroke="url(#sd19)" stroke-width="0.9"/><linearGradient id="sd18" gradientUnits="userSpaceOnUse" x1="508.5" y1="555.1" x2="407.7" y2="610.1"><stop offset="0.000" stop-color="#9b3f39"/><stop offset="0.373" stop-color="#9b3f39"/><stop offset="0.442" stop-color="#9b842e"/><stop offset="0.477" stop-color="#89922c"/><stop offset="0.544" stop-color="#438d2e"/><stop offset="0.642" stop-color="#267b6b"/><stop offset="0.674" stop-color="#20757f"/><stop offset="0.768" stop-color="#193f71"/><stop offset="0.916" stop-color="#16256a"/><stop offset="1.000" stop-color="#151c68"/></linearGradient><path d="M510.5,555.8 507.0,558.8 503.6,561.8 500.1,564.7 496.7,567.5 493.3,570.2 489.9,572.9 486.5,575.4 483.1,577.9 479.7,580.3 476.4,582.6 473.0,584.9 469.6,587.0 466.3,589.1 462.9,591.1 459.6,593.0 456.2,594.8 452.9,596.5 449.5,598.2 446.2,599.7 442.9,601.2 439.5,602.5 436.2,603.8 432.9,605.0 429.5,606.1 426.2,607.1 422.9,608.0 419.6,608.8 416.2,609.5 412.9,610.1 409.5,610.6 405.8,609.5 409.1,608.9 412.5,608.3 415.8,607.6 419.1,606.8 422.5,605.9 425.8,604.9 429.1,603.8 432.4,602.6 435.8,601.3 439.1,599.9 442.4,598.5 445.8,596.9 449.1,595.3 452.4,593.5 455.8,591.7 459.1,589.8 462.5,587.8 465.8,585.8 469.2,583.6 472.5,581.4 475.9,579.0 479.3,576.6 482.7,574.1 486.1,571.6 489.5,568.9 492.9,566.2 496.3,563.3 499.7,560.5 503.1,557.5 506.6,554.4Z" fill="url(#sd18)" stroke="url(#sd18)" stroke-width="0.9"/><linearGradient id="sd17" gradientUnits="userSpaceOnUse" x1="512.4" y1="556.4" x2="411.4" y2="611.2"><stop offset="0.000" stop-color="#9b3f39"/><stop offset="0.373" stop-color="#9b3f39"/><stop offset="0.442" stop-color="#9b822f"/><stop offset="0.477" stop-color="#8b922c"/><stop offset="0.544" stop-color="#468d2e"/><stop offset="0.610" stop-color="#2e8253"/><stop offset="0.674" stop-color="#21767c"/><stop offset="0.768" stop-color="#1a4372"/><stop offset="0.916" stop-color="#16276a"/><stop offset="1.000" stop-color="#151e68"/></linearGradient><path d="M514.3,557.1 510.9,560.1 507.4,563.1 504.0,566.0 500.6,568.8 497.1,571.5 493.7,574.2 490.3,576.7 486.9,579.2 483.6,581.6 480.2,583.9 476.8,586.2 473.4,588.3 470.1,590.4 466.7,592.4 463.4,594.3 460.0,596.1 456.7,597.8 453.3,599.4 450.0,601.0 446.7,602.4 443.3,603.8 440.0,605.0 436.6,606.2 433.3,607.3 430.0,608.3 426.6,609.2 423.3,610.0 420.0,610.7 416.6,611.3 413.3,611.8 409.5,610.6 412.9,610.1 416.2,609.5 419.6,608.8 422.9,608.0 426.2,607.1 429.5,606.1 432.9,605.0 436.2,603.8 439.5,602.5 442.9,601.2 446.2,599.7 449.5,598.2 452.9,596.5 456.2,594.8 459.6,593.0 462.9,591.1 466.3,589.1 469.6,587.0 473.0,584.9 476.4,582.6 479.7,580.3 483.1,577.9 486.5,575.4 489.9,572.9 493.3,570.2 496.7,567.5 500.1,564.7 503.6,561.8 507.0,558.8 510.5,555.8Z" fill="url(#sd17)" stroke="url(#sd17)" stroke-width="0.9"/><linearGradient id="sd16" gradientUnits="userSpaceOnUse" x1="516.2" y1="557.8" x2="415.2" y2="612.3"><stop offset="0.000" stop-color="#9b3f39"/><stop offset="0.372" stop-color="#9b3f39"/><stop offset="0.442" stop-color="#9b802f"/><stop offset="0.477" stop-color="#8e922c"/><stop offset="0.544" stop-color="#488d2e"/><stop offset="0.577" stop-color="#35883b"/><stop offset="0.674" stop-color="#227779"/><stop offset="0.798" stop-color="#193d70"/><stop offset="1.000" stop-color="#152169"/></linearGradient><path d="M518.2,558.4 514.7,561.4 511.3,564.4 507.8,567.3 504.4,570.1 501.0,572.8 497.6,575.4 494.2,578.0 490.8,580.5 487.4,582.9 484.0,585.2 480.6,587.4 477.3,589.6 473.9,591.6 470.5,593.6 467.2,595.5 463.8,597.3 460.5,599.0 457.1,600.6 453.8,602.2 450.4,603.6 447.1,605.0 443.8,606.2 440.4,607.4 437.1,608.5 433.7,609.4 430.4,610.3 427.1,611.1 423.7,611.8 420.4,612.4 417.0,612.9 413.3,611.8 416.6,611.3 420.0,610.7 423.3,610.0 426.6,609.2 430.0,608.3 433.3,607.3 436.6,606.2 440.0,605.0 443.3,603.8 446.7,602.4 450.0,601.0 453.3,599.4 456.7,597.8 460.0,596.1 463.4,594.3 466.7,592.4 470.1,590.4 473.4,588.3 476.8,586.2 480.2,583.9 483.6,581.6 486.9,579.2 490.3,576.7 493.7,574.2 497.1,571.5 500.6,568.8 504.0,566.0 507.4,563.1 510.9,560.1 514.3,557.1Z" fill="url(#sd16)" stroke="url(#sd16)" stroke-width="0.9"/><linearGradient id="sd15" gradientUnits="userSpaceOnUse" x1="520.1" y1="559.1" x2="418.9" y2="613.5"><stop offset="0.000" stop-color="#9b3f39"/><stop offset="0.372" stop-color="#9b3f39"/><stop offset="0.442" stop-color="#9b7e2f"/><stop offset="0.476" stop-color="#90922c"/><stop offset="0.544" stop-color="#4b8d2e"/><stop offset="0.577" stop-color="#368938"/><stop offset="0.674" stop-color="#237876"/><stop offset="0.737" stop-color="#1c5977"/><stop offset="0.858" stop-color="#18346e"/><stop offset="1.000" stop-color="#16246a"/></linearGradient><path d="M522.0,559.7 518.6,562.7 515.1,565.7 511.7,568.6 508.3,571.4 504.8,574.1 501.4,576.7 498.0,579.3 494.6,581.7 491.2,584.1 487.8,586.5 484.4,588.7 481.1,590.8 477.7,592.9 474.3,594.8 471.0,596.7 467.6,598.5 464.3,600.2 460.9,601.9 457.6,603.4 454.2,604.8 450.9,606.2 447.5,607.4 444.2,608.6 440.8,609.6 437.5,610.6 434.2,611.5 430.8,612.3 427.5,612.9 424.1,613.5 420.8,614.0 417.0,612.9 420.4,612.4 423.7,611.8 427.1,611.1 430.4,610.3 433.7,609.4 437.1,608.5 440.4,607.4 443.8,606.2 447.1,605.0 450.4,603.6 453.8,602.2 457.1,600.6 460.5,599.0 463.8,597.3 467.2,595.5 470.5,593.6 473.9,591.6 477.3,589.6 480.6,587.4 484.0,585.2 487.4,582.9 490.8,580.5 494.2,578.0 497.6,575.4 501.0,572.8 504.4,570.1 507.8,567.3 511.3,564.4 514.7,561.4 518.2,558.4Z" fill="url(#sd15)" stroke="url(#sd15)" stroke-width="0.9"/><linearGradient id="sd14" gradientUnits="userSpaceOnUse" x1="524.0" y1="560.4" x2="422.6" y2="614.5"><stop offset="0.000" stop-color="#9b3f39"/><stop offset="0.372" stop-color="#9b3f39"/><stop offset="0.476" stop-color="#93932c"/><stop offset="0.544" stop-color="#4d8d2e"/><stop offset="0.577" stop-color="#378a36"/><stop offset="0.674" stop-color="#247973"/><stop offset="0.706" stop-color="#1f6f7d"/><stop offset="0.798" stop-color="#1a4572"/><stop offset="1.000" stop-color="#16286b"/></linearGradient><path d="M525.9,561.0 522.4,564.0 519.0,567.0 515.5,569.8 512.1,572.6 508.7,575.3 505.3,578.0 501.8,580.5 498.4,583.0 495.0,585.4 491.6,587.7 488.3,589.9 484.9,592.0 481.5,594.1 478.1,596.1 474.8,597.9 471.4,599.7 468.1,601.4 464.7,603.0 461.3,604.6 458.0,606.0 454.6,607.3 451.3,608.6 448.0,609.7 444.6,610.8 441.3,611.7 437.9,612.6 434.6,613.4 431.2,614.0 427.9,614.6 424.5,615.1 420.8,614.0 424.1,613.5 427.5,612.9 430.8,612.3 434.2,611.5 437.5,610.6 440.8,609.6 444.2,608.6 447.5,607.4 450.9,606.2 454.2,604.8 457.6,603.4 460.9,601.9 464.3,600.2 467.6,598.5 471.0,596.7 474.3,594.8 477.7,592.9 481.1,590.8 484.4,588.7 487.8,586.5 491.2,584.1 494.6,581.7 498.0,579.3 501.4,576.7 504.8,574.1 508.3,571.4 511.7,568.6 515.1,565.7 518.6,562.7 522.0,559.7Z" fill="url(#sd14)" stroke="url(#sd14)" stroke-width="0.9"/><linearGradient id="sd13" gradientUnits="userSpaceOnUse" x1="527.8" y1="561.6" x2="426.4" y2="615.6"><stop offset="0.000" stop-color="#9b3f39"/><stop offset="0.372" stop-color="#9b3f39"/><stop offset="0.476" stop-color="#95932c"/><stop offset="0.544" stop-color="#508e2e"/><stop offset="0.577" stop-color="#378a34"/><stop offset="0.706" stop-color="#20737e"/><stop offset="0.798" stop-color="#1a4973"/><stop offset="1.000" stop-color="#172d6c"/></linearGradient><path d="M529.8,562.3 526.3,565.3 522.8,568.2 519.4,571.1 515.9,573.9 512.5,576.6 509.1,579.2 505.7,581.8 502.3,584.2 498.9,586.6 495.5,588.9 492.1,591.1 488.7,593.3 485.3,595.3 481.9,597.3 478.6,599.1 475.2,600.9 471.8,602.6 468.5,604.2 465.1,605.7 461.8,607.2 458.4,608.5 455.1,609.7 451.7,610.9 448.4,611.9 445.0,612.9 441.7,613.7 438.3,614.5 435.0,615.1 431.6,615.7 428.3,616.1 424.5,615.1 427.9,614.6 431.2,614.0 434.6,613.4 437.9,612.6 441.3,611.7 444.6,610.8 448.0,609.7 451.3,608.6 454.6,607.3 458.0,606.0 461.3,604.6 464.7,603.0 468.1,601.4 471.4,599.7 474.8,597.9 478.1,596.1 481.5,594.1 484.9,592.0 488.3,589.9 491.6,587.7 495.0,585.4 498.4,583.0 501.8,580.5 505.3,578.0 508.7,575.3 512.1,572.6 515.5,569.8 519.0,567.0 522.4,564.0 525.9,561.0Z" fill="url(#sd13)" stroke="url(#sd13)" stroke-width="0.9"/><linearGradient id="sd12" gradientUnits="userSpaceOnUse" x1="531.7" y1="562.9" x2="430.1" y2="616.6"><stop offset="0.000" stop-color="#9b3f39"/><stop offset="0.372" stop-color="#9b3f39"/><stop offset="0.407" stop-color="#9b5536"/><stop offset="0.476" stop-color="#98932c"/><stop offset="0.577" stop-color="#388b31"/><stop offset="0.706" stop-color="#21767e"/><stop offset="0.828" stop-color="#1a4673"/><stop offset="1.000" stop-color="#17326d"/></linearGradient><path d="M533.6,563.5 530.1,566.5 526.7,569.5 523.2,572.3 519.8,575.1 516.4,577.8 512.9,580.4 509.5,583.0 506.1,585.4 502.7,587.8 499.3,590.1 495.9,592.3 492.5,594.4 489.1,596.5 485.7,598.4 482.4,600.3 479.0,602.1 475.6,603.8 472.3,605.4 468.9,606.9 465.6,608.3 462.2,609.6 458.8,610.8 455.5,612.0 452.1,613.0 448.8,613.9 445.4,614.8 442.1,615.5 438.7,616.2 435.4,616.7 432.0,617.1 428.3,616.1 431.6,615.7 435.0,615.1 438.3,614.5 441.7,613.7 445.0,612.9 448.4,611.9 451.7,610.9 455.1,609.7 458.4,608.5 461.8,607.2 465.1,605.7 468.5,604.2 471.8,602.6 475.2,600.9 478.6,599.1 481.9,597.3 485.3,595.3 488.7,593.3 492.1,591.1 495.5,588.9 498.9,586.6 502.3,584.2 505.7,581.8 509.1,579.2 512.5,576.6 515.9,573.9 519.4,571.1 522.8,568.2 526.3,565.3 529.8,562.3Z" fill="url(#sd12)" stroke="url(#sd12)" stroke-width="0.9"/><linearGradient id="sd11" gradientUnits="userSpaceOnUse" x1="535.5" y1="564.1" x2="433.9" y2="617.6"><stop offset="0.000" stop-color="#9b3f39"/><stop offset="0.372" stop-color="#9b3f39"/><stop offset="0.407" stop-color="#9b5336"/><stop offset="0.476" stop-color="#9a932c"/><stop offset="0.577" stop-color="#398c2e"/><stop offset="0.706" stop-color="#227779"/><stop offset="0.828" stop-color="#1b4b74"/><stop offset="1.000" stop-color="#18396f"/></linearGradient><path d="M537.5,564.8 534.0,567.8 530.5,570.7 527.1,573.5 523.6,576.3 520.2,579.0 516.8,581.6 513.3,584.2 509.9,586.6 506.5,589.0 503.1,591.3 499.7,593.5 496.3,595.6 492.9,597.7 489.6,599.6 486.2,601.5 482.8,603.2 479.4,604.9 476.1,606.5 472.7,608.0 469.3,609.4 466.0,610.7 462.6,611.9 459.3,613.1 455.9,614.1 452.5,615.0 449.2,615.8 445.8,616.6 442.5,617.2 439.1,617.7 435.8,618.1 432.0,617.1 435.4,616.7 438.7,616.2 442.1,615.5 445.4,614.8 448.8,613.9 452.1,613.0 455.5,612.0 458.8,610.8 462.2,609.6 465.6,608.3 468.9,606.9 472.3,605.4 475.6,603.8 479.0,602.1 482.4,600.3 485.7,598.4 489.1,596.5 492.5,594.4 495.9,592.3 499.3,590.1 502.7,587.8 506.1,585.4 509.5,583.0 512.9,580.4 516.4,577.8 519.8,575.1 523.2,572.3 526.7,569.5 530.1,566.5 533.6,563.5Z" fill="url(#sd11)" stroke="url(#sd11)" stroke-width="0.9"/><linearGradient id="sd10" gradientUnits="userSpaceOnUse" x1="539.4" y1="565.4" x2="437.6" y2="618.6"><stop offset="0.000" stop-color="#9b3f39"/><stop offset="0.372" stop-color="#9b3f39"/><stop offset="0.407" stop-color="#9b5136"/><stop offset="0.476" stop-color="#9b912c"/><stop offset="0.577" stop-color="#3d8c2e"/><stop offset="0.706" stop-color="#237975"/><stop offset="0.737" stop-color="#20717e"/><stop offset="0.858" stop-color="#1b4c74"/><stop offset="1.000" stop-color="#193f71"/></linearGradient><path d="M541.3,566.0 537.9,569.0 534.4,571.9 530.9,574.8 527.5,577.5 524.0,580.2 520.6,582.8 517.2,585.4 513.8,587.8 510.3,590.2 506.9,592.5 503.5,594.7 500.1,596.8 496.7,598.8 493.4,600.8 490.0,602.6 486.6,604.4 483.2,606.1 479.9,607.6 476.5,609.1 473.1,610.5 469.8,611.8 466.4,613.0 463.0,614.1 459.7,615.2 456.3,616.1 453.0,616.9 449.6,617.6 446.2,618.2 442.9,618.7 439.5,619.1 435.8,618.1 439.1,617.7 442.5,617.2 445.8,616.6 449.2,615.8 452.5,615.0 455.9,614.1 459.3,613.1 462.6,611.9 466.0,610.7 469.3,609.4 472.7,608.0 476.1,606.5 479.4,604.9 482.8,603.2 486.2,601.5 489.6,599.6 492.9,597.7 496.3,595.6 499.7,593.5 503.1,591.3 506.5,589.0 509.9,586.6 513.3,584.2 516.8,581.6 520.2,579.0 523.6,576.3 527.1,573.5 530.5,570.7 534.0,567.8 537.5,564.8Z" fill="url(#sd10)" stroke="url(#sd10)" stroke-width="0.9"/><linearGradient id="sd9" gradientUnits="userSpaceOnUse" x1="543.3" y1="566.6" x2="441.4" y2="619.6"><stop offset="0.000" stop-color="#9b3f39"/><stop offset="0.372" stop-color="#9b3f39"/><stop offset="0.407" stop-color="#9b4f37"/><stop offset="0.476" stop-color="#9b8f2d"/><stop offset="0.577" stop-color="#418c2e"/><stop offset="0.737" stop-color="#20767f"/><stop offset="0.858" stop-color="#1c5276"/><stop offset="1.000" stop-color="#1a4773"/></linearGradient><path d="M545.2,567.2 541.7,570.2 538.2,573.1 534.8,575.9 531.3,578.7 527.9,581.4 524.4,584.0 521.0,586.5 517.6,589.0 514.2,591.3 510.8,593.6 507.3,595.8 503.9,597.9 500.6,599.9 497.2,601.9 493.8,603.7 490.4,605.5 487.0,607.2 483.6,608.7 480.3,610.2 476.9,611.6 473.5,612.9 470.2,614.1 466.8,615.2 463.4,616.2 460.1,617.1 456.7,617.9 453.3,618.6 450.0,619.2 446.6,619.7 443.3,620.1 439.5,619.1 442.9,618.7 446.2,618.2 449.6,617.6 453.0,616.9 456.3,616.1 459.7,615.2 463.0,614.1 466.4,613.0 469.8,611.8 473.1,610.5 476.5,609.1 479.9,607.6 483.2,606.1 486.6,604.4 490.0,602.6 493.4,600.8 496.7,598.8 500.1,596.8 503.5,594.7 506.9,592.5 510.3,590.2 513.8,587.8 517.2,585.4 520.6,582.8 524.0,580.2 527.5,577.5 530.9,574.8 534.4,571.9 537.9,569.0 541.3,566.0Z" fill="url(#sd9)" stroke="url(#sd9)" stroke-width="0.9"/><linearGradient id="sd8" gradientUnits="userSpaceOnUse" x1="547.1" y1="567.8" x2="445.1" y2="620.5"><stop offset="0.000" stop-color="#9b3f39"/><stop offset="0.372" stop-color="#9b3f39"/><stop offset="0.407" stop-color="#9b4d37"/><stop offset="0.476" stop-color="#9b8d2d"/><stop offset="0.577" stop-color="#458d2e"/><stop offset="0.642" stop-color="#30844a"/><stop offset="0.737" stop-color="#22777a"/><stop offset="0.887" stop-color="#1c5576"/><stop offset="1.000" stop-color="#1b4f75"/></linearGradient><path d="M549.1,568.4 545.6,571.4 542.1,574.3 538.6,577.1 535.2,579.9 531.7,582.6 528.3,585.2 524.8,587.7 521.4,590.1 518.0,592.5 514.6,594.8 511.2,596.9 507.8,599.0 504.4,601.1 501.0,603.0 497.6,604.8 494.2,606.6 490.8,608.2 487.4,609.8 484.1,611.3 480.7,612.7 477.3,613.9 473.9,615.1 470.6,616.2 467.2,617.2 463.8,618.1 460.5,618.9 457.1,619.6 453.7,620.1 450.4,620.6 447.0,621.0 443.3,620.1 446.6,619.7 450.0,619.2 453.3,618.6 456.7,617.9 460.1,617.1 463.4,616.2 466.8,615.2 470.2,614.1 473.5,612.9 476.9,611.6 480.3,610.2 483.6,608.7 487.0,607.2 490.4,605.5 493.8,603.7 497.2,601.9 500.6,599.9 503.9,597.9 507.3,595.8 510.8,593.6 514.2,591.3 517.6,589.0 521.0,586.5 524.4,584.0 527.9,581.4 531.3,578.7 534.8,575.9 538.2,573.1 541.7,570.2 545.2,567.2Z" fill="url(#sd8)" stroke="url(#sd8)" stroke-width="0.9"/><linearGradient id="sd7" gradientUnits="userSpaceOnUse" x1="551.0" y1="569.0" x2="448.9" y2="621.4"><stop offset="0.000" stop-color="#9b3f39"/><stop offset="0.372" stop-color="#9b3f39"/><stop offset="0.407" stop-color="#9b4b37"/><stop offset="0.476" stop-color="#9b8a2d"/><stop offset="0.544" stop-color="#658f2d"/><stop offset="0.610" stop-color="#378a34"/><stop offset="0.737" stop-color="#237875"/><stop offset="0.799" stop-color="#1f6a7c"/><stop offset="1.000" stop-color="#1c5877"/></linearGradient><path d="M552.9,569.6 549.4,572.5 545.9,575.4 542.5,578.3 539.0,581.0 535.6,583.7 532.1,586.3 528.7,588.8 525.2,591.2 521.8,593.6 518.4,595.9 515.0,598.1 511.6,600.2 508.2,602.2 504.8,604.1 501.4,605.9 498.0,607.7 494.6,609.3 491.2,610.9 487.8,612.3 484.5,613.7 481.1,615.0 477.7,616.1 474.3,617.2 471.0,618.2 467.6,619.1 464.2,619.8 460.9,620.5 457.5,621.1 454.1,621.5 450.8,621.9 447.0,621.0 450.4,620.6 453.7,620.1 457.1,619.6 460.5,618.9 463.8,618.1 467.2,617.2 470.6,616.2 473.9,615.1 477.3,613.9 480.7,612.7 484.1,611.3 487.4,609.8 490.8,608.2 494.2,606.6 497.6,604.8 501.0,603.0 504.4,601.1 507.8,599.0 511.2,596.9 514.6,594.8 518.0,592.5 521.4,590.1 524.8,587.7 528.3,585.2 531.7,582.6 535.2,579.9 538.6,577.1 542.1,574.3 545.6,571.4 549.1,568.4Z" fill="url(#sd7)" stroke="url(#sd7)" stroke-width="0.9"/><linearGradient id="sd6" gradientUnits="userSpaceOnUse" x1="554.8" y1="570.1" x2="452.6" y2="622.3"><stop offset="0.000" stop-color="#9b3f39"/><stop offset="0.372" stop-color="#9b3f39"/><stop offset="0.407" stop-color="#9b4937"/><stop offset="0.476" stop-color="#9b882e"/><stop offset="0.544" stop-color="#698f2d"/><stop offset="0.610" stop-color="#388b31"/><stop offset="0.768" stop-color="#21767c"/><stop offset="0.916" stop-color="#1e637a"/><stop offset="1.000" stop-color="#1e627a"/></linearGradient><path d="M556.8,570.7 553.3,573.7 549.8,576.6 546.3,579.4 542.9,582.2 539.4,584.8 535.9,587.4 532.5,589.9 529.1,592.4 525.6,594.7 522.2,597.0 518.8,599.1 515.4,601.2 512.0,603.2 508.6,605.2 505.2,607.0 501.8,608.7 498.4,610.4 495.0,611.9 491.6,613.4 488.3,614.7 484.9,616.0 481.5,617.1 478.1,618.2 474.8,619.2 471.4,620.0 468.0,620.8 464.6,621.4 461.3,622.0 457.9,622.4 454.5,622.8 450.8,621.9 454.1,621.5 457.5,621.1 460.9,620.5 464.2,619.8 467.6,619.1 471.0,618.2 474.3,617.2 477.7,616.1 481.1,615.0 484.5,613.7 487.8,612.3 491.2,610.9 494.6,609.3 498.0,607.7 501.4,605.9 504.8,604.1 508.2,602.2 511.6,600.2 515.0,598.1 518.4,595.9 521.8,593.6 525.2,591.2 528.7,588.8 532.1,586.3 535.6,583.7 539.0,581.0 542.5,578.3 545.9,575.4 549.4,572.5 552.9,569.6Z" fill="url(#sd6)" stroke="url(#sd6)" stroke-width="0.9"/><linearGradient id="sd5" gradientUnits="userSpaceOnUse" x1="558.7" y1="571.3" x2="456.4" y2="623.2"><stop offset="0.000" stop-color="#9b3f39"/><stop offset="0.372" stop-color="#9b3f39"/><stop offset="0.407" stop-color="#9b4738"/><stop offset="0.476" stop-color="#9b862e"/><stop offset="0.510" stop-color="#8a922c"/><stop offset="0.610" stop-color="#3b8c2e"/><stop offset="0.768" stop-color="#227878"/><stop offset="0.945" stop-color="#1f6d7d"/><stop offset="1.000" stop-color="#1f6c7c"/></linearGradient><path d="M560.6,571.9 557.1,574.8 553.6,577.7 550.2,580.5 546.7,583.3 543.2,585.9 539.8,588.5 536.3,591.0 532.9,593.5 529.5,595.8 526.0,598.0 522.6,600.2 519.2,602.3 515.8,604.3 512.4,606.2 509.0,608.0 505.6,609.7 502.2,611.4 498.8,612.9 495.4,614.4 492.0,615.7 488.7,617.0 485.3,618.1 481.9,619.2 478.5,620.1 475.1,621.0 471.8,621.7 468.4,622.3 465.0,622.9 461.6,623.3 458.3,623.6 454.5,622.8 457.9,622.4 461.3,622.0 464.6,621.4 468.0,620.8 471.4,620.0 474.8,619.2 478.1,618.2 481.5,617.1 484.9,616.0 488.3,614.7 491.6,613.4 495.0,611.9 498.4,610.4 501.8,608.7 505.2,607.0 508.6,605.2 512.0,603.2 515.4,601.2 518.8,599.1 522.2,597.0 525.6,594.7 529.1,592.4 532.5,589.9 535.9,587.4 539.4,584.8 542.9,582.2 546.3,579.4 549.8,576.6 553.3,573.7 556.8,570.7Z" fill="url(#sd5)" stroke="url(#sd5)" stroke-width="0.9"/><linearGradient id="sd4" gradientUnits="userSpaceOnUse" x1="562.6" y1="572.4" x2="460.2" y2="624.0"><stop offset="0.000" stop-color="#9b3f39"/><stop offset="0.407" stop-color="#9b4538"/><stop offset="0.476" stop-color="#9b842e"/><stop offset="0.510" stop-color="#8d922c"/><stop offset="0.610" stop-color="#3f8c2e"/><stop offset="0.768" stop-color="#237974"/><stop offset="0.887" stop-color="#20747e"/><stop offset="1.000" stop-color="#21767e"/></linearGradient><path d="M564.5,573.0 561.0,576.0 557.5,578.8 554.0,581.7 550.5,584.4 547.1,587.0 543.6,589.6 540.2,592.1 536.7,594.5 533.3,596.9 529.9,599.1 526.4,601.3 523.0,603.4 519.6,605.3 516.2,607.2 512.8,609.0 509.4,610.8 506.0,612.4 502.6,613.9 499.2,615.3 495.8,616.7 492.4,617.9 489.1,619.1 485.7,620.1 482.3,621.0 478.9,621.9 475.5,622.6 472.2,623.2 468.8,623.7 465.4,624.1 462.0,624.4 458.3,623.6 461.6,623.3 465.0,622.9 468.4,622.3 471.8,621.7 475.1,621.0 478.5,620.1 481.9,619.2 485.3,618.1 488.7,617.0 492.0,615.7 495.4,614.4 498.8,612.9 502.2,611.4 505.6,609.7 509.0,608.0 512.4,606.2 515.8,604.3 519.2,602.3 522.6,600.2 526.0,598.0 529.5,595.8 532.9,593.5 536.3,591.0 539.8,588.5 543.2,585.9 546.7,583.3 550.2,580.5 553.6,577.7 557.1,574.8 560.6,571.9Z" fill="url(#sd4)" stroke="url(#sd4)" stroke-width="0.9"/><linearGradient id="sd3" gradientUnits="userSpaceOnUse" x1="566.4" y1="573.6" x2="463.9" y2="624.8"><stop offset="0.000" stop-color="#9b3f39"/><stop offset="0.407" stop-color="#9b4338"/><stop offset="0.476" stop-color="#9b822f"/><stop offset="0.510" stop-color="#90922c"/><stop offset="0.610" stop-color="#438d2e"/><stop offset="0.706" stop-color="#2c8058"/><stop offset="0.799" stop-color="#227877"/><stop offset="1.000" stop-color="#247974"/></linearGradient><path d="M568.3,574.1 564.8,577.1 561.3,579.9 557.9,582.7 554.4,585.5 550.9,588.1 547.5,590.7 544.0,593.2 540.6,595.6 537.1,597.9 533.7,600.2 530.3,602.3 526.8,604.4 523.4,606.4 520.0,608.2 516.6,610.0 513.2,611.8 509.8,613.4 506.4,614.9 503.0,616.3 499.6,617.6 496.2,618.9 492.8,620.0 489.5,621.0 486.1,621.9 482.7,622.7 479.3,623.5 475.9,624.1 472.6,624.5 469.2,624.9 465.8,625.2 462.0,624.4 465.4,624.1 468.8,623.7 472.2,623.2 475.5,622.6 478.9,621.9 482.3,621.0 485.7,620.1 489.1,619.1 492.4,617.9 495.8,616.7 499.2,615.3 502.6,613.9 506.0,612.4 509.4,610.8 512.8,609.0 516.2,607.2 519.6,605.3 523.0,603.4 526.4,601.3 529.9,599.1 533.3,596.9 536.7,594.5 540.2,592.1 543.6,589.6 547.1,587.0 550.5,584.4 554.0,581.7 557.5,578.8 561.0,576.0 564.5,573.0Z" fill="url(#sd3)" stroke="url(#sd3)" stroke-width="0.9"/><linearGradient id="sd2" gradientUnits="userSpaceOnUse" x1="570.3" y1="574.7" x2="467.7" y2="625.6"><stop offset="0.000" stop-color="#9b3f39"/><stop offset="0.407" stop-color="#9b4139"/><stop offset="0.477" stop-color="#9b802f"/><stop offset="0.511" stop-color="#93932c"/><stop offset="0.610" stop-color="#488d2e"/><stop offset="0.675" stop-color="#328644"/><stop offset="0.768" stop-color="#267b6d"/><stop offset="0.888" stop-color="#247972"/><stop offset="1.000" stop-color="#277b6a"/></linearGradient><path d="M572.2,575.2 568.7,578.2 565.2,581.0 561.7,583.8 558.2,586.5 554.8,589.2 551.3,591.7 547.8,594.2 544.4,596.6 540.9,598.9 537.5,601.2 534.1,603.3 530.6,605.4 527.2,607.4 523.8,609.2 520.4,611.0 517.0,612.7 513.6,614.3 510.2,615.8 506.8,617.3 503.4,618.6 500.0,619.8 496.6,620.9 493.2,621.9 489.9,622.8 486.5,623.6 483.1,624.3 479.7,624.9 476.3,625.3 472.9,625.7 469.6,626.0 465.8,625.2 469.2,624.9 472.6,624.5 475.9,624.1 479.3,623.5 482.7,622.7 486.1,621.9 489.5,621.0 492.8,620.0 496.2,618.9 499.6,617.6 503.0,616.3 506.4,614.9 509.8,613.4 513.2,611.8 516.6,610.0 520.0,608.2 523.4,606.4 526.8,604.4 530.3,602.3 533.7,600.2 537.1,597.9 540.6,595.6 544.0,593.2 547.5,590.7 550.9,588.1 554.4,585.5 557.9,582.7 561.3,579.9 564.8,577.1 568.3,574.1Z" fill="url(#sd2)" stroke="url(#sd2)" stroke-width="0.9"/><linearGradient id="sd1" gradientUnits="userSpaceOnUse" x1="574.1" y1="575.7" x2="471.4" y2="626.3"><stop offset="0.000" stop-color="#9b3f39"/><stop offset="0.407" stop-color="#9b3f39"/><stop offset="0.477" stop-color="#9b7e2f"/><stop offset="0.511" stop-color="#96932c"/><stop offset="0.643" stop-color="#388b30"/><stop offset="0.769" stop-color="#277c69"/><stop offset="0.859" stop-color="#267b6d"/><stop offset="1.000" stop-color="#297e61"/></linearGradient><path d="M576.1,576.3 572.5,579.2 569.0,582.1 565.6,584.9 562.1,587.6 558.6,590.2 555.1,592.8 551.7,595.3 548.2,597.6 544.8,600.0 541.3,602.2 537.9,604.3 534.5,606.4 531.0,608.3 527.6,610.2 524.2,612.0 520.8,613.7 517.4,615.3 514.0,616.8 510.6,618.2 507.2,619.5 503.8,620.7 500.4,621.8 497.0,622.8 493.6,623.6 490.2,624.4 486.9,625.1 483.5,625.7 480.1,626.1 476.7,626.5 473.3,626.7 469.6,626.0 472.9,625.7 476.3,625.3 479.7,624.9 483.1,624.3 486.5,623.6 489.9,622.8 493.2,621.9 496.6,620.9 500.0,619.8 503.4,618.6 506.8,617.3 510.2,615.8 513.6,614.3 517.0,612.7 520.4,611.0 523.8,609.2 527.2,607.4 530.6,605.4 534.1,603.3 537.5,601.2 540.9,598.9 544.4,596.6 547.8,594.2 551.3,591.7 554.8,589.2 558.2,586.5 561.7,583.8 565.2,581.0 568.7,578.2 572.2,575.2Z" fill="url(#sd1)" stroke="url(#sd1)" stroke-width="0.9"/><linearGradient id="sd0" gradientUnits="userSpaceOnUse" x1="578.0" y1="576.8" x2="475.2" y2="627.0"><stop offset="0.000" stop-color="#9b3f39"/><stop offset="0.407" stop-color="#9b3f39"/><stop offset="0.511" stop-color="#99932c"/><stop offset="0.643" stop-color="#3b8c2e"/><stop offset="0.769" stop-color="#287d64"/><stop offset="0.888" stop-color="#297e62"/><stop offset="1.000" stop-color="#2c8058"/></linearGradient><path d="M579.9,577.3 576.4,580.3 572.9,583.1 569.4,585.9 565.9,588.6 562.4,591.2 559.0,593.8 555.5,596.3 552.0,598.6 548.6,601.0 545.2,603.2 541.7,605.3 538.3,607.3 534.9,609.3 531.4,611.2 528.0,612.9 524.6,614.6 521.2,616.2 517.8,617.7 514.4,619.1 511.0,620.3 507.6,621.5 504.2,622.6 500.8,623.6 497.4,624.5 494.0,625.2 490.6,625.9 487.2,626.4 483.9,626.9 480.5,627.2 477.1,627.4 473.3,626.7 476.7,626.5 480.1,626.1 483.5,625.7 486.9,625.1 490.2,624.4 493.6,623.6 497.0,622.8 500.4,621.8 503.8,620.7 507.2,619.5 510.6,618.2 514.0,616.8 517.4,615.3 520.8,613.7 524.2,612.0 527.6,610.2 531.0,608.3 534.5,606.4 537.9,604.3 541.3,602.2 544.8,600.0 548.2,597.6 551.7,595.3 555.1,592.8 558.6,590.2 562.1,587.6 565.6,584.9 569.0,582.1 572.5,579.2 576.1,576.3Z" fill="url(#sd0)" stroke="url(#sd0)" stroke-width="0.9"/><text transform="translate(37.0,167.4) rotate(-90)" font-family="Liberation Sans" font-size="8.40" fill="#222" textLength="108.0" lengthAdjust="spacingAndGlyphs">Fouling resistance (m2.°C/W)</text><text x="58.9" y="174.1" font-family="Liberation Sans" font-size="6.20" fill="#333" text-anchor="middle">86.8</text><text x="73.2" y="180.7" font-family="Liberation Sans" font-size="6.20" fill="#333" text-anchor="middle">85.4</text><text x="89.7" y="186.2" font-family="Liberation Sans" font-size="6.20" fill="#333" text-anchor="middle">84</text><text x="101.0" y="192.9" font-family="Liberation Sans" font-size="6.20" fill="#333" text-anchor="middle">82.6</text><text x="115.4" y="198.4" font-family="Liberation Sans" font-size="6.20" fill="#333" text-anchor="middle">81.2</text><text x="129.7" y="203.8" font-family="Liberation Sans" font-size="6.20" fill="#333" text-anchor="middle">79.8</text><text x="143.6" y="210.5" font-family="Liberation Sans" font-size="6.20" fill="#333" text-anchor="middle">78.4</text><text x="160.5" y="216.0" font-family="Liberation Sans" font-size="6.20" fill="#333" text-anchor="middle">77</text><text x="174.5" y="216.1" font-family="Liberation Sans" font-size="6.20" fill="#333" text-anchor="middle">68</text><text x="190.2" y="206.6" font-family="Liberation Sans" font-size="6.20" fill="#333" text-anchor="middle">70</text><text x="206.3" y="197.1" font-family="Liberation Sans" font-size="6.20" fill="#333" text-anchor="middle">72</text><text x="222.5" y="188.1" font-family="Liberation Sans" font-size="6.20" fill="#333" text-anchor="middle">74</text><text x="238.6" y="178.1" font-family="Liberation Sans" font-size="6.20" fill="#333" text-anchor="middle">76</text><text x="256.2" y="168.1" font-family="Liberation Sans" font-size="6.20" fill="#333" text-anchor="middle">78</text><text x="32.9" y="211.0" font-family="Liberation Sans" font-size="8.60" fill="#222" textLength="104.4" lengthAdjust="spacingAndGlyphs">Acid outlet temperature(°C)</text><text x="195.0" y="206.0" font-family="Liberation Sans" font-size="8.70" fill="#222" textLength="100.0" lengthAdjust="spacingAndGlyphs">Acid inlet temperature(°C)</text><text transform="translate(353.6,151.3) rotate(-90)" font-family="Liberation Sans" font-size="8.50" fill="#222" textLength="111.0" lengthAdjust="spacingAndGlyphs">Fouling resistance (m2.°C/W)</text><text x="371.3" y="156.9" font-family="Liberation Sans" font-size="6.20" fill="#333" text-anchor="middle">1656.02</text><text x="384.4" y="162.8" font-family="Liberation Sans" font-size="6.20" fill="#333" text-anchor="middle">1651.51</text><text x="401.8" y="168.2" font-family="Liberation Sans" font-size="6.20" fill="#333" text-anchor="middle">1647</text><text x="410.6" y="173.8" font-family="Liberation Sans" font-size="6.20" fill="#333" text-anchor="middle">1642.49</text><text x="423.5" y="179.7" font-family="Liberation Sans" font-size="6.20" fill="#333" text-anchor="middle">1637.98</text><text x="436.5" y="185.8" font-family="Liberation Sans" font-size="6.20" fill="#333" text-anchor="middle">1633.47</text><text x="449.6" y="190.6" font-family="Liberation Sans" font-size="6.20" fill="#333" text-anchor="middle">1628.96</text><text x="462.4" y="196.7" font-family="Liberation Sans" font-size="6.20" fill="#333" text-anchor="middle">1624.45</text><text x="475.6" y="203.2" font-family="Liberation Sans" font-size="6.20" fill="#333" text-anchor="middle">1619.94</text><text x="496.1" y="202.4" font-family="Liberation Sans" font-size="6.20" fill="#333" text-anchor="middle">68</text><text x="514.8" y="192.7" font-family="Liberation Sans" font-size="6.20" fill="#333" text-anchor="middle">70</text><text x="530.3" y="180.3" font-family="Liberation Sans" font-size="6.20" fill="#333" text-anchor="middle">72</text><text x="547.1" y="169.6" font-family="Liberation Sans" font-size="6.20" fill="#333" text-anchor="middle">74</text><text x="563.2" y="158.7" font-family="Liberation Sans" font-size="6.20" fill="#333" text-anchor="middle">76</text><text x="580.0" y="148.0" font-family="Liberation Sans" font-size="6.20" fill="#333" text-anchor="middle">78</text><text x="364.8" y="198.3" font-family="Liberation Sans" font-size="9.00" fill="#222" textLength="82.6" lengthAdjust="spacingAndGlyphs">Acid density (Kg/m3)</text><text x="517.0" y="189.4" font-family="Liberation Sans" font-size="8.90" fill="#222" textLength="103.0" lengthAdjust="spacingAndGlyphs">Acid inlet temperature(°C)</text><text transform="translate(25.5,640.4) rotate(-90)" font-family="Liberation Sans" font-size="7.60" fill="#222" textLength="97.0" lengthAdjust="spacingAndGlyphs">Fouling resistance (m2.°C/W)</text><text x="43.4" y="645.5" font-family="Liberation Sans" font-size="6.20" fill="#333" text-anchor="middle">3407.66</text><text x="68.6" y="655.5" font-family="Liberation Sans" font-size="6.20" fill="#333" text-anchor="middle">3081.48</text><text x="96.5" y="664.1" font-family="Liberation Sans" font-size="6.20" fill="#333" text-anchor="middle">2755.3</text><text x="122.0" y="672.1" font-family="Liberation Sans" font-size="6.20" fill="#333" text-anchor="middle">2429.12</text><text x="147.5" y="680.3" font-family="Liberation Sans" font-size="6.20" fill="#333" text-anchor="middle">2102.94</text><text x="169.2" y="680.3" font-family="Liberation Sans" font-size="6.20" fill="#333" text-anchor="middle">68</text><text x="183.5" y="672.1" font-family="Liberation Sans" font-size="6.20" fill="#333" text-anchor="middle">70</text><text x="198.5" y="662.9" font-family="Liberation Sans" font-size="6.20" fill="#333" text-anchor="middle">72</text><text x="212.3" y="654.2" font-family="Liberation Sans" font-size="6.20" fill="#333" text-anchor="middle">74</text><text x="227.2" y="645.5" font-family="Liberation Sans" font-size="6.20" fill="#333" text-anchor="middle">76</text><text x="241.3" y="636.3" font-family="Liberation Sans" font-size="6.20" fill="#333" text-anchor="middle">78</text><text x="36.0" y="679.0" font-family="Liberation Sans" font-size="8.60" fill="#222" textLength="88.0" lengthAdjust="spacingAndGlyphs">Volume flow rate(m3/h)</text><text x="186.0" y="669.5" font-family="Liberation Sans" font-size="8.60" fill="#222" textLength="99.4" lengthAdjust="spacingAndGlyphs">Acid inlet temperature(°C)</text><text transform="translate(355.8,638.9) rotate(-90)" font-family="Liberation Sans" font-size="8.60" fill="#222" textLength="112.7" lengthAdjust="spacingAndGlyphs">Fouling resistance (m2.°C/W)</text><text x="378.1" y="647.2" font-family="Liberation Sans" font-size="6.20" fill="#333" text-anchor="middle">1619.94</text><text x="383.0" y="652.4" font-family="Liberation Sans" font-size="6.20" fill="#333" text-anchor="middle">1624.45</text><text x="393.6" y="657.1" font-family="Liberation Sans" font-size="6.20" fill="#333" text-anchor="middle">1628.96</text><text x="404.1" y="662.8" font-family="Liberation Sans" font-size="6.20" fill="#333" text-anchor="middle">1633.47</text><text x="414.8" y="667.8" font-family="Liberation Sans" font-size="6.20" fill="#333" text-anchor="middle">1637.98</text><text x="424.1" y="672.1" font-family="Liberation Sans" font-size="6.20" fill="#333" text-anchor="middle">1642.49</text><text x="438.9" y="677.1" font-family="Liberation Sans" font-size="6.20" fill="#333" text-anchor="middle">1647</text><text x="445.8" y="682.2" font-family="Liberation Sans" font-size="6.20" fill="#333" text-anchor="middle">1651.51</text><text x="458.8" y="687.7" font-family="Liberation Sans" font-size="6.20" fill="#333" text-anchor="middle">1656.02</text><text x="484.5" y="686.8" font-family="Liberation Sans" font-size="6.20" fill="#333" text-anchor="middle">86.8</text><text x="498.9" y="682.1" font-family="Liberation Sans" font-size="6.20" fill="#333" text-anchor="middle">85.4</text><text x="511.5" y="676.6" font-family="Liberation Sans" font-size="6.20" fill="#333" text-anchor="middle">84</text><text x="528.0" y="671.4" font-family="Liberation Sans" font-size="6.20" fill="#333" text-anchor="middle">82.6</text><text x="543.0" y="666.9" font-family="Liberation Sans" font-size="6.20" fill="#333" text-anchor="middle">81.2</text><text x="557.2" y="662.2" font-family="Liberation Sans" font-size="6.20" fill="#333" text-anchor="middle">79.8</text><text x="572.0" y="657.3" font-family="Liberation Sans" font-size="6.20" fill="#333" text-anchor="middle">78.4</text><text x="584.1" y="652.1" font-family="Liberation Sans" font-size="6.20" fill="#333" text-anchor="middle">77</text><text x="350.4" y="677.5" font-family="Liberation Sans" font-size="9.00" fill="#222" textLength="83.0" lengthAdjust="spacingAndGlyphs">Acid density (Kg/m3)</text><text x="507.2" y="684.2" font-family="Liberation Sans" font-size="8.90" fill="#222" textLength="108.0" lengthAdjust="spacingAndGlyphs">Acid outlet temperature(°C)</text><text x="87.8" y="253.1" font-family="Liberation Sans" font-size="10.20" fill="#222" textLength="175.4" lengthAdjust="spacingAndGlyphs">Fouling resistance (m2.°C/W)</text><text x="56.3" y="259.3" font-family="Liberation Sans" font-size="6.60" fill="#333" text-anchor="end">86.8</text><text x="56.3" y="281.3" font-family="Liberation Sans" font-size="6.60" fill="#333" text-anchor="end">85.4</text><text x="56.3" y="303.3" font-family="Liberation Sans" font-size="6.60" fill="#333" text-anchor="end">84</text><text x="56.3" y="325.3" font-family="Liberation Sans" font-size="6.60" fill="#333" text-anchor="end">82.6</text><text x="56.3" y="347.3" font-family="Liberation Sans" font-size="6.60" fill="#333" text-anchor="end">81.2</text><text x="56.3" y="369.3" font-family="Liberation Sans" font-size="6.60" fill="#333" text-anchor="end">79.8</text><text x="56.3" y="391.3" font-family="Liberation Sans" font-size="6.60" fill="#333" text-anchor="end">78.4</text><text x="56.3" y="413.3" font-family="Liberation Sans" font-size="6.60" fill="#333" text-anchor="end">77</text><text x="65.5" y="422.7" font-family="Liberation Sans" font-size="5.60" fill="#333" text-anchor="middle">68</text><text x="109.9" y="422.7" font-family="Liberation Sans" font-size="5.60" fill="#333" text-anchor="middle">70</text><text x="154.3" y="422.7" font-family="Liberation Sans" font-size="5.60" fill="#333" text-anchor="middle">72</text><text x="198.7" y="422.7" font-family="Liberation Sans" font-size="5.60" fill="#333" text-anchor="middle">74</text><text x="243.1" y="422.7" font-family="Liberation Sans" font-size="5.60" fill="#333" text-anchor="middle">76</text><text x="287.5" y="422.7" font-family="Liberation Sans" font-size="5.60" fill="#333" text-anchor="middle">78</text><text transform="translate(27.5,373.0) rotate(-90)" font-family="Liberation Sans" font-size="6.50" fill="#333" font-weight="bold" textLength="79.0" lengthAdjust="spacingAndGlyphs">Acid outlet temperature(°C)</text><text x="122.6" y="443.4" font-family="Liberation Sans" font-size="8.00" fill="#222" stroke="#222" stroke-width="0.12" textLength="106.5" lengthAdjust="spacingAndGlyphs">Acid inlet temperature(°C)</text><text x="409.5" y="245.0" font-family="Liberation Sans" font-size="10.20" fill="#222" textLength="182.5" lengthAdjust="spacingAndGlyphs">Fouling resistance (m2.°C/W)</text><text x="375.5" y="251.3" font-family="Liberation Sans" font-size="6.60" fill="#333" text-anchor="end">1656.02</text><text x="375.5" y="271.8" font-family="Liberation Sans" font-size="6.60" fill="#333" text-anchor="end">1651.51</text><text x="375.5" y="292.3" font-family="Liberation Sans" font-size="6.60" fill="#333" text-anchor="end">1647</text><text x="375.5" y="312.8" font-family="Liberation Sans" font-size="6.60" fill="#333" text-anchor="end">1642.49</text><text x="375.5" y="333.3" font-family="Liberation Sans" font-size="6.60" fill="#333" text-anchor="end">1637.98</text><text x="375.5" y="353.8" font-family="Liberation Sans" font-size="6.60" fill="#333" text-anchor="end">1633.47</text><text x="375.5" y="374.3" font-family="Liberation Sans" font-size="6.60" fill="#333" text-anchor="end">1628.96</text><text x="375.5" y="394.8" font-family="Liberation Sans" font-size="6.60" fill="#333" text-anchor="end">1624.45</text><text x="375.5" y="415.3" font-family="Liberation Sans" font-size="6.60" fill="#333" text-anchor="end">1619.94</text><text x="385.5" y="424.7" font-family="Liberation Sans" font-size="5.60" fill="#333" text-anchor="middle">68</text><text x="431.8" y="424.7" font-family="Liberation Sans" font-size="5.60" fill="#333" text-anchor="middle">70</text><text x="478.1" y="424.7" font-family="Liberation Sans" font-size="5.60" fill="#333" text-anchor="middle">72</text><text x="524.4" y="424.7" font-family="Liberation Sans" font-size="5.60" fill="#333" text-anchor="middle">74</text><text x="570.7" y="424.7" font-family="Liberation Sans" font-size="5.60" fill="#333" text-anchor="middle">76</text><text x="617.0" y="424.7" font-family="Liberation Sans" font-size="5.60" fill="#333" text-anchor="middle">78</text><text transform="translate(345.0,363.2) rotate(-90)" font-family="Liberation Sans" font-size="7.00" fill="#333" font-weight="bold" textLength="64.5" lengthAdjust="spacingAndGlyphs">Acid density (Kg/m3)</text><text x="444.6" y="447.0" font-family="Liberation Sans" font-size="8.00" fill="#222" stroke="#222" stroke-width="0.12" textLength="112.1" lengthAdjust="spacingAndGlyphs">Acid inlet temperature(°C)</text><text x="76.0" y="721.0" font-family="Liberation Sans" font-size="10.20" fill="#222" textLength="176.5" lengthAdjust="spacingAndGlyphs">Fouling resistance (m2.°C/W)</text><text x="46.0" y="726.4" font-family="Liberation Sans" font-size="6.60" fill="#333" text-anchor="end">3407.66</text><text x="46.0" y="765.1" font-family="Liberation Sans" font-size="6.60" fill="#333" text-anchor="end">3081.48</text><text x="46.0" y="803.8" font-family="Liberation Sans" font-size="6.60" fill="#333" text-anchor="end">2755.3</text><text x="46.0" y="842.5" font-family="Liberation Sans" font-size="6.60" fill="#333" text-anchor="end">2429.12</text><text x="46.0" y="881.2" font-family="Liberation Sans" font-size="6.60" fill="#333" text-anchor="end">2102.94</text><text x="53.5" y="890.0" font-family="Liberation Sans" font-size="5.60" fill="#333" text-anchor="middle">68</text><text x="98.3" y="890.0" font-family="Liberation Sans" font-size="5.60" fill="#333" text-anchor="middle">70</text><text x="143.1" y="890.0" font-family="Liberation Sans" font-size="5.60" fill="#333" text-anchor="middle">72</text><text x="188.0" y="890.0" font-family="Liberation Sans" font-size="5.60" fill="#333" text-anchor="middle">74</text><text x="232.8" y="890.0" font-family="Liberation Sans" font-size="5.60" fill="#333" text-anchor="middle">76</text><text x="277.6" y="890.0" font-family="Liberation Sans" font-size="5.60" fill="#333" text-anchor="middle">78</text><text transform="translate(13.0,835.0) rotate(-90)" font-family="Liberation Sans" font-size="7.50" fill="#333" font-weight="bold" textLength="67.4" lengthAdjust="spacingAndGlyphs">Volume flow rate(m3/h)</text><text x="111.0" y="911.5" font-family="Liberation Sans" font-size="8.00" fill="#222" stroke="#222" stroke-width="0.12" textLength="107.5" lengthAdjust="spacingAndGlyphs">Acid inlet temperature(°C)</text><text x="406.0" y="710.0" font-family="Liberation Sans" font-size="10.20" fill="#222" textLength="180.0" lengthAdjust="spacingAndGlyphs">Fouling resistance (m2.°C/W)</text><text x="374.0" y="716.4" font-family="Liberation Sans" font-size="6.60" fill="#333" text-anchor="end">1656.02</text><text x="374.0" y="737.0" font-family="Liberation Sans" font-size="6.60" fill="#333" text-anchor="end">1651.51</text><text x="374.0" y="757.6" font-family="Liberation Sans" font-size="6.60" fill="#333" text-anchor="end">1647</text><text x="374.0" y="778.2" font-family="Liberation Sans" font-size="6.60" fill="#333" text-anchor="end">1642.49</text><text x="374.0" y="798.8" font-family="Liberation Sans" font-size="6.60" fill="#333" text-anchor="end">1637.98</text><text x="374.0" y="819.5" font-family="Liberation Sans" font-size="6.60" fill="#333" text-anchor="end">1633.47</text><text x="374.0" y="840.1" font-family="Liberation Sans" font-size="6.60" fill="#333" text-anchor="end">1628.96</text><text x="374.0" y="860.7" font-family="Liberation Sans" font-size="6.60" fill="#333" text-anchor="end">1624.45</text><text x="374.0" y="881.3" font-family="Liberation Sans" font-size="6.60" fill="#333" text-anchor="end">1619.94</text><text x="383.6" y="890.0" font-family="Liberation Sans" font-size="5.60" fill="#333" text-anchor="middle">77</text><text x="415.6" y="890.0" font-family="Liberation Sans" font-size="5.60" fill="#333" text-anchor="middle">78.4</text><text x="447.6" y="890.0" font-family="Liberation Sans" font-size="5.60" fill="#333" text-anchor="middle">79.8</text><text x="479.6" y="890.0" font-family="Liberation Sans" font-size="5.60" fill="#333" text-anchor="middle">81.2</text><text x="511.5" y="890.0" font-family="Liberation Sans" font-size="5.60" fill="#333" text-anchor="middle">82.6</text><text x="543.5" y="890.0" font-family="Liberation Sans" font-size="5.60" fill="#333" text-anchor="middle">84</text><text x="575.5" y="890.0" font-family="Liberation Sans" font-size="5.60" fill="#333" text-anchor="middle">85.4</text><text x="607.5" y="890.0" font-family="Liberation Sans" font-size="5.60" fill="#333" text-anchor="middle">86.8</text><text transform="translate(344.0,832.5) rotate(-90)" font-family="Liberation Sans" font-size="7.60" fill="#333" font-weight="bold" textLength="70.0" lengthAdjust="spacingAndGlyphs">Acid density (Kg/m3)</text><text x="438.0" y="913.5" font-family="Liberation Sans" font-size="8.00" fill="#222" stroke="#222" stroke-width="0.12" textLength="105.0" lengthAdjust="spacingAndGlyphs">Acid outlet temperature(°C)</text><text x="28.7" y="461.9" font-family="Liberation Serif" font-size="8.60" fill="#111" font-weight="bold">(a)</text><text x="42.4" y="461.9" font-family="Liberation Serif" font-size="8.60" fill="#111" textLength="263.6" lengthAdjust="spacingAndGlyphs">Interactive effects between acid inlet and outlet temperatures (°C) on fouling</text><text x="42.0" y="473.5" font-family="Liberation Serif" font-size="8.60" fill="#111" textLength="223.0" lengthAdjust="spacingAndGlyphs">resistance for RSM response surface (3D) and contour (2- D) plots.</text><text x="340.5" y="465.7" font-family="Liberation Serif" font-size="8.50" fill="#111" font-weight="bold">(b)</text><text x="354.6" y="465.7" font-family="Liberation Serif" font-size="8.50" fill="#111" textLength="286.4" lengthAdjust="spacingAndGlyphs">Interactive effects between acid inlet temperature (°C) and acid density (Kg/m<tspan font-size="5" dy="-3">3</tspan><tspan dy="3">) on</tspan></text><text x="350.9" y="477.6" font-family="Liberation Serif" font-size="8.50" fill="#111" textLength="257.3" lengthAdjust="spacingAndGlyphs">fouling resistance for RSM response surface (3D) and contour (2- D) plots.</text><text x="18.6" y="931.4" font-family="Liberation Serif" font-size="8.30" fill="#111" font-weight="bold">(c)</text><text x="31.8" y="931.4" font-family="Liberation Serif" font-size="8.30" fill="#111" textLength="270.6" lengthAdjust="spacingAndGlyphs">Interactive effects between acid inlet temperature (°C) and acid volume flow rate</text><text x="7.5" y="942.6" font-family="Liberation Serif" font-size="8.30" fill="#111" textLength="284.2" lengthAdjust="spacingAndGlyphs">(m<tspan font-size="5" dy="-3">3</tspan><tspan dy="3">/h) on fouling resistance for RSM response surface (3D) and contour (2- D) plots.</tspan></text><text x="342.4" y="932.1" font-family="Liberation Serif" font-size="8.30" fill="#111" font-weight="bold">(d)</text><text x="356.8" y="932.1" font-family="Liberation Serif" font-size="8.30" fill="#111" textLength="271.8" lengthAdjust="spacingAndGlyphs">Interactive effects between acid outlet temperature (°C) and acid density (Kg/m<tspan font-size="5" dy="-3">3</tspan><tspan dy="3">)</tspan></text><text x="345.4" y="942.8" font-family="Liberation Serif" font-size="8.30" fill="#111" textLength="260.3" lengthAdjust="spacingAndGlyphs">on fouling resistance for RSM response surface (3D) and contour (2- D) plots.</text></svg></body></html>
